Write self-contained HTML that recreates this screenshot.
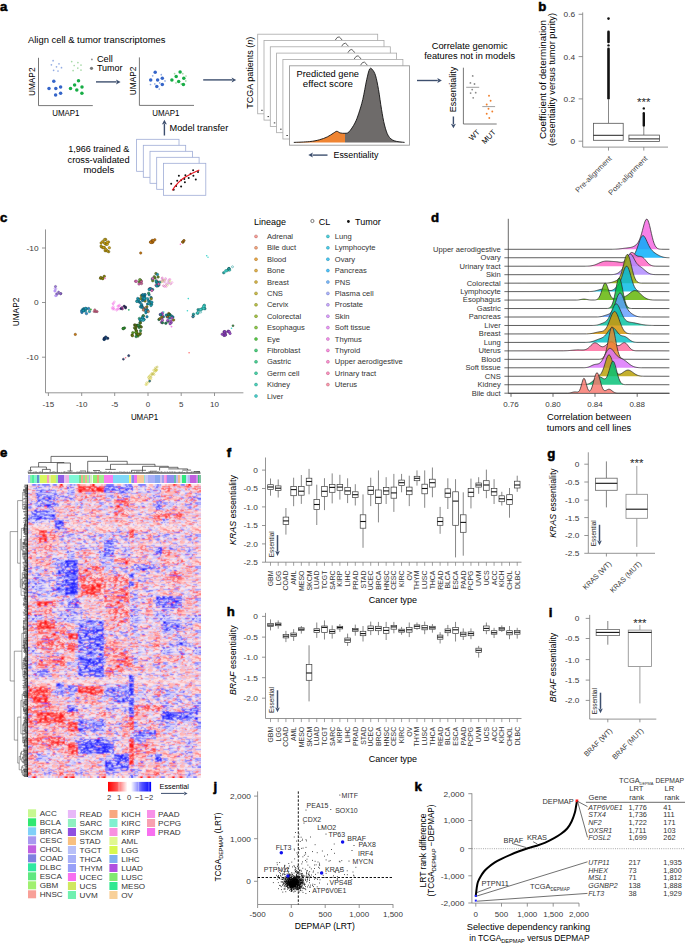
<!DOCTYPE html>
<html><head><meta charset="utf-8"><style>
html,body{margin:0;padding:0;background:#fff;}
svg{display:block;}
text{font-family:"Liberation Sans",sans-serif;}
</style></head><body>
<svg width="685" height="946" viewBox="0 0 685 946">
<rect x="0" y="0" width="685" height="946" fill="#fff"/>
<text x="0.00" y="11.40" font-size="13.2" font-weight="bold" fill="#000" stroke="#000" stroke-width="0.55">a</text>
<text x="28.00" y="43.30" font-size="8.4" textLength="137.40" lengthAdjust="spacingAndGlyphs">Align cell &amp; tumor transcriptomes</text>
<path d="M38.5,57.8 V105.6 H92.8" stroke="#555" stroke-width="0.8" fill="none"/>
<text x="34.60" y="81.80" font-size="8.4" text-anchor="middle" textLength="28.60" lengthAdjust="spacingAndGlyphs" transform="rotate(-90 34.60 81.80)">UMAP2</text>
<text x="65.80" y="115.60" font-size="8.4" text-anchor="middle" textLength="27.20" lengthAdjust="spacingAndGlyphs">UMAP1</text>
<circle cx="53.10" cy="60.70" r="0.85" fill="#93ace3"/>
<circle cx="59.00" cy="63.80" r="0.85" fill="#93ace3"/>
<circle cx="51.40" cy="64.80" r="0.85" fill="#93ace3"/>
<circle cx="56.50" cy="66.80" r="0.85" fill="#93ace3"/>
<circle cx="61.50" cy="67.70" r="0.85" fill="#93ace3"/>
<circle cx="53.60" cy="70.30" r="0.85" fill="#93ace3"/>
<circle cx="58.00" cy="71.00" r="0.85" fill="#93ace3"/>
<circle cx="71.70" cy="61.60" r="0.85" fill="#a6d9a6"/>
<circle cx="77.90" cy="62.60" r="0.85" fill="#a6d9a6"/>
<circle cx="81.00" cy="65.10" r="0.85" fill="#a6d9a6"/>
<circle cx="74.20" cy="65.50" r="0.85" fill="#a6d9a6"/>
<circle cx="77.80" cy="68.10" r="0.85" fill="#a6d9a6"/>
<circle cx="81.00" cy="70.10" r="0.85" fill="#a6d9a6"/>
<circle cx="73.10" cy="70.60" r="0.85" fill="#a6d9a6"/>
<circle cx="53.80" cy="81.30" r="1.75" fill="#3565c9"/>
<circle cx="49.00" cy="88.50" r="1.75" fill="#3565c9"/>
<circle cx="55.80" cy="88.50" r="1.75" fill="#3565c9"/>
<circle cx="60.60" cy="87.00" r="1.75" fill="#3565c9"/>
<circle cx="55.60" cy="94.90" r="1.75" fill="#3565c9"/>
<circle cx="60.60" cy="93.30" r="1.75" fill="#3565c9"/>
<circle cx="78.50" cy="80.80" r="1.75" fill="#17ad45"/>
<circle cx="74.60" cy="85.00" r="1.75" fill="#17ad45"/>
<circle cx="70.50" cy="88.50" r="1.75" fill="#17ad45"/>
<circle cx="76.80" cy="90.00" r="1.75" fill="#17ad45"/>
<circle cx="82.00" cy="87.00" r="1.75" fill="#17ad45"/>
<circle cx="81.90" cy="93.30" r="1.75" fill="#17ad45"/>
<circle cx="91.90" cy="59.40" r="0.85" fill="#888"/>
<circle cx="91.50" cy="68.30" r="1.6" fill="#777"/>
<text x="96.90" y="62.40" font-size="8.4" textLength="15.90" lengthAdjust="spacingAndGlyphs">Cell</text>
<text x="96.90" y="71.30" font-size="8.4" textLength="25.60" lengthAdjust="spacingAndGlyphs">Tumor</text>
<line x1="96.00" y1="81.90" x2="116.50" y2="81.90" stroke="#3d4f6e" stroke-width="1.4"/>
<path d="M120.60,81.90 L116.00,84.40 L117.00,81.90 L116.00,79.40 Z" stroke="none" stroke-width="0.8" fill="#3d4f6e"/>
<path d="M139.4,57.4 V105.4 H194" stroke="#555" stroke-width="0.8" fill="none"/>
<text x="135.80" y="80.90" font-size="8.4" text-anchor="middle" textLength="28.60" lengthAdjust="spacingAndGlyphs" transform="rotate(-90 135.80 80.90)">UMAP2</text>
<text x="165.80" y="115.60" font-size="8.4" text-anchor="middle" textLength="27.20" lengthAdjust="spacingAndGlyphs">UMAP1</text>
<circle cx="152.70" cy="75.80" r="0.85" fill="#93ace3"/>
<circle cx="159.70" cy="82.90" r="0.85" fill="#93ace3"/>
<circle cx="154.80" cy="83.90" r="0.85" fill="#93ace3"/>
<circle cx="165.00" cy="80.90" r="0.85" fill="#93ace3"/>
<circle cx="159.30" cy="89.00" r="0.85" fill="#93ace3"/>
<circle cx="161.30" cy="74.70" r="0.85" fill="#93ace3"/>
<circle cx="150.50" cy="84.50" r="0.85" fill="#93ace3"/>
<circle cx="174.60" cy="73.70" r="0.85" fill="#a6d9a6"/>
<circle cx="181.30" cy="83.90" r="0.85" fill="#a6d9a6"/>
<circle cx="185.80" cy="80.90" r="0.85" fill="#a6d9a6"/>
<circle cx="176.00" cy="82.90" r="0.85" fill="#a6d9a6"/>
<circle cx="182.80" cy="73.70" r="0.85" fill="#a6d9a6"/>
<circle cx="186.00" cy="76.00" r="0.85" fill="#a6d9a6"/>
<circle cx="155.20" cy="72.30" r="1.75" fill="#3565c9"/>
<circle cx="150.70" cy="79.90" r="1.75" fill="#3565c9"/>
<circle cx="157.60" cy="79.90" r="1.75" fill="#3565c9"/>
<circle cx="162.30" cy="78.20" r="1.75" fill="#3565c9"/>
<circle cx="156.80" cy="86.60" r="1.75" fill="#3565c9"/>
<circle cx="162.30" cy="84.60" r="1.75" fill="#3565c9"/>
<circle cx="180.10" cy="72.10" r="1.75" fill="#17ad45"/>
<circle cx="176.20" cy="76.40" r="1.75" fill="#17ad45"/>
<circle cx="171.90" cy="79.90" r="1.75" fill="#17ad45"/>
<circle cx="178.70" cy="81.50" r="1.75" fill="#17ad45"/>
<circle cx="183.80" cy="78.20" r="1.75" fill="#17ad45"/>
<circle cx="183.40" cy="84.60" r="1.75" fill="#17ad45"/>
<line x1="203.20" y1="79.90" x2="232.10" y2="79.90" stroke="#3d4f6e" stroke-width="1.4"/>
<path d="M236.20,79.90 L231.60,82.40 L232.60,79.90 L231.60,77.40 Z" stroke="none" stroke-width="0.8" fill="#3d4f6e"/>
<line x1="164.40" y1="135.50" x2="164.40" y2="123.90" stroke="#3d4f6e" stroke-width="1.4"/>
<path d="M164.40,119.80 L166.90,124.40 L164.40,123.40 L161.90,124.40 Z" stroke="none" stroke-width="0.8" fill="#3d4f6e"/>
<text x="169.50" y="131.40" font-size="8.4" textLength="58.80" lengthAdjust="spacingAndGlyphs">Model transfer</text>
<rect x="136.60" y="139.30" width="42.40" height="32.00" fill="#fff" stroke="#9eacd6" stroke-width="0.8"/>
<rect x="143.30" y="145.30" width="42.40" height="32.00" fill="#fff" stroke="#9eacd6" stroke-width="0.8"/>
<rect x="150.00" y="151.30" width="42.40" height="32.00" fill="#fff" stroke="#9eacd6" stroke-width="0.8"/>
<rect x="156.70" y="157.30" width="42.40" height="32.00" fill="#fff" stroke="#9eacd6" stroke-width="0.8"/>
<rect x="163.40" y="163.30" width="42.40" height="32.00" fill="#fff" stroke="#9eacd6" stroke-width="0.8"/>
<circle cx="193.10" cy="170.30" r="1.0" fill="#111"/>
<circle cx="198.00" cy="172.00" r="1.0" fill="#111"/>
<circle cx="178.90" cy="175.80" r="1.0" fill="#111"/>
<circle cx="185.40" cy="175.30" r="1.0" fill="#111"/>
<circle cx="190.60" cy="173.80" r="1.0" fill="#111"/>
<circle cx="193.40" cy="175.80" r="1.0" fill="#111"/>
<circle cx="188.70" cy="178.00" r="1.0" fill="#111"/>
<circle cx="184.30" cy="179.10" r="1.0" fill="#111"/>
<circle cx="177.20" cy="180.70" r="1.0" fill="#111"/>
<circle cx="181.10" cy="180.20" r="1.0" fill="#111"/>
<circle cx="184.90" cy="182.20" r="1.0" fill="#111"/>
<circle cx="195.80" cy="179.60" r="1.0" fill="#111"/>
<circle cx="171.20" cy="183.70" r="1.0" fill="#111"/>
<circle cx="176.10" cy="185.90" r="1.0" fill="#111"/>
<circle cx="181.10" cy="186.50" r="1.0" fill="#111"/>
<circle cx="173.70" cy="189.80" r="1.0" fill="#111"/>
<path d="M172.3,190.3 Q178,181.5 184.5,177.5 T199.3,170" stroke="#e8141c" stroke-width="1.2" fill="none"/>
<text x="98.80" y="152.20" font-size="8.4" text-anchor="middle" textLength="61.20" lengthAdjust="spacingAndGlyphs">1,966 trained &amp;</text>
<text x="98.60" y="162.70" font-size="8.4" text-anchor="middle" textLength="62.10" lengthAdjust="spacingAndGlyphs">cross-validated</text>
<text x="98.80" y="173.20" font-size="8.4" text-anchor="middle" textLength="30.80" lengthAdjust="spacingAndGlyphs">models</text>
<rect x="257.70" y="34.20" width="120.00" height="79.60" fill="#fff" stroke="#a8a8a8" stroke-width="0.8"/>
<path d="M335.2,40.2 Q337.2,36.4 339.2,36.9 Q340.7,37.9 342.2,40.2" stroke="#222" stroke-width="0.7" fill="none"/>
<line x1="261.20" y1="110.30" x2="262.70" y2="110.30" stroke="#222" stroke-width="0.9"/>
<rect x="264.00" y="40.50" width="120.00" height="79.60" fill="#fff" stroke="#a8a8a8" stroke-width="0.8"/>
<path d="M341.5,46.5 Q343.5,42.7 345.5,43.2 Q347.0,44.2 348.5,46.5" stroke="#222" stroke-width="0.7" fill="none"/>
<line x1="267.50" y1="116.60" x2="269.00" y2="116.60" stroke="#222" stroke-width="0.9"/>
<rect x="270.30" y="46.80" width="120.00" height="79.60" fill="#fff" stroke="#a8a8a8" stroke-width="0.8"/>
<path d="M347.8,52.8 Q349.8,49.0 351.8,49.5 Q353.3,50.5 354.8,52.8" stroke="#222" stroke-width="0.7" fill="none"/>
<line x1="273.80" y1="122.90" x2="275.30" y2="122.90" stroke="#222" stroke-width="0.9"/>
<rect x="276.60" y="53.10" width="120.00" height="79.60" fill="#fff" stroke="#a8a8a8" stroke-width="0.8"/>
<path d="M354.1,59.1 Q356.1,55.3 358.1,55.8 Q359.6,56.8 361.1,59.1" stroke="#222" stroke-width="0.7" fill="none"/>
<line x1="280.10" y1="129.20" x2="281.60" y2="129.20" stroke="#222" stroke-width="0.9"/>
<rect x="282.90" y="59.40" width="120.00" height="79.60" fill="#fff" stroke="#a8a8a8" stroke-width="0.8"/>
<path d="M360.4,65.4 Q362.4,61.6 364.4,62.1 Q365.9,63.1 367.4,65.4" stroke="#222" stroke-width="0.7" fill="none"/>
<line x1="286.40" y1="135.50" x2="287.90" y2="135.50" stroke="#222" stroke-width="0.9"/>
<rect x="289.50" y="65.80" width="120.00" height="79.40" fill="#fff" stroke="#9a9a9a" stroke-width="0.9"/>
<clipPath id="clipL"><rect x="280" y="60" width="65" height="90"/></clipPath>
<clipPath id="clipR"><rect x="345" y="60" width="70" height="90"/></clipPath>
<path d="M293.80,142.40 C296.43,142.27 305.33,142.03 309.60,141.60 C313.87,141.17 316.45,140.58 319.40,139.80 C322.35,139.02 325.00,137.98 327.30,136.90 C329.60,135.82 331.62,134.23 333.20,133.30 C334.78,132.37 335.65,131.37 336.80,131.30 C337.95,131.23 338.73,132.57 340.10,132.90 C341.47,133.23 343.52,133.47 345.00,133.30 C346.48,133.13 347.35,133.60 349.00,131.90 C350.65,130.20 353.27,126.22 354.90,123.10 C356.53,119.98 357.48,117.15 358.80,113.20 C360.12,109.25 361.48,104.98 362.80,99.40 C364.12,93.82 365.55,84.78 366.70,79.70 C367.85,74.62 368.72,70.53 369.70,68.90 C370.68,67.27 371.62,68.75 372.60,69.90 C373.58,71.05 374.62,72.52 375.60,75.80 C376.58,79.08 377.52,84.02 378.50,89.60 C379.48,95.18 380.50,103.40 381.50,109.30 C382.50,115.20 383.35,120.57 384.50,125.00 C385.65,129.43 386.77,133.27 388.40,135.90 C390.03,138.53 391.60,139.72 394.30,140.80 C397.00,141.88 402.88,142.13 404.60,142.40 L404.6,142.6 L293.8,142.6 Z" stroke="none" stroke-width="0.8" fill="#ef8432" clip-path="url(#clipL)"/>
<path d="M293.80,142.40 C296.43,142.27 305.33,142.03 309.60,141.60 C313.87,141.17 316.45,140.58 319.40,139.80 C322.35,139.02 325.00,137.98 327.30,136.90 C329.60,135.82 331.62,134.23 333.20,133.30 C334.78,132.37 335.65,131.37 336.80,131.30 C337.95,131.23 338.73,132.57 340.10,132.90 C341.47,133.23 343.52,133.47 345.00,133.30 C346.48,133.13 347.35,133.60 349.00,131.90 C350.65,130.20 353.27,126.22 354.90,123.10 C356.53,119.98 357.48,117.15 358.80,113.20 C360.12,109.25 361.48,104.98 362.80,99.40 C364.12,93.82 365.55,84.78 366.70,79.70 C367.85,74.62 368.72,70.53 369.70,68.90 C370.68,67.27 371.62,68.75 372.60,69.90 C373.58,71.05 374.62,72.52 375.60,75.80 C376.58,79.08 377.52,84.02 378.50,89.60 C379.48,95.18 380.50,103.40 381.50,109.30 C382.50,115.20 383.35,120.57 384.50,125.00 C385.65,129.43 386.77,133.27 388.40,135.90 C390.03,138.53 391.60,139.72 394.30,140.80 C397.00,141.88 402.88,142.13 404.60,142.40 L404.6,142.6 L293.8,142.6 Z" stroke="none" stroke-width="0.8" fill="#6e6b6a" clip-path="url(#clipR)"/>
<path d="M293.80,142.40 C296.43,142.27 305.33,142.03 309.60,141.60 C313.87,141.17 316.45,140.58 319.40,139.80 C322.35,139.02 325.00,137.98 327.30,136.90 C329.60,135.82 331.62,134.23 333.20,133.30 C334.78,132.37 335.65,131.37 336.80,131.30 C337.95,131.23 338.73,132.57 340.10,132.90 C341.47,133.23 343.52,133.47 345.00,133.30 C346.48,133.13 347.35,133.60 349.00,131.90 C350.65,130.20 353.27,126.22 354.90,123.10 C356.53,119.98 357.48,117.15 358.80,113.20 C360.12,109.25 361.48,104.98 362.80,99.40 C364.12,93.82 365.55,84.78 366.70,79.70 C367.85,74.62 368.72,70.53 369.70,68.90 C370.68,67.27 371.62,68.75 372.60,69.90 C373.58,71.05 374.62,72.52 375.60,75.80 C376.58,79.08 377.52,84.02 378.50,89.60 C379.48,95.18 380.50,103.40 381.50,109.30 C382.50,115.20 383.35,120.57 384.50,125.00 C385.65,129.43 386.77,133.27 388.40,135.90 C390.03,138.53 391.60,139.72 394.30,140.80 C397.00,141.88 402.88,142.13 404.60,142.40" stroke="#111" stroke-width="0.9" fill="none"/>
<text x="327.80" y="76.90" font-size="8.4" text-anchor="middle" textLength="62.40" lengthAdjust="spacingAndGlyphs">Predicted gene</text>
<text x="327.80" y="87.40" font-size="8.4" text-anchor="middle" textLength="50.00" lengthAdjust="spacingAndGlyphs">effect score</text>
<text x="252.80" y="72.70" font-size="8.4" text-anchor="middle" textLength="72.00" lengthAdjust="spacingAndGlyphs" transform="rotate(-90 252.80 72.70)">TCGA patients (<tspan font-style="italic">n</tspan>)</text>
<line x1="327.50" y1="155.10" x2="312.40" y2="155.10" stroke="#3d4f6e" stroke-width="1.4"/>
<path d="M308.30,155.10 L312.90,152.60 L311.90,155.10 L312.90,157.60 Z" stroke="none" stroke-width="0.8" fill="#3d4f6e"/>
<text x="333.50" y="157.90" font-size="8.4" textLength="44.90" lengthAdjust="spacingAndGlyphs">Essentiality</text>
<line x1="417.00" y1="80.50" x2="437.80" y2="80.50" stroke="#3d4f6e" stroke-width="1.4"/>
<path d="M441.90,80.50 L437.30,83.00 L438.30,80.50 L437.30,78.00 Z" stroke="none" stroke-width="0.8" fill="#3d4f6e"/>
<text x="469.70" y="48.70" font-size="8.4" text-anchor="middle" textLength="76.00" lengthAdjust="spacingAndGlyphs">Correlate genomic</text>
<text x="469.70" y="58.90" font-size="8.4" text-anchor="middle" textLength="91.00" lengthAdjust="spacingAndGlyphs">features not in models</text>
<path d="M463.4,67.7 V124 H496.7" stroke="#555" stroke-width="0.8" fill="none"/>
<text x="456.20" y="89.60" font-size="8.4" text-anchor="middle" textLength="45.50" lengthAdjust="spacingAndGlyphs" transform="rotate(-90 456.20 89.60)">Essentiality</text>
<line x1="453.40" y1="116.50" x2="453.40" y2="124.20" stroke="#3d4f6e" stroke-width="1.4"/>
<path d="M453.40,128.30 L450.90,123.70 L453.40,124.70 L455.90,123.70 Z" stroke="none" stroke-width="0.8" fill="#3d4f6e"/>
<circle cx="472.70" cy="75.90" r="0.9" fill="#8a8a8a"/>
<circle cx="470.40" cy="82.90" r="0.9" fill="#8a8a8a"/>
<circle cx="474.50" cy="84.00" r="0.9" fill="#8a8a8a"/>
<circle cx="472.20" cy="89.60" r="0.9" fill="#8a8a8a"/>
<circle cx="475.70" cy="92.70" r="0.9" fill="#8a8a8a"/>
<circle cx="470.60" cy="93.10" r="0.9" fill="#8a8a8a"/>
<circle cx="473.20" cy="97.80" r="0.9" fill="#8a8a8a"/>
<line x1="466.20" y1="87.30" x2="479.20" y2="87.30" stroke="#777" stroke-width="0.7"/>
<circle cx="489.00" cy="95.70" r="0.95" fill="#f07f2c"/>
<circle cx="490.60" cy="100.80" r="0.95" fill="#f07f2c"/>
<circle cx="486.70" cy="104.50" r="0.95" fill="#f07f2c"/>
<circle cx="488.50" cy="108.80" r="0.95" fill="#f07f2c"/>
<circle cx="492.30" cy="111.50" r="0.95" fill="#f07f2c"/>
<circle cx="486.70" cy="113.70" r="0.95" fill="#f07f2c"/>
<circle cx="489.30" cy="118.00" r="0.95" fill="#f07f2c"/>
<line x1="482.30" y1="106.60" x2="495.10" y2="106.60" stroke="#777" stroke-width="0.7"/>
<text x="480.30" y="132.60" font-size="7.6" text-anchor="end" transform="rotate(-45 480.30 132.60)">WT</text>
<text x="496.30" y="132.80" font-size="7.6" text-anchor="end" transform="rotate(-45 496.30 132.80)">MUT</text>
<text x="538.30" y="11.30" font-size="13.2" font-weight="bold" fill="#000" stroke="#000" stroke-width="0.55">b</text>
<path d="M582.7,12.4 V147.1 H668" stroke="#7a7a7a" stroke-width="0.8" fill="none"/>
<line x1="578.60" y1="14.30" x2="582.70" y2="14.30" stroke="#7a7a7a" stroke-width="0.8"/>
<text x="575.20" y="17.20" font-size="8.0" text-anchor="end" fill="#383838" textLength="11.57" lengthAdjust="spacingAndGlyphs">0.6</text>
<line x1="578.60" y1="56.60" x2="582.70" y2="56.60" stroke="#7a7a7a" stroke-width="0.8"/>
<text x="575.20" y="59.50" font-size="8.0" text-anchor="end" fill="#383838" textLength="11.57" lengthAdjust="spacingAndGlyphs">0.4</text>
<line x1="578.60" y1="98.90" x2="582.70" y2="98.90" stroke="#7a7a7a" stroke-width="0.8"/>
<text x="575.20" y="101.80" font-size="8.0" text-anchor="end" fill="#383838" textLength="11.57" lengthAdjust="spacingAndGlyphs">0.2</text>
<line x1="578.60" y1="141.20" x2="582.70" y2="141.20" stroke="#7a7a7a" stroke-width="0.8"/>
<text x="575.20" y="144.10" font-size="8.0" text-anchor="end" fill="#383838" textLength="4.63" lengthAdjust="spacingAndGlyphs">0</text>
<line x1="608.50" y1="147.10" x2="608.50" y2="150.60" stroke="#7a7a7a" stroke-width="0.8"/>
<line x1="643.80" y1="147.10" x2="643.80" y2="150.60" stroke="#7a7a7a" stroke-width="0.8"/>
<line x1="608.50" y1="123.30" x2="608.50" y2="99.60" stroke="#555" stroke-width="0.7"/>
<rect x="593.40" y="123.30" width="29.80" height="17.00" fill="#fff" stroke="#555" stroke-width="0.8"/>
<line x1="593.40" y1="135.30" x2="623.20" y2="135.30" stroke="#222" stroke-width="1.0"/>
<rect x="607.20" y="47.60" width="2.60" height="52.00" fill="#111" rx="1.3"/>
<rect x="607.20" y="30.60" width="2.60" height="12.60" fill="#111" rx="1.3"/>
<circle cx="608.50" cy="45.40" r="1.2" fill="#111"/>
<circle cx="608.50" cy="18.60" r="1.3" fill="#111"/>
<line x1="643.80" y1="135.10" x2="643.80" y2="126.70" stroke="#555" stroke-width="0.7"/>
<rect x="628.90" y="135.10" width="30.50" height="6.30" fill="#fff" stroke="#555" stroke-width="0.8"/>
<line x1="628.90" y1="138.90" x2="659.40" y2="138.90" stroke="#222" stroke-width="1.0"/>
<rect x="642.60" y="112.00" width="2.40" height="14.70" fill="#111" rx="1.2"/>
<circle cx="643.80" cy="108.40" r="1.2" fill="#111"/>
<text x="643.80" y="105.80" font-size="11.0" text-anchor="middle" fill="#222" textLength="13.40" lengthAdjust="spacingAndGlyphs">***</text>
<text x="546.40" y="79.50" font-size="8.4" text-anchor="middle" textLength="119.00" lengthAdjust="spacingAndGlyphs" transform="rotate(-90 546.40 79.50)">Coefficient of determination</text>
<text x="555.40" y="79.50" font-size="8.4" text-anchor="middle" textLength="133.00" lengthAdjust="spacingAndGlyphs" transform="rotate(-90 555.40 79.50)">(essentiality versus tumor purity)</text>
<text x="612.20" y="159.00" font-size="7.4" text-anchor="end" fill="#444" textLength="48.00" lengthAdjust="spacingAndGlyphs" transform="rotate(-45 612.20 159.00)">Pre-alignment</text>
<text x="648.10" y="159.00" font-size="7.4" text-anchor="end" fill="#444" textLength="52.00" lengthAdjust="spacingAndGlyphs" transform="rotate(-45 648.10 159.00)">Post-alignment</text>
<text x="0.00" y="221.80" font-size="13.2" font-weight="bold" fill="#000" stroke="#000" stroke-width="0.55">c</text>
<path d="M45.5,229.4 V392.8 H243.4" stroke="#7a7a7a" stroke-width="0.8" fill="none"/>
<line x1="42.00" y1="248.00" x2="45.50" y2="248.00" stroke="#7a7a7a" stroke-width="0.8"/>
<text x="38.60" y="250.90" font-size="8.0" text-anchor="end" fill="#383838" textLength="12.03" lengthAdjust="spacingAndGlyphs">-10</text>
<line x1="42.00" y1="302.50" x2="45.50" y2="302.50" stroke="#7a7a7a" stroke-width="0.8"/>
<text x="38.60" y="305.40" font-size="8.0" text-anchor="end" fill="#383838" textLength="4.63" lengthAdjust="spacingAndGlyphs">0</text>
<line x1="42.00" y1="357.20" x2="45.50" y2="357.20" stroke="#7a7a7a" stroke-width="0.8"/>
<text x="38.60" y="360.10" font-size="8.0" text-anchor="end" fill="#383838" textLength="12.03" lengthAdjust="spacingAndGlyphs">-10</text>
<line x1="48.40" y1="392.80" x2="48.40" y2="396.00" stroke="#7a7a7a" stroke-width="0.8"/>
<text x="48.40" y="406.90" font-size="8.0" text-anchor="middle" fill="#383838">-15</text>
<line x1="81.70" y1="392.80" x2="81.70" y2="396.00" stroke="#7a7a7a" stroke-width="0.8"/>
<text x="81.70" y="406.90" font-size="8.0" text-anchor="middle" fill="#383838">-10</text>
<line x1="114.70" y1="392.80" x2="114.70" y2="396.00" stroke="#7a7a7a" stroke-width="0.8"/>
<text x="114.70" y="406.90" font-size="8.0" text-anchor="middle" fill="#383838">-5</text>
<line x1="148.00" y1="392.80" x2="148.00" y2="396.00" stroke="#7a7a7a" stroke-width="0.8"/>
<text x="148.00" y="406.90" font-size="8.0" text-anchor="middle" fill="#383838">0</text>
<line x1="181.20" y1="392.80" x2="181.20" y2="396.00" stroke="#7a7a7a" stroke-width="0.8"/>
<text x="181.20" y="406.90" font-size="8.0" text-anchor="middle" fill="#383838">5</text>
<line x1="214.50" y1="392.80" x2="214.50" y2="396.00" stroke="#7a7a7a" stroke-width="0.8"/>
<text x="214.50" y="406.90" font-size="8.0" text-anchor="middle" fill="#383838">10</text>
<text x="144.50" y="419.60" font-size="8.4" text-anchor="middle" textLength="27.20" lengthAdjust="spacingAndGlyphs">UMAP1</text>
<text x="19.30" y="312.00" font-size="8.4" text-anchor="middle" textLength="28.60" lengthAdjust="spacingAndGlyphs" transform="rotate(-90 19.30 312.00)">UMAP2</text>
<circle cx="102.80" cy="241.40" r="1.25" fill="#c49c10" stroke="#584607" stroke-width="0.4"/>
<circle cx="105.66" cy="239.46" r="1.25" fill="#b89a18" stroke="#52450a" stroke-width="0.4"/>
<circle cx="105.65" cy="243.84" r="1.25" fill="#d0a818" stroke="#5d4b0a" stroke-width="0.4"/>
<circle cx="101.56" cy="247.05" r="1.25" fill="#c49c10" stroke="#584607" stroke-width="0.4"/>
<circle cx="101.09" cy="246.07" r="1.25" fill="#b89a18" stroke="#52450a" stroke-width="0.4"/>
<circle cx="106.29" cy="250.54" r="1.25" fill="#d0a818" stroke="#5d4b0a" stroke-width="0.4"/>
<circle cx="101.13" cy="242.92" r="1.25" fill="#c49c10" stroke="#584607" stroke-width="0.4"/>
<circle cx="108.70" cy="251.70" r="1.25" fill="#b89a18" stroke="#52450a" stroke-width="0.4"/>
<circle cx="106.16" cy="244.16" r="1.25" fill="#d0a818" stroke="#5d4b0a" stroke-width="0.4"/>
<circle cx="108.48" cy="241.95" r="1.25" fill="#c49c10" stroke="#584607" stroke-width="0.4"/>
<circle cx="105.13" cy="250.69" r="1.25" fill="#b89a18" stroke="#52450a" stroke-width="0.4"/>
<circle cx="103.02" cy="247.76" r="1.25" fill="#d0a818" stroke="#5d4b0a" stroke-width="0.4"/>
<circle cx="106.67" cy="243.67" r="1.25" fill="#c49c10" stroke="#584607" stroke-width="0.4"/>
<circle cx="104.63" cy="239.60" r="1.25" fill="#b89a18" stroke="#52450a" stroke-width="0.4"/>
<circle cx="107.27" cy="244.33" r="1.25" fill="#d0a818" stroke="#5d4b0a" stroke-width="0.4"/>
<circle cx="104.32" cy="247.47" r="1.25" fill="#c49c10" stroke="#584607" stroke-width="0.4"/>
<circle cx="104.60" cy="243.14" r="1.25" fill="#b89a18" stroke="#52450a" stroke-width="0.4"/>
<circle cx="109.39" cy="247.81" r="1.25" fill="#d0a818" stroke="#5d4b0a" stroke-width="0.4"/>
<circle cx="103.61" cy="247.50" r="1.25" fill="#c49c10" stroke="#584607" stroke-width="0.4"/>
<circle cx="107.44" cy="250.95" r="1.25" fill="#b89a18" stroke="#52450a" stroke-width="0.4"/>
<circle cx="107.23" cy="242.26" r="1.25" fill="#d0a818" stroke="#5d4b0a" stroke-width="0.4"/>
<circle cx="105.97" cy="249.59" r="1.25" fill="#c49c10" stroke="#584607" stroke-width="0.4"/>
<circle cx="152.21" cy="240.40" r="1.25" fill="#c97a10" stroke="#5a3607" stroke-width="0.4"/>
<circle cx="150.74" cy="241.89" r="1.25" fill="#c97a10" stroke="#5a3607" stroke-width="0.4"/>
<circle cx="152.80" cy="242.06" r="1.25" fill="#c97a10" stroke="#5a3607" stroke-width="0.4"/>
<circle cx="154.82" cy="239.82" r="1.25" fill="#c97a10" stroke="#5a3607" stroke-width="0.4"/>
<circle cx="152.52" cy="242.16" r="1.25" fill="#c97a10" stroke="#5a3607" stroke-width="0.4"/>
<circle cx="153.26" cy="240.71" r="1.25" fill="#c97a10" stroke="#5a3607" stroke-width="0.4"/>
<circle cx="151.60" cy="242.48" r="1.25" fill="#c97a10" stroke="#5a3607" stroke-width="0.4"/>
<circle cx="150.55" cy="242.23" r="1.25" fill="#c97a10" stroke="#5a3607" stroke-width="0.4"/>
<circle cx="140.70" cy="253.00" r="1.2" fill="#c97a10" stroke="#5a3607" stroke-width="0.4"/>
<circle cx="104.27" cy="276.36" r="1.25" fill="#8a8410" stroke="#3e3b07" stroke-width="0.4"/>
<circle cx="102.50" cy="278.15" r="1.25" fill="#8a8410" stroke="#3e3b07" stroke-width="0.4"/>
<circle cx="100.53" cy="278.25" r="1.25" fill="#8a8410" stroke="#3e3b07" stroke-width="0.4"/>
<circle cx="100.85" cy="277.50" r="1.25" fill="#8a8410" stroke="#3e3b07" stroke-width="0.4"/>
<circle cx="102.72" cy="278.67" r="1.25" fill="#8a8410" stroke="#3e3b07" stroke-width="0.4"/>
<circle cx="105.00" cy="278.40" r="0.8" fill="#f070c0"/>
<circle cx="54.63" cy="290.94" r="0.8800000000000001" fill="none" stroke="#a880f0" stroke-width="0.55"/>
<circle cx="55.94" cy="295.72" r="0.8800000000000001" fill="none" stroke="#a880f0" stroke-width="0.55"/>
<circle cx="56.69" cy="295.50" r="0.8800000000000001" fill="none" stroke="#a880f0" stroke-width="0.55"/>
<circle cx="55.18" cy="290.57" r="0.8800000000000001" fill="none" stroke="#a880f0" stroke-width="0.55"/>
<circle cx="55.40" cy="295.73" r="0.8800000000000001" fill="none" stroke="#a880f0" stroke-width="0.55"/>
<circle cx="54.89" cy="288.55" r="0.8800000000000001" fill="none" stroke="#a880f0" stroke-width="0.55"/>
<circle cx="55.05" cy="291.33" r="0.8800000000000001" fill="none" stroke="#a880f0" stroke-width="0.55"/>
<circle cx="56.05" cy="288.89" r="0.8800000000000001" fill="none" stroke="#a880f0" stroke-width="0.55"/>
<circle cx="56.55" cy="293.86" r="1.0" fill="#a880f0" stroke="#4b396c" stroke-width="0.4"/>
<circle cx="60.98" cy="293.43" r="1.0" fill="#9a70e0" stroke="#453264" stroke-width="0.4"/>
<circle cx="57.67" cy="293.80" r="1.0" fill="#a880f0" stroke="#4b396c" stroke-width="0.4"/>
<circle cx="58.60" cy="292.04" r="1.0" fill="#9a70e0" stroke="#453264" stroke-width="0.4"/>
<circle cx="60.63" cy="293.74" r="1.0" fill="#a880f0" stroke="#4b396c" stroke-width="0.4"/>
<circle cx="60.45" cy="293.83" r="1.0" fill="#9a70e0" stroke="#453264" stroke-width="0.4"/>
<circle cx="55.50" cy="286.50" r="1.1" fill="#9a70e0" stroke="#453264" stroke-width="0.4"/>
<circle cx="84.54" cy="310.63" r="1.25" fill="#1a9ab8" stroke="#0b4552" stroke-width="0.4"/>
<circle cx="81.93" cy="312.43" r="1.25" fill="#2a8cc8" stroke="#123f5a" stroke-width="0.4"/>
<circle cx="82.50" cy="309.64" r="1.25" fill="#28b0c0" stroke="#124f56" stroke-width="0.4"/>
<circle cx="83.69" cy="308.81" r="1.25" fill="#1a9ab8" stroke="#0b4552" stroke-width="0.4"/>
<circle cx="81.64" cy="310.94" r="1.25" fill="#2a8cc8" stroke="#123f5a" stroke-width="0.4"/>
<circle cx="86.48" cy="308.86" r="1.25" fill="#28b0c0" stroke="#124f56" stroke-width="0.4"/>
<circle cx="83.11" cy="310.59" r="1.25" fill="#1a9ab8" stroke="#0b4552" stroke-width="0.4"/>
<circle cx="84.00" cy="309.16" r="1.25" fill="#2a8cc8" stroke="#123f5a" stroke-width="0.4"/>
<circle cx="85.35" cy="310.97" r="1.25" fill="#28b0c0" stroke="#124f56" stroke-width="0.4"/>
<circle cx="83.92" cy="309.98" r="1.25" fill="#1a9ab8" stroke="#0b4552" stroke-width="0.4"/>
<circle cx="88.61" cy="308.56" r="1.25" fill="#2a8cc8" stroke="#123f5a" stroke-width="0.4"/>
<circle cx="85.63" cy="309.00" r="1.25" fill="#28b0c0" stroke="#124f56" stroke-width="0.4"/>
<circle cx="85.67" cy="308.32" r="1.25" fill="#1a9ab8" stroke="#0b4552" stroke-width="0.4"/>
<circle cx="86.44" cy="313.59" r="1.25" fill="#2a8cc8" stroke="#123f5a" stroke-width="0.4"/>
<circle cx="89.47" cy="311.45" r="1.25" fill="#28b0c0" stroke="#124f56" stroke-width="0.4"/>
<circle cx="83.22" cy="310.68" r="1.25" fill="#1a9ab8" stroke="#0b4552" stroke-width="0.4"/>
<circle cx="90.90" cy="309.50" r="0.9" fill="#40a040"/>
<circle cx="94.13" cy="311.52" r="1.1" fill="#e07090" stroke="#643240" stroke-width="0.4"/>
<circle cx="95.74" cy="311.54" r="1.1" fill="#c85a80" stroke="#5a2839" stroke-width="0.4"/>
<circle cx="94.85" cy="309.87" r="1.1" fill="#e07090" stroke="#643240" stroke-width="0.4"/>
<circle cx="97.15" cy="311.62" r="1.1" fill="#c85a80" stroke="#5a2839" stroke-width="0.4"/>
<circle cx="118.27" cy="308.70" r="0.8800000000000001" fill="none" stroke="#f47ce8" stroke-width="0.55"/>
<circle cx="113.30" cy="306.57" r="0.8800000000000001" fill="none" stroke="#f47ce8" stroke-width="0.55"/>
<circle cx="114.39" cy="301.88" r="0.8800000000000001" fill="none" stroke="#f47ce8" stroke-width="0.55"/>
<circle cx="113.58" cy="308.25" r="0.8800000000000001" fill="none" stroke="#f47ce8" stroke-width="0.55"/>
<circle cx="119.43" cy="305.89" r="0.8800000000000001" fill="none" stroke="#f47ce8" stroke-width="0.55"/>
<circle cx="119.42" cy="305.10" r="0.8800000000000001" fill="none" stroke="#f47ce8" stroke-width="0.55"/>
<circle cx="113.25" cy="303.78" r="0.8800000000000001" fill="none" stroke="#f47ce8" stroke-width="0.55"/>
<circle cx="113.05" cy="303.56" r="0.8800000000000001" fill="none" stroke="#f47ce8" stroke-width="0.55"/>
<circle cx="116.64" cy="310.24" r="0.8800000000000001" fill="none" stroke="#f47ce8" stroke-width="0.55"/>
<circle cx="118.46" cy="306.20" r="0.8800000000000001" fill="none" stroke="#f47ce8" stroke-width="0.55"/>
<circle cx="116.89" cy="309.28" r="0.8800000000000001" fill="none" stroke="#f47ce8" stroke-width="0.55"/>
<circle cx="112.11" cy="307.94" r="0.8800000000000001" fill="none" stroke="#f47ce8" stroke-width="0.55"/>
<circle cx="119.04" cy="309.11" r="0.8800000000000001" fill="none" stroke="#f47ce8" stroke-width="0.55"/>
<circle cx="117.70" cy="306.19" r="0.8800000000000001" fill="none" stroke="#f47ce8" stroke-width="0.55"/>
<circle cx="112.90" cy="309.18" r="0.8800000000000001" fill="none" stroke="#f47ce8" stroke-width="0.55"/>
<circle cx="114.19" cy="309.29" r="0.8800000000000001" fill="none" stroke="#f47ce8" stroke-width="0.55"/>
<circle cx="125.54" cy="307.03" r="1.1" fill="#2a3070" stroke="#121532" stroke-width="0.4"/>
<circle cx="122.35" cy="309.01" r="1.1" fill="#a040a0" stroke="#481c48" stroke-width="0.4"/>
<circle cx="124.16" cy="306.21" r="1.1" fill="#303060" stroke="#15152b" stroke-width="0.4"/>
<circle cx="120.92" cy="308.58" r="1.1" fill="#2a3070" stroke="#121532" stroke-width="0.4"/>
<circle cx="122.06" cy="307.58" r="1.1" fill="#a040a0" stroke="#481c48" stroke-width="0.4"/>
<circle cx="125.54" cy="307.94" r="1.1" fill="#303060" stroke="#15152b" stroke-width="0.4"/>
<circle cx="128.80" cy="309.80" r="0.9" fill="#30b070"/>
<circle cx="182.99" cy="242.07" r="1.25" fill="#a56a12" stroke="#4a2f08" stroke-width="0.4"/>
<circle cx="182.69" cy="241.94" r="1.25" fill="#a56a12" stroke="#4a2f08" stroke-width="0.4"/>
<circle cx="183.94" cy="240.62" r="1.25" fill="#a56a12" stroke="#4a2f08" stroke-width="0.4"/>
<circle cx="180.40" cy="244.30" r="0.8" fill="#ff70d0"/>
<circle cx="206.70" cy="255.70" r="0.8" fill="#3cd4cc"/>
<circle cx="208.00" cy="257.20" r="0.7" fill="#3cd4cc"/>
<circle cx="225.78" cy="270.85" r="1.25" fill="#3cd4cc" stroke="#1b5f5b" stroke-width="0.4"/>
<circle cx="229.06" cy="268.52" r="1.25" fill="#25a0a0" stroke="#104848" stroke-width="0.4"/>
<circle cx="227.08" cy="270.58" r="1.25" fill="#3cd4cc" stroke="#1b5f5b" stroke-width="0.4"/>
<circle cx="232.49" cy="266.79" r="1.0" fill="none" stroke="#25a0a0" stroke-width="0.55"/>
<circle cx="228.67" cy="269.77" r="1.25" fill="#3cd4cc" stroke="#1b5f5b" stroke-width="0.4"/>
<circle cx="223.71" cy="272.78" r="1.25" fill="#25a0a0" stroke="#104848" stroke-width="0.4"/>
<circle cx="225.30" cy="271.83" r="1.0" fill="none" stroke="#3cd4cc" stroke-width="0.55"/>
<circle cx="228.87" cy="268.89" r="1.25" fill="#25a0a0" stroke="#104848" stroke-width="0.4"/>
<circle cx="229.63" cy="270.03" r="1.25" fill="#3cd4cc" stroke="#1b5f5b" stroke-width="0.4"/>
<circle cx="228.78" cy="268.67" r="1.25" fill="#25a0a0" stroke="#104848" stroke-width="0.4"/>
<circle cx="204.15" cy="307.31" r="1.25" fill="#3cd4cc" stroke="#1b5f5b" stroke-width="0.4"/>
<circle cx="204.94" cy="308.74" r="1.25" fill="#25a0a0" stroke="#104848" stroke-width="0.4"/>
<circle cx="201.72" cy="309.13" r="1.25" fill="#40d8d0" stroke="#1c615d" stroke-width="0.4"/>
<circle cx="202.81" cy="308.04" r="1.25" fill="#3cd4cc" stroke="#1b5f5b" stroke-width="0.4"/>
<circle cx="200.73" cy="312.06" r="1.0" fill="none" stroke="#25a0a0" stroke-width="0.55"/>
<circle cx="196.50" cy="313.34" r="1.0" fill="none" stroke="#40d8d0" stroke-width="0.55"/>
<circle cx="204.29" cy="305.35" r="1.25" fill="#3cd4cc" stroke="#1b5f5b" stroke-width="0.4"/>
<circle cx="198.09" cy="309.70" r="1.25" fill="#25a0a0" stroke="#104848" stroke-width="0.4"/>
<circle cx="193.93" cy="315.82" r="1.0" fill="none" stroke="#40d8d0" stroke-width="0.55"/>
<circle cx="203.67" cy="308.44" r="1.25" fill="#3cd4cc" stroke="#1b5f5b" stroke-width="0.4"/>
<circle cx="198.43" cy="311.52" r="1.0" fill="none" stroke="#25a0a0" stroke-width="0.55"/>
<circle cx="204.23" cy="305.52" r="1.25" fill="#40d8d0" stroke="#1c615d" stroke-width="0.4"/>
<circle cx="199.85" cy="309.71" r="1.25" fill="#3cd4cc" stroke="#1b5f5b" stroke-width="0.4"/>
<circle cx="197.78" cy="313.18" r="1.25" fill="#25a0a0" stroke="#104848" stroke-width="0.4"/>
<circle cx="200.68" cy="309.59" r="1.25" fill="#40d8d0" stroke="#1c615d" stroke-width="0.4"/>
<circle cx="197.74" cy="312.72" r="1.25" fill="#3cd4cc" stroke="#1b5f5b" stroke-width="0.4"/>
<circle cx="193.44" cy="314.17" r="1.25" fill="#25a0a0" stroke="#104848" stroke-width="0.4"/>
<circle cx="203.68" cy="306.48" r="1.25" fill="#40d8d0" stroke="#1c615d" stroke-width="0.4"/>
<circle cx="193.00" cy="316.60" r="1.3" fill="#3090b0" stroke="#222" stroke-width="0.5"/>
<circle cx="188.30" cy="298.60" r="0.8" fill="#3cd4cc"/>
<circle cx="187.40" cy="310.80" r="0.8" fill="#3cd4cc"/>
<circle cx="164.41" cy="286.53" r="0.8800000000000001" fill="none" stroke="#e47cc4" stroke-width="0.55"/>
<circle cx="169.97" cy="279.34" r="0.8800000000000001" fill="none" stroke="#f090d8" stroke-width="0.55"/>
<circle cx="166.49" cy="284.20" r="0.8800000000000001" fill="none" stroke="#d070b0" stroke-width="0.55"/>
<circle cx="168.13" cy="281.18" r="0.8800000000000001" fill="none" stroke="#e0a0e0" stroke-width="0.55"/>
<circle cx="167.38" cy="285.32" r="0.8800000000000001" fill="none" stroke="#c8e070" stroke-width="0.55"/>
<circle cx="164.85" cy="280.23" r="0.8800000000000001" fill="none" stroke="#e47cc4" stroke-width="0.55"/>
<circle cx="166.24" cy="286.69" r="0.8800000000000001" fill="none" stroke="#f090d8" stroke-width="0.55"/>
<circle cx="162.25" cy="277.92" r="0.8800000000000001" fill="none" stroke="#d070b0" stroke-width="0.55"/>
<circle cx="165.88" cy="279.12" r="0.8800000000000001" fill="none" stroke="#e0a0e0" stroke-width="0.55"/>
<circle cx="162.87" cy="279.86" r="0.8800000000000001" fill="none" stroke="#c8e070" stroke-width="0.55"/>
<circle cx="169.13" cy="279.69" r="0.8800000000000001" fill="none" stroke="#e47cc4" stroke-width="0.55"/>
<circle cx="165.50" cy="278.46" r="0.8800000000000001" fill="none" stroke="#f090d8" stroke-width="0.55"/>
<circle cx="168.76" cy="282.56" r="0.8800000000000001" fill="none" stroke="#d070b0" stroke-width="0.55"/>
<circle cx="161.15" cy="281.72" r="0.8800000000000001" fill="none" stroke="#e0a0e0" stroke-width="0.55"/>
<circle cx="169.96" cy="281.25" r="0.8800000000000001" fill="none" stroke="#c8e070" stroke-width="0.55"/>
<circle cx="165.43" cy="285.68" r="0.8800000000000001" fill="none" stroke="#e47cc4" stroke-width="0.55"/>
<circle cx="164.00" cy="282.07" r="0.8800000000000001" fill="none" stroke="#f090d8" stroke-width="0.55"/>
<circle cx="163.30" cy="285.66" r="0.8800000000000001" fill="none" stroke="#d070b0" stroke-width="0.55"/>
<circle cx="168.39" cy="283.50" r="0.8800000000000001" fill="none" stroke="#e0a0e0" stroke-width="0.55"/>
<circle cx="164.17" cy="280.32" r="0.8800000000000001" fill="none" stroke="#c8e070" stroke-width="0.55"/>
<circle cx="159.49" cy="284.65" r="0.8800000000000001" fill="none" stroke="#e47cc4" stroke-width="0.55"/>
<circle cx="162.08" cy="278.30" r="0.8800000000000001" fill="none" stroke="#f090d8" stroke-width="0.55"/>
<circle cx="170.69" cy="283.88" r="0.8800000000000001" fill="none" stroke="#d070b0" stroke-width="0.55"/>
<circle cx="162.45" cy="279.16" r="0.8800000000000001" fill="none" stroke="#e0a0e0" stroke-width="0.55"/>
<circle cx="162.60" cy="281.55" r="0.8800000000000001" fill="none" stroke="#c8e070" stroke-width="0.55"/>
<circle cx="160.71" cy="281.40" r="0.8800000000000001" fill="none" stroke="#e47cc4" stroke-width="0.55"/>
<circle cx="172.12" cy="282.52" r="0.8800000000000001" fill="none" stroke="#f090d8" stroke-width="0.55"/>
<circle cx="162.83" cy="280.42" r="0.8800000000000001" fill="none" stroke="#d070b0" stroke-width="0.55"/>
<circle cx="165.15" cy="282.03" r="0.8800000000000001" fill="none" stroke="#e0a0e0" stroke-width="0.55"/>
<circle cx="161.31" cy="282.05" r="0.8800000000000001" fill="none" stroke="#c8e070" stroke-width="0.55"/>
<circle cx="152.31" cy="279.09" r="1.25" fill="#1a9ab8" stroke="#0b4552" stroke-width="0.4"/>
<circle cx="154.24" cy="276.76" r="1.25" fill="#6a8a30" stroke="#2f3e15" stroke-width="0.4"/>
<circle cx="156.77" cy="280.91" r="1.25" fill="#de6cb8" stroke="#633052" stroke-width="0.4"/>
<circle cx="158.25" cy="282.71" r="1.25" fill="#20a0a0" stroke="#0e4848" stroke-width="0.4"/>
<circle cx="157.94" cy="285.81" r="1.25" fill="#1a9ab8" stroke="#0b4552" stroke-width="0.4"/>
<circle cx="155.01" cy="278.07" r="1.25" fill="#6a8a30" stroke="#2f3e15" stroke-width="0.4"/>
<circle cx="158.02" cy="282.51" r="1.25" fill="#de6cb8" stroke="#633052" stroke-width="0.4"/>
<circle cx="159.53" cy="282.28" r="1.25" fill="#20a0a0" stroke="#0e4848" stroke-width="0.4"/>
<circle cx="158.10" cy="284.87" r="1.25" fill="#1a9ab8" stroke="#0b4552" stroke-width="0.4"/>
<circle cx="152.75" cy="280.83" r="1.25" fill="#6a8a30" stroke="#2f3e15" stroke-width="0.4"/>
<circle cx="156.04" cy="285.19" r="1.25" fill="#de6cb8" stroke="#633052" stroke-width="0.4"/>
<circle cx="158.74" cy="285.07" r="1.25" fill="#20a0a0" stroke="#0e4848" stroke-width="0.4"/>
<circle cx="156.76" cy="286.00" r="1.25" fill="#1a9ab8" stroke="#0b4552" stroke-width="0.4"/>
<circle cx="157.65" cy="283.21" r="1.25" fill="#6a8a30" stroke="#2f3e15" stroke-width="0.4"/>
<circle cx="152.70" cy="278.55" r="1.25" fill="#de6cb8" stroke="#633052" stroke-width="0.4"/>
<circle cx="156.53" cy="282.29" r="1.25" fill="#20a0a0" stroke="#0e4848" stroke-width="0.4"/>
<circle cx="157.14" cy="283.03" r="1.25" fill="#1a9ab8" stroke="#0b4552" stroke-width="0.4"/>
<circle cx="155.90" cy="273.55" r="1.25" fill="#6a8a30" stroke="#2f3e15" stroke-width="0.4"/>
<circle cx="158.68" cy="283.98" r="1.25" fill="#de6cb8" stroke="#633052" stroke-width="0.4"/>
<circle cx="156.03" cy="280.99" r="1.25" fill="#20a0a0" stroke="#0e4848" stroke-width="0.4"/>
<circle cx="157.43" cy="274.42" r="1.25" fill="#1a9ab8" stroke="#0b4552" stroke-width="0.4"/>
<circle cx="158.13" cy="277.03" r="1.25" fill="#6a8a30" stroke="#2f3e15" stroke-width="0.4"/>
<circle cx="135.63" cy="281.30" r="1.25" fill="#de6cb8" stroke="#633052" stroke-width="0.4"/>
<circle cx="141.13" cy="280.91" r="1.25" fill="#c86098" stroke="#5a2b44" stroke-width="0.4"/>
<circle cx="139.15" cy="282.05" r="1.25" fill="#70a040" stroke="#32481c" stroke-width="0.4"/>
<circle cx="139.02" cy="283.98" r="1.25" fill="#de6cb8" stroke="#633052" stroke-width="0.4"/>
<circle cx="141.44" cy="283.55" r="1.25" fill="#c86098" stroke="#5a2b44" stroke-width="0.4"/>
<circle cx="140.40" cy="280.10" r="1.25" fill="#70a040" stroke="#32481c" stroke-width="0.4"/>
<circle cx="136.24" cy="281.23" r="1.25" fill="#de6cb8" stroke="#633052" stroke-width="0.4"/>
<circle cx="141.24" cy="281.55" r="1.25" fill="#c86098" stroke="#5a2b44" stroke-width="0.4"/>
<circle cx="139.77" cy="279.68" r="1.25" fill="#70a040" stroke="#32481c" stroke-width="0.4"/>
<circle cx="137.77" cy="298.49" r="1.25" fill="#1a9ab8" stroke="#0b4552" stroke-width="0.4"/>
<circle cx="147.55" cy="304.00" r="1.25" fill="#1480a0" stroke="#093948" stroke-width="0.4"/>
<circle cx="147.61" cy="298.78" r="1.25" fill="#20a0b0" stroke="#0e484f" stroke-width="0.4"/>
<circle cx="145.06" cy="301.04" r="1.25" fill="#8a8a20" stroke="#3e3e0e" stroke-width="0.4"/>
<circle cx="144.26" cy="296.54" r="1.25" fill="#1a9ab8" stroke="#0b4552" stroke-width="0.4"/>
<circle cx="151.10" cy="297.59" r="1.25" fill="#1480a0" stroke="#093948" stroke-width="0.4"/>
<circle cx="137.08" cy="300.97" r="1.25" fill="#20a0b0" stroke="#0e484f" stroke-width="0.4"/>
<circle cx="143.99" cy="298.49" r="1.25" fill="#8a8a20" stroke="#3e3e0e" stroke-width="0.4"/>
<circle cx="140.17" cy="302.56" r="1.25" fill="#1a9ab8" stroke="#0b4552" stroke-width="0.4"/>
<circle cx="139.07" cy="301.81" r="1.25" fill="#1480a0" stroke="#093948" stroke-width="0.4"/>
<circle cx="149.92" cy="301.61" r="1.25" fill="#20a0b0" stroke="#0e484f" stroke-width="0.4"/>
<circle cx="150.99" cy="304.14" r="1.25" fill="#8a8a20" stroke="#3e3e0e" stroke-width="0.4"/>
<circle cx="140.50" cy="306.67" r="1.25" fill="#1a9ab8" stroke="#0b4552" stroke-width="0.4"/>
<circle cx="144.58" cy="295.32" r="1.25" fill="#1480a0" stroke="#093948" stroke-width="0.4"/>
<circle cx="136.86" cy="301.39" r="1.25" fill="#20a0b0" stroke="#0e484f" stroke-width="0.4"/>
<circle cx="144.01" cy="298.93" r="1.25" fill="#8a8a20" stroke="#3e3e0e" stroke-width="0.4"/>
<circle cx="139.05" cy="299.47" r="1.25" fill="#1a9ab8" stroke="#0b4552" stroke-width="0.4"/>
<circle cx="141.86" cy="305.92" r="1.25" fill="#1480a0" stroke="#093948" stroke-width="0.4"/>
<circle cx="151.62" cy="304.27" r="1.25" fill="#20a0b0" stroke="#0e484f" stroke-width="0.4"/>
<circle cx="151.23" cy="298.77" r="1.25" fill="#8a8a20" stroke="#3e3e0e" stroke-width="0.4"/>
<circle cx="142.76" cy="300.11" r="1.25" fill="#1a9ab8" stroke="#0b4552" stroke-width="0.4"/>
<circle cx="142.57" cy="300.56" r="1.25" fill="#1480a0" stroke="#093948" stroke-width="0.4"/>
<circle cx="141.37" cy="307.16" r="1.25" fill="#20a0b0" stroke="#0e484f" stroke-width="0.4"/>
<circle cx="140.79" cy="298.45" r="1.25" fill="#8a8a20" stroke="#3e3e0e" stroke-width="0.4"/>
<circle cx="144.98" cy="297.47" r="1.25" fill="#1a9ab8" stroke="#0b4552" stroke-width="0.4"/>
<circle cx="142.77" cy="307.43" r="1.25" fill="#1480a0" stroke="#093948" stroke-width="0.4"/>
<circle cx="150.95" cy="305.56" r="1.25" fill="#20a0b0" stroke="#0e484f" stroke-width="0.4"/>
<circle cx="146.89" cy="306.87" r="1.25" fill="#8a8a20" stroke="#3e3e0e" stroke-width="0.4"/>
<circle cx="151.85" cy="302.14" r="1.25" fill="#1a9ab8" stroke="#0b4552" stroke-width="0.4"/>
<circle cx="148.52" cy="300.86" r="1.25" fill="#1480a0" stroke="#093948" stroke-width="0.4"/>
<circle cx="148.84" cy="303.38" r="1.25" fill="#20a0b0" stroke="#0e484f" stroke-width="0.4"/>
<circle cx="141.38" cy="295.64" r="1.25" fill="#8a8a20" stroke="#3e3e0e" stroke-width="0.4"/>
<circle cx="144.35" cy="299.47" r="1.25" fill="#1a9ab8" stroke="#0b4552" stroke-width="0.4"/>
<circle cx="141.56" cy="304.61" r="1.25" fill="#1480a0" stroke="#093948" stroke-width="0.4"/>
<circle cx="147.59" cy="310.31" r="1.25" fill="#1a9ab8" stroke="#0b4552" stroke-width="0.4"/>
<circle cx="146.90" cy="311.34" r="1.25" fill="#2090b8" stroke="#0e4052" stroke-width="0.4"/>
<circle cx="144.17" cy="308.78" r="1.25" fill="#c08060" stroke="#56392b" stroke-width="0.4"/>
<circle cx="146.48" cy="309.42" r="1.25" fill="#1a9ab8" stroke="#0b4552" stroke-width="0.4"/>
<circle cx="146.15" cy="308.54" r="1.25" fill="#2090b8" stroke="#0e4052" stroke-width="0.4"/>
<circle cx="145.39" cy="308.00" r="1.25" fill="#c08060" stroke="#56392b" stroke-width="0.4"/>
<circle cx="144.67" cy="309.84" r="1.25" fill="#1a9ab8" stroke="#0b4552" stroke-width="0.4"/>
<circle cx="146.99" cy="316.76" r="1.25" fill="#2090b8" stroke="#0e4052" stroke-width="0.4"/>
<circle cx="148.25" cy="311.54" r="1.25" fill="#c08060" stroke="#56392b" stroke-width="0.4"/>
<circle cx="145.90" cy="312.77" r="1.25" fill="#1a9ab8" stroke="#0b4552" stroke-width="0.4"/>
<circle cx="145.64" cy="310.72" r="1.25" fill="#2090b8" stroke="#0e4052" stroke-width="0.4"/>
<circle cx="143.43" cy="310.05" r="1.25" fill="#c08060" stroke="#56392b" stroke-width="0.4"/>
<circle cx="140.52" cy="320.78" r="1.25" fill="#1a9ab8" stroke="#0b4552" stroke-width="0.4"/>
<circle cx="142.31" cy="318.30" r="1.25" fill="#30b0c0" stroke="#154f56" stroke-width="0.4"/>
<circle cx="139.36" cy="318.49" r="1.25" fill="#40b080" stroke="#1c4f39" stroke-width="0.4"/>
<circle cx="140.00" cy="319.68" r="1.25" fill="#1a9ab8" stroke="#0b4552" stroke-width="0.4"/>
<circle cx="142.48" cy="319.84" r="1.25" fill="#30b0c0" stroke="#154f56" stroke-width="0.4"/>
<circle cx="139.96" cy="322.56" r="1.25" fill="#40b080" stroke="#1c4f39" stroke-width="0.4"/>
<circle cx="137.96" cy="336.12" r="1.25" fill="#5a9a20" stroke="#28450e" stroke-width="0.4"/>
<circle cx="136.04" cy="332.55" r="1.25" fill="#6a7a10" stroke="#2f3607" stroke-width="0.4"/>
<circle cx="139.77" cy="334.56" r="1.25" fill="#2f8a4a" stroke="#153e21" stroke-width="0.4"/>
<circle cx="136.77" cy="334.19" r="1.25" fill="#557018" stroke="#26320a" stroke-width="0.4"/>
<circle cx="136.12" cy="330.41" r="1.25" fill="#5a9a20" stroke="#28450e" stroke-width="0.4"/>
<circle cx="132.05" cy="335.04" r="1.25" fill="#6a7a10" stroke="#2f3607" stroke-width="0.4"/>
<circle cx="139.21" cy="327.42" r="1.25" fill="#2f8a4a" stroke="#153e21" stroke-width="0.4"/>
<circle cx="134.63" cy="324.89" r="1.25" fill="#557018" stroke="#26320a" stroke-width="0.4"/>
<circle cx="137.02" cy="333.18" r="1.25" fill="#5a9a20" stroke="#28450e" stroke-width="0.4"/>
<circle cx="136.59" cy="331.10" r="1.25" fill="#6a7a10" stroke="#2f3607" stroke-width="0.4"/>
<circle cx="137.22" cy="325.37" r="1.25" fill="#2f8a4a" stroke="#153e21" stroke-width="0.4"/>
<circle cx="140.36" cy="322.97" r="1.25" fill="#557018" stroke="#26320a" stroke-width="0.4"/>
<circle cx="135.14" cy="328.54" r="1.25" fill="#5a9a20" stroke="#28450e" stroke-width="0.4"/>
<circle cx="140.34" cy="333.49" r="1.25" fill="#6a7a10" stroke="#2f3607" stroke-width="0.4"/>
<circle cx="140.54" cy="330.75" r="1.25" fill="#2f8a4a" stroke="#153e21" stroke-width="0.4"/>
<circle cx="135.66" cy="325.18" r="1.25" fill="#557018" stroke="#26320a" stroke-width="0.4"/>
<circle cx="135.85" cy="332.35" r="1.25" fill="#5a9a20" stroke="#28450e" stroke-width="0.4"/>
<circle cx="137.34" cy="325.97" r="1.25" fill="#6a7a10" stroke="#2f3607" stroke-width="0.4"/>
<circle cx="136.10" cy="336.60" r="1.25" fill="#2f8a4a" stroke="#153e21" stroke-width="0.4"/>
<circle cx="135.70" cy="328.08" r="1.25" fill="#557018" stroke="#26320a" stroke-width="0.4"/>
<circle cx="140.13" cy="326.00" r="1.25" fill="#5a9a20" stroke="#28450e" stroke-width="0.4"/>
<circle cx="138.32" cy="334.32" r="1.25" fill="#6a7a10" stroke="#2f3607" stroke-width="0.4"/>
<circle cx="138.42" cy="325.50" r="1.25" fill="#2f8a4a" stroke="#153e21" stroke-width="0.4"/>
<circle cx="141.24" cy="326.95" r="1.25" fill="#557018" stroke="#26320a" stroke-width="0.4"/>
<circle cx="132.79" cy="332.67" r="1.25" fill="#5a9a20" stroke="#28450e" stroke-width="0.4"/>
<circle cx="132.46" cy="335.72" r="1.25" fill="#6a7a10" stroke="#2f3607" stroke-width="0.4"/>
<circle cx="138.43" cy="325.20" r="1.25" fill="#2f8a4a" stroke="#153e21" stroke-width="0.4"/>
<circle cx="134.64" cy="327.64" r="1.25" fill="#557018" stroke="#26320a" stroke-width="0.4"/>
<circle cx="149.14" cy="294.82" r="1.25" fill="#1a9ab8" stroke="#0b4552" stroke-width="0.4"/>
<circle cx="149.80" cy="289.00" r="1.25" fill="#2a9a70" stroke="#124532" stroke-width="0.4"/>
<circle cx="149.52" cy="288.86" r="1.25" fill="#de6cb8" stroke="#633052" stroke-width="0.4"/>
<circle cx="152.63" cy="289.61" r="1.25" fill="#1a9ab8" stroke="#0b4552" stroke-width="0.4"/>
<circle cx="151.55" cy="289.65" r="1.25" fill="#2a9a70" stroke="#124532" stroke-width="0.4"/>
<circle cx="150.80" cy="288.78" r="1.25" fill="#de6cb8" stroke="#633052" stroke-width="0.4"/>
<circle cx="150.41" cy="288.82" r="1.25" fill="#1a9ab8" stroke="#0b4552" stroke-width="0.4"/>
<circle cx="148.67" cy="293.20" r="1.25" fill="#2a9a70" stroke="#124532" stroke-width="0.4"/>
<circle cx="151.84" cy="290.38" r="1.25" fill="#de6cb8" stroke="#633052" stroke-width="0.4"/>
<circle cx="149.14" cy="289.57" r="1.25" fill="#1a9ab8" stroke="#0b4552" stroke-width="0.4"/>
<circle cx="143.04" cy="298.52" r="1.25" fill="#1a9ab8" stroke="#0b4552" stroke-width="0.4"/>
<circle cx="142.39" cy="295.19" r="1.25" fill="#1480a0" stroke="#093948" stroke-width="0.4"/>
<circle cx="143.18" cy="297.87" r="1.25" fill="#1a9ab8" stroke="#0b4552" stroke-width="0.4"/>
<circle cx="145.01" cy="294.54" r="1.25" fill="#1480a0" stroke="#093948" stroke-width="0.4"/>
<circle cx="144.39" cy="298.39" r="1.25" fill="#1a9ab8" stroke="#0b4552" stroke-width="0.4"/>
<circle cx="142.92" cy="294.63" r="1.25" fill="#1480a0" stroke="#093948" stroke-width="0.4"/>
<circle cx="144.02" cy="319.49" r="1.25" fill="#1a9ab8" stroke="#0b4552" stroke-width="0.4"/>
<circle cx="141.62" cy="319.57" r="1.25" fill="#30b0c0" stroke="#154f56" stroke-width="0.4"/>
<circle cx="143.14" cy="315.90" r="1.25" fill="#3a8a50" stroke="#1a3e24" stroke-width="0.4"/>
<circle cx="143.84" cy="319.59" r="1.25" fill="#1a9ab8" stroke="#0b4552" stroke-width="0.4"/>
<circle cx="142.28" cy="317.50" r="1.25" fill="#30b0c0" stroke="#154f56" stroke-width="0.4"/>
<circle cx="143.43" cy="315.77" r="1.25" fill="#3a8a50" stroke="#1a3e24" stroke-width="0.4"/>
<circle cx="142.81" cy="317.87" r="1.25" fill="#1a9ab8" stroke="#0b4552" stroke-width="0.4"/>
<circle cx="143.18" cy="320.35" r="1.25" fill="#30b0c0" stroke="#154f56" stroke-width="0.4"/>
<circle cx="171.23" cy="322.62" r="1.25" fill="#a050d0" stroke="#48245d" stroke-width="0.4"/>
<circle cx="167.87" cy="316.39" r="1.25" fill="#8a7a18" stroke="#3e360a" stroke-width="0.4"/>
<circle cx="163.38" cy="316.87" r="1.25" fill="#1a8aa0" stroke="#0b3e48" stroke-width="0.4"/>
<circle cx="161.48" cy="322.34" r="1.25" fill="#b060c8" stroke="#4f2b5a" stroke-width="0.4"/>
<circle cx="158.93" cy="319.54" r="1.25" fill="#207a50" stroke="#0e3624" stroke-width="0.4"/>
<circle cx="162.53" cy="312.98" r="1.25" fill="#a050d0" stroke="#48245d" stroke-width="0.4"/>
<circle cx="159.90" cy="318.78" r="1.25" fill="#8a7a18" stroke="#3e360a" stroke-width="0.4"/>
<circle cx="169.47" cy="318.06" r="1.25" fill="#1a8aa0" stroke="#0b3e48" stroke-width="0.4"/>
<circle cx="162.05" cy="317.64" r="1.25" fill="#b060c8" stroke="#4f2b5a" stroke-width="0.4"/>
<circle cx="168.08" cy="321.24" r="1.25" fill="#207a50" stroke="#0e3624" stroke-width="0.4"/>
<circle cx="170.07" cy="323.66" r="1.25" fill="#a050d0" stroke="#48245d" stroke-width="0.4"/>
<circle cx="168.77" cy="313.50" r="1.25" fill="#8a7a18" stroke="#3e360a" stroke-width="0.4"/>
<circle cx="171.52" cy="315.91" r="1.25" fill="#1a8aa0" stroke="#0b3e48" stroke-width="0.4"/>
<circle cx="167.24" cy="317.02" r="1.25" fill="#b060c8" stroke="#4f2b5a" stroke-width="0.4"/>
<circle cx="169.91" cy="314.59" r="1.25" fill="#207a50" stroke="#0e3624" stroke-width="0.4"/>
<circle cx="162.26" cy="315.23" r="1.25" fill="#a050d0" stroke="#48245d" stroke-width="0.4"/>
<circle cx="167.42" cy="316.37" r="1.25" fill="#8a7a18" stroke="#3e360a" stroke-width="0.4"/>
<circle cx="166.31" cy="315.04" r="1.25" fill="#1a8aa0" stroke="#0b3e48" stroke-width="0.4"/>
<circle cx="171.01" cy="320.95" r="1.25" fill="#b060c8" stroke="#4f2b5a" stroke-width="0.4"/>
<circle cx="165.81" cy="323.27" r="1.25" fill="#207a50" stroke="#0e3624" stroke-width="0.4"/>
<circle cx="160.26" cy="314.45" r="1.25" fill="#a050d0" stroke="#48245d" stroke-width="0.4"/>
<circle cx="173.58" cy="319.96" r="1.25" fill="#8a7a18" stroke="#3e360a" stroke-width="0.4"/>
<circle cx="172.91" cy="317.01" r="1.25" fill="#1a8aa0" stroke="#0b3e48" stroke-width="0.4"/>
<circle cx="171.91" cy="318.09" r="1.25" fill="#b060c8" stroke="#4f2b5a" stroke-width="0.4"/>
<circle cx="162.46" cy="322.69" r="1.25" fill="#207a50" stroke="#0e3624" stroke-width="0.4"/>
<circle cx="167.70" cy="320.48" r="1.25" fill="#a050d0" stroke="#48245d" stroke-width="0.4"/>
<circle cx="161.80" cy="316.96" r="1.25" fill="#8a7a18" stroke="#3e360a" stroke-width="0.4"/>
<circle cx="160.61" cy="314.66" r="1.25" fill="#1a8aa0" stroke="#0b3e48" stroke-width="0.4"/>
<circle cx="162.38" cy="320.19" r="1.25" fill="#b060c8" stroke="#4f2b5a" stroke-width="0.4"/>
<circle cx="168.57" cy="314.65" r="1.25" fill="#207a50" stroke="#0e3624" stroke-width="0.4"/>
<circle cx="171.50" cy="326.60" r="0.9" fill="#f47ce8"/>
<circle cx="163.70" cy="312.00" r="0.8" fill="#3cd4cc"/>
<circle cx="228.61" cy="331.63" r="1.25" fill="#a050d0" stroke="#48245d" stroke-width="0.4"/>
<circle cx="224.07" cy="331.72" r="1.25" fill="#8a40c0" stroke="#3e1c56" stroke-width="0.4"/>
<circle cx="230.06" cy="333.44" r="1.25" fill="#a050d0" stroke="#48245d" stroke-width="0.4"/>
<circle cx="225.10" cy="333.45" r="1.25" fill="#a050d0" stroke="#48245d" stroke-width="0.4"/>
<circle cx="228.13" cy="331.16" r="1.25" fill="#8a40c0" stroke="#3e1c56" stroke-width="0.4"/>
<circle cx="222.23" cy="334.18" r="1.25" fill="#a050d0" stroke="#48245d" stroke-width="0.4"/>
<circle cx="225.28" cy="332.12" r="1.25" fill="#a050d0" stroke="#48245d" stroke-width="0.4"/>
<circle cx="224.01" cy="335.47" r="1.25" fill="#8a40c0" stroke="#3e1c56" stroke-width="0.4"/>
<circle cx="224.07" cy="333.53" r="1.25" fill="#a050d0" stroke="#48245d" stroke-width="0.4"/>
<circle cx="224.63" cy="332.78" r="1.25" fill="#a050d0" stroke="#48245d" stroke-width="0.4"/>
<circle cx="224.71" cy="331.69" r="1.25" fill="#8a40c0" stroke="#3e1c56" stroke-width="0.4"/>
<circle cx="229.23" cy="331.72" r="1.25" fill="#a050d0" stroke="#48245d" stroke-width="0.4"/>
<circle cx="225.45" cy="334.80" r="1.25" fill="#a050d0" stroke="#48245d" stroke-width="0.4"/>
<circle cx="225.24" cy="335.11" r="1.25" fill="#8a40c0" stroke="#3e1c56" stroke-width="0.4"/>
<circle cx="233.00" cy="325.70" r="1.0" fill="#40a040" stroke="#222" stroke-width="0.4"/>
<circle cx="231.50" cy="328.20" r="0.8" fill="#3cd4cc"/>
<circle cx="75.30" cy="334.40" r="1.2" fill="#c97a10" stroke="#5a3607" stroke-width="0.4"/>
<circle cx="105.72" cy="337.10" r="1.25" fill="#204a80" stroke="#0e2139" stroke-width="0.4"/>
<circle cx="103.95" cy="339.38" r="1.25" fill="#2a6aa0" stroke="#122f48" stroke-width="0.4"/>
<circle cx="107.70" cy="338.37" r="1.25" fill="#183060" stroke="#0a152b" stroke-width="0.4"/>
<circle cx="104.44" cy="339.33" r="1.25" fill="#204a80" stroke="#0e2139" stroke-width="0.4"/>
<circle cx="105.74" cy="338.20" r="1.25" fill="#2a6aa0" stroke="#122f48" stroke-width="0.4"/>
<circle cx="104.26" cy="338.34" r="1.25" fill="#183060" stroke="#0a152b" stroke-width="0.4"/>
<circle cx="123.40" cy="359.20" r="1.0" fill="#3a4a90" stroke="#222" stroke-width="0.4"/>
<circle cx="125.60" cy="357.80" r="0.8" fill="#f07090"/>
<circle cx="128.70" cy="355.70" r="1.1" fill="#2a4a90" stroke="#222" stroke-width="0.45"/>
<circle cx="189.10" cy="352.80" r="0.8" fill="#ff7070"/>
<circle cx="145.90" cy="384.61" r="0.8800000000000001" fill="none" stroke="#d2c84a" stroke-width="0.55"/>
<circle cx="150.34" cy="375.04" r="0.8800000000000001" fill="none" stroke="#e0d860" stroke-width="0.55"/>
<circle cx="155.37" cy="367.89" r="0.8800000000000001" fill="none" stroke="#c8c040" stroke-width="0.55"/>
<circle cx="157.19" cy="366.98" r="0.8800000000000001" fill="none" stroke="#b8b030" stroke-width="0.55"/>
<circle cx="154.15" cy="374.58" r="0.8800000000000001" fill="none" stroke="#d2c84a" stroke-width="0.55"/>
<circle cx="151.05" cy="379.21" r="0.8800000000000001" fill="none" stroke="#e0d860" stroke-width="0.55"/>
<circle cx="156.82" cy="369.80" r="0.8800000000000001" fill="none" stroke="#c8c040" stroke-width="0.55"/>
<circle cx="155.90" cy="370.97" r="0.8800000000000001" fill="none" stroke="#b8b030" stroke-width="0.55"/>
<circle cx="146.58" cy="382.78" r="0.8800000000000001" fill="none" stroke="#d2c84a" stroke-width="0.55"/>
<circle cx="156.54" cy="370.26" r="0.8800000000000001" fill="none" stroke="#e0d860" stroke-width="0.55"/>
<circle cx="151.86" cy="373.43" r="0.8800000000000001" fill="none" stroke="#c8c040" stroke-width="0.55"/>
<circle cx="152.98" cy="373.69" r="0.8800000000000001" fill="none" stroke="#b8b030" stroke-width="0.55"/>
<circle cx="153.57" cy="370.17" r="0.8800000000000001" fill="none" stroke="#d2c84a" stroke-width="0.55"/>
<circle cx="146.89" cy="384.44" r="0.8800000000000001" fill="none" stroke="#e0d860" stroke-width="0.55"/>
<circle cx="149.20" cy="376.36" r="0.8800000000000001" fill="none" stroke="#c8c040" stroke-width="0.55"/>
<circle cx="151.05" cy="377.20" r="0.8800000000000001" fill="none" stroke="#b8b030" stroke-width="0.55"/>
<circle cx="154.32" cy="372.35" r="0.8800000000000001" fill="none" stroke="#d2c84a" stroke-width="0.55"/>
<circle cx="150.08" cy="377.51" r="0.8800000000000001" fill="none" stroke="#e0d860" stroke-width="0.55"/>
<circle cx="149.10" cy="379.05" r="0.8800000000000001" fill="none" stroke="#c8c040" stroke-width="0.55"/>
<circle cx="152.05" cy="374.65" r="0.8800000000000001" fill="none" stroke="#b8b030" stroke-width="0.55"/>
<circle cx="148.41" cy="377.46" r="0.8800000000000001" fill="none" stroke="#d2c84a" stroke-width="0.55"/>
<circle cx="154.83" cy="370.65" r="0.8800000000000001" fill="none" stroke="#e0d860" stroke-width="0.55"/>
<circle cx="148.54" cy="382.15" r="0.8800000000000001" fill="none" stroke="#c8c040" stroke-width="0.55"/>
<circle cx="155.46" cy="369.47" r="0.8800000000000001" fill="none" stroke="#b8b030" stroke-width="0.55"/>
<circle cx="149.70" cy="381.10" r="1.0" fill="#20a0a0" stroke="#222" stroke-width="0.4"/>
<circle cx="124.50" cy="327.91" r="1.25" fill="#309030" stroke="#154015" stroke-width="0.4"/>
<circle cx="123.26" cy="328.56" r="1.25" fill="#309030" stroke="#154015" stroke-width="0.4"/>
<circle cx="123.13" cy="328.58" r="1.25" fill="#309030" stroke="#154015" stroke-width="0.4"/>
<text x="254.00" y="224.60" font-size="8.4" textLength="31.90" lengthAdjust="spacingAndGlyphs">Lineage</text>
<circle cx="312.40" cy="221.00" r="1.6" fill="none" stroke="#444" stroke-width="0.7"/>
<text x="318.70" y="224.60" font-size="8.4" textLength="11.49" lengthAdjust="spacingAndGlyphs">CL</text>
<circle cx="348.40" cy="221.50" r="1.4" fill="#111"/>
<text x="355.10" y="224.60" font-size="8.4" textLength="25.63" lengthAdjust="spacingAndGlyphs">Tumor</text>
<circle cx="256.00" cy="236.40" r="1.5" fill="#f8766d" stroke="#944641" stroke-width="0.35" fill-opacity="0.7"/>
<text x="266.90" y="238.90" font-size="7.0" fill="#333" textLength="26.18" lengthAdjust="spacingAndGlyphs">Adrenal</text>
<circle cx="256.00" cy="247.80" r="1.5" fill="#ef7f48" stroke="#8f4c2b" stroke-width="0.35" fill-opacity="0.7"/>
<text x="266.90" y="250.30" font-size="7.0" fill="#333" textLength="29.13" lengthAdjust="spacingAndGlyphs">Bile duct</text>
<circle cx="256.00" cy="259.20" r="1.5" fill="#e48800" stroke="#885100" stroke-width="0.35" fill-opacity="0.7"/>
<text x="266.90" y="261.70" font-size="7.0" fill="#333" textLength="19.43" lengthAdjust="spacingAndGlyphs">Blood</text>
<circle cx="256.00" cy="270.60" r="1.5" fill="#d69100" stroke="#805700" stroke-width="0.35" fill-opacity="0.7"/>
<text x="266.90" y="273.10" font-size="7.0" fill="#333" textLength="17.74" lengthAdjust="spacingAndGlyphs">Bone</text>
<circle cx="256.00" cy="282.00" r="1.5" fill="#c69900" stroke="#765b00" stroke-width="0.35" fill-opacity="0.7"/>
<text x="266.90" y="284.50" font-size="7.0" fill="#333" textLength="21.95" lengthAdjust="spacingAndGlyphs">Breast</text>
<circle cx="256.00" cy="293.40" r="1.5" fill="#b4a000" stroke="#6c6000" stroke-width="0.35" fill-opacity="0.7"/>
<text x="266.90" y="295.90" font-size="7.0" fill="#333" textLength="16.04" lengthAdjust="spacingAndGlyphs">CNS</text>
<circle cx="256.00" cy="304.80" r="1.5" fill="#9ea700" stroke="#5e6400" stroke-width="0.35" fill-opacity="0.7"/>
<text x="266.90" y="307.30" font-size="7.0" fill="#333" textLength="21.52" lengthAdjust="spacingAndGlyphs">Cervix</text>
<circle cx="256.00" cy="316.20" r="1.5" fill="#83ad00" stroke="#4e6700" stroke-width="0.35" fill-opacity="0.7"/>
<text x="266.90" y="318.70" font-size="7.0" fill="#333" textLength="34.19" lengthAdjust="spacingAndGlyphs">Colorectal</text>
<circle cx="256.00" cy="327.60" r="1.5" fill="#60b200" stroke="#396a00" stroke-width="0.35" fill-opacity="0.7"/>
<text x="266.90" y="330.10" font-size="7.0" fill="#333" textLength="38.00" lengthAdjust="spacingAndGlyphs">Esophagus</text>
<circle cx="256.00" cy="339.00" r="1.5" fill="#19b700" stroke="#0f6d00" stroke-width="0.35" fill-opacity="0.7"/>
<text x="266.90" y="341.50" font-size="7.0" fill="#333" textLength="13.09" lengthAdjust="spacingAndGlyphs">Eye</text>
<circle cx="256.00" cy="350.40" r="1.5" fill="#00bb48" stroke="#00702b" stroke-width="0.35" fill-opacity="0.7"/>
<text x="266.90" y="352.90" font-size="7.0" fill="#333" textLength="33.35" lengthAdjust="spacingAndGlyphs">Fibroblast</text>
<circle cx="256.00" cy="361.80" r="1.5" fill="#00be6b" stroke="#007240" stroke-width="0.35" fill-opacity="0.7"/>
<text x="266.90" y="364.30" font-size="7.0" fill="#333" textLength="24.05" lengthAdjust="spacingAndGlyphs">Gastric</text>
<circle cx="256.00" cy="373.20" r="1.5" fill="#00c088" stroke="#007351" stroke-width="0.35" fill-opacity="0.7"/>
<text x="266.90" y="375.70" font-size="7.0" fill="#333" textLength="32.49" lengthAdjust="spacingAndGlyphs">Germ cell</text>
<circle cx="256.00" cy="384.60" r="1.5" fill="#00c1a2" stroke="#007361" stroke-width="0.35" fill-opacity="0.7"/>
<text x="266.90" y="387.10" font-size="7.0" fill="#333" textLength="23.22" lengthAdjust="spacingAndGlyphs">Kidney</text>
<circle cx="256.00" cy="396.00" r="1.5" fill="#00c0ba" stroke="#00736f" stroke-width="0.35" fill-opacity="0.7"/>
<text x="266.90" y="398.50" font-size="7.0" fill="#333" textLength="16.46" lengthAdjust="spacingAndGlyphs">Liver</text>
<circle cx="327.90" cy="236.40" r="1.5" fill="#00becf" stroke="#00727c" stroke-width="0.35" fill-opacity="0.7"/>
<text x="334.80" y="238.90" font-size="7.0" fill="#333" textLength="16.90" lengthAdjust="spacingAndGlyphs">Lung</text>
<circle cx="327.90" cy="247.80" r="1.5" fill="#00b9e1" stroke="#006f87" stroke-width="0.35" fill-opacity="0.7"/>
<text x="334.80" y="250.30" font-size="7.0" fill="#333" textLength="40.67" lengthAdjust="spacingAndGlyphs">Lymphocyte</text>
<circle cx="327.90" cy="259.20" r="1.5" fill="#00b3f1" stroke="#006b90" stroke-width="0.35" fill-opacity="0.7"/>
<text x="334.80" y="261.70" font-size="7.0" fill="#333" textLength="20.26" lengthAdjust="spacingAndGlyphs">Ovary</text>
<circle cx="327.90" cy="270.60" r="1.5" fill="#00abfd" stroke="#006697" stroke-width="0.35" fill-opacity="0.7"/>
<text x="334.80" y="273.10" font-size="7.0" fill="#333" textLength="32.09" lengthAdjust="spacingAndGlyphs">Pancreas</text>
<circle cx="327.90" cy="282.00" r="1.5" fill="#46a0ff" stroke="#2a6099" stroke-width="0.35" fill-opacity="0.7"/>
<text x="334.80" y="284.50" font-size="7.0" fill="#333" textLength="15.62" lengthAdjust="spacingAndGlyphs">PNS</text>
<circle cx="327.90" cy="293.40" r="1.5" fill="#8794ff" stroke="#515899" stroke-width="0.35" fill-opacity="0.7"/>
<text x="334.80" y="295.90" font-size="7.0" fill="#333" textLength="38.83" lengthAdjust="spacingAndGlyphs">Plasma cell</text>
<circle cx="327.90" cy="304.80" r="1.5" fill="#b086ff" stroke="#695099" stroke-width="0.35" fill-opacity="0.7"/>
<text x="334.80" y="307.30" font-size="7.0" fill="#333" textLength="28.28" lengthAdjust="spacingAndGlyphs">Prostate</text>
<circle cx="327.90" cy="316.20" r="1.5" fill="#ce79ff" stroke="#7b4899" stroke-width="0.35" fill-opacity="0.7"/>
<text x="334.80" y="318.70" font-size="7.0" fill="#333" textLength="14.77" lengthAdjust="spacingAndGlyphs">Skin</text>
<circle cx="327.90" cy="327.60" r="1.5" fill="#e46df6" stroke="#884193" stroke-width="0.35" fill-opacity="0.7"/>
<text x="334.80" y="330.10" font-size="7.0" fill="#333" textLength="35.46" lengthAdjust="spacingAndGlyphs">Soft tissue</text>
<circle cx="327.90" cy="339.00" r="1.5" fill="#f365e6" stroke="#913c8a" stroke-width="0.35" fill-opacity="0.7"/>
<text x="334.80" y="341.50" font-size="7.0" fill="#333" textLength="27.01" lengthAdjust="spacingAndGlyphs">Thymus</text>
<circle cx="327.90" cy="350.40" r="1.5" fill="#fc61d4" stroke="#973a7f" stroke-width="0.35" fill-opacity="0.7"/>
<text x="334.80" y="352.90" font-size="7.0" fill="#333" textLength="25.33" lengthAdjust="spacingAndGlyphs">Thyroid</text>
<circle cx="327.90" cy="361.80" r="1.5" fill="#ff62be" stroke="#993a72" stroke-width="0.35" fill-opacity="0.7"/>
<text x="334.80" y="364.30" font-size="7.0" fill="#333" textLength="67.97" lengthAdjust="spacingAndGlyphs">Upper aerodigestive</text>
<circle cx="327.90" cy="373.20" r="1.5" fill="#ff67a6" stroke="#993d63" stroke-width="0.35" fill-opacity="0.7"/>
<text x="334.80" y="375.70" font-size="7.0" fill="#333" textLength="41.36" lengthAdjust="spacingAndGlyphs">Urinary tract</text>
<circle cx="327.90" cy="384.60" r="1.5" fill="#fe6e8b" stroke="#984253" stroke-width="0.35" fill-opacity="0.7"/>
<text x="334.80" y="387.10" font-size="7.0" fill="#333" textLength="22.37" lengthAdjust="spacingAndGlyphs">Uterus</text>
<text x="431.00" y="221.50" font-size="13.2" font-weight="bold" fill="#000" stroke="#000" stroke-width="0.55">d</text>
<path d="M508.3,218.8 V393.4" stroke="#444" stroke-width="0.8" fill="none"/>
<line x1="504.40" y1="249.30" x2="508.30" y2="249.30" stroke="#444" stroke-width="0.8"/>
<text x="500.70" y="251.70" font-size="7.0" text-anchor="end" fill="#333" textLength="67.66" lengthAdjust="spacingAndGlyphs">Upper aerodigestive</text>
<line x1="504.40" y1="257.76" x2="508.30" y2="257.76" stroke="#444" stroke-width="0.8"/>
<text x="500.70" y="260.16" font-size="7.0" text-anchor="end" fill="#333" textLength="20.16" lengthAdjust="spacingAndGlyphs">Ovary</text>
<line x1="504.40" y1="266.23" x2="508.30" y2="266.23" stroke="#444" stroke-width="0.8"/>
<text x="500.70" y="268.63" font-size="7.0" text-anchor="end" fill="#333" textLength="41.17" lengthAdjust="spacingAndGlyphs">Urinary tract</text>
<line x1="504.40" y1="274.69" x2="508.30" y2="274.69" stroke="#444" stroke-width="0.8"/>
<text x="500.70" y="277.09" font-size="7.0" text-anchor="end" fill="#333" textLength="14.71" lengthAdjust="spacingAndGlyphs">Skin</text>
<line x1="504.40" y1="283.16" x2="508.30" y2="283.16" stroke="#444" stroke-width="0.8"/>
<text x="500.70" y="285.56" font-size="7.0" text-anchor="end" fill="#333" textLength="34.04" lengthAdjust="spacingAndGlyphs">Colorectal</text>
<line x1="504.40" y1="291.62" x2="508.30" y2="291.62" stroke="#444" stroke-width="0.8"/>
<text x="500.70" y="294.02" font-size="7.0" text-anchor="end" fill="#333" textLength="40.48" lengthAdjust="spacingAndGlyphs">Lymphocyte</text>
<line x1="504.40" y1="300.09" x2="508.30" y2="300.09" stroke="#444" stroke-width="0.8"/>
<text x="500.70" y="302.49" font-size="7.0" text-anchor="end" fill="#333" textLength="37.83" lengthAdjust="spacingAndGlyphs">Esophagus</text>
<line x1="504.40" y1="308.55" x2="508.30" y2="308.55" stroke="#444" stroke-width="0.8"/>
<text x="500.70" y="310.95" font-size="7.0" text-anchor="end" fill="#333" textLength="23.94" lengthAdjust="spacingAndGlyphs">Gastric</text>
<line x1="504.40" y1="317.02" x2="508.30" y2="317.02" stroke="#444" stroke-width="0.8"/>
<text x="500.70" y="319.42" font-size="7.0" text-anchor="end" fill="#333" textLength="31.94" lengthAdjust="spacingAndGlyphs">Pancreas</text>
<line x1="504.40" y1="325.48" x2="508.30" y2="325.48" stroke="#444" stroke-width="0.8"/>
<text x="500.70" y="327.88" font-size="7.0" text-anchor="end" fill="#333" textLength="16.39" lengthAdjust="spacingAndGlyphs">Liver</text>
<line x1="504.40" y1="333.95" x2="508.30" y2="333.95" stroke="#444" stroke-width="0.8"/>
<text x="500.70" y="336.35" font-size="7.0" text-anchor="end" fill="#333" textLength="21.85" lengthAdjust="spacingAndGlyphs">Breast</text>
<line x1="504.40" y1="342.41" x2="508.30" y2="342.41" stroke="#444" stroke-width="0.8"/>
<text x="500.70" y="344.81" font-size="7.0" text-anchor="end" fill="#333" textLength="16.82" lengthAdjust="spacingAndGlyphs">Lung</text>
<line x1="504.40" y1="350.88" x2="508.30" y2="350.88" stroke="#444" stroke-width="0.8"/>
<text x="500.70" y="353.28" font-size="7.0" text-anchor="end" fill="#333" textLength="22.27" lengthAdjust="spacingAndGlyphs">Uterus</text>
<line x1="504.40" y1="359.34" x2="508.30" y2="359.34" stroke="#444" stroke-width="0.8"/>
<text x="500.70" y="361.74" font-size="7.0" text-anchor="end" fill="#333" textLength="19.34" lengthAdjust="spacingAndGlyphs">Blood</text>
<line x1="504.40" y1="367.81" x2="508.30" y2="367.81" stroke="#444" stroke-width="0.8"/>
<text x="500.70" y="370.21" font-size="7.0" text-anchor="end" fill="#333" textLength="35.30" lengthAdjust="spacingAndGlyphs">Soft tissue</text>
<line x1="504.40" y1="376.27" x2="508.30" y2="376.27" stroke="#444" stroke-width="0.8"/>
<text x="500.70" y="378.67" font-size="7.0" text-anchor="end" fill="#333" textLength="15.96" lengthAdjust="spacingAndGlyphs">CNS</text>
<line x1="504.40" y1="384.74" x2="508.30" y2="384.74" stroke="#444" stroke-width="0.8"/>
<text x="500.70" y="387.14" font-size="7.0" text-anchor="end" fill="#333" textLength="23.12" lengthAdjust="spacingAndGlyphs">Kidney</text>
<line x1="504.40" y1="393.20" x2="508.30" y2="393.20" stroke="#444" stroke-width="0.8"/>
<text x="500.70" y="395.60" font-size="7.0" text-anchor="end" fill="#333" textLength="29.00" lengthAdjust="spacingAndGlyphs">Bile duct</text>
<path d="M508.3,249.30 L612.7,249.25 L613.6,249.23 L614.5,249.20 L615.4,249.17 L616.3,249.12 L617.2,249.06 L618.1,248.99 L619.0,248.91 L619.9,248.82 L620.8,248.71 L621.7,248.60 L622.6,248.49 L623.5,248.37 L624.4,248.26 L625.3,248.16 L626.2,248.05 L627.1,247.95 L628.0,247.85 L628.9,247.73 L629.8,247.59 L630.7,247.41 L631.6,247.18 L632.5,246.89 L633.4,246.53 L634.3,246.07 L635.2,245.51 L636.1,244.80 L637.0,243.90 L637.9,242.73 L638.8,241.20 L639.7,239.24 L640.6,236.78 L641.5,233.83 L642.4,230.51 L643.3,227.05 L644.2,223.80 L645.1,221.14 L646.0,219.47 L646.9,219.06 L647.8,220.03 L648.7,222.27 L649.6,225.51 L650.5,229.37 L651.4,233.40 L652.3,237.23 L653.2,240.59 L654.1,243.32 L655.0,245.39 L655.9,246.87 L656.8,247.87 L657.7,248.50 L658.6,248.87 L659.5,249.08 L660.4,249.19 L661.3,249.25 L669.4,249.30 L669.5,249.30 L508.3,249.30 Z" fill="#f564e3" fill-opacity="0.82" stroke="none"/>
<path d="M508.3,249.30 L612.7,249.25 L613.6,249.23 L614.5,249.20 L615.4,249.17 L616.3,249.12 L617.2,249.06 L618.1,248.99 L619.0,248.91 L619.9,248.82 L620.8,248.71 L621.7,248.60 L622.6,248.49 L623.5,248.37 L624.4,248.26 L625.3,248.16 L626.2,248.05 L627.1,247.95 L628.0,247.85 L628.9,247.73 L629.8,247.59 L630.7,247.41 L631.6,247.18 L632.5,246.89 L633.4,246.53 L634.3,246.07 L635.2,245.51 L636.1,244.80 L637.0,243.90 L637.9,242.73 L638.8,241.20 L639.7,239.24 L640.6,236.78 L641.5,233.83 L642.4,230.51 L643.3,227.05 L644.2,223.80 L645.1,221.14 L646.0,219.47 L646.9,219.06 L647.8,220.03 L648.7,222.27 L649.6,225.51 L650.5,229.37 L651.4,233.40 L652.3,237.23 L653.2,240.59 L654.1,243.32 L655.0,245.39 L655.9,246.87 L656.8,247.87 L657.7,248.50 L658.6,248.87 L659.5,249.08 L660.4,249.19 L661.3,249.25 L669.4,249.30" fill="none" stroke="#2a2a2a" stroke-width="0.75"/>
<path d="M508.3,257.76 L628.0,257.69 L628.9,257.63 L629.8,257.50 L630.7,257.29 L631.6,256.94 L632.5,256.38 L633.4,255.56 L634.3,254.41 L635.2,252.86 L636.1,250.91 L637.0,248.57 L637.9,245.97 L638.8,243.25 L639.7,240.65 L640.6,238.40 L641.5,236.72 L642.4,235.79 L643.3,235.67 L644.2,236.32 L645.1,237.61 L646.0,239.37 L646.9,241.35 L647.8,243.38 L648.7,245.29 L649.6,247.00 L650.5,248.46 L651.4,249.69 L652.3,250.72 L653.2,251.60 L654.1,252.36 L655.0,253.04 L655.9,253.66 L656.8,254.24 L657.7,254.78 L658.6,255.28 L659.5,255.74 L660.4,256.15 L661.3,256.52 L662.2,256.83 L663.1,257.09 L664.0,257.30 L664.9,257.45 L665.8,257.56 L666.7,257.64 L667.6,257.69 L668.5,257.72 L669.4,257.74 L669.5,257.76 L508.3,257.76 Z" fill="#00adfa" fill-opacity="0.82" stroke="none"/>
<path d="M508.3,257.76 L628.0,257.69 L628.9,257.63 L629.8,257.50 L630.7,257.29 L631.6,256.94 L632.5,256.38 L633.4,255.56 L634.3,254.41 L635.2,252.86 L636.1,250.91 L637.0,248.57 L637.9,245.97 L638.8,243.25 L639.7,240.65 L640.6,238.40 L641.5,236.72 L642.4,235.79 L643.3,235.67 L644.2,236.32 L645.1,237.61 L646.0,239.37 L646.9,241.35 L647.8,243.38 L648.7,245.29 L649.6,247.00 L650.5,248.46 L651.4,249.69 L652.3,250.72 L653.2,251.60 L654.1,252.36 L655.0,253.04 L655.9,253.66 L656.8,254.24 L657.7,254.78 L658.6,255.28 L659.5,255.74 L660.4,256.15 L661.3,256.52 L662.2,256.83 L663.1,257.09 L664.0,257.30 L664.9,257.45 L665.8,257.56 L666.7,257.64 L667.6,257.69 L668.5,257.72 L669.4,257.74" fill="none" stroke="#2a2a2a" stroke-width="0.75"/>
<path d="M508.3,266.23 L585.7,266.19 L586.6,266.17 L587.5,266.13 L588.4,266.09 L589.3,266.02 L590.2,265.93 L591.1,265.81 L592.0,265.65 L592.9,265.46 L593.8,265.22 L594.7,264.94 L595.6,264.62 L596.5,264.25 L597.4,263.86 L598.3,263.44 L599.2,263.02 L600.1,262.61 L601.0,262.23 L601.9,261.89 L602.8,261.60 L603.7,261.38 L604.6,261.22 L605.5,261.12 L606.4,261.08 L607.3,261.09 L608.2,261.13 L609.1,261.19 L610.0,261.26 L610.9,261.33 L611.8,261.39 L612.7,261.45 L613.6,261.51 L614.5,261.57 L615.4,261.64 L616.3,261.73 L617.2,261.84 L618.1,261.97 L619.0,262.11 L619.9,262.25 L620.8,262.34 L621.7,262.36 L622.6,262.24 L623.5,261.91 L624.4,261.34 L625.3,260.47 L626.2,259.31 L627.1,257.93 L628.0,256.44 L628.9,254.99 L629.8,253.75 L630.7,252.88 L631.6,252.48 L632.5,252.55 L633.4,253.02 L634.3,253.75 L635.2,254.57 L636.1,255.30 L637.0,255.85 L637.9,256.17 L638.8,256.32 L639.7,256.37 L640.6,256.45 L641.5,256.67 L642.4,257.10 L643.3,257.76 L644.2,258.63 L645.1,259.65 L646.0,260.75 L646.9,261.84 L647.8,262.85 L648.7,263.73 L649.6,264.45 L650.5,265.01 L651.4,265.43 L652.3,265.72 L653.2,265.92 L654.1,266.05 L655.0,266.13 L655.9,266.18 L669.4,266.23 L669.5,266.23 L508.3,266.23 Z" fill="#ff61c3" fill-opacity="0.82" stroke="none"/>
<path d="M508.3,266.23 L585.7,266.19 L586.6,266.17 L587.5,266.13 L588.4,266.09 L589.3,266.02 L590.2,265.93 L591.1,265.81 L592.0,265.65 L592.9,265.46 L593.8,265.22 L594.7,264.94 L595.6,264.62 L596.5,264.25 L597.4,263.86 L598.3,263.44 L599.2,263.02 L600.1,262.61 L601.0,262.23 L601.9,261.89 L602.8,261.60 L603.7,261.38 L604.6,261.22 L605.5,261.12 L606.4,261.08 L607.3,261.09 L608.2,261.13 L609.1,261.19 L610.0,261.26 L610.9,261.33 L611.8,261.39 L612.7,261.45 L613.6,261.51 L614.5,261.57 L615.4,261.64 L616.3,261.73 L617.2,261.84 L618.1,261.97 L619.0,262.11 L619.9,262.25 L620.8,262.34 L621.7,262.36 L622.6,262.24 L623.5,261.91 L624.4,261.34 L625.3,260.47 L626.2,259.31 L627.1,257.93 L628.0,256.44 L628.9,254.99 L629.8,253.75 L630.7,252.88 L631.6,252.48 L632.5,252.55 L633.4,253.02 L634.3,253.75 L635.2,254.57 L636.1,255.30 L637.0,255.85 L637.9,256.17 L638.8,256.32 L639.7,256.37 L640.6,256.45 L641.5,256.67 L642.4,257.10 L643.3,257.76 L644.2,258.63 L645.1,259.65 L646.0,260.75 L646.9,261.84 L647.8,262.85 L648.7,263.73 L649.6,264.45 L650.5,265.01 L651.4,265.43 L652.3,265.72 L653.2,265.92 L654.1,266.05 L655.0,266.13 L655.9,266.18 L669.4,266.23" fill="none" stroke="#2a2a2a" stroke-width="0.75"/>
<path d="M508.3,274.69 L610.9,274.65 L611.8,274.61 L612.7,274.55 L613.6,274.46 L614.5,274.32 L615.4,274.12 L616.3,273.85 L617.2,273.49 L618.1,273.03 L619.0,272.44 L619.9,271.71 L620.8,270.80 L621.7,269.66 L622.6,268.26 L623.5,266.58 L624.4,264.62 L625.3,262.45 L626.2,260.19 L627.1,258.02 L628.0,256.15 L628.9,254.77 L629.8,254.04 L630.7,254.02 L631.6,254.68 L632.5,255.89 L633.4,257.47 L634.3,259.19 L635.2,260.88 L636.1,262.40 L637.0,263.66 L637.9,264.68 L638.8,265.49 L639.7,266.18 L640.6,266.81 L641.5,267.46 L642.4,268.15 L643.3,268.90 L644.2,269.69 L645.1,270.49 L646.0,271.27 L646.9,271.98 L647.8,272.62 L648.7,273.15 L649.6,273.59 L650.5,273.92 L651.4,274.17 L652.3,274.35 L653.2,274.48 L654.1,274.56 L655.0,274.62 L655.9,274.65 L669.4,274.69 L669.5,274.69 L508.3,274.69 Z" fill="#ae87ff" fill-opacity="0.82" stroke="none"/>
<path d="M508.3,274.69 L610.9,274.65 L611.8,274.61 L612.7,274.55 L613.6,274.46 L614.5,274.32 L615.4,274.12 L616.3,273.85 L617.2,273.49 L618.1,273.03 L619.0,272.44 L619.9,271.71 L620.8,270.80 L621.7,269.66 L622.6,268.26 L623.5,266.58 L624.4,264.62 L625.3,262.45 L626.2,260.19 L627.1,258.02 L628.0,256.15 L628.9,254.77 L629.8,254.04 L630.7,254.02 L631.6,254.68 L632.5,255.89 L633.4,257.47 L634.3,259.19 L635.2,260.88 L636.1,262.40 L637.0,263.66 L637.9,264.68 L638.8,265.49 L639.7,266.18 L640.6,266.81 L641.5,267.46 L642.4,268.15 L643.3,268.90 L644.2,269.69 L645.1,270.49 L646.0,271.27 L646.9,271.98 L647.8,272.62 L648.7,273.15 L649.6,273.59 L650.5,273.92 L651.4,274.17 L652.3,274.35 L653.2,274.48 L654.1,274.56 L655.0,274.62 L655.9,274.65 L669.4,274.69" fill="none" stroke="#2a2a2a" stroke-width="0.75"/>
<path d="M508.3,283.16 L606.4,283.10 L607.3,283.05 L608.2,282.98 L609.1,282.87 L610.0,282.72 L610.9,282.53 L611.8,282.29 L612.7,282.00 L613.6,281.69 L614.5,281.36 L615.4,280.99 L616.3,280.58 L617.2,280.05 L618.1,279.31 L619.0,278.23 L619.9,276.67 L620.8,274.53 L621.7,271.76 L622.6,268.44 L623.5,264.78 L624.4,261.13 L625.3,257.92 L626.2,255.58 L627.1,254.46 L628.0,254.73 L628.9,256.38 L629.8,259.17 L630.7,262.73 L631.6,266.62 L632.5,270.43 L633.4,273.84 L634.3,276.68 L635.2,278.87 L636.1,280.46 L637.0,281.55 L637.9,282.24 L638.8,282.66 L639.7,282.90 L640.6,283.03 L641.5,283.10 L669.4,283.16 L669.5,283.16 L508.3,283.16 Z" fill="#93aa00" fill-opacity="0.82" stroke="none"/>
<path d="M508.3,283.16 L606.4,283.10 L607.3,283.05 L608.2,282.98 L609.1,282.87 L610.0,282.72 L610.9,282.53 L611.8,282.29 L612.7,282.00 L613.6,281.69 L614.5,281.36 L615.4,280.99 L616.3,280.58 L617.2,280.05 L618.1,279.31 L619.0,278.23 L619.9,276.67 L620.8,274.53 L621.7,271.76 L622.6,268.44 L623.5,264.78 L624.4,261.13 L625.3,257.92 L626.2,255.58 L627.1,254.46 L628.0,254.73 L628.9,256.38 L629.8,259.17 L630.7,262.73 L631.6,266.62 L632.5,270.43 L633.4,273.84 L634.3,276.68 L635.2,278.87 L636.1,280.46 L637.0,281.55 L637.9,282.24 L638.8,282.66 L639.7,282.90 L640.6,283.03 L641.5,283.10 L669.4,283.16" fill="none" stroke="#2a2a2a" stroke-width="0.75"/>
<path d="M508.3,291.62 L589.3,291.56 L590.2,291.53 L591.1,291.48 L592.0,291.40 L592.9,291.30 L593.8,291.16 L594.7,290.99 L595.6,290.79 L596.5,290.55 L597.4,290.29 L598.3,290.02 L599.2,289.75 L600.1,289.51 L601.0,289.32 L601.9,289.18 L602.8,289.13 L603.7,289.15 L604.6,289.25 L605.5,289.42 L606.4,289.63 L607.3,289.88 L608.2,290.12 L609.1,290.34 L610.0,290.47 L610.9,290.49 L611.8,290.36 L612.7,290.03 L613.6,289.52 L614.5,288.84 L615.4,288.05 L616.3,287.18 L617.2,286.25 L618.1,285.18 L619.0,283.86 L619.9,282.16 L620.8,280.01 L621.7,277.42 L622.6,274.55 L623.5,271.67 L624.4,269.11 L625.3,267.20 L626.2,266.21 L627.1,266.28 L628.0,267.44 L628.9,269.52 L629.8,272.29 L630.7,275.44 L631.6,278.65 L632.5,281.68 L633.4,284.32 L634.3,286.49 L635.2,288.17 L636.1,289.40 L637.0,290.25 L637.9,290.82 L638.8,291.17 L639.7,291.38 L640.6,291.50 L641.5,291.56 L669.4,291.62 L669.5,291.62 L508.3,291.62 Z" fill="#00b9e3" fill-opacity="0.82" stroke="none"/>
<path d="M508.3,291.62 L589.3,291.56 L590.2,291.53 L591.1,291.48 L592.0,291.40 L592.9,291.30 L593.8,291.16 L594.7,290.99 L595.6,290.79 L596.5,290.55 L597.4,290.29 L598.3,290.02 L599.2,289.75 L600.1,289.51 L601.0,289.32 L601.9,289.18 L602.8,289.13 L603.7,289.15 L604.6,289.25 L605.5,289.42 L606.4,289.63 L607.3,289.88 L608.2,290.12 L609.1,290.34 L610.0,290.47 L610.9,290.49 L611.8,290.36 L612.7,290.03 L613.6,289.52 L614.5,288.84 L615.4,288.05 L616.3,287.18 L617.2,286.25 L618.1,285.18 L619.0,283.86 L619.9,282.16 L620.8,280.01 L621.7,277.42 L622.6,274.55 L623.5,271.67 L624.4,269.11 L625.3,267.20 L626.2,266.21 L627.1,266.28 L628.0,267.44 L628.9,269.52 L629.8,272.29 L630.7,275.44 L631.6,278.65 L632.5,281.68 L633.4,284.32 L634.3,286.49 L635.2,288.17 L636.1,289.40 L637.0,290.25 L637.9,290.82 L638.8,291.17 L639.7,291.38 L640.6,291.50 L641.5,291.56 L669.4,291.62" fill="none" stroke="#2a2a2a" stroke-width="0.75"/>
<path d="M508.3,300.09 L576.7,300.04 L577.6,299.99 L578.5,299.90 L579.4,299.78 L580.3,299.62 L581.2,299.44 L582.1,299.27 L583.0,299.14 L583.9,299.09 L584.8,299.12 L585.7,299.24 L586.6,299.40 L587.5,299.58 L588.4,299.75 L589.3,299.88 L590.2,299.97 L591.1,300.03 L594.7,300.01 L595.6,299.90 L596.5,299.67 L597.4,299.22 L598.3,298.43 L599.2,297.16 L600.1,295.31 L601.0,292.90 L601.9,290.10 L602.8,287.25 L603.7,284.85 L604.6,283.37 L605.5,283.13 L606.4,284.19 L607.3,286.30 L608.2,289.01 L609.1,291.81 L610.0,294.30 L610.9,296.22 L611.8,297.54 L612.7,298.30 L613.6,298.65 L614.5,298.72 L615.4,298.63 L616.3,298.45 L617.2,298.25 L618.1,298.04 L619.0,297.85 L619.9,297.69 L620.8,297.54 L621.7,297.39 L622.6,297.22 L623.5,297.01 L624.4,296.74 L625.3,296.38 L626.2,295.92 L627.1,295.37 L628.0,294.72 L628.9,294.01 L629.8,293.27 L630.7,292.54 L631.6,291.86 L632.5,291.29 L633.4,290.86 L634.3,290.62 L635.2,290.57 L636.1,290.74 L637.0,291.10 L637.9,291.63 L638.8,292.31 L639.7,293.10 L640.6,293.94 L641.5,294.81 L642.4,295.65 L643.3,296.44 L644.2,297.16 L645.1,297.78 L646.0,298.32 L646.9,298.76 L647.8,299.11 L648.7,299.39 L649.6,299.60 L650.5,299.75 L651.4,299.86 L652.3,299.94 L653.2,299.99 L654.1,300.03 L669.4,300.09 L669.5,300.09 L508.3,300.09 Z" fill="#5eb300" fill-opacity="0.82" stroke="none"/>
<path d="M508.3,300.09 L576.7,300.04 L577.6,299.99 L578.5,299.90 L579.4,299.78 L580.3,299.62 L581.2,299.44 L582.1,299.27 L583.0,299.14 L583.9,299.09 L584.8,299.12 L585.7,299.24 L586.6,299.40 L587.5,299.58 L588.4,299.75 L589.3,299.88 L590.2,299.97 L591.1,300.03 L594.7,300.01 L595.6,299.90 L596.5,299.67 L597.4,299.22 L598.3,298.43 L599.2,297.16 L600.1,295.31 L601.0,292.90 L601.9,290.10 L602.8,287.25 L603.7,284.85 L604.6,283.37 L605.5,283.13 L606.4,284.19 L607.3,286.30 L608.2,289.01 L609.1,291.81 L610.0,294.30 L610.9,296.22 L611.8,297.54 L612.7,298.30 L613.6,298.65 L614.5,298.72 L615.4,298.63 L616.3,298.45 L617.2,298.25 L618.1,298.04 L619.0,297.85 L619.9,297.69 L620.8,297.54 L621.7,297.39 L622.6,297.22 L623.5,297.01 L624.4,296.74 L625.3,296.38 L626.2,295.92 L627.1,295.37 L628.0,294.72 L628.9,294.01 L629.8,293.27 L630.7,292.54 L631.6,291.86 L632.5,291.29 L633.4,290.86 L634.3,290.62 L635.2,290.57 L636.1,290.74 L637.0,291.10 L637.9,291.63 L638.8,292.31 L639.7,293.10 L640.6,293.94 L641.5,294.81 L642.4,295.65 L643.3,296.44 L644.2,297.16 L645.1,297.78 L646.0,298.32 L646.9,298.76 L647.8,299.11 L648.7,299.39 L649.6,299.60 L650.5,299.75 L651.4,299.86 L652.3,299.94 L653.2,299.99 L654.1,300.03 L669.4,300.09" fill="none" stroke="#2a2a2a" stroke-width="0.75"/>
<path d="M508.3,308.55 L607.3,308.46 L608.2,308.33 L609.1,308.08 L610.0,307.59 L610.9,306.71 L611.8,305.28 L612.7,303.10 L613.6,300.04 L614.5,296.13 L615.4,291.58 L616.3,286.84 L617.2,282.56 L618.1,279.43 L619.0,278.00 L619.9,278.56 L620.8,280.99 L621.7,284.84 L622.6,289.46 L623.5,294.17 L624.4,298.40 L625.3,301.85 L626.2,304.41 L627.1,306.16 L628.0,307.26 L628.9,307.90 L629.8,308.24 L630.7,308.41 L631.6,308.50 L669.4,308.55 L669.5,308.55 L508.3,308.55 Z" fill="#00ba38" fill-opacity="0.82" stroke="none"/>
<path d="M508.3,308.55 L607.3,308.46 L608.2,308.33 L609.1,308.08 L610.0,307.59 L610.9,306.71 L611.8,305.28 L612.7,303.10 L613.6,300.04 L614.5,296.13 L615.4,291.58 L616.3,286.84 L617.2,282.56 L618.1,279.43 L619.0,278.00 L619.9,278.56 L620.8,280.99 L621.7,284.84 L622.6,289.46 L623.5,294.17 L624.4,298.40 L625.3,301.85 L626.2,304.41 L627.1,306.16 L628.0,307.26 L628.9,307.90 L629.8,308.24 L630.7,308.41 L631.6,308.50 L669.4,308.55" fill="none" stroke="#2a2a2a" stroke-width="0.75"/>
<path d="M508.3,317.02 L597.4,316.96 L598.3,316.91 L599.2,316.84 L600.1,316.73 L601.0,316.58 L601.9,316.39 L602.8,316.15 L603.7,315.87 L604.6,315.57 L605.5,315.27 L606.4,314.97 L607.3,314.68 L608.2,314.36 L609.1,313.98 L610.0,313.44 L610.9,312.65 L611.8,311.52 L612.7,309.95 L613.6,307.93 L614.5,305.49 L615.4,302.76 L616.3,299.92 L617.2,297.26 L618.1,295.04 L619.0,293.52 L619.9,292.88 L620.8,293.19 L621.7,294.39 L622.6,296.32 L623.5,298.72 L624.4,301.33 L625.3,303.89 L626.2,306.21 L627.1,308.18 L628.0,309.77 L628.9,311.03 L629.8,312.01 L630.7,312.82 L631.6,313.51 L632.5,314.13 L633.4,314.69 L634.3,315.21 L635.2,315.67 L636.1,316.05 L637.0,316.36 L637.9,316.58 L638.8,316.75 L639.7,316.86 L640.6,316.93 L641.5,316.97 L669.4,317.02 L669.5,317.02 L508.3,317.02 Z" fill="#619cff" fill-opacity="0.82" stroke="none"/>
<path d="M508.3,317.02 L597.4,316.96 L598.3,316.91 L599.2,316.84 L600.1,316.73 L601.0,316.58 L601.9,316.39 L602.8,316.15 L603.7,315.87 L604.6,315.57 L605.5,315.27 L606.4,314.97 L607.3,314.68 L608.2,314.36 L609.1,313.98 L610.0,313.44 L610.9,312.65 L611.8,311.52 L612.7,309.95 L613.6,307.93 L614.5,305.49 L615.4,302.76 L616.3,299.92 L617.2,297.26 L618.1,295.04 L619.0,293.52 L619.9,292.88 L620.8,293.19 L621.7,294.39 L622.6,296.32 L623.5,298.72 L624.4,301.33 L625.3,303.89 L626.2,306.21 L627.1,308.18 L628.0,309.77 L628.9,311.03 L629.8,312.01 L630.7,312.82 L631.6,313.51 L632.5,314.13 L633.4,314.69 L634.3,315.21 L635.2,315.67 L636.1,316.05 L637.0,316.36 L637.9,316.58 L638.8,316.75 L639.7,316.86 L640.6,316.93 L641.5,316.97 L669.4,317.02" fill="none" stroke="#2a2a2a" stroke-width="0.75"/>
<path d="M508.3,325.48 L592.9,325.44 L593.8,325.40 L594.7,325.35 L595.6,325.26 L596.5,325.13 L597.4,324.96 L598.3,324.73 L599.2,324.46 L600.1,324.15 L601.0,323.81 L601.9,323.45 L602.8,323.08 L603.7,322.69 L604.6,322.23 L605.5,321.67 L606.4,320.93 L607.3,319.94 L608.2,318.65 L609.1,317.02 L610.0,315.09 L610.9,312.92 L611.8,310.64 L612.7,308.43 L613.6,306.47 L614.5,304.96 L615.4,304.04 L616.3,303.81 L617.2,304.29 L618.1,305.40 L619.0,307.04 L619.9,309.03 L620.8,311.20 L621.7,313.36 L622.6,315.37 L623.5,317.13 L624.4,318.59 L625.3,319.74 L626.2,320.61 L627.1,321.22 L628.0,321.65 L628.9,321.94 L629.8,322.15 L630.7,322.30 L631.6,322.43 L632.5,322.57 L633.4,322.71 L634.3,322.87 L635.2,323.05 L636.1,323.24 L637.0,323.44 L637.9,323.64 L638.8,323.84 L639.7,324.04 L640.6,324.24 L641.5,324.41 L642.4,324.58 L643.3,324.73 L644.2,324.86 L645.1,324.98 L646.0,325.08 L646.9,325.16 L647.8,325.23 L648.7,325.29 L649.6,325.33 L650.5,325.37 L651.4,325.40 L652.3,325.42 L653.2,325.44 L669.4,325.48 L669.5,325.48 L508.3,325.48 Z" fill="#00c19f" fill-opacity="0.82" stroke="none"/>
<path d="M508.3,325.48 L592.9,325.44 L593.8,325.40 L594.7,325.35 L595.6,325.26 L596.5,325.13 L597.4,324.96 L598.3,324.73 L599.2,324.46 L600.1,324.15 L601.0,323.81 L601.9,323.45 L602.8,323.08 L603.7,322.69 L604.6,322.23 L605.5,321.67 L606.4,320.93 L607.3,319.94 L608.2,318.65 L609.1,317.02 L610.0,315.09 L610.9,312.92 L611.8,310.64 L612.7,308.43 L613.6,306.47 L614.5,304.96 L615.4,304.04 L616.3,303.81 L617.2,304.29 L618.1,305.40 L619.0,307.04 L619.9,309.03 L620.8,311.20 L621.7,313.36 L622.6,315.37 L623.5,317.13 L624.4,318.59 L625.3,319.74 L626.2,320.61 L627.1,321.22 L628.0,321.65 L628.9,321.94 L629.8,322.15 L630.7,322.30 L631.6,322.43 L632.5,322.57 L633.4,322.71 L634.3,322.87 L635.2,323.05 L636.1,323.24 L637.0,323.44 L637.9,323.64 L638.8,323.84 L639.7,324.04 L640.6,324.24 L641.5,324.41 L642.4,324.58 L643.3,324.73 L644.2,324.86 L645.1,324.98 L646.0,325.08 L646.9,325.16 L647.8,325.23 L648.7,325.29 L649.6,325.33 L650.5,325.37 L651.4,325.40 L652.3,325.42 L653.2,325.44 L669.4,325.48" fill="none" stroke="#2a2a2a" stroke-width="0.75"/>
<path d="M508.3,333.95 L586.6,333.89 L587.5,333.86 L588.4,333.81 L589.3,333.74 L590.2,333.65 L591.1,333.54 L592.0,333.39 L592.9,333.22 L593.8,333.02 L594.7,332.80 L595.6,332.58 L596.5,332.36 L597.4,332.16 L598.3,331.99 L599.2,331.84 L600.1,331.71 L601.0,331.58 L601.9,331.41 L602.8,331.14 L603.7,330.72 L604.6,330.07 L605.5,329.12 L606.4,327.84 L607.3,326.18 L608.2,324.18 L609.1,321.90 L610.0,319.46 L610.9,317.04 L611.8,314.84 L612.7,313.06 L613.6,311.88 L614.5,311.42 L615.4,311.74 L616.3,312.81 L617.2,314.51 L618.1,316.70 L619.0,319.16 L619.9,321.72 L620.8,324.18 L621.7,326.41 L622.6,328.34 L623.5,329.91 L624.4,331.15 L625.3,332.07 L626.2,332.73 L627.1,333.19 L628.0,333.49 L628.9,333.68 L629.8,333.80 L630.7,333.87 L631.6,333.90 L669.4,333.95 L669.5,333.95 L508.3,333.95 Z" fill="#d39200" fill-opacity="0.82" stroke="none"/>
<path d="M508.3,333.95 L586.6,333.89 L587.5,333.86 L588.4,333.81 L589.3,333.74 L590.2,333.65 L591.1,333.54 L592.0,333.39 L592.9,333.22 L593.8,333.02 L594.7,332.80 L595.6,332.58 L596.5,332.36 L597.4,332.16 L598.3,331.99 L599.2,331.84 L600.1,331.71 L601.0,331.58 L601.9,331.41 L602.8,331.14 L603.7,330.72 L604.6,330.07 L605.5,329.12 L606.4,327.84 L607.3,326.18 L608.2,324.18 L609.1,321.90 L610.0,319.46 L610.9,317.04 L611.8,314.84 L612.7,313.06 L613.6,311.88 L614.5,311.42 L615.4,311.74 L616.3,312.81 L617.2,314.51 L618.1,316.70 L619.0,319.16 L619.9,321.72 L620.8,324.18 L621.7,326.41 L622.6,328.34 L623.5,329.91 L624.4,331.15 L625.3,332.07 L626.2,332.73 L627.1,333.19 L628.0,333.49 L628.9,333.68 L629.8,333.80 L630.7,333.87 L631.6,333.90 L669.4,333.95" fill="none" stroke="#2a2a2a" stroke-width="0.75"/>
<path d="M508.3,342.41 L585.7,342.36 L586.6,342.33 L587.5,342.28 L588.4,342.21 L589.3,342.11 L590.2,341.97 L591.1,341.79 L592.0,341.57 L592.9,341.31 L593.8,341.00 L594.7,340.66 L595.6,340.31 L596.5,339.94 L597.4,339.59 L598.3,339.25 L599.2,338.93 L600.1,338.61 L601.0,338.27 L601.9,337.88 L602.8,337.39 L603.7,336.78 L604.6,336.01 L605.5,335.06 L606.4,333.97 L607.3,332.75 L608.2,331.49 L609.1,330.28 L610.0,329.21 L610.9,328.38 L611.8,327.88 L612.7,327.75 L613.6,328.02 L614.5,328.64 L615.4,329.56 L616.3,330.67 L617.2,331.85 L618.1,332.99 L619.0,333.99 L619.9,334.78 L620.8,335.35 L621.7,335.72 L622.6,335.95 L623.5,336.14 L624.4,336.36 L625.3,336.69 L626.2,337.16 L627.1,337.76 L628.0,338.46 L628.9,339.20 L629.8,339.92 L630.7,340.57 L631.6,341.11 L632.5,341.54 L633.4,341.86 L634.3,342.07 L635.2,342.22 L636.1,342.30 L637.0,342.36 L669.4,342.41 L669.5,342.41 L508.3,342.41 Z" fill="#00bfc4" fill-opacity="0.82" stroke="none"/>
<path d="M508.3,342.41 L585.7,342.36 L586.6,342.33 L587.5,342.28 L588.4,342.21 L589.3,342.11 L590.2,341.97 L591.1,341.79 L592.0,341.57 L592.9,341.31 L593.8,341.00 L594.7,340.66 L595.6,340.31 L596.5,339.94 L597.4,339.59 L598.3,339.25 L599.2,338.93 L600.1,338.61 L601.0,338.27 L601.9,337.88 L602.8,337.39 L603.7,336.78 L604.6,336.01 L605.5,335.06 L606.4,333.97 L607.3,332.75 L608.2,331.49 L609.1,330.28 L610.0,329.21 L610.9,328.38 L611.8,327.88 L612.7,327.75 L613.6,328.02 L614.5,328.64 L615.4,329.56 L616.3,330.67 L617.2,331.85 L618.1,332.99 L619.0,333.99 L619.9,334.78 L620.8,335.35 L621.7,335.72 L622.6,335.95 L623.5,336.14 L624.4,336.36 L625.3,336.69 L626.2,337.16 L627.1,337.76 L628.0,338.46 L628.9,339.20 L629.8,339.92 L630.7,340.57 L631.6,341.11 L632.5,341.54 L633.4,341.86 L634.3,342.07 L635.2,342.22 L636.1,342.30 L637.0,342.36 L669.4,342.41" fill="none" stroke="#2a2a2a" stroke-width="0.75"/>
<path d="M508.3,350.88 L563.2,350.83 L564.1,350.81 L565.0,350.78 L565.9,350.75 L566.8,350.70 L567.7,350.65 L568.6,350.58 L569.5,350.51 L570.4,350.43 L571.3,350.34 L572.2,350.25 L573.1,350.16 L574.0,350.08 L574.9,350.00 L575.8,349.94 L576.7,349.90 L577.6,349.87 L578.5,349.87 L579.4,349.88 L580.3,349.91 L581.2,349.94 L582.1,349.95 L583.0,349.94 L583.9,349.88 L584.8,349.74 L585.7,349.49 L586.6,349.12 L587.5,348.60 L588.4,347.92 L589.3,347.12 L590.2,346.22 L591.1,345.29 L592.0,344.40 L592.9,343.64 L593.8,343.10 L594.7,342.83 L595.6,342.86 L596.5,343.17 L597.4,343.71 L598.3,344.40 L599.2,345.14 L600.1,345.83 L601.0,346.37 L601.9,346.69 L602.8,346.75 L603.7,346.54 L604.6,346.09 L605.5,345.44 L606.4,344.66 L607.3,343.84 L608.2,343.07 L609.1,342.44 L610.0,342.02 L610.9,341.85 L611.8,341.95 L612.7,342.31 L613.6,342.88 L614.5,343.58 L615.4,344.31 L616.3,344.96 L617.2,345.44 L618.1,345.66 L619.0,345.57 L619.9,345.19 L620.8,344.58 L621.7,343.87 L622.6,343.21 L623.5,342.75 L624.4,342.63 L625.3,342.90 L626.2,343.55 L627.1,344.50 L628.0,345.61 L628.9,346.77 L629.8,347.84 L630.7,348.76 L631.6,349.48 L632.5,350.00 L633.4,350.36 L634.3,350.59 L635.2,350.72 L636.1,350.80 L669.4,350.88 L669.5,350.88 L508.3,350.88 Z" fill="#ff699c" fill-opacity="0.82" stroke="none"/>
<path d="M508.3,350.88 L563.2,350.83 L564.1,350.81 L565.0,350.78 L565.9,350.75 L566.8,350.70 L567.7,350.65 L568.6,350.58 L569.5,350.51 L570.4,350.43 L571.3,350.34 L572.2,350.25 L573.1,350.16 L574.0,350.08 L574.9,350.00 L575.8,349.94 L576.7,349.90 L577.6,349.87 L578.5,349.87 L579.4,349.88 L580.3,349.91 L581.2,349.94 L582.1,349.95 L583.0,349.94 L583.9,349.88 L584.8,349.74 L585.7,349.49 L586.6,349.12 L587.5,348.60 L588.4,347.92 L589.3,347.12 L590.2,346.22 L591.1,345.29 L592.0,344.40 L592.9,343.64 L593.8,343.10 L594.7,342.83 L595.6,342.86 L596.5,343.17 L597.4,343.71 L598.3,344.40 L599.2,345.14 L600.1,345.83 L601.0,346.37 L601.9,346.69 L602.8,346.75 L603.7,346.54 L604.6,346.09 L605.5,345.44 L606.4,344.66 L607.3,343.84 L608.2,343.07 L609.1,342.44 L610.0,342.02 L610.9,341.85 L611.8,341.95 L612.7,342.31 L613.6,342.88 L614.5,343.58 L615.4,344.31 L616.3,344.96 L617.2,345.44 L618.1,345.66 L619.0,345.57 L619.9,345.19 L620.8,344.58 L621.7,343.87 L622.6,343.21 L623.5,342.75 L624.4,342.63 L625.3,342.90 L626.2,343.55 L627.1,344.50 L628.0,345.61 L628.9,346.77 L629.8,347.84 L630.7,348.76 L631.6,349.48 L632.5,350.00 L633.4,350.36 L634.3,350.59 L635.2,350.72 L636.1,350.80 L669.4,350.88" fill="none" stroke="#2a2a2a" stroke-width="0.75"/>
<path d="M508.3,359.34 L599.2,359.28 L600.1,359.20 L601.0,359.04 L601.9,358.71 L602.8,358.10 L603.7,357.06 L604.6,355.41 L605.5,352.97 L606.4,349.65 L607.3,345.48 L608.2,340.72 L609.1,335.85 L610.0,331.49 L610.9,328.32 L611.8,326.89 L612.7,327.45 L613.6,329.90 L614.5,333.80 L615.4,338.53 L616.3,343.42 L617.2,347.89 L618.1,351.61 L619.0,354.43 L619.9,356.42 L620.8,357.70 L621.7,358.48 L622.6,358.92 L623.5,359.14 L624.4,359.25 L669.4,359.34 L669.5,359.34 L508.3,359.34 Z" fill="#e88526" fill-opacity="0.82" stroke="none"/>
<path d="M508.3,359.34 L599.2,359.28 L600.1,359.20 L601.0,359.04 L601.9,358.71 L602.8,358.10 L603.7,357.06 L604.6,355.41 L605.5,352.97 L606.4,349.65 L607.3,345.48 L608.2,340.72 L609.1,335.85 L610.0,331.49 L610.9,328.32 L611.8,326.89 L612.7,327.45 L613.6,329.90 L614.5,333.80 L615.4,338.53 L616.3,343.42 L617.2,347.89 L618.1,351.61 L619.0,354.43 L619.9,356.42 L620.8,357.70 L621.7,358.48 L622.6,358.92 L623.5,359.14 L624.4,359.25 L669.4,359.34" fill="none" stroke="#2a2a2a" stroke-width="0.75"/>
<path d="M508.3,367.81 L583.9,367.74 L584.8,367.69 L585.7,367.60 L586.6,367.47 L587.5,367.29 L588.4,367.03 L589.3,366.71 L590.2,366.33 L591.1,365.91 L592.0,365.48 L592.9,365.08 L593.8,364.74 L594.7,364.49 L595.6,364.32 L596.5,364.20 L597.4,364.06 L598.3,363.85 L599.2,363.47 L600.1,362.85 L601.0,361.95 L601.9,360.74 L602.8,359.24 L603.7,357.52 L604.6,355.65 L605.5,353.77 L606.4,351.99 L607.3,350.47 L608.2,349.29 L609.1,348.56 L610.0,348.31 L610.9,348.52 L611.8,349.14 L612.7,350.09 L613.6,351.25 L614.5,352.49 L615.4,353.72 L616.3,354.84 L617.2,355.82 L618.1,356.62 L619.0,357.26 L619.9,357.78 L620.8,358.22 L621.7,358.64 L622.6,359.07 L623.5,359.56 L624.4,360.12 L625.3,360.75 L626.2,361.44 L627.1,362.17 L628.0,362.92 L628.9,363.66 L629.8,364.36 L630.7,365.01 L631.6,365.58 L632.5,366.07 L633.4,366.49 L634.3,366.83 L635.2,367.09 L636.1,367.30 L637.0,367.45 L637.9,367.57 L638.8,367.65 L639.7,367.70 L640.6,367.74 L641.5,367.77 L669.4,367.81 L669.5,367.81 L508.3,367.81 Z" fill="#db72fb" fill-opacity="0.82" stroke="none"/>
<path d="M508.3,367.81 L583.9,367.74 L584.8,367.69 L585.7,367.60 L586.6,367.47 L587.5,367.29 L588.4,367.03 L589.3,366.71 L590.2,366.33 L591.1,365.91 L592.0,365.48 L592.9,365.08 L593.8,364.74 L594.7,364.49 L595.6,364.32 L596.5,364.20 L597.4,364.06 L598.3,363.85 L599.2,363.47 L600.1,362.85 L601.0,361.95 L601.9,360.74 L602.8,359.24 L603.7,357.52 L604.6,355.65 L605.5,353.77 L606.4,351.99 L607.3,350.47 L608.2,349.29 L609.1,348.56 L610.0,348.31 L610.9,348.52 L611.8,349.14 L612.7,350.09 L613.6,351.25 L614.5,352.49 L615.4,353.72 L616.3,354.84 L617.2,355.82 L618.1,356.62 L619.0,357.26 L619.9,357.78 L620.8,358.22 L621.7,358.64 L622.6,359.07 L623.5,359.56 L624.4,360.12 L625.3,360.75 L626.2,361.44 L627.1,362.17 L628.0,362.92 L628.9,363.66 L629.8,364.36 L630.7,365.01 L631.6,365.58 L632.5,366.07 L633.4,366.49 L634.3,366.83 L635.2,367.09 L636.1,367.30 L637.0,367.45 L637.9,367.57 L638.8,367.65 L639.7,367.70 L640.6,367.74 L641.5,367.77 L669.4,367.81" fill="none" stroke="#2a2a2a" stroke-width="0.75"/>
<path d="M508.3,376.27 L595.6,376.21 L596.5,376.14 L597.4,376.01 L598.3,375.77 L599.2,375.36 L600.1,374.68 L601.0,373.65 L601.9,372.17 L602.8,370.19 L603.7,367.73 L604.6,364.89 L605.5,361.90 L606.4,359.05 L607.3,356.72 L608.2,355.22 L609.1,354.77 L610.0,355.46 L610.9,357.16 L611.8,359.62 L612.7,362.50 L613.6,365.45 L614.5,368.15 L615.4,370.42 L616.3,372.14 L617.2,373.31 L618.1,373.98 L619.0,374.24 L619.9,374.17 L620.8,373.85 L621.7,373.36 L622.6,372.76 L623.5,372.11 L624.4,371.48 L625.3,370.91 L626.2,370.46 L627.1,370.17 L628.0,370.07 L628.9,370.17 L629.8,370.46 L630.7,370.91 L631.6,371.49 L632.5,372.14 L633.4,372.81 L634.3,373.47 L635.2,374.07 L636.1,374.60 L637.0,375.04 L637.9,375.40 L638.8,375.67 L639.7,375.87 L640.6,376.01 L641.5,376.11 L642.4,376.17 L643.3,376.21 L669.4,376.27 L669.5,376.27 L508.3,376.27 Z" fill="#b79f00" fill-opacity="0.82" stroke="none"/>
<path d="M508.3,376.27 L595.6,376.21 L596.5,376.14 L597.4,376.01 L598.3,375.77 L599.2,375.36 L600.1,374.68 L601.0,373.65 L601.9,372.17 L602.8,370.19 L603.7,367.73 L604.6,364.89 L605.5,361.90 L606.4,359.05 L607.3,356.72 L608.2,355.22 L609.1,354.77 L610.0,355.46 L610.9,357.16 L611.8,359.62 L612.7,362.50 L613.6,365.45 L614.5,368.15 L615.4,370.42 L616.3,372.14 L617.2,373.31 L618.1,373.98 L619.0,374.24 L619.9,374.17 L620.8,373.85 L621.7,373.36 L622.6,372.76 L623.5,372.11 L624.4,371.48 L625.3,370.91 L626.2,370.46 L627.1,370.17 L628.0,370.07 L628.9,370.17 L629.8,370.46 L630.7,370.91 L631.6,371.49 L632.5,372.14 L633.4,372.81 L634.3,373.47 L635.2,374.07 L636.1,374.60 L637.0,375.04 L637.9,375.40 L638.8,375.67 L639.7,375.87 L640.6,376.01 L641.5,376.11 L642.4,376.17 L643.3,376.21 L669.4,376.27" fill="none" stroke="#2a2a2a" stroke-width="0.75"/>
<path d="M508.3,384.74 L583.0,384.69 L583.9,384.65 L584.8,384.59 L585.7,384.50 L586.6,384.37 L587.5,384.17 L588.4,383.89 L589.3,383.52 L590.2,383.04 L591.1,382.44 L592.0,381.73 L592.9,380.93 L593.8,380.08 L594.7,379.21 L595.6,378.39 L596.5,377.67 L597.4,377.13 L598.3,376.81 L599.2,376.73 L600.1,376.89 L601.0,377.26 L601.9,377.77 L602.8,378.32 L603.7,378.76 L604.6,378.92 L605.5,378.62 L606.4,377.68 L607.3,376.01 L608.2,373.60 L609.1,370.63 L610.0,367.42 L610.9,364.44 L611.8,362.20 L612.7,361.13 L613.6,361.45 L614.5,363.12 L615.4,365.88 L616.3,369.28 L617.2,372.83 L618.1,376.11 L619.0,378.87 L619.9,380.99 L620.8,382.49 L621.7,383.47 L622.6,384.06 L623.5,384.40 L624.4,384.58 L625.3,384.67 L669.4,384.74 L669.5,384.74 L508.3,384.74 Z" fill="#00bf74" fill-opacity="0.82" stroke="none"/>
<path d="M508.3,384.74 L583.0,384.69 L583.9,384.65 L584.8,384.59 L585.7,384.50 L586.6,384.37 L587.5,384.17 L588.4,383.89 L589.3,383.52 L590.2,383.04 L591.1,382.44 L592.0,381.73 L592.9,380.93 L593.8,380.08 L594.7,379.21 L595.6,378.39 L596.5,377.67 L597.4,377.13 L598.3,376.81 L599.2,376.73 L600.1,376.89 L601.0,377.26 L601.9,377.77 L602.8,378.32 L603.7,378.76 L604.6,378.92 L605.5,378.62 L606.4,377.68 L607.3,376.01 L608.2,373.60 L609.1,370.63 L610.0,367.42 L610.9,364.44 L611.8,362.20 L612.7,361.13 L613.6,361.45 L614.5,363.12 L615.4,365.88 L616.3,369.28 L617.2,372.83 L618.1,376.11 L619.0,378.87 L619.9,380.99 L620.8,382.49 L621.7,383.47 L622.6,384.06 L623.5,384.40 L624.4,384.58 L625.3,384.67 L669.4,384.74" fill="none" stroke="#2a2a2a" stroke-width="0.75"/>
<path d="M508.3,393.20 L567.7,393.13 L568.6,393.07 L569.5,392.96 L570.4,392.80 L571.3,392.59 L572.2,392.36 L573.1,392.14 L574.0,391.97 L574.9,391.89 L575.8,391.92 L576.7,392.00 L577.6,391.99 L578.5,391.68 L579.4,390.73 L580.3,388.81 L581.2,385.90 L582.1,382.46 L583.0,379.51 L583.9,378.19 L584.8,379.06 L585.7,381.74 L586.6,385.18 L587.5,388.24 L588.4,390.24 L589.3,391.01 L590.2,390.66 L591.1,389.33 L592.0,387.12 L592.9,384.17 L593.8,380.76 L594.7,377.37 L595.6,374.57 L596.5,372.95 L597.4,372.86 L598.3,374.32 L599.2,377.00 L600.1,380.33 L601.0,383.70 L601.9,386.61 L602.8,388.76 L603.7,390.07 L604.6,390.61 L605.5,390.57 L606.4,390.18 L607.3,389.68 L608.2,389.29 L609.1,389.19 L610.0,389.41 L610.9,389.93 L611.8,390.61 L612.7,391.33 L613.6,391.97 L614.5,392.45 L615.4,392.79 L616.3,392.99 L617.2,393.10 L618.1,393.16 L669.4,393.20 L669.5,393.20 L508.3,393.20 Z" fill="#f8766d" fill-opacity="0.82" stroke="none"/>
<path d="M508.3,393.20 L567.7,393.13 L568.6,393.07 L569.5,392.96 L570.4,392.80 L571.3,392.59 L572.2,392.36 L573.1,392.14 L574.0,391.97 L574.9,391.89 L575.8,391.92 L576.7,392.00 L577.6,391.99 L578.5,391.68 L579.4,390.73 L580.3,388.81 L581.2,385.90 L582.1,382.46 L583.0,379.51 L583.9,378.19 L584.8,379.06 L585.7,381.74 L586.6,385.18 L587.5,388.24 L588.4,390.24 L589.3,391.01 L590.2,390.66 L591.1,389.33 L592.0,387.12 L592.9,384.17 L593.8,380.76 L594.7,377.37 L595.6,374.57 L596.5,372.95 L597.4,372.86 L598.3,374.32 L599.2,377.00 L600.1,380.33 L601.0,383.70 L601.9,386.61 L602.8,388.76 L603.7,390.07 L604.6,390.61 L605.5,390.57 L606.4,390.18 L607.3,389.68 L608.2,389.29 L609.1,389.19 L610.0,389.41 L610.9,389.93 L611.8,390.61 L612.7,391.33 L613.6,391.97 L614.5,392.45 L615.4,392.79 L616.3,392.99 L617.2,393.10 L618.1,393.16 L669.4,393.20" fill="none" stroke="#2a2a2a" stroke-width="0.75"/>
<line x1="508.30" y1="393.40" x2="669.50" y2="393.40" stroke="#444" stroke-width="0.8"/>
<line x1="511.00" y1="393.40" x2="511.00" y2="396.80" stroke="#444" stroke-width="0.8"/>
<text x="511.00" y="406.90" font-size="8.0" text-anchor="middle" fill="#383838" textLength="15.57" lengthAdjust="spacingAndGlyphs">0.76</text>
<line x1="553.00" y1="393.40" x2="553.00" y2="396.80" stroke="#444" stroke-width="0.8"/>
<text x="553.00" y="406.90" font-size="8.0" text-anchor="middle" fill="#383838" textLength="15.57" lengthAdjust="spacingAndGlyphs">0.80</text>
<line x1="595.00" y1="393.40" x2="595.00" y2="396.80" stroke="#444" stroke-width="0.8"/>
<text x="595.00" y="406.90" font-size="8.0" text-anchor="middle" fill="#383838" textLength="15.57" lengthAdjust="spacingAndGlyphs">0.84</text>
<line x1="637.20" y1="393.40" x2="637.20" y2="396.80" stroke="#444" stroke-width="0.8"/>
<text x="637.20" y="406.90" font-size="8.0" text-anchor="middle" fill="#383838" textLength="15.57" lengthAdjust="spacingAndGlyphs">0.88</text>
<text x="589.10" y="420.30" font-size="8.4" text-anchor="middle" textLength="84.20" lengthAdjust="spacingAndGlyphs">Correlation between</text>
<text x="589.00" y="430.50" font-size="8.4" text-anchor="middle" textLength="84.40" lengthAdjust="spacingAndGlyphs">tumors and cell lines</text>
<text x="0.00" y="457.30" font-size="13.2" font-weight="bold" fill="#000" stroke="#000" stroke-width="0.55">e</text>
<defs><pattern id="hpR" x="0" y="0" width="32" height="32" patternUnits="userSpaceOnUse"><rect width="32" height="32" fill="#f8e6ee"/><path d="M0,0.5h2M7,0.5h4M11,0.5h4M15,0.5h1M16,0.5h3M21,0.5h1M22,0.5h3M26,0.5h4M30,0.5h1M31,0.5h1M0,1.5h1M1,1.5h1M6,1.5h3M9,1.5h1M13,1.5h2M15,1.5h2M17,1.5h1M18,1.5h3M21,1.5h3M25,1.5h3M28,1.5h3M0,2.5h1M1,2.5h3M4,2.5h1M5,2.5h4M9,2.5h2M11,2.5h1M13,2.5h2M15,2.5h2M17,2.5h1M19,2.5h2M22,2.5h2M26,2.5h3M31,2.5h1M0,3.5h1M4,3.5h3M7,3.5h2M11,3.5h1M12,3.5h1M16,3.5h3M24,3.5h3M31,3.5h1M0,4.5h3M8,4.5h1M10,4.5h1M13,4.5h3M19,4.5h1M20,4.5h1M21,4.5h1M26,4.5h2M0,5.5h3M3,5.5h2M5,5.5h1M6,5.5h3M18,5.5h1M19,5.5h1M21,5.5h2M25,5.5h2M31,5.5h1M0,6.5h1M3,6.5h2M9,6.5h2M13,6.5h2M15,6.5h3M19,6.5h3M23,6.5h3M26,6.5h4M30,6.5h2M0,7.5h1M1,7.5h3M12,7.5h3M15,7.5h3M18,7.5h1M19,7.5h1M22,7.5h2M24,7.5h3M30,7.5h1M31,7.5h1M0,8.5h4M4,8.5h4M19,8.5h2M21,8.5h1M25,8.5h4M0,9.5h3M3,9.5h3M8,9.5h3M11,9.5h1M12,9.5h2M14,9.5h2M16,9.5h4M20,9.5h3M23,9.5h3M27,9.5h1M28,9.5h2M0,10.5h3M3,10.5h1M4,10.5h3M7,10.5h4M15,10.5h1M16,10.5h2M28,10.5h2M30,10.5h1M2,11.5h1M3,11.5h2M5,11.5h2M7,11.5h1M10,11.5h3M13,11.5h1M14,11.5h2M16,11.5h3M21,11.5h4M27,11.5h2M29,11.5h2M31,11.5h1M12,12.5h3M18,12.5h2M20,12.5h2M27,12.5h1M28,12.5h4M0,13.5h3M3,13.5h4M12,13.5h2M14,13.5h1M15,13.5h2M23,13.5h4M27,13.5h4M31,13.5h1M3,14.5h2M8,14.5h2M10,14.5h2M12,14.5h3M21,14.5h3M24,14.5h1M27,14.5h3M7,15.5h1M8,15.5h1M9,15.5h3M12,15.5h3M16,15.5h1M22,15.5h2M27,15.5h2M30,15.5h2M0,16.5h4M7,16.5h3M12,16.5h4M18,16.5h2M20,16.5h3M23,16.5h4M29,16.5h3M4,17.5h2M7,17.5h2M15,17.5h2M17,17.5h2M22,17.5h1M23,17.5h1M24,17.5h2M26,17.5h2M28,17.5h1M29,17.5h2M4,18.5h3M7,18.5h1M8,18.5h2M11,18.5h2M13,18.5h1M14,18.5h3M21,18.5h1M26,18.5h3M29,18.5h3M3,19.5h3M9,19.5h2M11,19.5h1M14,19.5h2M16,19.5h2M18,19.5h2M20,19.5h3M24,19.5h1M25,19.5h3M31,19.5h1M0,20.5h1M1,20.5h3M6,20.5h1M7,20.5h2M9,20.5h3M12,20.5h1M13,20.5h2M15,20.5h2M17,20.5h2M21,20.5h3M24,20.5h2M26,20.5h3M30,20.5h2M2,21.5h1M6,21.5h2M26,21.5h4M31,21.5h1M0,22.5h4M5,22.5h1M7,22.5h1M8,22.5h2M10,22.5h4M17,22.5h2M22,22.5h4M26,22.5h2M31,22.5h1M4,23.5h1M5,23.5h2M10,23.5h1M11,23.5h2M15,23.5h4M19,23.5h1M20,23.5h4M26,23.5h2M28,23.5h2M30,23.5h2M2,24.5h1M3,24.5h2M11,24.5h3M14,24.5h1M22,24.5h4M30,24.5h2M0,25.5h1M2,25.5h3M5,25.5h3M14,25.5h1M15,25.5h2M17,25.5h1M18,25.5h3M21,25.5h4M25,25.5h2M27,25.5h1M28,25.5h4M0,26.5h2M2,26.5h3M7,26.5h3M12,26.5h2M14,26.5h3M17,26.5h2M19,26.5h2M26,26.5h1M27,26.5h1M28,26.5h3M31,26.5h1M0,27.5h4M5,27.5h1M6,27.5h4M10,27.5h1M11,27.5h4M20,27.5h3M23,27.5h1M25,27.5h3M30,27.5h2M1,28.5h2M5,28.5h4M12,28.5h1M13,28.5h2M15,28.5h1M20,28.5h1M25,28.5h1M26,28.5h3M29,28.5h2M0,29.5h1M4,29.5h3M7,29.5h3M12,29.5h1M13,29.5h2M20,29.5h3M23,29.5h3M30,29.5h1M31,29.5h1M0,30.5h3M6,30.5h1M8,30.5h2M10,30.5h2M12,30.5h4M16,30.5h3M21,30.5h2M0,31.5h3M3,31.5h3M6,31.5h2M9,31.5h1M10,31.5h1M11,31.5h3M14,31.5h4M19,31.5h1M23,31.5h3M26,31.5h2M28,31.5h2M30,31.5h2" stroke="#ff1c1c" stroke-width="1"/><path d="M4,0.5h3M2,1.5h4M10,1.5h3M24,1.5h1M12,2.5h1M18,2.5h1M21,2.5h1M1,3.5h3M9,3.5h2M13,3.5h2M29,3.5h2M3,4.5h4M11,4.5h2M16,4.5h3M9,5.5h4M17,5.5h1M20,5.5h1M23,5.5h2M27,5.5h2M29,5.5h2M5,6.5h4M18,6.5h1M22,6.5h1M4,7.5h2M6,7.5h3M9,7.5h3M20,7.5h2M8,8.5h3M14,8.5h1M15,8.5h2M17,8.5h2M29,8.5h2M6,9.5h2M14,10.5h1M18,10.5h3M21,10.5h4M25,10.5h3M31,10.5h1M1,11.5h1M8,11.5h2M19,11.5h2M25,11.5h2M3,12.5h2M5,12.5h2M7,12.5h4M22,12.5h2M24,12.5h3M7,13.5h3M19,13.5h2M0,14.5h3M15,14.5h2M17,14.5h2M25,14.5h2M0,15.5h4M4,15.5h3M15,15.5h1M17,15.5h2M19,15.5h3M26,15.5h1M29,15.5h1M27,16.5h2M6,17.5h1M9,17.5h3M12,17.5h3M0,18.5h4M10,18.5h1M17,18.5h4M22,18.5h2M0,19.5h3M6,19.5h1M7,19.5h2M12,19.5h2M23,19.5h1M4,20.5h2M19,20.5h2M29,20.5h1M4,21.5h2M11,21.5h1M12,21.5h1M17,21.5h2M23,21.5h3M30,21.5h1M4,22.5h1M6,22.5h1M14,22.5h3M28,22.5h3M13,23.5h2M25,23.5h1M10,24.5h1M27,24.5h1M28,24.5h1M1,25.5h1M8,25.5h3M11,25.5h3M5,26.5h2M10,26.5h2M4,27.5h1M15,27.5h2M24,27.5h1M0,28.5h1M3,28.5h2M1,29.5h3M10,29.5h2M18,29.5h2M26,29.5h4M3,30.5h3M7,30.5h1M23,30.5h2M25,30.5h2M29,30.5h1" stroke="#ff7070" stroke-width="1"/><path d="M19,0.5h2M25,2.5h1M20,3.5h4M27,3.5h2M7,4.5h1M22,4.5h3M25,4.5h1M13,5.5h4M27,7.5h3M24,8.5h1M30,9.5h2M11,10.5h3M0,11.5h1M0,12.5h3M10,13.5h2M17,13.5h1M21,13.5h2M5,14.5h3M30,14.5h2M24,15.5h2M4,16.5h3M16,16.5h2M19,17.5h3M31,17.5h1M24,18.5h2M28,19.5h3M0,21.5h2M3,21.5h1M8,21.5h3M15,21.5h2M19,21.5h1M19,22.5h3M0,23.5h2M2,23.5h2M7,23.5h1M8,23.5h2M24,23.5h1M0,24.5h2M5,24.5h3M26,24.5h1M28,27.5h2M16,28.5h4M22,28.5h3M15,29.5h3M19,30.5h2M30,30.5h2M8,31.5h1" stroke="#ffb8b8" stroke-width="1"/><path d="M2,0.5h2M31,1.5h1M15,3.5h1M9,4.5h1M28,4.5h4M1,6.5h2M11,8.5h3M11,12.5h1M18,13.5h1M0,17.5h4M20,21.5h3M9,28.5h1M28,30.5h1M20,31.5h3" stroke="#c8c8ff" stroke-width="1"/><path d="M11,6.5h2M19,14.5h2M8,24.5h2M15,24.5h3M29,24.5h1M17,27.5h3M31,28.5h1" stroke="#8080ff" stroke-width="1"/></pattern><pattern id="hpr" x="0" y="0" width="32" height="32" patternUnits="userSpaceOnUse"><rect width="32" height="32" fill="#f8e6ee"/><path d="M18,0.5h2M27,1.5h2M3,2.5h1M17,2.5h2M7,3.5h4M17,4.5h1M13,5.5h2M28,5.5h3M2,6.5h3M8,6.5h2M25,6.5h4M30,6.5h2M1,8.5h3M7,8.5h3M10,8.5h2M20,8.5h2M3,9.5h3M26,9.5h1M7,10.5h3M17,11.5h2M21,11.5h1M15,12.5h1M16,12.5h1M17,12.5h1M20,13.5h2M30,13.5h2M0,16.5h3M4,16.5h2M13,16.5h1M17,16.5h2M21,16.5h2M29,16.5h2M21,17.5h2M23,17.5h1M24,17.5h1M0,18.5h1M28,18.5h1M0,19.5h2M3,19.5h2M5,19.5h1M17,19.5h2M14,20.5h2M16,20.5h2M26,20.5h1M0,22.5h2M22,22.5h1M26,22.5h4M31,22.5h1M6,25.5h1M6,27.5h4M10,27.5h2M18,27.5h2M10,29.5h1M28,29.5h1M7,30.5h2M22,30.5h2M28,30.5h1M5,31.5h2" stroke="#ff1c1c" stroke-width="1"/><path d="M9,1.5h1M14,1.5h4M29,1.5h2M31,1.5h1M7,2.5h1M13,2.5h2M19,2.5h1M20,2.5h2M22,2.5h2M31,2.5h1M2,3.5h3M5,3.5h2M12,3.5h3M18,3.5h4M26,3.5h2M12,4.5h2M25,4.5h3M28,4.5h4M15,5.5h3M26,5.5h1M5,6.5h3M14,6.5h1M18,6.5h2M21,6.5h2M23,6.5h2M9,7.5h1M27,7.5h3M0,8.5h1M5,8.5h2M19,8.5h1M22,8.5h1M25,8.5h1M8,9.5h2M14,9.5h2M19,9.5h3M24,9.5h2M23,10.5h1M5,11.5h2M7,11.5h3M14,11.5h3M22,11.5h1M23,11.5h2M30,11.5h2M5,12.5h2M29,12.5h1M18,13.5h1M23,13.5h1M27,13.5h3M1,14.5h1M1,15.5h1M4,15.5h2M6,15.5h3M9,15.5h4M22,15.5h1M25,15.5h3M3,16.5h1M11,16.5h1M7,17.5h2M12,17.5h1M7,18.5h3M10,18.5h1M18,18.5h1M20,18.5h2M6,19.5h1M24,19.5h1M27,19.5h1M30,19.5h2M8,20.5h2M23,20.5h2M29,20.5h3M2,21.5h3M10,21.5h3M13,21.5h2M30,22.5h1M2,23.5h4M17,23.5h4M21,23.5h1M22,23.5h2M29,23.5h2M13,24.5h1M25,24.5h3M5,25.5h1M20,25.5h4M29,25.5h1M31,25.5h1M1,26.5h4M20,26.5h2M27,26.5h1M12,27.5h2M14,27.5h2M20,27.5h3M27,27.5h2M29,27.5h2M31,27.5h1M7,29.5h1M11,29.5h3M14,29.5h2M16,29.5h1M29,29.5h3M15,30.5h1M20,30.5h2M29,30.5h3M0,31.5h3M21,31.5h1M26,31.5h1M27,31.5h2" stroke="#ff7070" stroke-width="1"/><path d="M2,0.5h3M11,0.5h3M14,0.5h1M29,0.5h3M6,1.5h1M7,1.5h2M10,1.5h1M11,1.5h2M13,1.5h1M19,1.5h2M22,1.5h2M4,2.5h1M10,2.5h1M11,2.5h2M24,2.5h3M0,3.5h2M11,3.5h1M15,3.5h3M22,3.5h4M28,3.5h4M4,4.5h3M18,4.5h2M20,4.5h2M22,4.5h3M5,5.5h1M6,5.5h1M8,5.5h2M10,5.5h3M18,5.5h2M20,5.5h2M27,5.5h1M10,6.5h1M11,6.5h3M29,6.5h1M2,7.5h4M8,7.5h1M18,7.5h4M26,7.5h1M13,8.5h1M14,8.5h3M17,8.5h2M23,8.5h2M26,8.5h2M31,8.5h1M1,9.5h1M2,9.5h1M10,9.5h3M16,9.5h3M13,10.5h1M14,10.5h2M19,10.5h2M21,10.5h1M24,10.5h2M26,10.5h1M27,10.5h4M1,11.5h3M4,11.5h1M10,11.5h4M19,11.5h1M20,11.5h1M0,12.5h1M1,12.5h3M7,12.5h2M9,12.5h4M13,12.5h2M30,12.5h1M1,13.5h3M7,13.5h3M10,13.5h3M13,13.5h2M19,13.5h1M9,14.5h4M15,14.5h1M16,14.5h3M19,14.5h3M26,14.5h2M28,14.5h3M31,14.5h1M2,15.5h2M17,15.5h2M19,15.5h3M28,15.5h3M14,16.5h3M26,16.5h1M27,16.5h2M31,16.5h1M4,17.5h1M5,17.5h1M6,17.5h1M16,17.5h2M25,17.5h3M5,18.5h2M11,18.5h3M14,18.5h3M22,18.5h1M7,19.5h2M10,19.5h3M13,19.5h4M19,19.5h2M25,19.5h2M0,20.5h1M1,20.5h1M0,21.5h2M5,21.5h2M7,21.5h2M15,21.5h1M17,21.5h1M22,21.5h1M23,21.5h4M27,21.5h1M28,21.5h1M29,21.5h2M31,21.5h1M6,22.5h2M12,22.5h4M16,22.5h2M20,22.5h1M21,22.5h1M0,23.5h2M10,23.5h4M24,23.5h2M10,24.5h3M14,24.5h2M16,24.5h2M19,24.5h3M23,24.5h2M28,24.5h2M1,25.5h4M16,25.5h2M24,25.5h1M26,25.5h3M30,25.5h1M5,26.5h1M8,26.5h3M11,26.5h2M15,26.5h1M22,26.5h3M25,26.5h2M28,26.5h1M29,26.5h1M30,26.5h1M0,27.5h3M4,27.5h2M23,27.5h2M26,27.5h1M0,28.5h1M4,28.5h2M11,28.5h3M17,28.5h1M24,28.5h1M25,28.5h2M30,28.5h2M1,29.5h1M4,29.5h3M17,29.5h4M22,29.5h3M25,29.5h1M26,29.5h2M0,30.5h3M6,30.5h1M9,30.5h2M11,30.5h1M16,30.5h1M17,30.5h1M25,30.5h3M7,31.5h4M11,31.5h3M14,31.5h4M18,31.5h3M22,31.5h4" stroke="#ffb8b8" stroke-width="1"/><path d="M5,0.5h1M6,0.5h2M20,0.5h4M4,1.5h2M0,2.5h3M5,2.5h2M7,4.5h3M10,4.5h2M15,6.5h3M6,7.5h2M13,7.5h3M22,7.5h4M30,7.5h2M28,8.5h3M0,9.5h1M13,9.5h1M4,10.5h1M10,10.5h3M16,10.5h3M22,10.5h1M0,11.5h1M21,12.5h2M23,12.5h3M26,12.5h3M15,13.5h3M2,14.5h1M3,14.5h4M13,14.5h2M24,14.5h2M0,15.5h1M13,15.5h4M9,16.5h2M19,16.5h2M1,17.5h3M18,17.5h3M17,18.5h1M25,18.5h3M29,18.5h2M9,19.5h1M21,19.5h2M18,20.5h3M27,20.5h2M16,21.5h1M18,21.5h4M18,22.5h2M26,23.5h3M6,24.5h4M0,25.5h1M18,25.5h2M0,26.5h1M16,26.5h1M16,27.5h1M17,27.5h1M3,28.5h1M9,28.5h2M14,28.5h3M27,28.5h3M0,29.5h1M3,30.5h3" stroke="#c8c8ff" stroke-width="1"/><path d="M9,0.5h2M24,0.5h1M25,0.5h4M18,1.5h1M0,4.5h4M28,9.5h2M31,12.5h1M24,13.5h3M9,17.5h3M28,17.5h4M31,18.5h1M23,19.5h1M2,20.5h3M6,23.5h1M2,24.5h4M13,25.5h3M1,28.5h2M21,28.5h3M2,29.5h2M21,29.5h1M12,30.5h3" stroke="#8080ff" stroke-width="1"/><path d="M20,6.5h1M22,13.5h1M31,23.5h1M22,24.5h1M12,25.5h1M13,26.5h2" stroke="#2424ff" stroke-width="1"/></pattern><pattern id="hpw" x="0" y="0" width="32" height="32" patternUnits="userSpaceOnUse"><rect width="32" height="32" fill="#f8e6ee"/><path d="M12,8.5h3M0,10.5h3M4,10.5h1M8,12.5h2M30,14.5h2M12,18.5h2M21,19.5h1M4,25.5h1M25,25.5h2M8,29.5h1" stroke="#ff1c1c" stroke-width="1"/><path d="M0,0.5h1M12,0.5h3M25,0.5h3M28,0.5h2M26,2.5h2M4,3.5h3M21,3.5h2M23,3.5h2M3,4.5h3M13,5.5h2M15,5.5h1M6,6.5h2M8,6.5h2M10,6.5h1M15,6.5h1M17,6.5h3M24,6.5h2M19,7.5h2M26,8.5h1M14,9.5h1M27,9.5h4M13,10.5h1M18,10.5h2M20,10.5h1M25,10.5h2M0,12.5h1M16,12.5h3M19,12.5h1M11,13.5h4M18,14.5h1M3,17.5h1M4,17.5h1M5,17.5h2M6,18.5h2M8,18.5h2M19,18.5h4M0,19.5h1M13,19.5h2M18,19.5h2M7,20.5h3M28,20.5h1M31,20.5h1M10,21.5h3M0,22.5h3M22,24.5h1M25,24.5h1M5,25.5h1M2,26.5h3M0,27.5h3M14,27.5h4M20,29.5h1M25,29.5h1M27,29.5h2M29,29.5h3M3,30.5h2M14,31.5h1" stroke="#ff7070" stroke-width="1"/><path d="M1,0.5h1M3,0.5h1M30,0.5h2M3,1.5h1M4,1.5h2M6,1.5h3M17,1.5h2M20,1.5h3M25,1.5h1M28,1.5h2M5,2.5h1M0,3.5h4M7,3.5h3M12,3.5h1M29,3.5h3M0,4.5h3M10,4.5h3M17,4.5h4M24,4.5h1M25,4.5h4M29,4.5h2M16,5.5h4M0,6.5h4M20,6.5h3M23,6.5h1M28,6.5h4M4,7.5h1M5,7.5h2M14,7.5h1M16,7.5h3M21,7.5h1M22,7.5h4M26,7.5h1M8,8.5h4M23,8.5h1M27,8.5h1M28,8.5h1M7,9.5h3M3,10.5h1M9,10.5h3M12,10.5h1M14,10.5h4M12,11.5h4M25,11.5h1M1,12.5h3M0,13.5h3M18,13.5h2M0,14.5h1M1,14.5h3M9,14.5h1M21,14.5h3M28,14.5h2M3,15.5h3M7,15.5h3M21,15.5h2M29,15.5h2M31,15.5h1M0,16.5h2M2,16.5h4M8,16.5h2M10,16.5h2M26,16.5h1M0,17.5h3M15,17.5h2M17,17.5h1M18,17.5h3M24,17.5h1M3,18.5h3M28,18.5h2M30,18.5h2M1,19.5h3M7,19.5h3M10,19.5h3M15,19.5h3M4,20.5h2M0,21.5h3M3,21.5h1M13,21.5h1M14,21.5h3M17,21.5h1M18,21.5h2M24,21.5h1M25,21.5h3M8,22.5h1M12,22.5h2M26,22.5h1M27,22.5h1M8,23.5h2M21,23.5h3M31,23.5h1M20,24.5h2M23,24.5h2M0,25.5h2M2,25.5h2M30,25.5h2M1,26.5h1M12,26.5h2M20,26.5h4M29,26.5h2M31,26.5h1M12,27.5h2M18,27.5h2M22,27.5h1M23,27.5h2M25,27.5h2M27,27.5h3M0,28.5h1M12,28.5h2M14,28.5h3M21,28.5h2M7,29.5h1M9,29.5h3M21,29.5h2M23,29.5h2M1,30.5h2M5,30.5h1M11,30.5h2M20,30.5h3M23,30.5h3M2,31.5h4M15,31.5h2M20,31.5h4M25,31.5h1M26,31.5h2M28,31.5h4" stroke="#ffb8b8" stroke-width="1"/><path d="M10,0.5h2M15,0.5h2M0,1.5h1M9,1.5h1M10,1.5h2M19,1.5h1M26,1.5h2M30,1.5h2M0,2.5h4M4,2.5h1M6,2.5h2M8,2.5h1M22,2.5h1M16,3.5h3M26,3.5h3M6,4.5h2M8,4.5h2M21,4.5h2M31,4.5h1M10,5.5h3M20,5.5h1M13,6.5h2M16,6.5h1M26,6.5h2M30,7.5h2M15,8.5h2M17,8.5h4M24,8.5h2M3,9.5h4M12,9.5h2M19,9.5h1M21,9.5h2M31,9.5h1M21,10.5h4M0,11.5h3M19,11.5h2M23,11.5h2M25,13.5h1M26,13.5h2M30,13.5h2M16,14.5h2M24,14.5h2M26,14.5h2M0,15.5h3M10,15.5h3M14,15.5h3M17,15.5h4M23,15.5h2M20,16.5h3M28,16.5h2M27,17.5h3M24,18.5h4M20,19.5h1M27,19.5h2M29,19.5h3M10,20.5h4M29,20.5h2M20,21.5h4M28,21.5h4M14,22.5h1M6,23.5h1M7,23.5h1M19,23.5h1M20,23.5h1M24,23.5h4M0,24.5h1M1,24.5h3M4,24.5h1M12,24.5h2M16,24.5h4M31,24.5h1M8,25.5h3M13,25.5h3M19,25.5h1M22,25.5h3M5,26.5h3M8,26.5h2M24,26.5h3M28,26.5h1M7,27.5h2M9,27.5h3M20,27.5h2M1,28.5h3M4,28.5h3M8,28.5h4M17,28.5h1M23,28.5h2M27,28.5h2M30,28.5h2M0,29.5h2M15,29.5h1M26,29.5h1M6,30.5h4M10,30.5h1M16,30.5h4M26,30.5h2M0,31.5h2M13,31.5h1" stroke="#c8c8ff" stroke-width="1"/><path d="M17,0.5h1M23,1.5h2M18,2.5h4M0,5.5h4M21,5.5h4M8,7.5h1M1,8.5h3M4,8.5h1M15,9.5h1M16,11.5h3M14,12.5h2M3,13.5h4M7,13.5h3M10,13.5h1M15,13.5h3M28,13.5h2M21,17.5h3M23,18.5h1M14,20.5h2M24,20.5h1M3,22.5h2M5,22.5h3M3,23.5h3M13,23.5h3M5,24.5h3M30,24.5h1M10,26.5h2M3,29.5h4" stroke="#8080ff" stroke-width="1"/><path d="M10,2.5h4M16,20.5h4M9,22.5h1M14,26.5h3" stroke="#2424ff" stroke-width="1"/></pattern><pattern id="hpb" x="0" y="0" width="32" height="32" patternUnits="userSpaceOnUse"><rect width="32" height="32" fill="#f8e6ee"/><path d="M1,2.5h3M20,9.5h2M29,10.5h1M21,11.5h1M20,13.5h1M22,13.5h2M20,18.5h1M2,20.5h3M17,23.5h3M30,24.5h2M20,27.5h1M4,28.5h2M22,31.5h2" stroke="#ff1c1c" stroke-width="1"/><path d="M10,0.5h1M19,2.5h1M5,6.5h2M20,7.5h2M19,9.5h1M31,13.5h1M27,14.5h2M20,17.5h3M11,18.5h3M19,19.5h1M0,20.5h1M28,20.5h3M25,21.5h3M29,22.5h1M20,23.5h3M13,26.5h3M16,26.5h1M13,28.5h2M8,29.5h4M8,30.5h2M28,30.5h1M11,31.5h2" stroke="#ff7070" stroke-width="1"/><path d="M13,0.5h3M16,0.5h2M12,2.5h3M18,2.5h1M26,2.5h2M28,2.5h4M5,3.5h2M11,3.5h1M16,3.5h1M2,4.5h2M4,4.5h2M14,4.5h1M21,5.5h4M14,6.5h3M22,6.5h3M24,7.5h2M30,7.5h2M18,9.5h1M24,9.5h1M25,9.5h3M26,11.5h3M9,13.5h1M14,14.5h3M29,14.5h3M5,15.5h2M4,16.5h2M0,17.5h1M23,17.5h3M1,18.5h4M9,18.5h2M24,18.5h2M26,18.5h1M27,18.5h1M18,19.5h1M29,19.5h1M31,19.5h1M25,20.5h2M3,21.5h3M23,21.5h2M14,22.5h2M24,22.5h3M27,22.5h2M0,23.5h2M5,25.5h2M8,25.5h2M19,25.5h2M27,25.5h3M22,26.5h1M6,27.5h3M12,27.5h3M22,27.5h1M23,27.5h4M0,28.5h2M12,28.5h1M15,28.5h2M23,28.5h2M0,29.5h3M29,29.5h2M10,30.5h2M29,30.5h2M21,31.5h1M27,31.5h1" stroke="#ffb8b8" stroke-width="1"/><path d="M0,1.5h1M1,1.5h1M10,1.5h3M13,1.5h1M16,1.5h2M9,2.5h3M15,2.5h1M20,2.5h1M25,2.5h1M1,3.5h2M14,3.5h2M17,3.5h3M20,3.5h4M24,3.5h2M30,3.5h2M0,4.5h2M7,4.5h2M13,4.5h1M23,4.5h2M3,5.5h3M8,5.5h2M27,5.5h2M31,5.5h1M0,6.5h3M3,6.5h2M31,6.5h1M0,7.5h1M1,7.5h1M10,7.5h2M12,7.5h3M16,7.5h2M26,7.5h2M5,8.5h3M16,8.5h2M26,8.5h1M28,8.5h3M31,8.5h1M3,9.5h1M5,9.5h1M12,9.5h1M13,9.5h1M16,9.5h1M28,9.5h3M31,9.5h1M5,10.5h2M22,10.5h3M30,10.5h2M4,11.5h3M7,11.5h4M11,11.5h4M18,11.5h1M22,11.5h3M25,11.5h1M0,12.5h4M4,12.5h3M13,12.5h2M15,12.5h4M23,12.5h2M25,12.5h2M27,12.5h4M0,13.5h3M5,13.5h4M10,13.5h1M25,13.5h4M4,14.5h2M10,14.5h4M17,14.5h4M7,15.5h2M10,15.5h1M11,15.5h3M17,15.5h1M22,15.5h3M27,15.5h4M9,16.5h3M16,16.5h4M6,17.5h2M30,17.5h2M0,18.5h1M15,18.5h3M21,18.5h1M22,18.5h2M29,18.5h2M3,19.5h1M8,19.5h1M10,19.5h2M12,19.5h2M14,19.5h2M20,19.5h2M22,19.5h1M26,19.5h2M28,19.5h1M30,19.5h1M6,20.5h3M9,20.5h1M15,20.5h1M24,20.5h1M27,20.5h1M1,21.5h1M6,21.5h2M8,21.5h3M15,21.5h1M16,21.5h3M10,22.5h1M11,22.5h3M18,22.5h2M20,22.5h4M30,22.5h2M6,23.5h3M10,23.5h3M13,23.5h3M0,24.5h2M2,24.5h3M7,24.5h4M11,24.5h2M23,24.5h1M10,25.5h1M11,25.5h2M16,25.5h1M18,25.5h1M30,25.5h2M11,26.5h1M12,26.5h1M17,26.5h3M23,26.5h3M26,26.5h3M31,26.5h1M0,27.5h1M3,27.5h1M4,27.5h2M11,27.5h1M6,28.5h4M28,28.5h1M31,28.5h1M6,29.5h2M12,29.5h1M15,29.5h3M23,29.5h2M31,29.5h1M1,30.5h1M5,30.5h1M12,30.5h2M14,30.5h2M31,30.5h1M25,31.5h2M28,31.5h2M30,31.5h1" stroke="#c8c8ff" stroke-width="1"/><path d="M7,1.5h3M18,1.5h3M25,1.5h2M4,2.5h3M16,2.5h2M0,3.5h1M7,3.5h4M26,3.5h2M28,3.5h2M6,4.5h1M9,4.5h1M16,4.5h1M29,4.5h1M0,5.5h1M1,5.5h2M6,5.5h2M10,5.5h2M12,5.5h4M16,5.5h2M29,5.5h2M12,6.5h2M17,6.5h2M25,6.5h2M28,6.5h2M30,6.5h1M22,8.5h1M27,8.5h1M9,9.5h3M22,9.5h2M7,10.5h3M17,10.5h1M10,12.5h3M19,12.5h4M31,12.5h1M24,13.5h1M29,13.5h2M6,14.5h4M14,15.5h2M31,15.5h1M0,16.5h4M12,16.5h4M25,16.5h1M3,17.5h3M9,17.5h2M15,17.5h3M0,19.5h3M6,19.5h2M9,19.5h1M1,20.5h1M10,20.5h2M12,20.5h3M19,20.5h2M21,20.5h2M0,21.5h1M2,21.5h1M31,21.5h1M4,22.5h2M17,22.5h1M2,23.5h4M23,23.5h3M5,24.5h2M16,24.5h3M24,24.5h3M3,25.5h2M17,25.5h1M25,25.5h2M7,26.5h4M29,26.5h2M16,27.5h4M27,27.5h4M31,27.5h1M17,28.5h1M20,28.5h2M29,28.5h2M3,29.5h1M4,29.5h2M20,29.5h2M6,30.5h2M20,30.5h3M0,31.5h1M1,31.5h3M5,31.5h1M13,31.5h3M24,31.5h1" stroke="#8080ff" stroke-width="1"/><path d="M2,1.5h2M4,1.5h3M3,3.5h2M10,4.5h1M11,4.5h2M17,4.5h3M20,4.5h3M2,7.5h3M6,7.5h4M28,7.5h2M3,8.5h2M17,9.5h1M0,10.5h3M4,10.5h1M25,10.5h4M0,11.5h2M19,11.5h2M7,12.5h3M3,13.5h2M21,13.5h1M21,14.5h4M4,15.5h1M16,15.5h1M18,15.5h2M20,15.5h2M25,15.5h1M26,15.5h1M28,16.5h4M1,17.5h2M26,17.5h2M5,18.5h1M6,18.5h3M23,19.5h3M23,20.5h1M31,20.5h1M6,22.5h4M16,22.5h1M30,23.5h2M13,24.5h1M27,24.5h3M15,27.5h1M18,29.5h2M0,30.5h1M6,31.5h2M8,31.5h1M16,31.5h2" stroke="#2424ff" stroke-width="1"/></pattern><pattern id="hpB" x="0" y="0" width="32" height="32" patternUnits="userSpaceOnUse"><rect width="32" height="32" fill="#f8e6ee"/><path d="M26,1.5h3M29,1.5h1M20,2.5h4M15,4.5h2M15,7.5h2M31,9.5h1M1,10.5h4M30,14.5h1M31,15.5h1M13,21.5h3M15,23.5h3M5,24.5h1M4,25.5h2M11,25.5h1M31,25.5h1M24,26.5h2M26,26.5h3M7,27.5h2" stroke="#ffb8b8" stroke-width="1"/><path d="M27,0.5h4M17,1.5h4M19,2.5h1M24,2.5h1M4,3.5h2M25,3.5h1M12,4.5h3M17,4.5h2M28,6.5h3M20,7.5h1M2,8.5h1M0,10.5h1M4,15.5h2M14,15.5h3M22,15.5h1M28,15.5h3M17,17.5h1M28,17.5h4M28,18.5h1M13,20.5h3M5,21.5h2M21,21.5h1M27,21.5h1M31,22.5h1M7,23.5h1M18,23.5h3M25,23.5h1M7,24.5h2M12,24.5h1M27,24.5h2M2,25.5h2M25,25.5h2M16,26.5h3M0,27.5h3M26,27.5h2M29,27.5h2M31,27.5h1M27,28.5h3M31,28.5h1M13,29.5h2M27,29.5h1M29,29.5h2M12,30.5h3M21,30.5h4M5,31.5h2" stroke="#c8c8ff" stroke-width="1"/><path d="M0,0.5h3M6,0.5h3M9,0.5h3M12,0.5h1M14,0.5h3M21,0.5h2M23,0.5h4M0,1.5h3M3,1.5h3M6,1.5h2M10,1.5h3M24,1.5h2M4,2.5h4M8,2.5h4M31,2.5h1M15,3.5h1M29,3.5h2M21,4.5h1M3,5.5h2M19,5.5h1M27,5.5h4M11,6.5h1M15,6.5h2M24,6.5h3M0,7.5h4M4,7.5h3M12,7.5h3M17,7.5h2M19,7.5h1M24,7.5h1M22,8.5h3M25,8.5h1M28,8.5h3M6,9.5h2M9,9.5h1M11,9.5h1M12,9.5h3M15,9.5h3M24,9.5h1M25,9.5h2M30,9.5h1M5,10.5h1M14,10.5h4M23,10.5h3M26,10.5h1M4,11.5h2M12,11.5h1M20,11.5h1M25,11.5h1M29,11.5h1M0,12.5h2M10,12.5h2M14,12.5h3M27,12.5h3M30,12.5h2M4,13.5h1M5,13.5h3M12,13.5h2M14,13.5h3M21,13.5h2M24,13.5h1M10,14.5h1M16,14.5h1M19,14.5h1M20,14.5h2M29,14.5h1M31,14.5h1M0,15.5h4M23,15.5h2M27,15.5h1M21,16.5h3M24,16.5h2M29,16.5h1M0,17.5h1M11,17.5h4M15,17.5h2M19,17.5h3M24,17.5h4M4,18.5h2M6,18.5h2M8,18.5h2M11,18.5h1M12,18.5h1M13,18.5h3M20,18.5h3M23,18.5h1M29,18.5h1M30,18.5h2M2,19.5h1M8,19.5h2M28,19.5h4M5,20.5h2M16,20.5h3M19,20.5h2M27,20.5h3M30,20.5h2M2,21.5h1M12,21.5h1M16,21.5h2M18,21.5h3M22,21.5h2M7,22.5h1M9,22.5h4M3,23.5h2M5,23.5h2M13,23.5h1M21,23.5h2M30,23.5h1M9,24.5h3M15,24.5h1M20,24.5h2M22,24.5h2M0,25.5h2M6,25.5h1M12,25.5h1M13,25.5h2M0,26.5h1M29,26.5h3M3,27.5h2M15,27.5h3M18,27.5h2M23,27.5h2M11,28.5h1M12,28.5h4M25,28.5h2M3,29.5h2M5,29.5h2M24,29.5h1M31,29.5h1M0,30.5h3M7,30.5h2M7,31.5h2M9,31.5h2M12,31.5h4M16,31.5h4M20,31.5h2M22,31.5h1" stroke="#8080ff" stroke-width="1"/><path d="M3,0.5h3M13,0.5h1M17,0.5h4M31,0.5h1M8,1.5h2M13,1.5h4M30,1.5h2M12,2.5h2M14,2.5h3M17,2.5h2M25,2.5h1M26,2.5h1M27,2.5h1M28,2.5h3M0,3.5h1M1,3.5h3M6,3.5h2M8,3.5h4M12,3.5h2M16,3.5h1M17,3.5h2M20,3.5h2M22,3.5h3M26,3.5h3M31,3.5h1M0,4.5h4M4,4.5h2M6,4.5h1M7,4.5h1M8,4.5h1M9,4.5h3M19,4.5h1M20,4.5h1M25,4.5h2M30,4.5h2M0,5.5h3M9,5.5h2M13,5.5h3M16,5.5h3M23,5.5h2M25,5.5h2M0,6.5h2M2,6.5h1M3,6.5h1M4,6.5h3M7,6.5h2M9,6.5h2M12,6.5h1M13,6.5h2M19,6.5h1M20,6.5h2M22,6.5h1M23,6.5h1M27,6.5h1M31,6.5h1M7,7.5h2M9,7.5h3M21,7.5h3M25,7.5h1M26,7.5h2M28,7.5h4M0,8.5h2M3,8.5h2M5,8.5h2M7,8.5h3M10,8.5h1M11,8.5h2M13,8.5h3M16,8.5h3M19,8.5h1M20,8.5h2M26,8.5h2M31,8.5h1M0,9.5h3M3,9.5h3M8,9.5h1M10,9.5h1M18,9.5h4M22,9.5h2M27,9.5h3M6,10.5h3M9,10.5h2M11,10.5h3M21,10.5h1M22,10.5h1M27,10.5h2M29,10.5h2M31,10.5h1M0,11.5h4M6,11.5h1M7,11.5h1M8,11.5h2M10,11.5h2M13,11.5h4M17,11.5h3M21,11.5h1M22,11.5h3M26,11.5h1M27,11.5h1M28,11.5h1M30,11.5h2M2,12.5h1M3,12.5h1M4,12.5h2M6,12.5h2M8,12.5h1M9,12.5h1M12,12.5h2M19,12.5h2M21,12.5h2M23,12.5h1M24,12.5h1M25,12.5h2M0,13.5h4M8,13.5h2M10,13.5h1M11,13.5h1M17,13.5h1M18,13.5h2M20,13.5h1M23,13.5h1M29,13.5h3M0,14.5h3M3,14.5h2M5,14.5h2M7,14.5h2M9,14.5h1M11,14.5h1M12,14.5h1M17,14.5h2M22,14.5h2M24,14.5h4M28,14.5h1M6,15.5h1M7,15.5h2M9,15.5h2M11,15.5h3M17,15.5h1M19,15.5h1M20,15.5h2M25,15.5h2M0,16.5h3M3,16.5h4M7,16.5h2M9,16.5h2M11,16.5h4M16,16.5h3M19,16.5h2M26,16.5h1M27,16.5h1M28,16.5h1M30,16.5h2M1,17.5h1M2,17.5h3M5,17.5h1M6,17.5h4M10,17.5h1M18,17.5h1M22,17.5h2M0,18.5h2M2,18.5h1M3,18.5h1M10,18.5h1M16,18.5h4M25,18.5h3M0,19.5h2M3,19.5h1M4,19.5h4M10,19.5h2M12,19.5h4M16,19.5h4M20,19.5h3M23,19.5h2M25,19.5h2M27,19.5h1M2,20.5h3M9,20.5h1M10,20.5h3M21,20.5h3M24,20.5h3M0,21.5h1M3,21.5h2M7,21.5h2M9,21.5h2M11,21.5h1M24,21.5h3M28,21.5h3M31,21.5h1M0,22.5h3M3,22.5h4M8,22.5h1M13,22.5h4M17,22.5h1M18,22.5h4M22,22.5h4M26,22.5h1M27,22.5h4M0,23.5h2M2,23.5h1M8,23.5h2M10,23.5h3M14,23.5h1M23,23.5h2M26,23.5h4M31,23.5h1M0,24.5h2M6,24.5h1M13,24.5h2M16,24.5h4M24,24.5h3M29,24.5h3M7,25.5h4M19,25.5h3M22,25.5h3M27,25.5h4M2,26.5h4M6,26.5h4M10,26.5h2M12,26.5h4M21,26.5h3M5,27.5h2M9,27.5h2M11,27.5h2M13,27.5h1M14,27.5h1M20,27.5h1M21,27.5h2M25,27.5h1M28,27.5h1M0,28.5h3M3,28.5h4M7,28.5h4M16,28.5h1M20,28.5h1M21,28.5h4M30,28.5h1M0,29.5h1M1,29.5h2M7,29.5h4M11,29.5h2M15,29.5h4M19,29.5h3M25,29.5h1M26,29.5h1M28,29.5h1M3,30.5h1M4,30.5h3M9,30.5h3M15,30.5h2M17,30.5h1M25,30.5h2M27,30.5h2M29,30.5h1M30,30.5h2M0,31.5h1M1,31.5h4M11,31.5h1M23,31.5h4M27,31.5h2M29,31.5h1M30,31.5h1M31,31.5h1" stroke="#2424ff" stroke-width="1"/></pattern><pattern id="hpP" x="0" y="0" width="32" height="32" patternUnits="userSpaceOnUse"><rect width="32" height="32" fill="#f8e6ee"/><path d="M16,0.5h4M20,0.5h1M30,0.5h1M1,1.5h1M10,1.5h1M25,1.5h3M0,2.5h2M3,2.5h3M8,2.5h1M16,2.5h2M19,2.5h1M20,2.5h2M26,2.5h4M8,3.5h2M13,3.5h2M17,3.5h1M21,3.5h1M30,3.5h2M1,4.5h1M5,4.5h3M9,4.5h1M18,4.5h3M27,4.5h1M28,4.5h3M31,4.5h1M5,5.5h2M14,5.5h1M23,5.5h1M24,5.5h3M10,6.5h2M19,6.5h1M24,6.5h2M30,6.5h2M0,7.5h1M1,7.5h1M14,7.5h1M4,8.5h1M8,8.5h3M15,8.5h2M19,8.5h3M28,8.5h1M16,9.5h2M18,9.5h2M18,10.5h2M29,11.5h2M31,11.5h1M6,12.5h3M17,12.5h1M19,12.5h2M24,12.5h2M17,13.5h2M25,13.5h3M0,14.5h1M22,14.5h3M28,14.5h2M2,15.5h2M4,15.5h1M8,15.5h4M19,15.5h3M25,15.5h3M4,16.5h3M22,16.5h3M8,17.5h3M29,17.5h3M27,18.5h2M29,18.5h3M4,19.5h2M10,19.5h1M29,19.5h3M0,20.5h1M1,20.5h1M3,20.5h2M7,20.5h2M20,20.5h1M21,20.5h3M24,20.5h2M26,20.5h1M7,21.5h1M8,21.5h2M25,21.5h1M26,21.5h1M27,21.5h1M28,21.5h3M9,22.5h2M0,23.5h4M6,23.5h2M28,23.5h2M2,24.5h1M7,24.5h1M13,24.5h3M31,24.5h1M0,25.5h1M8,25.5h4M21,25.5h2M23,25.5h1M28,25.5h2M30,25.5h2M0,26.5h1M3,26.5h2M19,26.5h2M21,26.5h3M21,27.5h1M22,27.5h2M14,28.5h2M19,28.5h1M26,28.5h1M4,29.5h1M14,29.5h2M16,29.5h4M9,30.5h1M10,30.5h1M11,30.5h3M16,31.5h1M22,31.5h2M24,31.5h2" stroke="#ff1c1c" stroke-width="1"/><path d="M10,0.5h2M12,0.5h3M22,0.5h2M27,0.5h1M5,1.5h3M8,1.5h2M11,1.5h3M14,1.5h1M15,1.5h2M18,1.5h3M21,1.5h1M22,1.5h1M31,1.5h1M6,2.5h1M7,2.5h1M9,2.5h3M2,3.5h3M5,3.5h2M15,3.5h2M18,3.5h3M25,3.5h1M0,4.5h1M2,4.5h3M16,4.5h2M21,4.5h2M7,5.5h1M9,5.5h1M10,5.5h2M15,5.5h1M16,5.5h2M19,5.5h2M29,5.5h3M2,6.5h1M17,6.5h2M20,6.5h1M28,6.5h2M2,7.5h4M9,7.5h1M24,7.5h1M31,7.5h1M1,8.5h3M5,8.5h2M7,8.5h1M11,8.5h4M17,8.5h2M24,8.5h2M29,8.5h3M0,9.5h2M10,9.5h3M23,9.5h1M24,9.5h2M26,9.5h2M4,10.5h1M7,10.5h2M14,10.5h4M8,11.5h4M18,11.5h1M2,12.5h3M5,12.5h1M9,12.5h1M23,12.5h1M26,12.5h2M28,12.5h3M31,12.5h1M7,13.5h1M24,13.5h1M31,13.5h1M8,14.5h1M9,14.5h2M11,14.5h4M25,14.5h2M27,14.5h1M5,15.5h3M12,15.5h1M17,15.5h1M18,15.5h1M28,15.5h2M31,15.5h1M0,16.5h4M18,16.5h2M20,16.5h2M28,16.5h2M30,16.5h2M0,17.5h1M11,17.5h4M17,17.5h4M25,17.5h3M3,18.5h1M15,18.5h2M17,18.5h1M25,18.5h1M11,19.5h3M17,19.5h2M2,20.5h1M12,20.5h2M14,20.5h3M17,20.5h3M27,20.5h3M0,21.5h2M10,21.5h2M17,21.5h1M20,21.5h2M22,21.5h2M31,21.5h1M3,22.5h1M14,22.5h4M18,22.5h2M20,22.5h1M21,22.5h3M24,22.5h1M25,22.5h1M26,22.5h2M28,22.5h4M9,23.5h2M17,23.5h1M18,23.5h1M23,23.5h3M30,23.5h2M0,24.5h2M3,24.5h2M6,24.5h1M8,24.5h2M10,24.5h3M27,24.5h2M4,25.5h4M12,25.5h2M14,25.5h3M17,25.5h1M20,25.5h1M1,26.5h2M11,27.5h2M13,27.5h1M24,27.5h2M26,27.5h1M3,28.5h3M10,28.5h4M20,28.5h2M30,28.5h2M1,29.5h3M10,29.5h1M24,29.5h2M26,29.5h3M0,30.5h2M5,30.5h2M14,30.5h1M15,30.5h1M16,30.5h2M22,30.5h3M25,30.5h3M3,31.5h3M28,31.5h1" stroke="#ff7070" stroke-width="1"/><path d="M4,0.5h3M7,0.5h3M15,0.5h1M21,0.5h1M24,1.5h1M18,2.5h1M24,2.5h2M30,2.5h1M0,3.5h2M7,3.5h1M24,3.5h1M26,3.5h2M28,3.5h2M8,4.5h1M14,4.5h2M8,5.5h1M12,5.5h2M21,5.5h2M0,6.5h2M3,6.5h4M9,6.5h1M12,6.5h2M14,6.5h1M17,7.5h1M18,7.5h2M28,7.5h3M0,8.5h1M26,8.5h2M2,9.5h3M9,9.5h1M9,10.5h3M12,10.5h2M20,10.5h3M23,10.5h3M31,10.5h1M0,11.5h1M4,11.5h3M7,11.5h1M12,11.5h4M16,11.5h1M20,11.5h3M0,12.5h2M12,12.5h2M18,12.5h1M4,13.5h3M9,13.5h3M1,14.5h4M5,14.5h1M15,14.5h1M13,15.5h2M15,15.5h2M9,16.5h3M25,16.5h3M15,17.5h2M21,17.5h4M0,18.5h2M2,18.5h1M21,18.5h4M0,19.5h3M3,19.5h1M6,19.5h2M19,19.5h2M12,21.5h1M13,21.5h4M18,21.5h2M24,21.5h1M0,22.5h3M5,22.5h4M8,23.5h1M15,23.5h2M19,23.5h1M16,24.5h3M19,24.5h4M29,24.5h2M1,25.5h2M5,26.5h2M7,26.5h3M15,26.5h2M24,26.5h2M27,26.5h3M0,27.5h2M2,27.5h1M3,27.5h2M5,27.5h1M14,27.5h2M16,27.5h4M20,27.5h1M27,27.5h3M23,28.5h3M29,28.5h1M5,29.5h1M20,29.5h4M31,29.5h1M7,30.5h2M30,30.5h2M26,31.5h2" stroke="#ffb8b8" stroke-width="1"/><path d="M24,0.5h3M23,1.5h1M22,2.5h2M10,3.5h3M23,4.5h1M27,5.5h2M7,6.5h2M15,7.5h2M22,7.5h2M20,9.5h3M29,9.5h3M5,10.5h2M26,10.5h2M1,11.5h3M10,12.5h2M14,12.5h3M19,13.5h4M12,16.5h3M28,17.5h1M12,18.5h3M5,21.5h2M4,23.5h2M11,23.5h4M20,23.5h3M18,25.5h2M24,25.5h4M13,26.5h2M17,26.5h2M30,27.5h2M0,28.5h3M6,28.5h2M22,28.5h1M27,28.5h2M11,29.5h3M29,29.5h2M20,30.5h2M7,31.5h2" stroke="#c8c8ff" stroke-width="1"/><path d="M17,1.5h1M2,2.5h1M12,2.5h4M6,7.5h1M10,7.5h4M13,9.5h3M28,10.5h3M27,11.5h2M23,13.5h1M28,13.5h3M7,16.5h2M1,17.5h4M4,18.5h3M8,19.5h2M23,19.5h2M25,19.5h4M4,22.5h1M30,26.5h2M0,29.5h1M9,31.5h4M17,31.5h3M20,31.5h2" stroke="#8080ff" stroke-width="1"/><path d="M0,10.5h1M17,11.5h1M8,13.5h1M12,13.5h2M15,16.5h3M15,19.5h1M21,19.5h2M9,20.5h2M23,24.5h4M13,31.5h3" stroke="#2424ff" stroke-width="1"/></pattern><pattern id="hpW" x="0" y="0" width="32" height="32" patternUnits="userSpaceOnUse"><rect width="32" height="32" fill="#f8e6ee"/><path d="M13,6.5h2M20,15.5h1M6,22.5h1M21,22.5h2M20,23.5h1M11,26.5h2M23,27.5h2M19,31.5h4" stroke="#ff1c1c" stroke-width="1"/><path d="M0,0.5h1M8,1.5h1M16,1.5h2M26,2.5h3M26,3.5h2M27,4.5h1M5,6.5h2M21,8.5h2M31,8.5h1M9,11.5h1M29,11.5h3M0,12.5h2M29,12.5h3M22,13.5h4M0,14.5h1M8,16.5h2M25,16.5h4M22,17.5h2M22,19.5h1M23,20.5h1M19,21.5h2M23,22.5h2M21,25.5h1M3,27.5h4M9,27.5h2M30,27.5h1M8,28.5h2M25,28.5h3M10,29.5h1M22,29.5h1M18,30.5h2M29,30.5h3M25,31.5h1" stroke="#ff7070" stroke-width="1"/><path d="M1,0.5h1M8,0.5h2M10,0.5h1M14,0.5h2M17,0.5h3M26,0.5h1M27,0.5h2M2,1.5h3M20,1.5h2M23,1.5h2M26,1.5h1M30,1.5h1M3,2.5h2M4,3.5h2M13,3.5h1M17,3.5h4M31,3.5h1M8,4.5h1M11,4.5h4M15,4.5h1M20,4.5h2M22,4.5h1M24,4.5h3M9,5.5h3M12,5.5h2M20,5.5h2M22,5.5h2M24,5.5h3M29,5.5h3M22,6.5h2M26,6.5h2M28,6.5h2M2,7.5h2M10,7.5h3M17,7.5h1M25,7.5h1M0,8.5h3M4,8.5h2M27,8.5h1M0,9.5h2M2,9.5h2M6,9.5h2M8,9.5h1M9,9.5h1M18,9.5h4M24,9.5h2M29,9.5h3M0,10.5h3M20,10.5h2M22,10.5h1M23,10.5h4M7,11.5h1M10,11.5h4M15,11.5h3M25,11.5h1M26,11.5h1M27,11.5h2M9,12.5h1M14,12.5h1M21,12.5h2M26,12.5h3M6,13.5h1M16,13.5h1M17,13.5h1M7,14.5h3M13,14.5h4M22,14.5h2M24,14.5h2M0,15.5h3M3,15.5h1M6,15.5h2M11,15.5h1M12,15.5h1M15,15.5h2M30,15.5h2M3,16.5h2M5,16.5h2M11,16.5h3M14,16.5h1M15,16.5h1M16,16.5h1M20,16.5h1M30,16.5h2M27,17.5h4M31,17.5h1M0,18.5h2M7,18.5h4M14,18.5h1M15,18.5h3M25,18.5h1M26,18.5h3M31,18.5h1M6,19.5h3M26,19.5h1M0,20.5h3M6,20.5h2M8,20.5h3M19,20.5h2M5,21.5h3M10,21.5h2M15,21.5h1M16,21.5h2M21,21.5h2M3,22.5h3M25,22.5h2M27,22.5h2M29,22.5h2M9,23.5h1M24,23.5h2M14,24.5h1M15,24.5h1M17,24.5h4M21,24.5h2M30,24.5h2M8,25.5h2M10,25.5h2M16,25.5h1M29,25.5h3M4,26.5h2M23,26.5h1M24,26.5h1M25,26.5h3M30,26.5h1M7,27.5h2M11,27.5h4M15,27.5h4M19,27.5h1M25,27.5h3M28,27.5h2M0,28.5h3M3,28.5h2M5,28.5h3M10,28.5h2M18,28.5h1M6,29.5h2M8,29.5h1M9,29.5h1M11,29.5h2M19,29.5h2M26,29.5h1M7,30.5h1M13,30.5h2M15,30.5h3M20,30.5h2M25,30.5h2M5,31.5h2M7,31.5h3M11,31.5h2M16,31.5h3" stroke="#ffb8b8" stroke-width="1"/><path d="M2,0.5h1M25,0.5h1M6,2.5h3M16,2.5h1M23,2.5h1M24,2.5h1M1,3.5h2M0,4.5h2M2,4.5h3M9,4.5h2M16,4.5h2M28,4.5h4M0,5.5h3M3,5.5h4M15,6.5h3M18,6.5h4M24,6.5h2M4,7.5h4M13,7.5h2M18,7.5h1M19,7.5h2M23,7.5h2M10,9.5h1M11,9.5h1M8,10.5h1M13,10.5h1M27,10.5h2M0,11.5h3M14,11.5h1M15,12.5h4M5,13.5h1M7,13.5h2M18,13.5h2M20,13.5h2M28,13.5h2M30,13.5h2M21,15.5h2M23,15.5h2M0,17.5h3M24,17.5h3M3,18.5h1M4,18.5h1M5,18.5h2M20,18.5h2M23,18.5h2M1,19.5h4M5,19.5h1M9,19.5h4M16,19.5h2M30,19.5h1M31,19.5h1M29,20.5h2M0,21.5h3M1,22.5h2M5,23.5h4M30,23.5h2M3,24.5h2M11,24.5h3M26,24.5h4M19,25.5h1M20,25.5h1M9,26.5h2M20,26.5h3M31,26.5h1M20,27.5h3M31,28.5h1M0,29.5h2M21,29.5h1M4,30.5h3M13,31.5h1M15,31.5h1M23,31.5h2" stroke="#c8c8ff" stroke-width="1"/><path d="M31,0.5h1M29,2.5h2M3,6.5h2M30,10.5h2M5,12.5h1M13,13.5h1M17,15.5h1M26,15.5h1M18,17.5h2M20,19.5h2M14,20.5h3M8,21.5h2M10,23.5h3M24,24.5h2" stroke="#8080ff" stroke-width="1"/></pattern><pattern id="hpQ" x="0" y="0" width="32" height="32" patternUnits="userSpaceOnUse"><rect width="32" height="32" fill="#f8e6ee"/><path d="M8,7.5h1M14,11.5h2M20,23.5h1M12,26.5h3M27,31.5h2" stroke="#ff1c1c" stroke-width="1"/><path d="M30,4.5h1M22,7.5h2M2,8.5h1M1,16.5h3M13,18.5h1M21,20.5h2M13,23.5h1M28,23.5h1M7,27.5h4M18,28.5h3M10,29.5h1M23,31.5h3" stroke="#ff7070" stroke-width="1"/><path d="M27,3.5h1M25,9.5h4M3,11.5h2M16,11.5h3M23,15.5h3M7,17.5h2M14,18.5h2M17,20.5h2M27,20.5h1M22,21.5h1M26,21.5h2M0,24.5h3M9,24.5h2M24,25.5h3M13,27.5h1M0,30.5h2M7,30.5h1M29,30.5h3" stroke="#ffb8b8" stroke-width="1"/><path d="M9,0.5h2M11,0.5h3M16,0.5h3M20,0.5h2M25,0.5h2M27,0.5h3M15,1.5h3M30,1.5h2M5,2.5h2M30,2.5h1M31,2.5h1M8,3.5h4M23,3.5h3M11,4.5h2M16,4.5h2M23,4.5h2M25,4.5h2M0,5.5h3M3,5.5h2M10,5.5h2M14,5.5h4M18,5.5h3M0,6.5h1M0,7.5h4M9,7.5h2M30,7.5h2M13,8.5h3M1,9.5h1M7,9.5h1M14,9.5h1M20,9.5h3M24,9.5h1M25,10.5h2M0,11.5h1M1,11.5h2M10,11.5h2M13,11.5h1M28,11.5h2M30,11.5h2M2,12.5h2M21,12.5h2M30,12.5h2M2,13.5h1M6,13.5h2M8,13.5h2M16,13.5h1M17,13.5h2M19,13.5h1M14,14.5h2M16,14.5h2M1,15.5h2M16,15.5h2M30,15.5h1M4,16.5h2M8,16.5h2M28,16.5h1M30,16.5h2M9,17.5h1M10,17.5h1M23,17.5h2M28,17.5h4M0,18.5h3M3,18.5h2M7,18.5h3M25,18.5h4M31,19.5h1M1,20.5h4M5,20.5h1M9,20.5h4M23,21.5h2M13,22.5h4M20,22.5h1M4,23.5h1M14,23.5h2M16,23.5h4M30,23.5h1M31,23.5h1M5,24.5h3M27,24.5h2M2,25.5h2M4,25.5h2M7,25.5h1M10,25.5h2M27,25.5h3M9,26.5h1M22,26.5h4M21,27.5h4M25,27.5h1M24,28.5h2M29,28.5h2M0,29.5h2M8,29.5h2M15,30.5h3M18,30.5h3M25,30.5h1M0,31.5h1M1,31.5h1M18,31.5h3" stroke="#c8c8ff" stroke-width="1"/><path d="M6,0.5h3M31,0.5h1M3,1.5h2M8,1.5h3M11,1.5h2M23,1.5h1M25,1.5h2M0,2.5h2M7,2.5h1M8,2.5h2M10,2.5h4M15,2.5h4M22,2.5h1M23,2.5h2M25,2.5h1M26,2.5h1M27,2.5h3M2,3.5h4M6,3.5h2M15,3.5h2M18,3.5h2M26,3.5h1M31,3.5h1M4,4.5h1M7,4.5h1M31,4.5h1M5,5.5h2M21,5.5h1M22,5.5h2M24,5.5h1M26,5.5h3M18,6.5h2M21,6.5h1M12,7.5h3M17,7.5h3M24,7.5h1M27,7.5h3M5,8.5h4M17,8.5h2M28,8.5h3M2,9.5h1M8,9.5h2M10,9.5h3M31,9.5h1M10,10.5h3M13,10.5h3M17,10.5h2M22,10.5h3M27,10.5h3M23,11.5h3M0,12.5h2M6,12.5h3M9,12.5h3M18,12.5h2M23,12.5h2M29,12.5h1M0,13.5h2M20,13.5h4M28,13.5h1M29,13.5h1M6,14.5h4M25,14.5h4M29,14.5h1M30,14.5h1M31,14.5h1M0,15.5h1M6,15.5h3M14,15.5h1M18,15.5h1M19,15.5h4M26,15.5h2M28,15.5h2M11,16.5h1M13,16.5h4M17,16.5h3M22,16.5h2M24,16.5h3M29,16.5h1M0,17.5h2M2,17.5h2M11,17.5h3M14,17.5h1M18,17.5h3M21,17.5h2M5,18.5h2M19,18.5h1M21,18.5h4M29,18.5h2M31,18.5h1M0,19.5h4M4,19.5h1M5,19.5h2M7,19.5h3M10,19.5h4M14,19.5h3M19,19.5h2M25,19.5h4M23,20.5h4M28,20.5h3M31,20.5h1M15,21.5h1M16,21.5h2M20,21.5h2M28,21.5h3M31,21.5h1M0,22.5h4M4,22.5h2M10,22.5h2M12,22.5h1M17,22.5h3M21,22.5h2M25,22.5h4M29,22.5h2M0,23.5h1M1,23.5h3M5,23.5h1M11,23.5h1M12,23.5h1M23,23.5h2M25,23.5h3M3,24.5h2M8,24.5h1M11,24.5h3M22,24.5h1M25,24.5h2M29,24.5h2M31,24.5h1M0,25.5h2M22,25.5h2M3,26.5h2M10,26.5h1M11,26.5h1M17,26.5h2M28,26.5h1M31,26.5h1M4,27.5h3M15,27.5h3M18,27.5h1M19,27.5h2M28,27.5h3M6,28.5h4M14,28.5h3M2,29.5h4M6,29.5h1M13,29.5h2M17,29.5h1M30,29.5h2M10,30.5h1M11,30.5h4M21,30.5h4M26,30.5h3M26,31.5h1" stroke="#8080ff" stroke-width="1"/><path d="M0,0.5h1M4,0.5h2M14,0.5h2M19,0.5h1M24,0.5h1M30,0.5h1M0,1.5h3M27,1.5h3M2,2.5h3M14,2.5h1M19,2.5h3M12,3.5h3M17,3.5h1M20,3.5h3M0,4.5h3M3,4.5h1M5,4.5h2M8,4.5h3M18,4.5h3M21,4.5h2M7,5.5h3M12,5.5h2M25,5.5h1M29,5.5h3M1,6.5h1M2,6.5h2M4,6.5h3M7,6.5h4M11,6.5h3M14,6.5h4M20,6.5h1M22,6.5h3M30,6.5h1M31,6.5h1M4,7.5h4M20,7.5h2M25,7.5h2M0,8.5h2M3,8.5h2M9,8.5h1M10,8.5h2M12,8.5h1M16,8.5h1M22,8.5h2M24,8.5h4M31,8.5h1M0,9.5h1M3,9.5h2M5,9.5h2M13,9.5h1M15,9.5h3M18,9.5h2M23,9.5h1M29,9.5h2M4,10.5h2M6,10.5h4M16,10.5h1M19,10.5h3M30,10.5h2M8,11.5h2M26,11.5h1M27,11.5h1M12,12.5h2M14,12.5h2M16,12.5h2M25,12.5h4M3,13.5h1M4,13.5h2M24,13.5h4M30,13.5h2M2,14.5h2M4,14.5h2M10,14.5h4M22,14.5h3M3,15.5h1M4,15.5h2M9,15.5h1M15,15.5h1M6,16.5h2M12,16.5h1M27,16.5h1M4,17.5h3M15,17.5h3M10,18.5h3M16,18.5h3M17,19.5h2M21,19.5h2M29,19.5h2M0,20.5h1M6,20.5h3M13,20.5h4M0,21.5h4M4,21.5h4M9,21.5h2M18,21.5h2M25,21.5h1M8,23.5h3M21,23.5h2M29,23.5h1M14,24.5h1M15,24.5h1M16,24.5h3M19,24.5h3M23,24.5h2M6,25.5h1M8,25.5h2M12,25.5h3M15,25.5h1M16,25.5h1M17,25.5h2M30,25.5h2M0,26.5h3M5,26.5h4M15,26.5h2M19,26.5h1M20,26.5h2M26,26.5h2M29,26.5h2M11,27.5h2M26,27.5h2M31,27.5h1M0,28.5h1M1,28.5h2M3,28.5h2M5,28.5h1M10,28.5h3M13,28.5h1M21,28.5h3M26,28.5h3M31,28.5h1M11,29.5h2M15,29.5h2M18,29.5h2M20,29.5h4M24,29.5h2M26,29.5h4M2,30.5h3M8,30.5h1M2,31.5h4M6,31.5h4M10,31.5h2M12,31.5h4M16,31.5h2M21,31.5h2M29,31.5h2M31,31.5h1" stroke="#2424ff" stroke-width="1"/></pattern></defs>
<filter id="hsoft" x="0" y="0" width="1" height="1" filterUnits="objectBoundingBox"><feConvolveMatrix order="3" kernelMatrix="1 2 1 2 10 2 1 2 1" divisor="22" edgeMode="duplicate"/></filter>
<g filter="url(#hsoft)"><g shape-rendering="crispEdges">
<rect x="28.00" y="484.70" width="7.89" height="8.17" fill="url(#hpw)"/>
<rect x="35.84" y="484.70" width="15.73" height="8.17" fill="url(#hpb)"/>
<rect x="51.52" y="484.70" width="7.89" height="8.17" fill="url(#hpw)"/>
<rect x="59.36" y="484.70" width="7.89" height="8.17" fill="url(#hpr)"/>
<rect x="67.20" y="484.70" width="7.89" height="8.17" fill="url(#hpb)"/>
<rect x="75.05" y="484.70" width="7.89" height="8.17" fill="url(#hpw)"/>
<rect x="82.89" y="484.70" width="23.57" height="8.17" fill="url(#hpr)"/>
<rect x="106.41" y="484.70" width="23.57" height="8.17" fill="url(#hpb)"/>
<rect x="129.93" y="484.70" width="7.89" height="8.17" fill="url(#hpw)"/>
<rect x="137.77" y="484.70" width="23.57" height="8.17" fill="url(#hpb)"/>
<rect x="161.30" y="484.70" width="15.73" height="8.17" fill="url(#hpr)"/>
<rect x="176.98" y="484.70" width="7.89" height="8.17" fill="url(#hpw)"/>
<rect x="184.82" y="484.70" width="15.73" height="8.17" fill="url(#hpr)"/>
<rect x="28.00" y="492.82" width="7.89" height="8.17" fill="url(#hpw)"/>
<rect x="35.84" y="492.82" width="39.25" height="8.17" fill="url(#hpb)"/>
<rect x="75.05" y="492.82" width="31.41" height="8.17" fill="url(#hpr)"/>
<rect x="106.41" y="492.82" width="7.89" height="8.17" fill="url(#hpb)"/>
<rect x="114.25" y="492.82" width="7.89" height="8.17" fill="url(#hpr)"/>
<rect x="122.09" y="492.82" width="7.89" height="8.17" fill="url(#hpb)"/>
<rect x="129.93" y="492.82" width="7.89" height="8.17" fill="url(#hpw)"/>
<rect x="137.77" y="492.82" width="7.89" height="8.17" fill="url(#hpr)"/>
<rect x="145.61" y="492.82" width="7.89" height="8.17" fill="url(#hpw)"/>
<rect x="153.45" y="492.82" width="7.89" height="8.17" fill="url(#hpb)"/>
<rect x="161.30" y="492.82" width="15.73" height="8.17" fill="url(#hpr)"/>
<rect x="176.98" y="492.82" width="7.89" height="8.17" fill="url(#hpw)"/>
<rect x="184.82" y="492.82" width="7.89" height="8.17" fill="url(#hpr)"/>
<rect x="192.66" y="492.82" width="7.89" height="8.17" fill="url(#hpb)"/>
<rect x="28.00" y="500.94" width="31.41" height="8.17" fill="url(#hpb)"/>
<rect x="59.36" y="500.94" width="7.89" height="8.17" fill="url(#hpw)"/>
<rect x="67.20" y="500.94" width="7.89" height="8.17" fill="url(#hpr)"/>
<rect x="75.05" y="500.94" width="7.89" height="8.17" fill="url(#hpb)"/>
<rect x="82.89" y="500.94" width="31.41" height="8.17" fill="url(#hpw)"/>
<rect x="114.25" y="500.94" width="7.89" height="8.17" fill="url(#hpr)"/>
<rect x="122.09" y="500.94" width="7.89" height="8.17" fill="url(#hpw)"/>
<rect x="129.93" y="500.94" width="7.89" height="8.17" fill="url(#hpr)"/>
<rect x="137.77" y="500.94" width="15.73" height="8.17" fill="url(#hpw)"/>
<rect x="153.45" y="500.94" width="7.89" height="8.17" fill="url(#hpb)"/>
<rect x="161.30" y="500.94" width="7.89" height="8.17" fill="url(#hpw)"/>
<rect x="169.14" y="500.94" width="7.89" height="8.17" fill="url(#hpb)"/>
<rect x="176.98" y="500.94" width="7.89" height="8.17" fill="url(#hpw)"/>
<rect x="184.82" y="500.94" width="7.89" height="8.17" fill="url(#hpb)"/>
<rect x="192.66" y="500.94" width="7.89" height="8.17" fill="url(#hpw)"/>
<rect x="28.00" y="509.06" width="23.57" height="8.17" fill="url(#hpb)"/>
<rect x="51.52" y="509.06" width="7.89" height="8.17" fill="url(#hpr)"/>
<rect x="59.36" y="509.06" width="7.89" height="8.17" fill="url(#hpw)"/>
<rect x="67.20" y="509.06" width="7.89" height="8.17" fill="url(#hpr)"/>
<rect x="75.05" y="509.06" width="15.73" height="8.17" fill="url(#hpw)"/>
<rect x="90.73" y="509.06" width="7.89" height="8.17" fill="url(#hpr)"/>
<rect x="98.57" y="509.06" width="23.57" height="8.17" fill="url(#hpw)"/>
<rect x="122.09" y="509.06" width="7.89" height="8.17" fill="url(#hpr)"/>
<rect x="129.93" y="509.06" width="23.57" height="8.17" fill="url(#hpw)"/>
<rect x="153.45" y="509.06" width="31.41" height="8.17" fill="url(#hpr)"/>
<rect x="184.82" y="509.06" width="15.73" height="8.17" fill="url(#hpw)"/>
<rect x="28.00" y="517.18" width="31.41" height="8.17" fill="url(#hpb)"/>
<rect x="59.36" y="517.18" width="23.57" height="8.17" fill="url(#hpw)"/>
<rect x="82.89" y="517.18" width="7.89" height="8.17" fill="url(#hpb)"/>
<rect x="90.73" y="517.18" width="15.73" height="8.17" fill="url(#hpw)"/>
<rect x="106.41" y="517.18" width="15.73" height="8.17" fill="url(#hpr)"/>
<rect x="122.09" y="517.18" width="31.41" height="8.17" fill="url(#hpw)"/>
<rect x="153.45" y="517.18" width="7.89" height="8.17" fill="url(#hpr)"/>
<rect x="161.30" y="517.18" width="7.89" height="8.17" fill="url(#hpb)"/>
<rect x="169.14" y="517.18" width="31.41" height="8.17" fill="url(#hpw)"/>
<rect x="28.00" y="525.30" width="23.57" height="8.17" fill="url(#hpw)"/>
<rect x="51.52" y="525.30" width="15.73" height="8.17" fill="url(#hpb)"/>
<rect x="67.20" y="525.30" width="7.89" height="8.17" fill="url(#hpr)"/>
<rect x="75.05" y="525.30" width="125.50" height="8.17" fill="url(#hpw)"/>
<rect x="28.00" y="533.42" width="7.89" height="8.17" fill="url(#hpw)"/>
<rect x="35.84" y="533.42" width="23.57" height="8.17" fill="url(#hpr)"/>
<rect x="59.36" y="533.42" width="15.73" height="8.17" fill="url(#hpb)"/>
<rect x="75.05" y="533.42" width="7.89" height="8.17" fill="url(#hpw)"/>
<rect x="82.89" y="533.42" width="15.73" height="8.17" fill="url(#hpb)"/>
<rect x="98.57" y="533.42" width="7.89" height="8.17" fill="url(#hpw)"/>
<rect x="106.41" y="533.42" width="15.73" height="8.17" fill="url(#hpb)"/>
<rect x="122.09" y="533.42" width="7.89" height="8.17" fill="url(#hpr)"/>
<rect x="129.93" y="533.42" width="7.89" height="8.17" fill="url(#hpb)"/>
<rect x="137.77" y="533.42" width="7.89" height="8.17" fill="url(#hpw)"/>
<rect x="145.61" y="533.42" width="7.89" height="8.17" fill="url(#hpr)"/>
<rect x="153.45" y="533.42" width="15.73" height="8.17" fill="url(#hpb)"/>
<rect x="169.14" y="533.42" width="15.73" height="8.17" fill="url(#hpw)"/>
<rect x="184.82" y="533.42" width="7.89" height="8.17" fill="url(#hpb)"/>
<rect x="192.66" y="533.42" width="7.89" height="8.17" fill="url(#hpw)"/>
<rect x="28.00" y="541.54" width="7.89" height="8.17" fill="url(#hpw)"/>
<rect x="35.84" y="541.54" width="15.73" height="8.17" fill="url(#hpr)"/>
<rect x="51.52" y="541.54" width="7.89" height="8.17" fill="url(#hpw)"/>
<rect x="59.36" y="541.54" width="7.89" height="8.17" fill="url(#hpb)"/>
<rect x="67.20" y="541.54" width="7.89" height="8.17" fill="url(#hpw)"/>
<rect x="75.05" y="541.54" width="23.57" height="8.17" fill="url(#hpb)"/>
<rect x="98.57" y="541.54" width="7.89" height="8.17" fill="url(#hpw)"/>
<rect x="106.41" y="541.54" width="23.57" height="8.17" fill="url(#hpb)"/>
<rect x="129.93" y="541.54" width="7.89" height="8.17" fill="url(#hpw)"/>
<rect x="137.77" y="541.54" width="7.89" height="8.17" fill="url(#hpr)"/>
<rect x="145.61" y="541.54" width="7.89" height="8.17" fill="url(#hpw)"/>
<rect x="153.45" y="541.54" width="7.89" height="8.17" fill="url(#hpb)"/>
<rect x="161.30" y="541.54" width="7.89" height="8.17" fill="url(#hpw)"/>
<rect x="169.14" y="541.54" width="7.89" height="8.17" fill="url(#hpb)"/>
<rect x="176.98" y="541.54" width="7.89" height="8.17" fill="url(#hpw)"/>
<rect x="184.82" y="541.54" width="7.89" height="8.17" fill="url(#hpb)"/>
<rect x="192.66" y="541.54" width="7.89" height="8.17" fill="url(#hpw)"/>
<rect x="28.00" y="549.66" width="7.89" height="8.17" fill="url(#hpr)"/>
<rect x="35.84" y="549.66" width="31.41" height="8.17" fill="url(#hpw)"/>
<rect x="67.20" y="549.66" width="7.89" height="8.17" fill="url(#hpb)"/>
<rect x="75.05" y="549.66" width="7.89" height="8.17" fill="url(#hpw)"/>
<rect x="82.89" y="549.66" width="7.89" height="8.17" fill="url(#hpr)"/>
<rect x="90.73" y="549.66" width="7.89" height="8.17" fill="url(#hpw)"/>
<rect x="98.57" y="549.66" width="7.89" height="8.17" fill="url(#hpb)"/>
<rect x="106.41" y="549.66" width="15.73" height="8.17" fill="url(#hpw)"/>
<rect x="122.09" y="549.66" width="7.89" height="8.17" fill="url(#hpb)"/>
<rect x="129.93" y="549.66" width="23.57" height="8.17" fill="url(#hpw)"/>
<rect x="153.45" y="549.66" width="7.89" height="8.17" fill="url(#hpb)"/>
<rect x="161.30" y="549.66" width="15.73" height="8.17" fill="url(#hpr)"/>
<rect x="176.98" y="549.66" width="7.89" height="8.17" fill="url(#hpw)"/>
<rect x="184.82" y="549.66" width="7.89" height="8.17" fill="url(#hpb)"/>
<rect x="192.66" y="549.66" width="7.89" height="8.17" fill="url(#hpw)"/>
<rect x="28.00" y="557.77" width="7.89" height="8.17" fill="url(#hpw)"/>
<rect x="35.84" y="557.77" width="15.73" height="8.17" fill="url(#hpr)"/>
<rect x="51.52" y="557.77" width="23.57" height="8.17" fill="url(#hpb)"/>
<rect x="75.05" y="557.77" width="7.89" height="8.17" fill="url(#hpw)"/>
<rect x="82.89" y="557.77" width="7.89" height="8.17" fill="url(#hpr)"/>
<rect x="90.73" y="557.77" width="7.89" height="8.17" fill="url(#hpw)"/>
<rect x="98.57" y="557.77" width="15.73" height="8.17" fill="url(#hpb)"/>
<rect x="114.25" y="557.77" width="15.73" height="8.17" fill="url(#hpr)"/>
<rect x="129.93" y="557.77" width="7.89" height="8.17" fill="url(#hpw)"/>
<rect x="137.77" y="557.77" width="7.89" height="8.17" fill="url(#hpr)"/>
<rect x="145.61" y="557.77" width="15.73" height="8.17" fill="url(#hpw)"/>
<rect x="161.30" y="557.77" width="7.89" height="8.17" fill="url(#hpr)"/>
<rect x="169.14" y="557.77" width="7.89" height="8.17" fill="url(#hpw)"/>
<rect x="176.98" y="557.77" width="7.89" height="8.17" fill="url(#hpr)"/>
<rect x="184.82" y="557.77" width="15.73" height="8.17" fill="url(#hpw)"/>
<rect x="28.00" y="565.89" width="7.89" height="8.17" fill="url(#hpb)"/>
<rect x="35.84" y="565.89" width="7.89" height="8.17" fill="url(#hpw)"/>
<rect x="43.68" y="565.89" width="7.89" height="8.17" fill="url(#hpr)"/>
<rect x="51.52" y="565.89" width="23.57" height="8.17" fill="url(#hpb)"/>
<rect x="75.05" y="565.89" width="23.57" height="8.17" fill="url(#hpr)"/>
<rect x="98.57" y="565.89" width="7.89" height="8.17" fill="url(#hpw)"/>
<rect x="106.41" y="565.89" width="23.57" height="8.17" fill="url(#hpb)"/>
<rect x="129.93" y="565.89" width="15.73" height="8.17" fill="url(#hpw)"/>
<rect x="145.61" y="565.89" width="15.73" height="8.17" fill="url(#hpb)"/>
<rect x="161.30" y="565.89" width="23.57" height="8.17" fill="url(#hpw)"/>
<rect x="184.82" y="565.89" width="7.89" height="8.17" fill="url(#hpr)"/>
<rect x="192.66" y="565.89" width="7.89" height="8.17" fill="url(#hpw)"/>
<rect x="28.00" y="574.01" width="47.10" height="8.17" fill="url(#hpb)"/>
<rect x="75.05" y="574.01" width="7.89" height="8.17" fill="url(#hpr)"/>
<rect x="82.89" y="574.01" width="7.89" height="8.17" fill="url(#hpw)"/>
<rect x="90.73" y="574.01" width="31.41" height="8.17" fill="url(#hpr)"/>
<rect x="122.09" y="574.01" width="7.89" height="8.17" fill="url(#hpb)"/>
<rect x="129.93" y="574.01" width="7.89" height="8.17" fill="url(#hpw)"/>
<rect x="137.77" y="574.01" width="7.89" height="8.17" fill="url(#hpb)"/>
<rect x="145.61" y="574.01" width="15.73" height="8.17" fill="url(#hpw)"/>
<rect x="161.30" y="574.01" width="23.57" height="8.17" fill="url(#hpr)"/>
<rect x="184.82" y="574.01" width="15.73" height="8.17" fill="url(#hpw)"/>
<rect x="28.00" y="582.13" width="47.10" height="8.17" fill="url(#hpb)"/>
<rect x="75.05" y="582.13" width="23.57" height="8.17" fill="url(#hpw)"/>
<rect x="98.57" y="582.13" width="7.89" height="8.17" fill="url(#hpr)"/>
<rect x="106.41" y="582.13" width="7.89" height="8.17" fill="url(#hpw)"/>
<rect x="114.25" y="582.13" width="7.89" height="8.17" fill="url(#hpr)"/>
<rect x="122.09" y="582.13" width="7.89" height="8.17" fill="url(#hpb)"/>
<rect x="129.93" y="582.13" width="7.89" height="8.17" fill="url(#hpr)"/>
<rect x="137.77" y="582.13" width="62.78" height="8.17" fill="url(#hpw)"/>
<rect x="28.00" y="590.25" width="47.10" height="8.17" fill="url(#hpb)"/>
<rect x="75.05" y="590.25" width="23.57" height="8.17" fill="url(#hpr)"/>
<rect x="98.57" y="590.25" width="15.73" height="8.17" fill="url(#hpw)"/>
<rect x="114.25" y="590.25" width="7.89" height="8.17" fill="url(#hpr)"/>
<rect x="122.09" y="590.25" width="7.89" height="8.17" fill="url(#hpw)"/>
<rect x="129.93" y="590.25" width="7.89" height="8.17" fill="url(#hpb)"/>
<rect x="137.77" y="590.25" width="7.89" height="8.17" fill="url(#hpw)"/>
<rect x="145.61" y="590.25" width="7.89" height="8.17" fill="url(#hpb)"/>
<rect x="153.45" y="590.25" width="15.73" height="8.17" fill="url(#hpw)"/>
<rect x="169.14" y="590.25" width="7.89" height="8.17" fill="url(#hpr)"/>
<rect x="176.98" y="590.25" width="15.73" height="8.17" fill="url(#hpw)"/>
<rect x="192.66" y="590.25" width="7.89" height="8.17" fill="url(#hpr)"/>
<rect x="28.00" y="598.37" width="7.89" height="8.17" fill="url(#hpw)"/>
<rect x="35.84" y="598.37" width="7.89" height="8.17" fill="url(#hpr)"/>
<rect x="43.68" y="598.37" width="15.73" height="8.17" fill="url(#hpw)"/>
<rect x="59.36" y="598.37" width="15.73" height="8.17" fill="url(#hpb)"/>
<rect x="75.05" y="598.37" width="23.57" height="8.17" fill="url(#hpw)"/>
<rect x="98.57" y="598.37" width="23.57" height="8.17" fill="url(#hpr)"/>
<rect x="122.09" y="598.37" width="7.89" height="8.17" fill="url(#hpw)"/>
<rect x="129.93" y="598.37" width="7.89" height="8.17" fill="url(#hpb)"/>
<rect x="137.77" y="598.37" width="7.89" height="8.17" fill="url(#hpw)"/>
<rect x="145.61" y="598.37" width="7.89" height="8.17" fill="url(#hpr)"/>
<rect x="153.45" y="598.37" width="31.41" height="8.17" fill="url(#hpb)"/>
<rect x="184.82" y="598.37" width="7.89" height="8.17" fill="url(#hpr)"/>
<rect x="192.66" y="598.37" width="7.89" height="8.17" fill="url(#hpw)"/>
<rect x="28.00" y="606.49" width="23.57" height="8.17" fill="url(#hpr)"/>
<rect x="51.52" y="606.49" width="31.41" height="8.17" fill="url(#hpb)"/>
<rect x="82.89" y="606.49" width="23.57" height="8.17" fill="url(#hpw)"/>
<rect x="106.41" y="606.49" width="15.73" height="8.17" fill="url(#hpr)"/>
<rect x="122.09" y="606.49" width="7.89" height="8.17" fill="url(#hpw)"/>
<rect x="129.93" y="606.49" width="7.89" height="8.17" fill="url(#hpb)"/>
<rect x="137.77" y="606.49" width="7.89" height="8.17" fill="url(#hpw)"/>
<rect x="145.61" y="606.49" width="7.89" height="8.17" fill="url(#hpr)"/>
<rect x="153.45" y="606.49" width="15.73" height="8.17" fill="url(#hpb)"/>
<rect x="169.14" y="606.49" width="7.89" height="8.17" fill="url(#hpw)"/>
<rect x="176.98" y="606.49" width="7.89" height="8.17" fill="url(#hpr)"/>
<rect x="184.82" y="606.49" width="15.73" height="8.17" fill="url(#hpw)"/>
<rect x="28.00" y="614.61" width="15.73" height="8.17" fill="url(#hpb)"/>
<rect x="43.68" y="614.61" width="7.89" height="8.17" fill="url(#hpw)"/>
<rect x="51.52" y="614.61" width="39.25" height="8.17" fill="url(#hpb)"/>
<rect x="90.73" y="614.61" width="15.73" height="8.17" fill="url(#hpw)"/>
<rect x="106.41" y="614.61" width="23.57" height="8.17" fill="url(#hpr)"/>
<rect x="129.93" y="614.61" width="15.73" height="8.17" fill="url(#hpb)"/>
<rect x="145.61" y="614.61" width="7.89" height="8.17" fill="url(#hpw)"/>
<rect x="153.45" y="614.61" width="23.57" height="8.17" fill="url(#hpb)"/>
<rect x="176.98" y="614.61" width="7.89" height="8.17" fill="url(#hpw)"/>
<rect x="184.82" y="614.61" width="15.73" height="8.17" fill="url(#hpb)"/>
<rect x="28.00" y="622.73" width="39.25" height="8.17" fill="url(#hpr)"/>
<rect x="67.20" y="622.73" width="7.89" height="8.17" fill="url(#hpw)"/>
<rect x="75.05" y="622.73" width="23.57" height="8.17" fill="url(#hpb)"/>
<rect x="98.57" y="622.73" width="7.89" height="8.17" fill="url(#hpw)"/>
<rect x="106.41" y="622.73" width="15.73" height="8.17" fill="url(#hpr)"/>
<rect x="122.09" y="622.73" width="7.89" height="8.17" fill="url(#hpw)"/>
<rect x="129.93" y="622.73" width="7.89" height="8.17" fill="url(#hpb)"/>
<rect x="137.77" y="622.73" width="23.57" height="8.17" fill="url(#hpw)"/>
<rect x="161.30" y="622.73" width="31.41" height="8.17" fill="url(#hpb)"/>
<rect x="192.66" y="622.73" width="7.89" height="8.17" fill="url(#hpw)"/>
<rect x="28.00" y="630.85" width="7.89" height="8.17" fill="url(#hpw)"/>
<rect x="35.84" y="630.85" width="39.25" height="8.17" fill="url(#hpr)"/>
<rect x="75.05" y="630.85" width="31.41" height="8.17" fill="url(#hpb)"/>
<rect x="106.41" y="630.85" width="7.89" height="8.17" fill="url(#hpw)"/>
<rect x="114.25" y="630.85" width="15.73" height="8.17" fill="url(#hpb)"/>
<rect x="129.93" y="630.85" width="23.57" height="8.17" fill="url(#hpw)"/>
<rect x="153.45" y="630.85" width="7.89" height="8.17" fill="url(#hpr)"/>
<rect x="161.30" y="630.85" width="23.57" height="8.17" fill="url(#hpb)"/>
<rect x="184.82" y="630.85" width="15.73" height="8.17" fill="url(#hpw)"/>
<rect x="28.00" y="638.97" width="7.89" height="8.17" fill="url(#hpw)"/>
<rect x="35.84" y="638.97" width="39.25" height="8.17" fill="url(#hpr)"/>
<rect x="75.05" y="638.97" width="31.41" height="8.17" fill="url(#hpb)"/>
<rect x="106.41" y="638.97" width="15.73" height="8.17" fill="url(#hpr)"/>
<rect x="122.09" y="638.97" width="7.89" height="8.17" fill="url(#hpw)"/>
<rect x="129.93" y="638.97" width="7.89" height="8.17" fill="url(#hpr)"/>
<rect x="137.77" y="638.97" width="15.73" height="8.17" fill="url(#hpw)"/>
<rect x="153.45" y="638.97" width="7.89" height="8.17" fill="url(#hpr)"/>
<rect x="161.30" y="638.97" width="7.89" height="8.17" fill="url(#hpw)"/>
<rect x="169.14" y="638.97" width="23.57" height="8.17" fill="url(#hpb)"/>
<rect x="192.66" y="638.97" width="7.89" height="8.17" fill="url(#hpw)"/>
<rect x="28.00" y="647.09" width="7.89" height="8.17" fill="url(#hpb)"/>
<rect x="35.84" y="647.09" width="7.89" height="8.17" fill="url(#hpw)"/>
<rect x="43.68" y="647.09" width="15.73" height="8.17" fill="url(#hpr)"/>
<rect x="59.36" y="647.09" width="7.89" height="8.17" fill="url(#hpw)"/>
<rect x="67.20" y="647.09" width="7.89" height="8.17" fill="url(#hpr)"/>
<rect x="75.05" y="647.09" width="31.41" height="8.17" fill="url(#hpb)"/>
<rect x="106.41" y="647.09" width="23.57" height="8.17" fill="url(#hpr)"/>
<rect x="129.93" y="647.09" width="7.89" height="8.17" fill="url(#hpw)"/>
<rect x="137.77" y="647.09" width="7.89" height="8.17" fill="url(#hpb)"/>
<rect x="145.61" y="647.09" width="15.73" height="8.17" fill="url(#hpw)"/>
<rect x="161.30" y="647.09" width="23.57" height="8.17" fill="url(#hpb)"/>
<rect x="184.82" y="647.09" width="7.89" height="8.17" fill="url(#hpw)"/>
<rect x="192.66" y="647.09" width="7.89" height="8.17" fill="url(#hpb)"/>
<rect x="28.00" y="655.21" width="7.89" height="8.17" fill="url(#hpw)"/>
<rect x="35.84" y="655.21" width="7.89" height="8.17" fill="url(#hpb)"/>
<rect x="43.68" y="655.21" width="7.89" height="8.17" fill="url(#hpr)"/>
<rect x="51.52" y="655.21" width="7.89" height="8.17" fill="url(#hpb)"/>
<rect x="59.36" y="655.21" width="15.73" height="8.17" fill="url(#hpw)"/>
<rect x="75.05" y="655.21" width="7.89" height="8.17" fill="url(#hpb)"/>
<rect x="82.89" y="655.21" width="7.89" height="8.17" fill="url(#hpw)"/>
<rect x="90.73" y="655.21" width="15.73" height="8.17" fill="url(#hpb)"/>
<rect x="106.41" y="655.21" width="23.57" height="8.17" fill="url(#hpr)"/>
<rect x="129.93" y="655.21" width="7.89" height="8.17" fill="url(#hpb)"/>
<rect x="137.77" y="655.21" width="15.73" height="8.17" fill="url(#hpw)"/>
<rect x="153.45" y="655.21" width="7.89" height="8.17" fill="url(#hpr)"/>
<rect x="161.30" y="655.21" width="7.89" height="8.17" fill="url(#hpw)"/>
<rect x="169.14" y="655.21" width="15.73" height="8.17" fill="url(#hpr)"/>
<rect x="184.82" y="655.21" width="15.73" height="8.17" fill="url(#hpw)"/>
<rect x="28.00" y="663.33" width="7.89" height="8.17" fill="url(#hpb)"/>
<rect x="35.84" y="663.33" width="23.57" height="8.17" fill="url(#hpr)"/>
<rect x="59.36" y="663.33" width="7.89" height="8.17" fill="url(#hpw)"/>
<rect x="67.20" y="663.33" width="39.25" height="8.17" fill="url(#hpb)"/>
<rect x="106.41" y="663.33" width="39.25" height="8.17" fill="url(#hpr)"/>
<rect x="145.61" y="663.33" width="7.89" height="8.17" fill="url(#hpw)"/>
<rect x="153.45" y="663.33" width="7.89" height="8.17" fill="url(#hpb)"/>
<rect x="161.30" y="663.33" width="31.41" height="8.17" fill="url(#hpw)"/>
<rect x="192.66" y="663.33" width="7.89" height="8.17" fill="url(#hpb)"/>
<rect x="28.00" y="671.45" width="23.57" height="8.17" fill="url(#hpb)"/>
<rect x="51.52" y="671.45" width="7.89" height="8.17" fill="url(#hpr)"/>
<rect x="59.36" y="671.45" width="7.89" height="8.17" fill="url(#hpb)"/>
<rect x="67.20" y="671.45" width="7.89" height="8.17" fill="url(#hpw)"/>
<rect x="75.05" y="671.45" width="31.41" height="8.17" fill="url(#hpb)"/>
<rect x="106.41" y="671.45" width="7.89" height="8.17" fill="url(#hpr)"/>
<rect x="114.25" y="671.45" width="7.89" height="8.17" fill="url(#hpw)"/>
<rect x="122.09" y="671.45" width="7.89" height="8.17" fill="url(#hpb)"/>
<rect x="129.93" y="671.45" width="23.57" height="8.17" fill="url(#hpw)"/>
<rect x="153.45" y="671.45" width="7.89" height="8.17" fill="url(#hpb)"/>
<rect x="161.30" y="671.45" width="7.89" height="8.17" fill="url(#hpr)"/>
<rect x="169.14" y="671.45" width="31.41" height="8.17" fill="url(#hpw)"/>
<rect x="28.00" y="679.57" width="7.89" height="8.17" fill="url(#hpw)"/>
<rect x="35.84" y="679.57" width="15.73" height="8.17" fill="url(#hpr)"/>
<rect x="51.52" y="679.57" width="54.94" height="8.17" fill="url(#hpw)"/>
<rect x="106.41" y="679.57" width="23.57" height="8.17" fill="url(#hpb)"/>
<rect x="129.93" y="679.57" width="7.89" height="8.17" fill="url(#hpr)"/>
<rect x="137.77" y="679.57" width="31.41" height="8.17" fill="url(#hpw)"/>
<rect x="169.14" y="679.57" width="7.89" height="8.17" fill="url(#hpr)"/>
<rect x="176.98" y="679.57" width="7.89" height="8.17" fill="url(#hpw)"/>
<rect x="184.82" y="679.57" width="7.89" height="8.17" fill="url(#hpr)"/>
<rect x="192.66" y="679.57" width="7.89" height="8.17" fill="url(#hpw)"/>
<rect x="28.00" y="687.69" width="15.73" height="8.17" fill="url(#hpr)"/>
<rect x="43.68" y="687.69" width="7.89" height="8.17" fill="url(#hpw)"/>
<rect x="51.52" y="687.69" width="23.57" height="8.17" fill="url(#hpb)"/>
<rect x="75.05" y="687.69" width="31.41" height="8.17" fill="url(#hpr)"/>
<rect x="106.41" y="687.69" width="23.57" height="8.17" fill="url(#hpb)"/>
<rect x="129.93" y="687.69" width="7.89" height="8.17" fill="url(#hpw)"/>
<rect x="137.77" y="687.69" width="7.89" height="8.17" fill="url(#hpb)"/>
<rect x="145.61" y="687.69" width="7.89" height="8.17" fill="url(#hpw)"/>
<rect x="153.45" y="687.69" width="7.89" height="8.17" fill="url(#hpr)"/>
<rect x="161.30" y="687.69" width="23.57" height="8.17" fill="url(#hpb)"/>
<rect x="184.82" y="687.69" width="15.73" height="8.17" fill="url(#hpw)"/>
<rect x="28.00" y="695.81" width="23.57" height="8.17" fill="url(#hpr)"/>
<rect x="51.52" y="695.81" width="23.57" height="8.17" fill="url(#hpw)"/>
<rect x="75.05" y="695.81" width="23.57" height="8.17" fill="url(#hpr)"/>
<rect x="98.57" y="695.81" width="7.89" height="8.17" fill="url(#hpw)"/>
<rect x="106.41" y="695.81" width="23.57" height="8.17" fill="url(#hpb)"/>
<rect x="129.93" y="695.81" width="15.73" height="8.17" fill="url(#hpw)"/>
<rect x="145.61" y="695.81" width="54.94" height="8.17" fill="url(#hpb)"/>
<rect x="28.00" y="703.92" width="31.41" height="8.17" fill="url(#hpr)"/>
<rect x="59.36" y="703.92" width="7.89" height="8.17" fill="url(#hpw)"/>
<rect x="67.20" y="703.92" width="7.89" height="8.17" fill="url(#hpb)"/>
<rect x="75.05" y="703.92" width="7.89" height="8.17" fill="url(#hpw)"/>
<rect x="82.89" y="703.92" width="7.89" height="8.17" fill="url(#hpb)"/>
<rect x="90.73" y="703.92" width="15.73" height="8.17" fill="url(#hpw)"/>
<rect x="106.41" y="703.92" width="23.57" height="8.17" fill="url(#hpb)"/>
<rect x="129.93" y="703.92" width="23.57" height="8.17" fill="url(#hpr)"/>
<rect x="153.45" y="703.92" width="15.73" height="8.17" fill="url(#hpb)"/>
<rect x="169.14" y="703.92" width="23.57" height="8.17" fill="url(#hpw)"/>
<rect x="192.66" y="703.92" width="7.89" height="8.17" fill="url(#hpb)"/>
<rect x="28.00" y="712.04" width="47.10" height="8.17" fill="url(#hpr)"/>
<rect x="75.05" y="712.04" width="23.57" height="8.17" fill="url(#hpw)"/>
<rect x="98.57" y="712.04" width="7.89" height="8.17" fill="url(#hpr)"/>
<rect x="106.41" y="712.04" width="15.73" height="8.17" fill="url(#hpw)"/>
<rect x="122.09" y="712.04" width="23.57" height="8.17" fill="url(#hpr)"/>
<rect x="145.61" y="712.04" width="15.73" height="8.17" fill="url(#hpw)"/>
<rect x="161.30" y="712.04" width="31.41" height="8.17" fill="url(#hpb)"/>
<rect x="192.66" y="712.04" width="7.89" height="8.17" fill="url(#hpw)"/>
<rect x="28.00" y="720.16" width="47.10" height="8.17" fill="url(#hpr)"/>
<rect x="75.05" y="720.16" width="31.41" height="8.17" fill="url(#hpb)"/>
<rect x="106.41" y="720.16" width="7.89" height="8.17" fill="url(#hpw)"/>
<rect x="114.25" y="720.16" width="7.89" height="8.17" fill="url(#hpb)"/>
<rect x="122.09" y="720.16" width="7.89" height="8.17" fill="url(#hpr)"/>
<rect x="129.93" y="720.16" width="7.89" height="8.17" fill="url(#hpb)"/>
<rect x="137.77" y="720.16" width="7.89" height="8.17" fill="url(#hpw)"/>
<rect x="145.61" y="720.16" width="7.89" height="8.17" fill="url(#hpr)"/>
<rect x="153.45" y="720.16" width="23.57" height="8.17" fill="url(#hpb)"/>
<rect x="176.98" y="720.16" width="15.73" height="8.17" fill="url(#hpw)"/>
<rect x="192.66" y="720.16" width="7.89" height="8.17" fill="url(#hpb)"/>
<rect x="28.00" y="728.28" width="7.89" height="8.17" fill="url(#hpw)"/>
<rect x="35.84" y="728.28" width="23.57" height="8.17" fill="url(#hpr)"/>
<rect x="59.36" y="728.28" width="7.89" height="8.17" fill="url(#hpw)"/>
<rect x="67.20" y="728.28" width="7.89" height="8.17" fill="url(#hpr)"/>
<rect x="75.05" y="728.28" width="23.57" height="8.17" fill="url(#hpb)"/>
<rect x="98.57" y="728.28" width="7.89" height="8.17" fill="url(#hpw)"/>
<rect x="106.41" y="728.28" width="7.89" height="8.17" fill="url(#hpr)"/>
<rect x="114.25" y="728.28" width="7.89" height="8.17" fill="url(#hpb)"/>
<rect x="122.09" y="728.28" width="7.89" height="8.17" fill="url(#hpr)"/>
<rect x="129.93" y="728.28" width="15.73" height="8.17" fill="url(#hpb)"/>
<rect x="145.61" y="728.28" width="15.73" height="8.17" fill="url(#hpr)"/>
<rect x="161.30" y="728.28" width="7.89" height="8.17" fill="url(#hpw)"/>
<rect x="169.14" y="728.28" width="7.89" height="8.17" fill="url(#hpb)"/>
<rect x="176.98" y="728.28" width="23.57" height="8.17" fill="url(#hpw)"/>
<rect x="28.00" y="736.40" width="7.89" height="8.17" fill="url(#hpw)"/>
<rect x="35.84" y="736.40" width="31.41" height="8.17" fill="url(#hpr)"/>
<rect x="67.20" y="736.40" width="7.89" height="8.17" fill="url(#hpw)"/>
<rect x="75.05" y="736.40" width="47.10" height="8.17" fill="url(#hpb)"/>
<rect x="122.09" y="736.40" width="7.89" height="8.17" fill="url(#hpw)"/>
<rect x="129.93" y="736.40" width="15.73" height="8.17" fill="url(#hpb)"/>
<rect x="145.61" y="736.40" width="7.89" height="8.17" fill="url(#hpr)"/>
<rect x="153.45" y="736.40" width="31.41" height="8.17" fill="url(#hpw)"/>
<rect x="184.82" y="736.40" width="7.89" height="8.17" fill="url(#hpb)"/>
<rect x="192.66" y="736.40" width="7.89" height="8.17" fill="url(#hpw)"/>
<rect x="28.00" y="744.52" width="15.73" height="8.17" fill="url(#hpr)"/>
<rect x="43.68" y="744.52" width="7.89" height="8.17" fill="url(#hpw)"/>
<rect x="51.52" y="744.52" width="23.57" height="8.17" fill="url(#hpr)"/>
<rect x="75.05" y="744.52" width="39.25" height="8.17" fill="url(#hpb)"/>
<rect x="114.25" y="744.52" width="7.89" height="8.17" fill="url(#hpw)"/>
<rect x="122.09" y="744.52" width="23.57" height="8.17" fill="url(#hpr)"/>
<rect x="145.61" y="744.52" width="23.57" height="8.17" fill="url(#hpw)"/>
<rect x="169.14" y="744.52" width="7.89" height="8.17" fill="url(#hpb)"/>
<rect x="176.98" y="744.52" width="7.89" height="8.17" fill="url(#hpw)"/>
<rect x="184.82" y="744.52" width="7.89" height="8.17" fill="url(#hpb)"/>
<rect x="192.66" y="744.52" width="7.89" height="8.17" fill="url(#hpw)"/>
<rect x="28.00" y="752.64" width="7.89" height="8.17" fill="url(#hpr)"/>
<rect x="35.84" y="752.64" width="15.73" height="8.17" fill="url(#hpb)"/>
<rect x="51.52" y="752.64" width="15.73" height="8.17" fill="url(#hpw)"/>
<rect x="67.20" y="752.64" width="7.89" height="8.17" fill="url(#hpr)"/>
<rect x="75.05" y="752.64" width="31.41" height="8.17" fill="url(#hpw)"/>
<rect x="106.41" y="752.64" width="15.73" height="8.17" fill="url(#hpb)"/>
<rect x="122.09" y="752.64" width="23.57" height="8.17" fill="url(#hpr)"/>
<rect x="145.61" y="752.64" width="7.89" height="8.17" fill="url(#hpb)"/>
<rect x="153.45" y="752.64" width="15.73" height="8.17" fill="url(#hpw)"/>
<rect x="169.14" y="752.64" width="7.89" height="8.17" fill="url(#hpr)"/>
<rect x="176.98" y="752.64" width="7.89" height="8.17" fill="url(#hpw)"/>
<rect x="184.82" y="752.64" width="7.89" height="8.17" fill="url(#hpb)"/>
<rect x="192.66" y="752.64" width="7.89" height="8.17" fill="url(#hpw)"/>
<rect x="28.00" y="760.76" width="7.89" height="8.17" fill="url(#hpw)"/>
<rect x="35.84" y="760.76" width="7.89" height="8.17" fill="url(#hpr)"/>
<rect x="43.68" y="760.76" width="15.73" height="8.17" fill="url(#hpw)"/>
<rect x="59.36" y="760.76" width="7.89" height="8.17" fill="url(#hpr)"/>
<rect x="67.20" y="760.76" width="23.57" height="8.17" fill="url(#hpw)"/>
<rect x="90.73" y="760.76" width="7.89" height="8.17" fill="url(#hpr)"/>
<rect x="98.57" y="760.76" width="7.89" height="8.17" fill="url(#hpw)"/>
<rect x="106.41" y="760.76" width="15.73" height="8.17" fill="url(#hpb)"/>
<rect x="122.09" y="760.76" width="7.89" height="8.17" fill="url(#hpr)"/>
<rect x="129.93" y="760.76" width="7.89" height="8.17" fill="url(#hpw)"/>
<rect x="137.77" y="760.76" width="7.89" height="8.17" fill="url(#hpr)"/>
<rect x="145.61" y="760.76" width="7.89" height="8.17" fill="url(#hpw)"/>
<rect x="153.45" y="760.76" width="7.89" height="8.17" fill="url(#hpr)"/>
<rect x="161.30" y="760.76" width="7.89" height="8.17" fill="url(#hpw)"/>
<rect x="169.14" y="760.76" width="7.89" height="8.17" fill="url(#hpr)"/>
<rect x="176.98" y="760.76" width="7.89" height="8.17" fill="url(#hpw)"/>
<rect x="184.82" y="760.76" width="15.73" height="8.17" fill="url(#hpb)"/>
<rect x="28.00" y="768.88" width="7.89" height="8.17" fill="url(#hpr)"/>
<rect x="35.84" y="768.88" width="7.89" height="8.17" fill="url(#hpw)"/>
<rect x="43.68" y="768.88" width="7.89" height="8.17" fill="url(#hpb)"/>
<rect x="51.52" y="768.88" width="7.89" height="8.17" fill="url(#hpw)"/>
<rect x="59.36" y="768.88" width="15.73" height="8.17" fill="url(#hpr)"/>
<rect x="75.05" y="768.88" width="7.89" height="8.17" fill="url(#hpb)"/>
<rect x="82.89" y="768.88" width="15.73" height="8.17" fill="url(#hpw)"/>
<rect x="98.57" y="768.88" width="7.89" height="8.17" fill="url(#hpr)"/>
<rect x="106.41" y="768.88" width="15.73" height="8.17" fill="url(#hpb)"/>
<rect x="122.09" y="768.88" width="7.89" height="8.17" fill="url(#hpw)"/>
<rect x="129.93" y="768.88" width="7.89" height="8.17" fill="url(#hpb)"/>
<rect x="137.77" y="768.88" width="7.89" height="8.17" fill="url(#hpw)"/>
<rect x="145.61" y="768.88" width="15.73" height="8.17" fill="url(#hpr)"/>
<rect x="161.30" y="768.88" width="15.73" height="8.17" fill="url(#hpw)"/>
<rect x="176.98" y="768.88" width="7.89" height="8.17" fill="url(#hpr)"/>
<rect x="184.82" y="768.88" width="7.89" height="8.17" fill="url(#hpb)"/>
<rect x="192.66" y="768.88" width="7.89" height="8.17" fill="url(#hpw)"/>
<rect x="28.0" y="522.6" width="172.5" height="5.4" fill="url(#hpW)"/>
<rect x="28.0" y="676.6" width="172.5" height="7.4" fill="url(#hpW)"/>
<rect x="37.3" y="490.2" width="18.5" height="17.0" fill="url(#hpQ)"/>
<rect x="31.1" y="510.2" width="24.7" height="10.1" fill="url(#hpQ)"/>
<rect x="55.0" y="520.3" width="9.3" height="8.5" fill="url(#hpB)"/>
<rect x="38.8" y="530.3" width="8.5" height="11.6" fill="url(#hpR)"/>
<rect x="49.6" y="531.8" width="5.4" height="6.2" fill="url(#hpR)"/>
<rect x="78.2" y="485.5" width="25.5" height="6.2" fill="url(#hpR)"/>
<rect x="78.2" y="491.7" width="25.5" height="7.3" fill="url(#hpr)"/>
<rect x="103.7" y="485.5" width="10.3" height="7.8" fill="url(#hpQ)"/>
<rect x="55.8" y="559.6" width="9.2" height="10.8" fill="url(#hpQ)"/>
<rect x="65.0" y="559.6" width="13.2" height="35.5" fill="url(#hpB)"/>
<rect x="55.8" y="570.4" width="9.2" height="24.7" fill="url(#hpQ)"/>
<rect x="28.0" y="573.5" width="18.5" height="18.5" fill="url(#hpb)"/>
<rect x="79.0" y="567.3" width="24.7" height="17.0" fill="url(#hpP)"/>
<rect x="80.5" y="584.3" width="20.1" height="10.8" fill="url(#hpR)"/>
<rect x="37.3" y="601.3" width="18.5" height="4.7" fill="url(#hpR)"/>
<rect x="68.1" y="598.2" width="10.9" height="9.3" fill="url(#hpQ)"/>
<rect x="79.0" y="619.8" width="24.7" height="10.2" fill="url(#hpQ)"/>
<rect x="37.3" y="619.8" width="17.7" height="10.2" fill="url(#hpR)"/>
<rect x="103.7" y="589.0" width="10.3" height="18.5" fill="url(#hpP)"/>
<rect x="103.7" y="539.6" width="10.3" height="18.4" fill="url(#hpQ)"/>
<rect x="114.0" y="485.5" width="18.5" height="7.8" fill="url(#hpQ)"/>
<rect x="114.0" y="497.9" width="15.4" height="18.5" fill="url(#hpP)"/>
<rect x="129.4" y="530.3" width="4.6" height="7.7" fill="url(#hpR)"/>
<rect x="161.8" y="513.3" width="20.1" height="4.7" fill="url(#hpP)"/>
<rect x="155.6" y="511.8" width="6.2" height="9.2" fill="url(#hpP)"/>
<rect x="155.6" y="501.0" width="6.2" height="9.2" fill="url(#hpQ)"/>
<rect x="155.6" y="547.3" width="6.2" height="6.2" fill="url(#hpB)"/>
<rect x="114.0" y="530.3" width="15.4" height="24.7" fill="url(#hpb)"/>
<rect x="114.0" y="558.0" width="15.4" height="6.3" fill="url(#hpP)"/>
<rect x="128.7" y="574.3" width="5.3" height="4.7" fill="url(#hpB)"/>
<rect x="128.7" y="582.0" width="5.3" height="3.9" fill="url(#hpB)"/>
<rect x="114.0" y="575.0" width="14.7" height="48.0" fill="url(#hpP)"/>
<rect x="164.9" y="572.0" width="17.0" height="6.2" fill="url(#hpP)"/>
<rect x="155.6" y="595.9" width="26.3" height="3.9" fill="url(#hpB)"/>
<rect x="155.6" y="599.8" width="26.3" height="7.7" fill="url(#hpQ)"/>
<rect x="134.0" y="564.3" width="21.6" height="6.1" fill="url(#hpQ)"/>
<rect x="163.4" y="619.8" width="18.5" height="10.2" fill="url(#hpQ)"/>
<rect x="37.3" y="630.0" width="28.0" height="20.2" fill="url(#hpP)"/>
<rect x="68.4" y="633.1" width="9.4" height="6.2" fill="url(#hpR)"/>
<rect x="68.4" y="644.0" width="9.4" height="6.2" fill="url(#hpR)"/>
<rect x="77.8" y="630.0" width="26.4" height="17.1" fill="url(#hpB)"/>
<rect x="77.8" y="647.1" width="26.4" height="10.9" fill="url(#hpQ)"/>
<rect x="77.8" y="658.0" width="26.4" height="18.6" fill="url(#hpB)"/>
<rect x="104.2" y="644.0" width="9.8" height="12.4" fill="url(#hpP)"/>
<rect x="104.2" y="665.7" width="9.8" height="7.8" fill="url(#hpP)"/>
<rect x="37.3" y="656.4" width="28.0" height="9.3" fill="url(#hpP)"/>
<rect x="37.3" y="668.9" width="10.9" height="6.2" fill="url(#hpQ)"/>
<rect x="28.0" y="686.0" width="23.3" height="21.7" fill="url(#hpP)"/>
<rect x="32.7" y="687.5" width="15.5" height="15.5" fill="url(#hpR)"/>
<rect x="56.0" y="682.8" width="7.8" height="12.5" fill="url(#hpQ)"/>
<rect x="77.8" y="686.0" width="24.8" height="7.7" fill="url(#hpR)"/>
<rect x="68.4" y="686.0" width="9.4" height="6.2" fill="url(#hpQ)"/>
<rect x="68.4" y="707.7" width="9.4" height="4.7" fill="url(#hpQ)"/>
<rect x="104.2" y="687.5" width="9.8" height="9.3" fill="url(#hpQ)"/>
<rect x="28.0" y="710.8" width="37.3" height="12.4" fill="url(#hpP)"/>
<rect x="37.3" y="712.5" width="28.0" height="10.7" fill="url(#hpR)"/>
<rect x="68.4" y="721.7" width="9.4" height="9.3" fill="url(#hpR)"/>
<rect x="77.8" y="718.6" width="26.4" height="12.4" fill="url(#hpQ)"/>
<rect x="51.3" y="737.2" width="14.0" height="7.8" fill="url(#hpR)"/>
<rect x="68.4" y="743.4" width="9.4" height="10.9" fill="url(#hpR)"/>
<rect x="77.8" y="738.8" width="26.4" height="15.5" fill="url(#hpB)"/>
<rect x="104.2" y="743.4" width="9.8" height="9.4" fill="url(#hpB)"/>
<rect x="28.0" y="735.7" width="23.3" height="12.4" fill="url(#hpP)"/>
<rect x="114.0" y="650.2" width="15.5" height="21.8" fill="url(#hpP)"/>
<rect x="129.5" y="656.4" width="4.7" height="10.9" fill="url(#hpP)"/>
<rect x="128.8" y="675.0" width="5.4" height="42.0" fill="url(#hpB)"/>
<rect x="114.0" y="686.0" width="14.8" height="17.0" fill="url(#hpQ)"/>
<rect x="134.2" y="704.6" width="28.0" height="6.2" fill="url(#hpP)"/>
<rect x="162.2" y="712.4" width="20.2" height="7.7" fill="url(#hpB)"/>
<rect x="128.8" y="717.0" width="5.4" height="12.5" fill="url(#hpR)"/>
<rect x="134.2" y="729.5" width="21.8" height="9.3" fill="url(#hpQ)"/>
<rect x="134.2" y="743.4" width="21.8" height="10.9" fill="url(#hpP)"/>
<rect x="128.8" y="738.8" width="5.4" height="26.4" fill="url(#hpR)"/>
<rect x="155.2" y="754.3" width="7.0" height="7.8" fill="url(#hpB)"/>
<rect x="114.0" y="754.3" width="14.8" height="15.6" fill="url(#hpB)"/>
<rect x="179.2" y="637.8" width="7.8" height="7.7" fill="url(#hpQ)"/>
<rect x="182.4" y="708.0" width="15.6" height="14.0" fill="url(#hpQ)"/>
<rect x="104.6" y="759.6" width="24.8" height="11.4" fill="url(#hpB)"/>
</g>
</g>
<g shape-rendering="crispEdges">
<rect x="28.00" y="474.70" width="1.95" height="8.20" fill="#b8b8f8"/>
<rect x="29.90" y="474.70" width="1.65" height="8.20" fill="#80f0b0"/>
<rect x="31.50" y="474.70" width="2.15" height="8.20" fill="#50f0a0"/>
<rect x="33.60" y="474.70" width="3.65" height="8.20" fill="#80f8c8"/>
<rect x="37.20" y="474.70" width="1.35" height="8.20" fill="#6090d0"/>
<rect x="38.50" y="474.70" width="1.35" height="8.20" fill="#90f0c0"/>
<rect x="39.80" y="474.70" width="7.25" height="8.20" fill="#d8f860"/>
<rect x="47.00" y="474.70" width="2.05" height="8.20" fill="#f8a0b8"/>
<rect x="49.00" y="474.70" width="2.05" height="8.20" fill="#e0f0a0"/>
<rect x="51.00" y="474.70" width="4.65" height="8.20" fill="#d8f060"/>
<rect x="55.60" y="474.70" width="1.95" height="8.20" fill="#a0f0a0"/>
<rect x="57.50" y="474.70" width="6.65" height="8.20" fill="#9060e8"/>
<rect x="64.10" y="474.70" width="2.05" height="8.20" fill="#e0c0f0"/>
<rect x="66.10" y="474.70" width="2.65" height="8.20" fill="#f0b0e8"/>
<rect x="68.70" y="474.70" width="9.95" height="8.20" fill="#80f8d8"/>
<rect x="78.60" y="474.70" width="2.65" height="8.20" fill="#70e090"/>
<rect x="81.20" y="474.70" width="2.05" height="8.20" fill="#f0a890"/>
<rect x="83.20" y="474.70" width="1.95" height="8.20" fill="#90e890"/>
<rect x="85.10" y="474.70" width="2.05" height="8.20" fill="#f0b090"/>
<rect x="87.10" y="474.70" width="2.05" height="8.20" fill="#a0f0a0"/>
<rect x="89.10" y="474.70" width="1.35" height="8.20" fill="#c0a8f0"/>
<rect x="90.40" y="474.70" width="1.35" height="8.20" fill="#d0f0c0"/>
<rect x="91.70" y="474.70" width="1.35" height="8.20" fill="#f0f8f0"/>
<rect x="93.00" y="474.70" width="3.95" height="8.20" fill="#90f070"/>
<rect x="96.90" y="474.70" width="2.05" height="8.20" fill="#f0a080"/>
<rect x="98.90" y="474.70" width="4.65" height="8.20" fill="#a0f090"/>
<rect x="103.50" y="474.70" width="9.55" height="8.20" fill="#f880f0"/>
<rect x="113.00" y="474.70" width="15.85" height="8.20" fill="#80d8f8"/>
<rect x="128.80" y="474.70" width="2.25" height="8.20" fill="#e8f870"/>
<rect x="131.00" y="474.70" width="1.45" height="8.20" fill="#b0b0f8"/>
<rect x="132.40" y="474.70" width="1.65" height="8.20" fill="#8090e8"/>
<rect x="134.00" y="474.70" width="2.75" height="8.20" fill="#f070f0"/>
<rect x="136.70" y="474.70" width="6.85" height="8.20" fill="#f8c898"/>
<rect x="143.50" y="474.70" width="1.35" height="8.20" fill="#90e8d0"/>
<rect x="144.80" y="474.70" width="3.35" height="8.20" fill="#c8c8f8"/>
<rect x="148.10" y="474.70" width="6.65" height="8.20" fill="#a8b0f8"/>
<rect x="154.70" y="474.70" width="5.35" height="8.20" fill="#88a8f0"/>
<rect x="160.00" y="474.70" width="2.05" height="8.20" fill="#c8c0f0"/>
<rect x="162.00" y="474.70" width="1.95" height="8.20" fill="#a0a0f0"/>
<rect x="163.90" y="474.70" width="2.05" height="8.20" fill="#f8a0e0"/>
<rect x="165.90" y="474.70" width="1.35" height="8.20" fill="#f080e8"/>
<rect x="167.20" y="474.70" width="6.65" height="8.20" fill="#9090f0"/>
<rect x="173.80" y="474.70" width="2.65" height="8.20" fill="#60c0b0"/>
<rect x="176.40" y="474.70" width="1.35" height="8.20" fill="#c0b8f0"/>
<rect x="177.70" y="474.70" width="2.65" height="8.20" fill="#f0b890"/>
<rect x="180.30" y="474.70" width="1.35" height="8.20" fill="#d0e8e0"/>
<rect x="181.60" y="474.70" width="4.05" height="8.20" fill="#30e880"/>
<rect x="185.60" y="474.70" width="1.95" height="8.20" fill="#c0d8f8"/>
<rect x="187.50" y="474.70" width="2.75" height="8.20" fill="#b8b8f0"/>
<rect x="190.20" y="474.70" width="5.95" height="8.20" fill="#c060e0"/>
<rect x="196.10" y="474.70" width="2.05" height="8.20" fill="#d090e8"/>
<rect x="198.10" y="474.70" width="1.35" height="8.20" fill="#40c080"/>
<rect x="199.40" y="474.70" width="1.15" height="8.20" fill="#80c0a0"/>
</g>
<path d="M51.0,456.4H107.5M51.0,456.4V462.5M107.5,456.4V461.3M38.6,462.5H64.0M38.6,462.5V467.0M64.0,462.5V463.0M30.5,467.0H46.4M57.3,463.0H70.4M30.5,467.0V470.4M46.4,467.0V469.4M57.3,463.0V472.5M70.4,463.0V471.0M28.6,470.4H32.2M42.4,469.4H50.3M67.4,471.0H72.6M42.4,469.4V472.5M50.3,469.4V471.5M87.7,461.3H127.2M87.7,461.3V472.5M127.2,461.3V464.3M110.5,464.3H155.0M110.5,464.3V469.4M155.0,464.3V466.3M105.3,469.4H115.8M142.5,466.3H168.3M142.5,466.3V471.5M168.3,466.3V467.3M159.6,467.3H178.0M159.6,467.3V470.5M178.0,467.3V468.9M168.3,468.9H187.6M187.6,468.9V470.1M182.3,470.1H191.1M131.5,470.3H146.0M131.5,470.3V472.0M93.0,470.5H100.0M80.0,471.0H86.0M150.0,471.2H157.0M194.0,471.5H200.0" stroke="#333" stroke-width="0.7" fill="none"/>
<path d="M28.2,471.0V473.0M29.0,471.8V473.0M30.2,471.0V473.0M30.9,471.4V473.0M32.1,472.1V473.0M33.2,472.1V473.0M33.9,471.4V473.0M35.2,471.4V473.0M36.2,471.0V473.0M37.0,472.1V473.0M37.9,472.1V473.0M39.3,471.4V473.0M40.0,472.4V473.0M40.7,471.0V473.0M41.7,472.1V473.0M42.3,472.4V473.0M43.0,472.1V473.0M44.4,472.1V473.0M45.7,471.8V473.0M46.6,472.1V473.0M47.6,472.1V473.0M48.3,472.1V473.0M49.7,471.4V473.0M50.6,471.8V473.0M51.5,472.1V473.0M52.3,471.8V473.0M53.1,471.0V473.0M54.2,471.0V473.0M55.3,471.8V473.0M56.0,471.8V473.0M57.3,471.4V473.0M58.4,472.1V473.0M59.4,472.1V473.0M60.0,472.4V473.0M61.4,471.8V473.0M62.7,472.4V473.0M63.7,471.4V473.0M64.6,471.0V473.0M65.9,471.4V473.0M66.5,472.1V473.0M67.6,472.1V473.0M68.3,472.1V473.0M69.7,471.4V473.0M70.5,471.8V473.0M71.8,471.8V473.0M73.1,472.4V473.0M74.1,471.8V473.0M75.4,472.4V473.0M76.4,472.4V473.0M77.1,471.0V473.0M78.2,472.1V473.0M79.1,471.0V473.0M79.8,471.8V473.0M80.6,472.4V473.0M81.7,471.8V473.0M83.1,472.1V473.0M84.3,472.4V473.0M85.7,471.0V473.0M87.0,472.4V473.0M87.8,471.0V473.0M88.7,471.8V473.0M89.7,471.4V473.0M90.4,472.4V473.0M91.6,471.8V473.0M92.9,472.1V473.0M94.3,471.0V473.0M95.6,471.4V473.0M96.3,471.4V473.0M97.2,472.4V473.0M98.5,471.8V473.0M99.2,471.0V473.0M100.5,471.0V473.0M101.4,471.4V473.0M102.6,471.8V473.0M103.6,471.8V473.0M104.6,472.1V473.0M105.2,471.0V473.0M106.6,471.4V473.0M107.9,472.1V473.0M108.6,471.8V473.0M109.6,471.0V473.0M110.9,471.8V473.0M111.5,471.8V473.0M112.7,472.4V473.0M113.9,471.8V473.0M114.9,471.8V473.0M116.2,471.8V473.0M117.4,471.8V473.0M118.8,471.8V473.0M119.9,471.0V473.0M121.2,471.4V473.0M122.2,471.8V473.0M123.1,471.8V473.0M124.1,471.0V473.0M125.2,471.8V473.0M126.1,471.8V473.0M127.3,471.4V473.0M128.1,472.1V473.0M129.4,471.4V473.0M130.8,471.8V473.0M131.8,471.0V473.0M133.2,472.1V473.0M134.5,471.4V473.0M135.3,472.4V473.0M136.5,471.4V473.0M137.2,471.0V473.0M138.2,471.4V473.0M139.1,471.0V473.0M140.3,471.8V473.0M141.5,472.4V473.0M142.2,471.0V473.0M143.2,472.1V473.0M144.0,472.1V473.0M145.1,472.4V473.0M146.4,472.1V473.0M147.2,472.1V473.0M147.9,472.1V473.0M148.9,471.0V473.0M149.5,471.4V473.0M150.4,471.0V473.0M151.0,472.1V473.0M151.8,471.8V473.0M152.4,471.4V473.0M153.8,471.4V473.0M155.1,471.0V473.0M156.0,472.4V473.0M157.0,471.8V473.0M157.7,471.0V473.0M158.7,471.0V473.0M159.5,471.8V473.0M160.8,471.4V473.0M161.7,471.0V473.0M162.8,471.8V473.0M163.8,472.1V473.0M164.9,471.0V473.0M165.9,472.1V473.0M167.2,471.0V473.0M167.9,472.4V473.0M168.8,471.8V473.0M169.9,471.0V473.0M170.9,471.8V473.0M172.0,471.0V473.0M172.9,471.4V473.0M174.3,471.4V473.0M175.1,471.4V473.0M176.0,472.1V473.0M177.1,471.8V473.0M178.3,471.8V473.0M179.3,471.4V473.0M179.9,471.8V473.0M180.9,471.8V473.0M181.6,472.4V473.0M182.3,471.0V473.0M183.7,472.1V473.0M184.5,472.1V473.0M185.8,472.4V473.0M186.8,471.0V473.0M187.6,471.4V473.0M188.8,472.1V473.0M189.8,472.1V473.0M191.0,471.8V473.0M191.8,471.0V473.0M193.2,471.0V473.0M194.3,471.0V473.0M195.6,472.4V473.0M196.2,472.1V473.0M197.1,471.0V473.0M198.2,471.0V473.0M199.1,471.0V473.0M199.7,471.8V473.0" stroke="#444" stroke-width="0.45" fill="none"/>
<line x1="28.00" y1="473.10" x2="200.50" y2="473.10" stroke="#222" stroke-width="0.9"/>
<path d="M10.2,531.6V681.0M10.2,531.6H17.6M10.2,681.0H14.3M27.0,488.1H27.6M27.0,496.3H27.6M26.0,488.1V496.3M26.0,488.1H27.0M26.0,496.3H27.0M26.5,509.1H27.6M22.7,492.2V509.1M22.7,492.2H26.0M22.7,509.1H26.5M26.6,520.7H27.6M27.0,526.1H27.6M25.5,520.7V526.1M25.5,520.7H26.6M25.5,526.1H27.0M26.4,533.3H27.6M24.5,523.4V533.3M24.5,523.4H25.5M24.5,533.3H26.4M26.4,540.3H27.6M27.0,543.7H27.6M27.0,546.4H27.6M26.2,543.7V546.4M26.2,543.7H27.0M26.2,546.4H27.0M24.8,540.3V545.1M24.8,540.3H26.4M24.8,545.1H26.2M26.4,553.1H27.6M27.0,559.9H27.6M27.0,562.9H27.6M25.8,559.9V562.9M25.8,559.9H27.0M25.8,562.9H27.0M24.9,553.1V561.4M24.9,553.1H26.4M24.9,561.4H25.8M22.9,542.7V557.2M22.9,542.7H24.8M22.9,557.2H24.9M21.4,528.4V550.0M21.4,528.4H24.5M21.4,550.0H22.9M27.0,566.6H27.6M27.0,569.4H27.6M26.7,571.5H27.6M25.9,569.4V571.5M25.9,569.4H27.0M25.9,571.5H26.7M24.8,566.6V570.4M24.8,566.6H27.0M24.8,570.4H25.9M27.0,574.6H27.6M27.0,579.0H27.6M26.1,574.6V579.0M26.1,574.6H27.0M26.1,579.0H27.0M24.3,568.5V576.8M24.3,568.5H24.8M24.3,576.8H26.1M25.1,582.0H27.6M25.6,583.5H27.6M26.6,584.8H27.6M25.0,583.5V584.8M25.0,583.5H25.6M25.0,584.8H26.6M23.6,582.0V584.1M23.6,582.0H25.1M23.6,584.1H25.0M26.9,586.6H27.6M26.4,588.4H27.6M25.5,586.6V588.4M25.5,586.6H26.9M25.5,588.4H26.4M25.5,589.9H27.6M24.5,587.5V589.9M24.5,587.5H25.5M24.5,589.9H25.5M22.7,583.1V588.7M22.7,583.1H23.6M22.7,588.7H24.5M22.3,572.7V585.9M22.3,572.7H24.3M22.3,585.9H22.7M26.2,592.5H27.6M26.4,596.1H27.6M27.0,600.0H27.6M25.5,596.1V600.0M25.5,596.1H26.4M25.5,600.0H27.0M24.5,592.5V598.1M24.5,592.5H26.2M24.5,598.1H25.5M21.1,579.3V595.3M21.1,579.3H22.3M21.1,595.3H24.5M20.3,539.2V587.3M20.3,539.2H21.4M20.3,587.3H21.1M17.6,500.6V563.2M17.6,500.6H22.7M17.6,563.2H20.3M27.0,620.1H27.6M27.0,640.6H27.6M27.0,644.8H27.6M26.0,640.6V644.8M26.0,640.6H27.0M26.0,644.8H27.0M26.3,648.2H27.6M26.4,652.0H27.6M25.5,648.2V652.0M25.5,648.2H26.3M25.5,652.0H26.4M24.4,642.7V650.1M24.4,642.7H26.0M24.4,650.1H25.5M23.6,620.1V646.4M23.6,620.1H27.0M23.6,646.4H24.4M27.0,656.8H27.6M26.4,660.5H27.6M27.0,661.9H27.6M25.8,660.5V661.9M25.8,660.5H26.4M25.8,661.9H27.0M25.3,656.8V661.2M25.3,656.8H27.0M25.3,661.2H25.8M27.0,663.8H27.6M26.9,666.2H27.6M25.8,663.8V666.2M25.8,663.8H27.0M25.8,666.2H26.9M23.9,659.0V665.0M23.9,659.0H25.3M23.9,665.0H25.8M27.0,667.6H27.6M27.0,669.1H27.6M26.2,667.6V669.1M26.2,667.6H27.0M26.2,669.1H27.0M26.8,671.2H27.6M27.0,673.4H27.6M25.7,671.2V673.4M25.7,671.2H26.8M25.7,673.4H27.0M24.8,668.3V672.3M24.8,668.3H26.2M24.8,672.3H25.7M27.0,678.6H27.6M27.0,686.3H27.6M25.8,678.6V686.3M25.8,678.6H27.0M25.8,686.3H27.0M24.3,670.3V682.5M24.3,670.3H24.8M24.3,682.5H25.8M22.9,662.0V676.4M22.9,662.0H23.9M22.9,676.4H24.3M21.9,633.3V669.2M21.9,633.3H23.6M21.9,669.2H22.9M27.0,691.0H27.6M27.0,692.9H27.6M25.9,691.0V692.9M25.9,691.0H27.0M25.9,692.9H27.0M26.9,694.4H27.6M27.0,695.6H27.6M26.0,694.4V695.6M26.0,694.4H26.9M26.0,695.6H27.0M27.0,697.0H27.6M24.9,695.0V697.0M24.9,695.0H26.0M24.9,697.0H27.0M23.9,691.9V696.0M23.9,691.9H25.9M23.9,696.0H24.9M26.4,699.7H27.6M26.6,704.4H27.6M24.9,699.7V704.4M24.9,699.7H26.4M24.9,704.4H26.6M27.0,708.6H27.6M27.0,711.1H27.6M26.2,708.6V711.1M26.2,708.6H27.0M26.2,711.1H27.0M27.0,712.8H27.6M27.0,714.4H27.6M26.2,712.8V714.4M26.2,712.8H27.0M26.2,714.4H27.0M25.0,709.9V713.6M25.0,709.9H26.2M25.0,713.6H26.2M23.6,702.1V711.7M23.6,702.1H24.9M23.6,711.7H25.0M22.2,694.0V706.9M22.2,694.0H23.9M22.2,706.9H23.6M26.8,717.1H27.6M27.0,719.5H27.6M25.3,717.1V719.5M25.3,717.1H26.8M25.3,719.5H27.0M27.0,720.9H27.6M27.0,722.7H27.6M26.1,720.9V722.7M26.1,720.9H27.0M26.1,722.7H27.0M24.9,718.3V721.8M24.9,718.3H25.3M24.9,721.8H26.1M26.7,725.9H27.6M27.0,732.5H27.6M25.3,725.9V732.5M25.3,725.9H26.7M25.3,732.5H27.0M24.0,720.1V729.2M24.0,720.1H24.9M24.0,729.2H25.3M27.0,738.6H27.6M26.6,741.1H27.6M26.1,738.6V741.1M26.1,738.6H27.0M26.1,741.1H26.6M26.4,745.9H27.6M24.5,739.9V745.9M24.5,739.9H26.1M24.5,745.9H26.4M22.8,724.6V742.9M22.8,724.6H24.0M22.8,742.9H24.5M20.9,700.4V733.8M20.9,700.4H22.2M20.9,733.8H22.8M25.4,750.3H27.6M26.6,751.6H27.6M25.1,752.9H27.6M24.7,751.6V752.9M24.7,751.6H26.6M24.7,752.9H25.1M23.7,750.3V752.2M23.7,750.3H25.4M23.7,752.2H24.7M22.6,754.4H27.6M21.5,751.3V754.4M21.5,751.3H23.7M21.5,754.4H22.6M24.2,756.6H27.6M24.5,758.3H27.6M24.2,759.7H27.6M23.6,758.3V759.7M23.6,758.3H24.5M23.6,759.7H24.2M22.8,756.6V759.0M22.8,756.6H24.2M22.8,759.0H23.6M24.5,761.1H27.6M23.8,762.8H27.6M22.8,761.1V762.8M22.8,761.1H24.5M22.8,762.8H23.8M21.9,757.8V761.9M21.9,757.8H22.8M21.9,761.9H22.8M20.5,752.8V759.9M20.5,752.8H21.5M20.5,759.9H21.9M25.7,764.5H27.6M25.9,766.3H27.6M24.5,764.5V766.3M24.5,764.5H25.7M24.5,766.3H25.9M23.4,768.1H27.6M22.7,765.4V768.1M22.7,765.4H24.5M22.7,768.1H23.4M25.2,769.5H27.6M25.4,770.8H27.6M26.3,772.0H27.6M24.5,770.8V772.0M24.5,770.8H25.4M24.5,772.0H26.3M23.8,769.5V771.4M23.8,769.5H25.2M23.8,771.4H24.5M26.3,774.0H27.6M25.3,776.2H27.6M24.2,774.0V776.2M24.2,774.0H26.3M24.2,776.2H25.3M22.4,770.4V775.1M22.4,770.4H23.8M22.4,775.1H24.2M21.6,766.7V772.8M21.6,766.7H22.7M21.6,772.8H22.4M19.2,756.4V769.8M19.2,756.4H20.5M19.2,769.8H21.6M17.7,717.1V763.1M17.7,717.1H20.9M17.7,763.1H19.2M14.3,651.2V740.1M14.3,651.2H21.9M14.3,740.1H17.7" stroke="#444" stroke-width="0.5" fill="none"/>
<path d="M24.4,485.0H27.6M24.6,485.7H27.6M23.8,486.8H27.6M24.8,487.6H27.6M24.9,488.6H27.6M23.2,489.4H27.6M23.1,490.1H27.6M22.9,490.7H27.6M23.8,491.6H27.6M23.6,492.8H27.6M25.3,493.5H27.6M23.5,494.1H27.6M23.5,495.2H27.6M24.7,496.4H27.6M25.1,497.1H27.6M24.0,498.3H27.6M22.8,499.0H27.6M25.2,500.1H27.6M24.8,501.1H27.6M23.2,502.1H27.6M25.1,502.9H27.6M23.8,504.0H27.6M22.7,504.7H27.6M25.2,505.6H27.6M23.4,506.3H27.6M24.2,506.9H27.6M24.5,507.5H27.6M23.8,508.4H27.6M23.4,509.2H27.6M25.3,510.3H27.6M23.1,511.4H27.6M23.6,512.1H27.6M25.3,513.2H27.6M24.4,514.0H27.6M23.9,514.8H27.6M24.7,515.5H27.6M25.3,516.6H27.6M23.8,517.5H27.6M22.9,518.5H27.6M24.8,519.6H27.6M23.7,520.3H27.6M25.1,521.2H27.6M23.2,522.2H27.6M25.3,523.4H27.6M24.0,524.5H27.6M23.7,525.4H27.6M23.9,526.6H27.6M23.1,527.8H27.6M23.9,528.4H27.6M23.3,529.1H27.6M22.9,529.7H27.6M22.8,530.6H27.6M24.3,531.4H27.6M23.4,532.1H27.6M23.3,533.0H27.6M24.8,533.9H27.6M24.1,534.5H27.6M25.3,535.4H27.6M23.3,536.5H27.6M25.2,537.4H27.6M24.8,538.6H27.6M23.6,539.3H27.6M23.5,540.1H27.6M24.0,541.2H27.6M22.5,542.4H27.6M22.8,543.5H27.6M22.9,544.4H27.6M24.3,545.2H27.6M22.6,546.4H27.6M22.8,547.2H27.6M22.9,548.3H27.6M24.9,549.0H27.6M25.2,549.6H27.6M25.5,550.4H27.6M22.8,551.0H27.6M23.4,551.9H27.6M23.4,552.9H27.6M22.5,553.7H27.6M22.5,554.4H27.6M25.1,555.2H27.6M23.5,556.2H27.6M24.8,557.0H27.6M22.8,558.2H27.6M23.4,559.2H27.6M24.7,560.3H27.6M24.5,561.3H27.6M22.7,562.3H27.6M22.6,563.1H27.6M25.3,563.8H27.6M23.1,564.8H27.6M23.8,565.5H27.6M24.9,566.2H27.6M22.7,567.0H27.6M23.7,567.9H27.6M23.3,569.0H27.6M24.0,569.7H27.6M22.9,570.6H27.6M25.1,571.6H27.6M24.5,572.7H27.6M24.9,573.6H27.6M22.8,574.3H27.6M24.1,575.0H27.6M23.8,575.8H27.6M24.4,576.8H27.6M22.9,577.6H27.6M22.7,578.2H27.6M24.6,578.9H27.6M23.7,580.0H27.6M24.2,580.6H27.6M22.5,581.8H27.6M25.5,582.8H27.6M24.3,583.6H27.6M24.5,584.7H27.6M24.9,585.4H27.6M24.5,586.3H27.6M25.0,587.3H27.6M25.3,588.2H27.6M22.6,588.9H27.6M24.0,589.6H27.6M25.3,590.6H27.6M22.5,591.2H27.6M24.5,592.0H27.6M23.3,592.9H27.6M24.6,593.6H27.6M25.4,594.6H27.6M23.9,595.4H27.6M24.6,596.5H27.6M24.7,597.3H27.6M22.8,598.2H27.6M24.0,598.8H27.6M23.3,599.6H27.6M23.3,600.7H27.6M24.0,601.5H27.6M24.9,602.1H27.6M23.0,602.9H27.6M23.1,603.8H27.6M22.8,604.4H27.6M23.6,605.0H27.6M23.1,605.8H27.6M25.0,606.5H27.6M24.3,607.5H27.6M25.3,608.1H27.6M24.8,608.7H27.6M23.7,609.7H27.6M24.1,610.5H27.6M25.0,611.5H27.6M22.8,612.1H27.6M23.4,613.1H27.6M23.6,614.0H27.6M25.0,614.6H27.6M23.5,615.3H27.6M25.2,616.4H27.6M25.3,617.5H27.6M23.2,618.3H27.6M25.0,619.2H27.6M24.4,620.2H27.6M23.1,621.2H27.6M23.8,622.1H27.6M23.4,623.3H27.6M24.4,624.2H27.6M24.9,625.2H27.6M22.9,626.3H27.6M22.6,627.4H27.6M23.4,628.5H27.6M23.6,629.1H27.6M23.1,629.8H27.6M24.9,631.0H27.6M24.0,631.8H27.6M23.5,632.8H27.6M23.8,633.4H27.6M25.4,634.5H27.6M24.9,635.5H27.6M24.9,636.4H27.6M25.2,637.5H27.6M24.1,638.2H27.6M24.2,638.8H27.6M24.3,639.7H27.6M23.5,640.6H27.6M23.5,641.3H27.6M23.3,642.4H27.6M25.0,643.5H27.6M23.9,644.3H27.6M22.5,645.4H27.6M23.7,646.4H27.6M22.5,647.5H27.6M22.7,648.4H27.6M24.3,649.2H27.6M23.6,650.2H27.6M23.6,650.9H27.6M23.2,651.7H27.6M24.0,652.5H27.6M25.0,653.5H27.6M25.3,654.4H27.6M25.0,655.2H27.6M24.8,656.3H27.6M24.3,657.4H27.6M23.3,658.5H27.6M24.2,659.4H27.6M22.7,660.4H27.6M24.4,661.1H27.6M24.6,661.9H27.6M24.2,663.0H27.6M23.8,663.7H27.6M23.4,664.8H27.6M24.8,665.5H27.6M23.1,666.3H27.6M25.2,667.2H27.6M23.1,668.1H27.6M23.8,668.7H27.6M25.4,669.5H27.6M25.4,670.6H27.6M23.3,671.8H27.6M24.2,672.7H27.6M24.1,673.7H27.6M23.0,674.4H27.6M24.6,675.0H27.6M25.1,675.7H27.6M23.4,676.7H27.6M22.8,677.9H27.6M24.9,678.6H27.6M25.2,679.4H27.6M22.5,680.3H27.6M25.5,681.5H27.6M24.6,682.3H27.6M22.8,683.3H27.6M24.0,684.4H27.6M22.5,685.4H27.6M23.1,686.3H27.6M22.6,687.4H27.6M23.5,688.0H27.6M23.1,689.1H27.6M24.9,690.1H27.6M23.7,691.1H27.6M22.9,692.1H27.6M25.1,692.9H27.6M23.3,693.6H27.6M24.1,694.3H27.6M22.9,695.5H27.6M25.2,696.4H27.6M24.0,697.0H27.6M24.2,697.8H27.6M25.3,699.0H27.6M23.1,699.8H27.6M25.3,700.7H27.6M23.3,701.4H27.6M25.3,702.2H27.6M23.1,703.0H27.6M24.1,703.9H27.6M24.8,704.6H27.6M24.1,705.3H27.6M25.2,706.1H27.6M23.9,707.3H27.6M23.7,708.2H27.6M23.0,709.1H27.6M23.3,709.8H27.6M23.5,710.7H27.6M24.2,711.4H27.6M25.3,712.6H27.6M23.1,713.3H27.6M25.1,714.3H27.6M24.0,715.0H27.6M25.4,715.8H27.6M23.2,717.0H27.6M22.9,718.1H27.6M25.3,718.9H27.6M25.4,719.7H27.6M24.4,720.6H27.6M24.7,721.8H27.6M23.8,722.6H27.6M23.2,723.4H27.6M24.6,724.2H27.6M22.7,725.0H27.6M24.5,726.1H27.6M24.2,727.3H27.6M24.9,728.1H27.6M24.2,729.1H27.6M23.6,730.1H27.6M22.6,730.8H27.6M24.0,731.7H27.6M25.3,732.4H27.6M23.5,733.5H27.6M22.7,734.2H27.6M24.8,735.2H27.6M24.9,736.1H27.6M23.5,736.8H27.6M22.6,737.6H27.6M25.2,738.2H27.6M22.8,738.8H27.6M23.5,739.8H27.6M22.6,740.8H27.6M23.9,741.4H27.6M23.0,742.6H27.6M24.8,743.2H27.6M24.0,744.3H27.6M23.5,745.3H27.6M23.5,746.1H27.6M24.2,746.8H27.6M24.9,747.9H27.6M23.1,748.9H27.6M23.2,749.9H27.6M23.8,750.6H27.6M23.7,751.8H27.6M24.8,752.8H27.6M23.0,753.8H27.6M24.5,754.8H27.6M22.9,755.5H27.6M24.6,756.2H27.6M22.6,757.3H27.6M24.9,758.2H27.6M24.8,759.3H27.6M23.6,760.0H27.6M23.7,760.6H27.6M23.3,761.7H27.6M23.3,762.8H27.6M24.1,763.7H27.6M24.6,764.6H27.6M24.9,765.6H27.6M25.4,766.5H27.6M25.2,767.6H27.6M24.5,768.8H27.6M23.0,769.6H27.6M24.0,770.4H27.6M23.9,771.4H27.6M23.4,772.1H27.6M23.0,773.0H27.6M23.4,774.1H27.6M25.2,774.8H27.6M23.1,775.7H27.6M24.1,776.3H27.6" stroke="#111" stroke-width="0.5" fill="none"/>
<line x1="27.40" y1="484.70" x2="27.40" y2="777.00" stroke="#111" stroke-width="1.0"/>
<defs><linearGradient id="gr" x1="0" x2="1"><stop offset="0" stop-color="#ff0000"/><stop offset="0.45" stop-color="#ff5050"/><stop offset="1" stop-color="#ffffff"/></linearGradient><linearGradient id="gb" x1="0" x2="1"><stop offset="0" stop-color="#ffffff"/><stop offset="0.55" stop-color="#5050ff"/><stop offset="1" stop-color="#0000ff"/></linearGradient></defs>
<rect x="108.00" y="781.90" width="19.50" height="9.60" fill="url(#gr)"/>
<rect x="131.00" y="781.90" width="20.10" height="9.60" fill="url(#gb)"/>
<line x1="119.00" y1="781.90" x2="119.00" y2="791.50" stroke="#fff" stroke-width="0.6" stroke-opacity="0.6"/>
<line x1="138.60" y1="781.90" x2="138.60" y2="791.50" stroke="#fff" stroke-width="0.6" stroke-opacity="0.6"/>
<line x1="148.90" y1="781.90" x2="148.90" y2="791.50" stroke="#fff" stroke-width="0.6" stroke-opacity="0.6"/>
<text x="109.20" y="800.10" font-size="7.6" text-anchor="middle" fill="#333">2</text>
<text x="119.00" y="800.10" font-size="7.6" text-anchor="middle" fill="#333">1</text>
<text x="129.20" y="800.10" font-size="7.6" text-anchor="middle" fill="#333">0</text>
<text x="139.20" y="800.10" font-size="7.6" text-anchor="middle" fill="#333">−1</text>
<text x="148.90" y="800.10" font-size="7.6" text-anchor="middle" fill="#333">−2</text>
<text x="159.60" y="788.90" font-size="7.6" textLength="29.40" lengthAdjust="spacingAndGlyphs">Essential</text>
<line x1="161.00" y1="793.40" x2="184.30" y2="793.40" stroke="#3d4f6e" stroke-width="1.0"/>
<path d="M187.60,793.40 L183.80,795.40 L184.80,793.40 L183.80,791.40 Z" stroke="none" stroke-width="0.8" fill="#3d4f6e"/>
<rect x="28.00" y="809.30" width="8.10" height="8.00" fill="#c8f890"/>
<text x="39.70" y="816.00" font-size="7.6" fill="#333" textLength="17.17" lengthAdjust="spacingAndGlyphs">ACC</text>
<rect x="28.00" y="818.30" width="8.10" height="8.00" fill="#30e870"/>
<text x="39.70" y="825.00" font-size="7.6" fill="#333" textLength="21.24" lengthAdjust="spacingAndGlyphs">BCLA</text>
<rect x="28.00" y="827.30" width="8.10" height="8.00" fill="#80d0f8"/>
<text x="39.70" y="834.00" font-size="7.6" fill="#333" textLength="22.59" lengthAdjust="spacingAndGlyphs">BRCA</text>
<rect x="28.00" y="836.30" width="8.10" height="8.00" fill="#a898f0"/>
<text x="39.70" y="843.00" font-size="7.6" fill="#333" textLength="22.59" lengthAdjust="spacingAndGlyphs">CESC</text>
<rect x="28.00" y="845.30" width="8.10" height="8.00" fill="#c060e0"/>
<text x="39.70" y="852.00" font-size="7.6" fill="#333" textLength="22.59" lengthAdjust="spacingAndGlyphs">CHOL</text>
<rect x="28.00" y="854.30" width="8.10" height="8.00" fill="#8080e0"/>
<text x="39.70" y="861.00" font-size="7.6" fill="#333" textLength="23.49" lengthAdjust="spacingAndGlyphs">COAD</text>
<rect x="28.00" y="863.30" width="8.10" height="8.00" fill="#30e8a0"/>
<text x="39.70" y="870.00" font-size="7.6" fill="#333" textLength="21.69" lengthAdjust="spacingAndGlyphs">DLBC</text>
<rect x="28.00" y="872.30" width="8.10" height="8.00" fill="#60e880"/>
<text x="39.70" y="879.00" font-size="7.6" fill="#333" textLength="22.14" lengthAdjust="spacingAndGlyphs">ESCA</text>
<rect x="28.00" y="881.30" width="8.10" height="8.00" fill="#a0f070"/>
<text x="39.70" y="888.00" font-size="7.6" fill="#333" textLength="18.52" lengthAdjust="spacingAndGlyphs">GBM</text>
<rect x="28.00" y="890.30" width="8.10" height="8.00" fill="#f8a098"/>
<text x="39.70" y="897.00" font-size="7.6" fill="#333" textLength="23.04" lengthAdjust="spacingAndGlyphs">HNSC</text>
<rect x="67.90" y="810.00" width="8.10" height="8.00" fill="#e8b8f8"/>
<text x="79.60" y="816.70" font-size="7.6" fill="#333" textLength="22.59" lengthAdjust="spacingAndGlyphs">READ</text>
<rect x="67.90" y="819.00" width="8.10" height="8.00" fill="#90f0c0"/>
<text x="79.60" y="825.70" font-size="7.6" fill="#333" textLength="22.59" lengthAdjust="spacingAndGlyphs">SARC</text>
<rect x="67.90" y="828.00" width="8.10" height="8.00" fill="#9050e0"/>
<text x="79.60" y="834.70" font-size="7.6" fill="#333" textLength="23.49" lengthAdjust="spacingAndGlyphs">SKCM</text>
<rect x="67.90" y="837.00" width="8.10" height="8.00" fill="#f8c080"/>
<text x="79.60" y="843.70" font-size="7.6" fill="#333" textLength="21.08" lengthAdjust="spacingAndGlyphs">STAD</text>
<rect x="67.90" y="846.00" width="8.10" height="8.00" fill="#b8c0f8"/>
<text x="79.60" y="852.70" font-size="7.6" fill="#333" textLength="22.13" lengthAdjust="spacingAndGlyphs">TGCT</text>
<rect x="67.90" y="855.00" width="8.10" height="8.00" fill="#a8b0f8"/>
<text x="79.60" y="861.70" font-size="7.6" fill="#333" textLength="22.14" lengthAdjust="spacingAndGlyphs">THCA</text>
<rect x="67.90" y="864.00" width="8.10" height="8.00" fill="#98a0f8"/>
<text x="79.60" y="870.70" font-size="7.6" fill="#333" textLength="23.04" lengthAdjust="spacingAndGlyphs">THYM</text>
<rect x="67.90" y="873.00" width="8.10" height="8.00" fill="#f870f0"/>
<text x="79.60" y="879.70" font-size="7.6" fill="#333" textLength="23.04" lengthAdjust="spacingAndGlyphs">UCEC</text>
<rect x="67.90" y="882.00" width="8.10" height="8.00" fill="#d0e860"/>
<text x="79.60" y="888.70" font-size="7.6" fill="#333" textLength="17.17" lengthAdjust="spacingAndGlyphs">UCS</text>
<rect x="67.90" y="891.00" width="8.10" height="8.00" fill="#70f0b0"/>
<text x="79.60" y="897.70" font-size="7.6" fill="#333" textLength="18.07" lengthAdjust="spacingAndGlyphs">UVM</text>
<rect x="109.40" y="810.00" width="8.10" height="8.00" fill="#f8a880"/>
<text x="121.20" y="816.70" font-size="7.6" fill="#333" textLength="19.43" lengthAdjust="spacingAndGlyphs">KICH</text>
<rect x="109.40" y="819.00" width="8.10" height="8.00" fill="#80f0d0"/>
<text x="121.20" y="825.70" font-size="7.6" fill="#333" textLength="19.43" lengthAdjust="spacingAndGlyphs">KIRC</text>
<rect x="109.40" y="828.00" width="8.10" height="8.00" fill="#f890e0"/>
<text x="121.20" y="834.70" font-size="7.6" fill="#333" textLength="18.98" lengthAdjust="spacingAndGlyphs">KIRP</text>
<rect x="109.40" y="837.00" width="8.10" height="8.00" fill="#e0f890"/>
<text x="121.20" y="843.70" font-size="7.6" fill="#333" textLength="16.72" lengthAdjust="spacingAndGlyphs">AML</text>
<rect x="109.40" y="846.00" width="8.10" height="8.00" fill="#d8f850"/>
<text x="121.20" y="852.70" font-size="7.6" fill="#333" textLength="17.17" lengthAdjust="spacingAndGlyphs">LGG</text>
<rect x="109.40" y="855.00" width="8.10" height="8.00" fill="#80b0f0"/>
<text x="121.20" y="861.70" font-size="7.6" fill="#333" textLength="18.53" lengthAdjust="spacingAndGlyphs">LIHC</text>
<rect x="109.40" y="864.00" width="8.10" height="8.00" fill="#b050e0"/>
<text x="121.20" y="870.70" font-size="7.6" fill="#333" textLength="21.69" lengthAdjust="spacingAndGlyphs">LUAD</text>
<rect x="109.40" y="873.00" width="8.10" height="8.00" fill="#80e870"/>
<text x="121.20" y="879.70" font-size="7.6" fill="#333" textLength="21.69" lengthAdjust="spacingAndGlyphs">LUSC</text>
<rect x="109.40" y="882.00" width="8.10" height="8.00" fill="#30e890"/>
<text x="121.20" y="888.70" font-size="7.6" fill="#333" textLength="23.95" lengthAdjust="spacingAndGlyphs">MESO</text>
<rect x="109.40" y="891.00" width="8.10" height="8.00" fill="#f8d098"/>
<text x="121.20" y="897.70" font-size="7.6" fill="#333" textLength="11.75" lengthAdjust="spacingAndGlyphs">OV</text>
<rect x="147.00" y="810.00" width="8.10" height="8.00" fill="#f890e8"/>
<text x="158.10" y="816.70" font-size="7.6" fill="#333" textLength="21.54" lengthAdjust="spacingAndGlyphs">PAAD</text>
<rect x="147.00" y="819.00" width="8.10" height="8.00" fill="#f8a0b0"/>
<text x="158.10" y="825.70" font-size="7.6" fill="#333" textLength="23.05" lengthAdjust="spacingAndGlyphs">PCPG</text>
<rect x="147.00" y="828.00" width="8.10" height="8.00" fill="#f870f0"/>
<text x="158.10" y="834.70" font-size="7.6" fill="#333" textLength="22.59" lengthAdjust="spacingAndGlyphs">PRAD</text>
<text x="226.80" y="456.60" font-size="13.2" font-weight="bold" fill="#000" stroke="#000" stroke-width="0.55">f</text>
<path d="M265.5,457.5 V562.2 H521.5" stroke="#7a7a7a" stroke-width="0.8" fill="none"/>
<line x1="262.00" y1="470.10" x2="265.50" y2="470.10" stroke="#7a7a7a" stroke-width="0.8"/>
<text x="257.90" y="473.00" font-size="8.0" text-anchor="end" fill="#383838" textLength="4.63" lengthAdjust="spacingAndGlyphs">0</text>
<line x1="262.00" y1="488.50" x2="265.50" y2="488.50" stroke="#7a7a7a" stroke-width="0.8"/>
<text x="257.90" y="491.40" font-size="8.0" text-anchor="end" fill="#383838" textLength="14.34" lengthAdjust="spacingAndGlyphs">-0.5</text>
<line x1="262.00" y1="506.90" x2="265.50" y2="506.90" stroke="#7a7a7a" stroke-width="0.8"/>
<text x="257.90" y="509.80" font-size="8.0" text-anchor="end" fill="#383838" textLength="14.34" lengthAdjust="spacingAndGlyphs">-1.0</text>
<line x1="262.00" y1="525.50" x2="265.50" y2="525.50" stroke="#7a7a7a" stroke-width="0.8"/>
<text x="257.90" y="528.40" font-size="8.0" text-anchor="end" fill="#383838" textLength="14.34" lengthAdjust="spacingAndGlyphs">-1.5</text>
<line x1="262.00" y1="543.90" x2="265.50" y2="543.90" stroke="#7a7a7a" stroke-width="0.8"/>
<text x="257.90" y="546.80" font-size="8.0" text-anchor="end" fill="#383838" textLength="14.34" lengthAdjust="spacingAndGlyphs">-2.0</text>
<line x1="262.00" y1="562.20" x2="265.50" y2="562.20" stroke="#7a7a7a" stroke-width="0.8"/>
<text x="257.90" y="565.10" font-size="8.0" text-anchor="end" fill="#383838" textLength="14.34" lengthAdjust="spacingAndGlyphs">-2.5</text>
<line x1="270.50" y1="562.20" x2="270.50" y2="565.80" stroke="#7a7a7a" stroke-width="0.7"/>
<text x="273.00" y="570.50" font-size="7.0" text-anchor="end" fill="#333" textLength="15.79" lengthAdjust="spacingAndGlyphs" transform="rotate(-90 273.00 570.50)">GBM</text>
<line x1="278.21" y1="562.20" x2="278.21" y2="565.80" stroke="#7a7a7a" stroke-width="0.7"/>
<text x="280.71" y="570.50" font-size="7.0" text-anchor="end" fill="#333" textLength="14.63" lengthAdjust="spacingAndGlyphs" transform="rotate(-90 280.71 570.50)">LGG</text>
<line x1="285.92" y1="562.20" x2="285.92" y2="565.80" stroke="#7a7a7a" stroke-width="0.7"/>
<text x="288.42" y="570.50" font-size="7.0" text-anchor="end" fill="#333" textLength="20.02" lengthAdjust="spacingAndGlyphs" transform="rotate(-90 288.42 570.50)">COAD</text>
<line x1="293.63" y1="562.20" x2="293.63" y2="565.80" stroke="#7a7a7a" stroke-width="0.7"/>
<text x="296.13" y="570.50" font-size="7.0" text-anchor="end" fill="#333" textLength="14.25" lengthAdjust="spacingAndGlyphs" transform="rotate(-90 296.13 570.50)">AML</text>
<line x1="301.34" y1="562.20" x2="301.34" y2="565.80" stroke="#7a7a7a" stroke-width="0.7"/>
<text x="303.84" y="570.50" font-size="7.0" text-anchor="end" fill="#333" textLength="20.41" lengthAdjust="spacingAndGlyphs" transform="rotate(-90 303.84 570.50)">MESO</text>
<line x1="309.05" y1="562.20" x2="309.05" y2="565.80" stroke="#7a7a7a" stroke-width="0.7"/>
<text x="311.55" y="570.50" font-size="7.0" text-anchor="end" fill="#333" textLength="20.02" lengthAdjust="spacingAndGlyphs" transform="rotate(-90 311.55 570.50)">SKCM</text>
<line x1="316.76" y1="562.20" x2="316.76" y2="565.80" stroke="#7a7a7a" stroke-width="0.7"/>
<text x="319.26" y="570.50" font-size="7.0" text-anchor="end" fill="#333" textLength="18.49" lengthAdjust="spacingAndGlyphs" transform="rotate(-90 319.26 570.50)">LUAD</text>
<line x1="324.47" y1="562.20" x2="324.47" y2="565.80" stroke="#7a7a7a" stroke-width="0.7"/>
<text x="326.97" y="570.50" font-size="7.0" text-anchor="end" fill="#333" textLength="18.86" lengthAdjust="spacingAndGlyphs" transform="rotate(-90 326.97 570.50)">TCGT</text>
<line x1="332.18" y1="562.20" x2="332.18" y2="565.80" stroke="#7a7a7a" stroke-width="0.7"/>
<text x="334.68" y="570.50" font-size="7.0" text-anchor="end" fill="#333" textLength="19.25" lengthAdjust="spacingAndGlyphs" transform="rotate(-90 334.68 570.50)">SARC</text>
<line x1="339.89" y1="562.20" x2="339.89" y2="565.80" stroke="#7a7a7a" stroke-width="0.7"/>
<text x="342.39" y="570.50" font-size="7.0" text-anchor="end" fill="#333" textLength="16.17" lengthAdjust="spacingAndGlyphs" transform="rotate(-90 342.39 570.50)">KIRP</text>
<line x1="347.60" y1="562.20" x2="347.60" y2="565.80" stroke="#7a7a7a" stroke-width="0.7"/>
<text x="350.10" y="570.50" font-size="7.0" text-anchor="end" fill="#333" textLength="15.79" lengthAdjust="spacingAndGlyphs" transform="rotate(-90 350.10 570.50)">LIHC</text>
<line x1="355.31" y1="562.20" x2="355.31" y2="565.80" stroke="#7a7a7a" stroke-width="0.7"/>
<text x="357.81" y="570.50" font-size="7.0" text-anchor="end" fill="#333" textLength="19.25" lengthAdjust="spacingAndGlyphs" transform="rotate(-90 357.81 570.50)">PRAD</text>
<line x1="363.02" y1="562.20" x2="363.02" y2="565.80" stroke="#7a7a7a" stroke-width="0.7"/>
<text x="365.52" y="570.50" font-size="7.0" text-anchor="end" fill="#333" textLength="17.97" lengthAdjust="spacingAndGlyphs" transform="rotate(-90 365.52 570.50)">STAD</text>
<line x1="370.73" y1="562.20" x2="370.73" y2="565.80" stroke="#7a7a7a" stroke-width="0.7"/>
<text x="373.23" y="570.50" font-size="7.0" text-anchor="end" fill="#333" textLength="19.64" lengthAdjust="spacingAndGlyphs" transform="rotate(-90 373.23 570.50)">UCEC</text>
<line x1="378.44" y1="562.20" x2="378.44" y2="565.80" stroke="#7a7a7a" stroke-width="0.7"/>
<text x="380.94" y="570.50" font-size="7.0" text-anchor="end" fill="#333" textLength="19.25" lengthAdjust="spacingAndGlyphs" transform="rotate(-90 380.94 570.50)">BRCA</text>
<line x1="386.15" y1="562.20" x2="386.15" y2="565.80" stroke="#7a7a7a" stroke-width="0.7"/>
<text x="388.65" y="570.50" font-size="7.0" text-anchor="end" fill="#333" textLength="19.64" lengthAdjust="spacingAndGlyphs" transform="rotate(-90 388.65 570.50)">HNSC</text>
<line x1="393.86" y1="562.20" x2="393.86" y2="565.80" stroke="#7a7a7a" stroke-width="0.7"/>
<text x="396.36" y="570.50" font-size="7.0" text-anchor="end" fill="#333" textLength="19.25" lengthAdjust="spacingAndGlyphs" transform="rotate(-90 396.36 570.50)">CESC</text>
<line x1="401.57" y1="562.20" x2="401.57" y2="565.80" stroke="#7a7a7a" stroke-width="0.7"/>
<text x="404.07" y="570.50" font-size="7.0" text-anchor="end" fill="#333" textLength="16.56" lengthAdjust="spacingAndGlyphs" transform="rotate(-90 404.07 570.50)">KIRC</text>
<line x1="409.28" y1="562.20" x2="409.28" y2="565.80" stroke="#7a7a7a" stroke-width="0.7"/>
<text x="411.78" y="570.50" font-size="7.0" text-anchor="end" fill="#333" textLength="10.01" lengthAdjust="spacingAndGlyphs" transform="rotate(-90 411.78 570.50)">OV</text>
<line x1="416.99" y1="562.20" x2="416.99" y2="565.80" stroke="#7a7a7a" stroke-width="0.7"/>
<text x="419.49" y="570.50" font-size="7.0" text-anchor="end" fill="#333" textLength="19.63" lengthAdjust="spacingAndGlyphs" transform="rotate(-90 419.49 570.50)">THYM</text>
<line x1="424.70" y1="562.20" x2="424.70" y2="565.80" stroke="#7a7a7a" stroke-width="0.7"/>
<text x="427.20" y="570.50" font-size="7.0" text-anchor="end" fill="#333" textLength="18.49" lengthAdjust="spacingAndGlyphs" transform="rotate(-90 427.20 570.50)">LUSC</text>
<line x1="432.41" y1="562.20" x2="432.41" y2="565.80" stroke="#7a7a7a" stroke-width="0.7"/>
<text x="434.91" y="570.50" font-size="7.0" text-anchor="end" fill="#333" textLength="18.86" lengthAdjust="spacingAndGlyphs" transform="rotate(-90 434.91 570.50)">THCA</text>
<line x1="440.12" y1="562.20" x2="440.12" y2="565.80" stroke="#7a7a7a" stroke-width="0.7"/>
<text x="442.62" y="570.50" font-size="7.0" text-anchor="end" fill="#333" textLength="19.25" lengthAdjust="spacingAndGlyphs" transform="rotate(-90 442.62 570.50)">READ</text>
<line x1="447.83" y1="562.20" x2="447.83" y2="565.80" stroke="#7a7a7a" stroke-width="0.7"/>
<text x="450.33" y="570.50" font-size="7.0" text-anchor="end" fill="#333" textLength="18.10" lengthAdjust="spacingAndGlyphs" transform="rotate(-90 450.33 570.50)">BLCA</text>
<line x1="455.54" y1="562.20" x2="455.54" y2="565.80" stroke="#7a7a7a" stroke-width="0.7"/>
<text x="458.04" y="570.50" font-size="7.0" text-anchor="end" fill="#333" textLength="18.87" lengthAdjust="spacingAndGlyphs" transform="rotate(-90 458.04 570.50)">ESCA</text>
<line x1="463.25" y1="562.20" x2="463.25" y2="565.80" stroke="#7a7a7a" stroke-width="0.7"/>
<text x="465.75" y="570.50" font-size="7.0" text-anchor="end" fill="#333" textLength="18.36" lengthAdjust="spacingAndGlyphs" transform="rotate(-90 465.75 570.50)">PAAD</text>
<line x1="470.96" y1="562.20" x2="470.96" y2="565.80" stroke="#7a7a7a" stroke-width="0.7"/>
<text x="473.46" y="570.50" font-size="7.0" text-anchor="end" fill="#333" textLength="19.64" lengthAdjust="spacingAndGlyphs" transform="rotate(-90 473.46 570.50)">PCPG</text>
<line x1="478.67" y1="562.20" x2="478.67" y2="565.80" stroke="#7a7a7a" stroke-width="0.7"/>
<text x="481.17" y="570.50" font-size="7.0" text-anchor="end" fill="#333" textLength="15.40" lengthAdjust="spacingAndGlyphs" transform="rotate(-90 481.17 570.50)">UVM</text>
<line x1="486.38" y1="562.20" x2="486.38" y2="565.80" stroke="#7a7a7a" stroke-width="0.7"/>
<text x="488.88" y="570.50" font-size="7.0" text-anchor="end" fill="#333" textLength="14.63" lengthAdjust="spacingAndGlyphs" transform="rotate(-90 488.88 570.50)">UCS</text>
<line x1="494.09" y1="562.20" x2="494.09" y2="565.80" stroke="#7a7a7a" stroke-width="0.7"/>
<text x="496.59" y="570.50" font-size="7.0" text-anchor="end" fill="#333" textLength="14.63" lengthAdjust="spacingAndGlyphs" transform="rotate(-90 496.59 570.50)">ACC</text>
<line x1="501.80" y1="562.20" x2="501.80" y2="565.80" stroke="#7a7a7a" stroke-width="0.7"/>
<text x="504.30" y="570.50" font-size="7.0" text-anchor="end" fill="#333" textLength="16.56" lengthAdjust="spacingAndGlyphs" transform="rotate(-90 504.30 570.50)">KICH</text>
<line x1="509.51" y1="562.20" x2="509.51" y2="565.80" stroke="#7a7a7a" stroke-width="0.7"/>
<text x="512.01" y="570.50" font-size="7.0" text-anchor="end" fill="#333" textLength="19.25" lengthAdjust="spacingAndGlyphs" transform="rotate(-90 512.01 570.50)">CHOL</text>
<line x1="517.22" y1="562.20" x2="517.22" y2="565.80" stroke="#7a7a7a" stroke-width="0.7"/>
<text x="519.72" y="570.50" font-size="7.0" text-anchor="end" fill="#333" textLength="18.49" lengthAdjust="spacingAndGlyphs" transform="rotate(-90 519.72 570.50)">DLBC</text>
<line x1="270.50" y1="478.50" x2="270.50" y2="484.70" stroke="#555" stroke-width="0.7"/>
<line x1="270.50" y1="489.40" x2="270.50" y2="495.70" stroke="#555" stroke-width="0.7"/>
<rect x="267.70" y="484.70" width="5.60" height="4.70" fill="#fff" stroke="#3a3a3a" stroke-width="0.7"/>
<line x1="267.70" y1="487.00" x2="273.30" y2="487.00" stroke="#111" stroke-width="1.1"/>
<line x1="278.21" y1="479.40" x2="278.21" y2="485.90" stroke="#555" stroke-width="0.7"/>
<line x1="278.21" y1="490.50" x2="278.21" y2="497.50" stroke="#555" stroke-width="0.7"/>
<rect x="275.41" y="485.90" width="5.60" height="4.60" fill="#fff" stroke="#3a3a3a" stroke-width="0.7"/>
<line x1="275.41" y1="488.20" x2="281.01" y2="488.20" stroke="#111" stroke-width="1.1"/>
<line x1="285.92" y1="508.00" x2="285.92" y2="517.10" stroke="#555" stroke-width="0.7"/>
<line x1="285.92" y1="524.40" x2="285.92" y2="534.60" stroke="#555" stroke-width="0.7"/>
<rect x="283.12" y="517.10" width="5.60" height="7.30" fill="#fff" stroke="#3a3a3a" stroke-width="0.7"/>
<line x1="283.12" y1="520.90" x2="288.72" y2="520.90" stroke="#111" stroke-width="1.1"/>
<line x1="293.63" y1="477.70" x2="293.63" y2="486.40" stroke="#555" stroke-width="0.7"/>
<line x1="293.63" y1="495.70" x2="293.63" y2="506.20" stroke="#555" stroke-width="0.7"/>
<rect x="290.83" y="486.40" width="5.60" height="9.30" fill="#fff" stroke="#3a3a3a" stroke-width="0.7"/>
<line x1="290.83" y1="489.60" x2="296.43" y2="489.60" stroke="#111" stroke-width="1.1"/>
<line x1="301.34" y1="475.00" x2="301.34" y2="486.40" stroke="#555" stroke-width="0.7"/>
<line x1="301.34" y1="495.20" x2="301.34" y2="503.90" stroke="#555" stroke-width="0.7"/>
<rect x="298.54" y="486.40" width="5.60" height="8.80" fill="#fff" stroke="#3a3a3a" stroke-width="0.7"/>
<line x1="298.54" y1="491.20" x2="304.14" y2="491.20" stroke="#111" stroke-width="1.1"/>
<line x1="309.05" y1="468.90" x2="309.05" y2="478.20" stroke="#555" stroke-width="0.7"/>
<line x1="309.05" y1="485.20" x2="309.05" y2="494.30" stroke="#555" stroke-width="0.7"/>
<rect x="306.25" y="478.20" width="5.60" height="7.00" fill="#fff" stroke="#3a3a3a" stroke-width="0.7"/>
<line x1="306.25" y1="481.50" x2="311.85" y2="481.50" stroke="#111" stroke-width="1.1"/>
<line x1="316.76" y1="484.70" x2="316.76" y2="499.60" stroke="#555" stroke-width="0.7"/>
<line x1="316.76" y1="509.60" x2="316.76" y2="525.00" stroke="#555" stroke-width="0.7"/>
<rect x="313.96" y="499.60" width="5.60" height="10.00" fill="#fff" stroke="#3a3a3a" stroke-width="0.7"/>
<line x1="313.96" y1="504.50" x2="319.56" y2="504.50" stroke="#111" stroke-width="1.1"/>
<line x1="324.47" y1="478.20" x2="324.47" y2="486.40" stroke="#555" stroke-width="0.7"/>
<line x1="324.47" y1="496.40" x2="324.47" y2="510.10" stroke="#555" stroke-width="0.7"/>
<rect x="321.67" y="486.40" width="5.60" height="10.00" fill="#fff" stroke="#3a3a3a" stroke-width="0.7"/>
<line x1="321.67" y1="491.30" x2="327.27" y2="491.30" stroke="#111" stroke-width="1.1"/>
<line x1="332.18" y1="473.40" x2="332.18" y2="484.50" stroke="#555" stroke-width="0.7"/>
<line x1="332.18" y1="492.30" x2="332.18" y2="503.40" stroke="#555" stroke-width="0.7"/>
<rect x="329.38" y="484.50" width="5.60" height="7.80" fill="#fff" stroke="#3a3a3a" stroke-width="0.7"/>
<line x1="329.38" y1="487.40" x2="334.98" y2="487.40" stroke="#111" stroke-width="1.1"/>
<line x1="339.89" y1="474.80" x2="339.89" y2="484.50" stroke="#555" stroke-width="0.7"/>
<line x1="339.89" y1="490.30" x2="339.89" y2="499.60" stroke="#555" stroke-width="0.7"/>
<rect x="337.09" y="484.50" width="5.60" height="5.80" fill="#fff" stroke="#3a3a3a" stroke-width="0.7"/>
<line x1="337.09" y1="487.10" x2="342.69" y2="487.10" stroke="#111" stroke-width="1.1"/>
<line x1="347.60" y1="478.30" x2="347.60" y2="487.40" stroke="#555" stroke-width="0.7"/>
<line x1="347.60" y1="494.40" x2="347.60" y2="503.10" stroke="#555" stroke-width="0.7"/>
<rect x="344.80" y="487.40" width="5.60" height="7.00" fill="#fff" stroke="#3a3a3a" stroke-width="0.7"/>
<line x1="344.80" y1="490.90" x2="350.40" y2="490.90" stroke="#111" stroke-width="1.1"/>
<line x1="355.31" y1="484.20" x2="355.31" y2="491.80" stroke="#555" stroke-width="0.7"/>
<line x1="355.31" y1="497.60" x2="355.31" y2="505.50" stroke="#555" stroke-width="0.7"/>
<rect x="352.51" y="491.80" width="5.60" height="5.80" fill="#fff" stroke="#3a3a3a" stroke-width="0.7"/>
<line x1="352.51" y1="494.70" x2="358.11" y2="494.70" stroke="#111" stroke-width="1.1"/>
<line x1="363.02" y1="494.40" x2="363.02" y2="514.80" stroke="#555" stroke-width="0.7"/>
<line x1="363.02" y1="528.20" x2="363.02" y2="547.80" stroke="#555" stroke-width="0.7"/>
<rect x="360.22" y="514.80" width="5.60" height="13.40" fill="#fff" stroke="#3a3a3a" stroke-width="0.7"/>
<line x1="360.22" y1="521.50" x2="365.82" y2="521.50" stroke="#111" stroke-width="1.1"/>
<line x1="370.73" y1="477.70" x2="370.73" y2="486.50" stroke="#555" stroke-width="0.7"/>
<line x1="370.73" y1="494.40" x2="370.73" y2="506.10" stroke="#555" stroke-width="0.7"/>
<rect x="367.93" y="486.50" width="5.60" height="7.90" fill="#fff" stroke="#3a3a3a" stroke-width="0.7"/>
<line x1="367.93" y1="490.30" x2="373.53" y2="490.30" stroke="#111" stroke-width="1.1"/>
<line x1="378.44" y1="470.40" x2="378.44" y2="490.00" stroke="#555" stroke-width="0.7"/>
<line x1="378.44" y1="503.40" x2="378.44" y2="522.40" stroke="#555" stroke-width="0.7"/>
<rect x="375.64" y="490.00" width="5.60" height="13.40" fill="#fff" stroke="#3a3a3a" stroke-width="0.7"/>
<line x1="375.64" y1="497.30" x2="381.24" y2="497.30" stroke="#111" stroke-width="1.1"/>
<line x1="386.15" y1="477.20" x2="386.15" y2="487.40" stroke="#555" stroke-width="0.7"/>
<line x1="386.15" y1="494.40" x2="386.15" y2="504.00" stroke="#555" stroke-width="0.7"/>
<rect x="383.35" y="487.40" width="5.60" height="7.00" fill="#fff" stroke="#3a3a3a" stroke-width="0.7"/>
<line x1="383.35" y1="490.90" x2="388.95" y2="490.90" stroke="#111" stroke-width="1.1"/>
<line x1="393.86" y1="473.90" x2="393.86" y2="487.10" stroke="#555" stroke-width="0.7"/>
<line x1="393.86" y1="498.20" x2="393.86" y2="511.90" stroke="#555" stroke-width="0.7"/>
<rect x="391.06" y="487.10" width="5.60" height="11.10" fill="#fff" stroke="#3a3a3a" stroke-width="0.7"/>
<line x1="391.06" y1="492.90" x2="396.66" y2="492.90" stroke="#111" stroke-width="1.1"/>
<line x1="401.57" y1="473.90" x2="401.57" y2="480.10" stroke="#555" stroke-width="0.7"/>
<line x1="401.57" y1="485.60" x2="401.57" y2="492.30" stroke="#555" stroke-width="0.7"/>
<rect x="398.77" y="480.10" width="5.60" height="5.50" fill="#fff" stroke="#3a3a3a" stroke-width="0.7"/>
<line x1="398.77" y1="482.70" x2="404.37" y2="482.70" stroke="#111" stroke-width="1.1"/>
<line x1="409.28" y1="475.70" x2="409.28" y2="487.10" stroke="#555" stroke-width="0.7"/>
<line x1="409.28" y1="494.70" x2="409.28" y2="506.10" stroke="#555" stroke-width="0.7"/>
<rect x="406.48" y="487.10" width="5.60" height="7.60" fill="#fff" stroke="#3a3a3a" stroke-width="0.7"/>
<line x1="406.48" y1="490.90" x2="412.08" y2="490.90" stroke="#111" stroke-width="1.1"/>
<line x1="416.99" y1="470.40" x2="416.99" y2="476.30" stroke="#555" stroke-width="0.7"/>
<line x1="416.99" y1="480.70" x2="416.99" y2="485.60" stroke="#555" stroke-width="0.7"/>
<rect x="414.19" y="476.30" width="5.60" height="4.40" fill="#fff" stroke="#3a3a3a" stroke-width="0.7"/>
<line x1="414.19" y1="478.30" x2="419.79" y2="478.30" stroke="#111" stroke-width="1.1"/>
<line x1="424.70" y1="470.40" x2="424.70" y2="484.20" stroke="#555" stroke-width="0.7"/>
<line x1="424.70" y1="493.80" x2="424.70" y2="507.80" stroke="#555" stroke-width="0.7"/>
<rect x="421.90" y="484.20" width="5.60" height="9.60" fill="#fff" stroke="#3a3a3a" stroke-width="0.7"/>
<line x1="421.90" y1="488.50" x2="427.50" y2="488.50" stroke="#111" stroke-width="1.1"/>
<line x1="432.41" y1="467.50" x2="432.41" y2="479.20" stroke="#555" stroke-width="0.7"/>
<line x1="432.41" y1="487.10" x2="432.41" y2="497.30" stroke="#555" stroke-width="0.7"/>
<rect x="429.61" y="479.20" width="5.60" height="7.90" fill="#fff" stroke="#3a3a3a" stroke-width="0.7"/>
<line x1="429.61" y1="482.70" x2="435.21" y2="482.70" stroke="#111" stroke-width="1.1"/>
<line x1="440.12" y1="506.90" x2="440.12" y2="517.70" stroke="#555" stroke-width="0.7"/>
<line x1="440.12" y1="525.30" x2="440.12" y2="533.80" stroke="#555" stroke-width="0.7"/>
<rect x="437.32" y="517.70" width="5.60" height="7.60" fill="#fff" stroke="#3a3a3a" stroke-width="0.7"/>
<line x1="437.32" y1="521.50" x2="442.92" y2="521.50" stroke="#111" stroke-width="1.1"/>
<line x1="447.83" y1="478.30" x2="447.83" y2="488.80" stroke="#555" stroke-width="0.7"/>
<line x1="447.83" y1="497.30" x2="447.83" y2="509.00" stroke="#555" stroke-width="0.7"/>
<rect x="445.03" y="488.80" width="5.60" height="8.50" fill="#fff" stroke="#3a3a3a" stroke-width="0.7"/>
<line x1="445.03" y1="493.20" x2="450.63" y2="493.20" stroke="#111" stroke-width="1.1"/>
<line x1="455.54" y1="479.20" x2="455.54" y2="491.80" stroke="#555" stroke-width="0.7"/>
<line x1="455.54" y1="525.30" x2="455.54" y2="557.40" stroke="#555" stroke-width="0.7"/>
<rect x="452.74" y="491.80" width="5.60" height="33.50" fill="#fff" stroke="#3a3a3a" stroke-width="0.7"/>
<line x1="452.74" y1="501.10" x2="458.34" y2="501.10" stroke="#111" stroke-width="1.1"/>
<line x1="463.25" y1="492.30" x2="463.25" y2="514.80" stroke="#555" stroke-width="0.7"/>
<line x1="463.25" y1="532.30" x2="463.25" y2="555.70" stroke="#555" stroke-width="0.7"/>
<rect x="460.45" y="514.80" width="5.60" height="17.50" fill="#fff" stroke="#3a3a3a" stroke-width="0.7"/>
<line x1="460.45" y1="522.40" x2="466.05" y2="522.40" stroke="#111" stroke-width="1.1"/>
<line x1="470.96" y1="478.60" x2="470.96" y2="488.50" stroke="#555" stroke-width="0.7"/>
<line x1="470.96" y1="496.70" x2="470.96" y2="508.40" stroke="#555" stroke-width="0.7"/>
<rect x="468.16" y="488.50" width="5.60" height="8.20" fill="#fff" stroke="#3a3a3a" stroke-width="0.7"/>
<line x1="468.16" y1="492.30" x2="473.76" y2="492.30" stroke="#111" stroke-width="1.1"/>
<line x1="478.67" y1="477.20" x2="478.67" y2="483.00" stroke="#555" stroke-width="0.7"/>
<line x1="478.67" y1="487.10" x2="478.67" y2="493.80" stroke="#555" stroke-width="0.7"/>
<rect x="475.87" y="483.00" width="5.60" height="4.10" fill="#fff" stroke="#3a3a3a" stroke-width="0.7"/>
<line x1="475.87" y1="485.00" x2="481.47" y2="485.00" stroke="#111" stroke-width="1.1"/>
<line x1="486.38" y1="469.60" x2="486.38" y2="480.70" stroke="#555" stroke-width="0.7"/>
<line x1="486.38" y1="490.30" x2="486.38" y2="498.20" stroke="#555" stroke-width="0.7"/>
<rect x="483.58" y="480.70" width="5.60" height="9.60" fill="#fff" stroke="#3a3a3a" stroke-width="0.7"/>
<line x1="483.58" y1="485.00" x2="489.18" y2="485.00" stroke="#111" stroke-width="1.1"/>
<line x1="494.09" y1="479.20" x2="494.09" y2="488.50" stroke="#555" stroke-width="0.7"/>
<line x1="494.09" y1="495.30" x2="494.09" y2="504.00" stroke="#555" stroke-width="0.7"/>
<rect x="491.29" y="488.50" width="5.60" height="6.80" fill="#fff" stroke="#3a3a3a" stroke-width="0.7"/>
<line x1="491.29" y1="491.80" x2="496.89" y2="491.80" stroke="#111" stroke-width="1.1"/>
<line x1="501.80" y1="491.80" x2="501.80" y2="495.80" stroke="#555" stroke-width="0.7"/>
<line x1="501.80" y1="501.70" x2="501.80" y2="505.50" stroke="#555" stroke-width="0.7"/>
<rect x="499.00" y="495.80" width="5.60" height="5.90" fill="#fff" stroke="#3a3a3a" stroke-width="0.7"/>
<line x1="499.00" y1="498.80" x2="504.60" y2="498.80" stroke="#111" stroke-width="1.1"/>
<line x1="509.51" y1="488.00" x2="509.51" y2="494.70" stroke="#555" stroke-width="0.7"/>
<line x1="509.51" y1="504.60" x2="509.51" y2="517.70" stroke="#555" stroke-width="0.7"/>
<rect x="506.71" y="494.70" width="5.60" height="9.90" fill="#fff" stroke="#3a3a3a" stroke-width="0.7"/>
<line x1="506.71" y1="499.60" x2="512.31" y2="499.60" stroke="#111" stroke-width="1.1"/>
<line x1="517.22" y1="475.70" x2="517.22" y2="481.20" stroke="#555" stroke-width="0.7"/>
<line x1="517.22" y1="488.00" x2="517.22" y2="491.80" stroke="#555" stroke-width="0.7"/>
<rect x="514.42" y="481.20" width="5.60" height="6.80" fill="#fff" stroke="#3a3a3a" stroke-width="0.7"/>
<line x1="514.42" y1="485.00" x2="520.02" y2="485.00" stroke="#111" stroke-width="1.1"/>
<text x="235.60" y="510.00" font-size="8.4" text-anchor="middle" textLength="69.80" lengthAdjust="spacingAndGlyphs" transform="rotate(-90 235.60 510.00)"><tspan font-style="italic">KRAS</tspan> essentiality</text>
<text x="273.60" y="544.20" font-size="6.4" text-anchor="middle" fill="#222" textLength="25.97" lengthAdjust="spacingAndGlyphs" transform="rotate(-90 273.60 544.20)">Essential</text>
<line x1="277.50" y1="535.10" x2="277.50" y2="551.60" stroke="#3d4f6e" stroke-width="1.5"/>
<path d="M277.50,555.90 L275.20,551.10 L277.50,552.10 L279.80,551.10 Z" stroke="none" stroke-width="0.8" fill="#3d4f6e"/>
<text x="392.90" y="603.40" font-size="8.4" text-anchor="middle" textLength="48.46" lengthAdjust="spacingAndGlyphs">Cancer type</text>
<text x="226.80" y="616.40" font-size="13.2" font-weight="bold" fill="#000" stroke="#000" stroke-width="0.55">h</text>
<path d="M265.5,612.9 V718.5 H521.5" stroke="#7a7a7a" stroke-width="0.8" fill="none"/>
<line x1="262.00" y1="616.40" x2="265.50" y2="616.40" stroke="#7a7a7a" stroke-width="0.8"/>
<text x="257.90" y="619.30" font-size="8.0" text-anchor="end" fill="#383838" textLength="4.63" lengthAdjust="spacingAndGlyphs">0</text>
<line x1="262.00" y1="637.10" x2="265.50" y2="637.10" stroke="#7a7a7a" stroke-width="0.8"/>
<text x="257.90" y="640.00" font-size="8.0" text-anchor="end" fill="#383838" textLength="14.34" lengthAdjust="spacingAndGlyphs">-0.5</text>
<line x1="262.00" y1="657.20" x2="265.50" y2="657.20" stroke="#7a7a7a" stroke-width="0.8"/>
<text x="257.90" y="660.10" font-size="8.0" text-anchor="end" fill="#383838" textLength="14.34" lengthAdjust="spacingAndGlyphs">-1.0</text>
<line x1="262.00" y1="677.70" x2="265.50" y2="677.70" stroke="#7a7a7a" stroke-width="0.8"/>
<text x="257.90" y="680.60" font-size="8.0" text-anchor="end" fill="#383838" textLength="14.34" lengthAdjust="spacingAndGlyphs">-1.5</text>
<line x1="262.00" y1="698.20" x2="265.50" y2="698.20" stroke="#7a7a7a" stroke-width="0.8"/>
<text x="257.90" y="701.10" font-size="8.0" text-anchor="end" fill="#383838" textLength="14.34" lengthAdjust="spacingAndGlyphs">-2.0</text>
<line x1="270.50" y1="718.50" x2="270.50" y2="722.10" stroke="#7a7a7a" stroke-width="0.7"/>
<text x="273.00" y="726.80" font-size="7.0" text-anchor="end" fill="#333" textLength="15.79" lengthAdjust="spacingAndGlyphs" transform="rotate(-90 273.00 726.80)">GBM</text>
<line x1="278.21" y1="718.50" x2="278.21" y2="722.10" stroke="#7a7a7a" stroke-width="0.7"/>
<text x="280.71" y="726.80" font-size="7.0" text-anchor="end" fill="#333" textLength="14.63" lengthAdjust="spacingAndGlyphs" transform="rotate(-90 280.71 726.80)">LGG</text>
<line x1="285.92" y1="718.50" x2="285.92" y2="722.10" stroke="#7a7a7a" stroke-width="0.7"/>
<text x="288.42" y="726.80" font-size="7.0" text-anchor="end" fill="#333" textLength="20.02" lengthAdjust="spacingAndGlyphs" transform="rotate(-90 288.42 726.80)">COAD</text>
<line x1="293.63" y1="718.50" x2="293.63" y2="722.10" stroke="#7a7a7a" stroke-width="0.7"/>
<text x="296.13" y="726.80" font-size="7.0" text-anchor="end" fill="#333" textLength="14.25" lengthAdjust="spacingAndGlyphs" transform="rotate(-90 296.13 726.80)">AML</text>
<line x1="301.34" y1="718.50" x2="301.34" y2="722.10" stroke="#7a7a7a" stroke-width="0.7"/>
<text x="303.84" y="726.80" font-size="7.0" text-anchor="end" fill="#333" textLength="20.41" lengthAdjust="spacingAndGlyphs" transform="rotate(-90 303.84 726.80)">MESO</text>
<line x1="309.05" y1="718.50" x2="309.05" y2="722.10" stroke="#7a7a7a" stroke-width="0.7"/>
<text x="311.55" y="726.80" font-size="7.0" text-anchor="end" fill="#333" textLength="20.02" lengthAdjust="spacingAndGlyphs" transform="rotate(-90 311.55 726.80)">SKCM</text>
<line x1="316.76" y1="718.50" x2="316.76" y2="722.10" stroke="#7a7a7a" stroke-width="0.7"/>
<text x="319.26" y="726.80" font-size="7.0" text-anchor="end" fill="#333" textLength="18.49" lengthAdjust="spacingAndGlyphs" transform="rotate(-90 319.26 726.80)">LUAD</text>
<line x1="324.47" y1="718.50" x2="324.47" y2="722.10" stroke="#7a7a7a" stroke-width="0.7"/>
<text x="326.97" y="726.80" font-size="7.0" text-anchor="end" fill="#333" textLength="18.86" lengthAdjust="spacingAndGlyphs" transform="rotate(-90 326.97 726.80)">TCGT</text>
<line x1="332.18" y1="718.50" x2="332.18" y2="722.10" stroke="#7a7a7a" stroke-width="0.7"/>
<text x="334.68" y="726.80" font-size="7.0" text-anchor="end" fill="#333" textLength="19.25" lengthAdjust="spacingAndGlyphs" transform="rotate(-90 334.68 726.80)">SARC</text>
<line x1="339.89" y1="718.50" x2="339.89" y2="722.10" stroke="#7a7a7a" stroke-width="0.7"/>
<text x="342.39" y="726.80" font-size="7.0" text-anchor="end" fill="#333" textLength="16.17" lengthAdjust="spacingAndGlyphs" transform="rotate(-90 342.39 726.80)">KIRP</text>
<line x1="347.60" y1="718.50" x2="347.60" y2="722.10" stroke="#7a7a7a" stroke-width="0.7"/>
<text x="350.10" y="726.80" font-size="7.0" text-anchor="end" fill="#333" textLength="15.79" lengthAdjust="spacingAndGlyphs" transform="rotate(-90 350.10 726.80)">LIHC</text>
<line x1="355.31" y1="718.50" x2="355.31" y2="722.10" stroke="#7a7a7a" stroke-width="0.7"/>
<text x="357.81" y="726.80" font-size="7.0" text-anchor="end" fill="#333" textLength="19.25" lengthAdjust="spacingAndGlyphs" transform="rotate(-90 357.81 726.80)">PRAD</text>
<line x1="363.02" y1="718.50" x2="363.02" y2="722.10" stroke="#7a7a7a" stroke-width="0.7"/>
<text x="365.52" y="726.80" font-size="7.0" text-anchor="end" fill="#333" textLength="17.97" lengthAdjust="spacingAndGlyphs" transform="rotate(-90 365.52 726.80)">STAD</text>
<line x1="370.73" y1="718.50" x2="370.73" y2="722.10" stroke="#7a7a7a" stroke-width="0.7"/>
<text x="373.23" y="726.80" font-size="7.0" text-anchor="end" fill="#333" textLength="19.64" lengthAdjust="spacingAndGlyphs" transform="rotate(-90 373.23 726.80)">UCEC</text>
<line x1="378.44" y1="718.50" x2="378.44" y2="722.10" stroke="#7a7a7a" stroke-width="0.7"/>
<text x="380.94" y="726.80" font-size="7.0" text-anchor="end" fill="#333" textLength="19.25" lengthAdjust="spacingAndGlyphs" transform="rotate(-90 380.94 726.80)">BRCA</text>
<line x1="386.15" y1="718.50" x2="386.15" y2="722.10" stroke="#7a7a7a" stroke-width="0.7"/>
<text x="388.65" y="726.80" font-size="7.0" text-anchor="end" fill="#333" textLength="19.64" lengthAdjust="spacingAndGlyphs" transform="rotate(-90 388.65 726.80)">HNSC</text>
<line x1="393.86" y1="718.50" x2="393.86" y2="722.10" stroke="#7a7a7a" stroke-width="0.7"/>
<text x="396.36" y="726.80" font-size="7.0" text-anchor="end" fill="#333" textLength="19.25" lengthAdjust="spacingAndGlyphs" transform="rotate(-90 396.36 726.80)">CESC</text>
<line x1="401.57" y1="718.50" x2="401.57" y2="722.10" stroke="#7a7a7a" stroke-width="0.7"/>
<text x="404.07" y="726.80" font-size="7.0" text-anchor="end" fill="#333" textLength="16.56" lengthAdjust="spacingAndGlyphs" transform="rotate(-90 404.07 726.80)">KIRC</text>
<line x1="409.28" y1="718.50" x2="409.28" y2="722.10" stroke="#7a7a7a" stroke-width="0.7"/>
<text x="411.78" y="726.80" font-size="7.0" text-anchor="end" fill="#333" textLength="10.01" lengthAdjust="spacingAndGlyphs" transform="rotate(-90 411.78 726.80)">OV</text>
<line x1="416.99" y1="718.50" x2="416.99" y2="722.10" stroke="#7a7a7a" stroke-width="0.7"/>
<text x="419.49" y="726.80" font-size="7.0" text-anchor="end" fill="#333" textLength="19.63" lengthAdjust="spacingAndGlyphs" transform="rotate(-90 419.49 726.80)">THYM</text>
<line x1="424.70" y1="718.50" x2="424.70" y2="722.10" stroke="#7a7a7a" stroke-width="0.7"/>
<text x="427.20" y="726.80" font-size="7.0" text-anchor="end" fill="#333" textLength="18.49" lengthAdjust="spacingAndGlyphs" transform="rotate(-90 427.20 726.80)">LUSC</text>
<line x1="432.41" y1="718.50" x2="432.41" y2="722.10" stroke="#7a7a7a" stroke-width="0.7"/>
<text x="434.91" y="726.80" font-size="7.0" text-anchor="end" fill="#333" textLength="18.86" lengthAdjust="spacingAndGlyphs" transform="rotate(-90 434.91 726.80)">THCA</text>
<line x1="440.12" y1="718.50" x2="440.12" y2="722.10" stroke="#7a7a7a" stroke-width="0.7"/>
<text x="442.62" y="726.80" font-size="7.0" text-anchor="end" fill="#333" textLength="19.25" lengthAdjust="spacingAndGlyphs" transform="rotate(-90 442.62 726.80)">READ</text>
<line x1="447.83" y1="718.50" x2="447.83" y2="722.10" stroke="#7a7a7a" stroke-width="0.7"/>
<text x="450.33" y="726.80" font-size="7.0" text-anchor="end" fill="#333" textLength="18.10" lengthAdjust="spacingAndGlyphs" transform="rotate(-90 450.33 726.80)">BLCA</text>
<line x1="455.54" y1="718.50" x2="455.54" y2="722.10" stroke="#7a7a7a" stroke-width="0.7"/>
<text x="458.04" y="726.80" font-size="7.0" text-anchor="end" fill="#333" textLength="18.87" lengthAdjust="spacingAndGlyphs" transform="rotate(-90 458.04 726.80)">ESCA</text>
<line x1="463.25" y1="718.50" x2="463.25" y2="722.10" stroke="#7a7a7a" stroke-width="0.7"/>
<text x="465.75" y="726.80" font-size="7.0" text-anchor="end" fill="#333" textLength="18.36" lengthAdjust="spacingAndGlyphs" transform="rotate(-90 465.75 726.80)">PAAD</text>
<line x1="470.96" y1="718.50" x2="470.96" y2="722.10" stroke="#7a7a7a" stroke-width="0.7"/>
<text x="473.46" y="726.80" font-size="7.0" text-anchor="end" fill="#333" textLength="19.64" lengthAdjust="spacingAndGlyphs" transform="rotate(-90 473.46 726.80)">PCPG</text>
<line x1="478.67" y1="718.50" x2="478.67" y2="722.10" stroke="#7a7a7a" stroke-width="0.7"/>
<text x="481.17" y="726.80" font-size="7.0" text-anchor="end" fill="#333" textLength="15.40" lengthAdjust="spacingAndGlyphs" transform="rotate(-90 481.17 726.80)">UVM</text>
<line x1="486.38" y1="718.50" x2="486.38" y2="722.10" stroke="#7a7a7a" stroke-width="0.7"/>
<text x="488.88" y="726.80" font-size="7.0" text-anchor="end" fill="#333" textLength="14.63" lengthAdjust="spacingAndGlyphs" transform="rotate(-90 488.88 726.80)">UCS</text>
<line x1="494.09" y1="718.50" x2="494.09" y2="722.10" stroke="#7a7a7a" stroke-width="0.7"/>
<text x="496.59" y="726.80" font-size="7.0" text-anchor="end" fill="#333" textLength="14.63" lengthAdjust="spacingAndGlyphs" transform="rotate(-90 496.59 726.80)">ACC</text>
<line x1="501.80" y1="718.50" x2="501.80" y2="722.10" stroke="#7a7a7a" stroke-width="0.7"/>
<text x="504.30" y="726.80" font-size="7.0" text-anchor="end" fill="#333" textLength="16.56" lengthAdjust="spacingAndGlyphs" transform="rotate(-90 504.30 726.80)">KICH</text>
<line x1="509.51" y1="718.50" x2="509.51" y2="722.10" stroke="#7a7a7a" stroke-width="0.7"/>
<text x="512.01" y="726.80" font-size="7.0" text-anchor="end" fill="#333" textLength="19.25" lengthAdjust="spacingAndGlyphs" transform="rotate(-90 512.01 726.80)">CHOL</text>
<line x1="517.22" y1="718.50" x2="517.22" y2="722.10" stroke="#7a7a7a" stroke-width="0.7"/>
<text x="519.72" y="726.80" font-size="7.0" text-anchor="end" fill="#333" textLength="18.49" lengthAdjust="spacingAndGlyphs" transform="rotate(-90 519.72 726.80)">DLBC</text>
<line x1="270.50" y1="619.40" x2="270.50" y2="623.40" stroke="#555" stroke-width="0.7"/>
<line x1="270.50" y1="626.50" x2="270.50" y2="630.40" stroke="#555" stroke-width="0.7"/>
<rect x="267.70" y="623.40" width="5.60" height="3.10" fill="#fff" stroke="#3a3a3a" stroke-width="0.7"/>
<line x1="267.70" y1="625.10" x2="273.30" y2="625.10" stroke="#111" stroke-width="1.1"/>
<line x1="278.21" y1="620.40" x2="278.21" y2="623.00" stroke="#555" stroke-width="0.7"/>
<line x1="278.21" y1="625.70" x2="278.21" y2="628.70" stroke="#555" stroke-width="0.7"/>
<rect x="275.41" y="623.00" width="5.60" height="2.70" fill="#fff" stroke="#3a3a3a" stroke-width="0.7"/>
<line x1="275.41" y1="624.30" x2="281.01" y2="624.30" stroke="#111" stroke-width="1.1"/>
<line x1="285.92" y1="630.90" x2="285.92" y2="634.40" stroke="#555" stroke-width="0.7"/>
<line x1="285.92" y1="637.90" x2="285.92" y2="642.10" stroke="#555" stroke-width="0.7"/>
<rect x="283.12" y="634.40" width="5.60" height="3.50" fill="#fff" stroke="#3a3a3a" stroke-width="0.7"/>
<line x1="283.12" y1="636.20" x2="288.72" y2="636.20" stroke="#111" stroke-width="1.1"/>
<line x1="293.63" y1="629.20" x2="293.63" y2="633.00" stroke="#555" stroke-width="0.7"/>
<line x1="293.63" y1="636.50" x2="293.63" y2="640.90" stroke="#555" stroke-width="0.7"/>
<rect x="290.83" y="633.00" width="5.60" height="3.50" fill="#fff" stroke="#3a3a3a" stroke-width="0.7"/>
<line x1="290.83" y1="634.80" x2="296.43" y2="634.80" stroke="#111" stroke-width="1.1"/>
<line x1="301.34" y1="626.00" x2="301.34" y2="627.80" stroke="#555" stroke-width="0.7"/>
<line x1="301.34" y1="630.40" x2="301.34" y2="633.60" stroke="#555" stroke-width="0.7"/>
<rect x="298.54" y="627.80" width="5.60" height="2.60" fill="#fff" stroke="#3a3a3a" stroke-width="0.7"/>
<line x1="298.54" y1="629.20" x2="304.14" y2="629.20" stroke="#111" stroke-width="1.1"/>
<line x1="309.05" y1="645.30" x2="309.05" y2="664.60" stroke="#555" stroke-width="0.7"/>
<line x1="309.05" y1="680.30" x2="309.05" y2="701.40" stroke="#555" stroke-width="0.7"/>
<rect x="306.25" y="664.60" width="5.60" height="15.70" fill="#fff" stroke="#3a3a3a" stroke-width="0.7"/>
<line x1="306.25" y1="673.00" x2="311.85" y2="673.00" stroke="#111" stroke-width="1.1"/>
<line x1="316.76" y1="622.50" x2="316.76" y2="628.70" stroke="#555" stroke-width="0.7"/>
<line x1="316.76" y1="632.50" x2="316.76" y2="637.90" stroke="#555" stroke-width="0.7"/>
<rect x="313.96" y="628.70" width="5.60" height="3.80" fill="#fff" stroke="#3a3a3a" stroke-width="0.7"/>
<line x1="313.96" y1="630.40" x2="319.56" y2="630.40" stroke="#111" stroke-width="1.1"/>
<line x1="324.47" y1="620.40" x2="324.47" y2="626.00" stroke="#555" stroke-width="0.7"/>
<line x1="324.47" y1="632.50" x2="324.47" y2="639.50" stroke="#555" stroke-width="0.7"/>
<rect x="321.67" y="626.00" width="5.60" height="6.50" fill="#fff" stroke="#3a3a3a" stroke-width="0.7"/>
<line x1="321.67" y1="627.40" x2="327.27" y2="627.40" stroke="#111" stroke-width="1.1"/>
<line x1="332.18" y1="625.40" x2="332.18" y2="629.80" stroke="#555" stroke-width="0.7"/>
<line x1="332.18" y1="633.60" x2="332.18" y2="638.60" stroke="#555" stroke-width="0.7"/>
<rect x="329.38" y="629.80" width="5.60" height="3.80" fill="#fff" stroke="#3a3a3a" stroke-width="0.7"/>
<line x1="329.38" y1="631.60" x2="334.98" y2="631.60" stroke="#111" stroke-width="1.1"/>
<line x1="339.89" y1="624.00" x2="339.89" y2="626.30" stroke="#555" stroke-width="0.7"/>
<line x1="339.89" y1="628.90" x2="339.89" y2="631.90" stroke="#555" stroke-width="0.7"/>
<rect x="337.09" y="626.30" width="5.60" height="2.60" fill="#fff" stroke="#3a3a3a" stroke-width="0.7"/>
<line x1="337.09" y1="627.50" x2="342.69" y2="627.50" stroke="#111" stroke-width="1.1"/>
<line x1="347.60" y1="633.60" x2="347.60" y2="638.00" stroke="#555" stroke-width="0.7"/>
<line x1="347.60" y1="642.40" x2="347.60" y2="645.90" stroke="#555" stroke-width="0.7"/>
<rect x="344.80" y="638.00" width="5.60" height="4.40" fill="#fff" stroke="#3a3a3a" stroke-width="0.7"/>
<line x1="344.80" y1="640.00" x2="350.40" y2="640.00" stroke="#111" stroke-width="1.1"/>
<line x1="355.31" y1="624.60" x2="355.31" y2="628.40" stroke="#555" stroke-width="0.7"/>
<line x1="355.31" y1="631.30" x2="355.31" y2="635.70" stroke="#555" stroke-width="0.7"/>
<rect x="352.51" y="628.40" width="5.60" height="2.90" fill="#fff" stroke="#3a3a3a" stroke-width="0.7"/>
<line x1="352.51" y1="629.80" x2="358.11" y2="629.80" stroke="#111" stroke-width="1.1"/>
<line x1="363.02" y1="626.00" x2="363.02" y2="631.30" stroke="#555" stroke-width="0.7"/>
<line x1="363.02" y1="635.70" x2="363.02" y2="641.50" stroke="#555" stroke-width="0.7"/>
<rect x="360.22" y="631.30" width="5.60" height="4.40" fill="#fff" stroke="#3a3a3a" stroke-width="0.7"/>
<line x1="360.22" y1="633.60" x2="365.82" y2="633.60" stroke="#111" stroke-width="1.1"/>
<line x1="370.73" y1="621.60" x2="370.73" y2="626.00" stroke="#555" stroke-width="0.7"/>
<line x1="370.73" y1="630.70" x2="370.73" y2="635.10" stroke="#555" stroke-width="0.7"/>
<rect x="367.93" y="626.00" width="5.60" height="4.70" fill="#fff" stroke="#3a3a3a" stroke-width="0.7"/>
<line x1="367.93" y1="628.40" x2="373.53" y2="628.40" stroke="#111" stroke-width="1.1"/>
<line x1="378.44" y1="621.90" x2="378.44" y2="626.30" stroke="#555" stroke-width="0.7"/>
<line x1="378.44" y1="630.70" x2="378.44" y2="635.10" stroke="#555" stroke-width="0.7"/>
<rect x="375.64" y="626.30" width="5.60" height="4.40" fill="#fff" stroke="#3a3a3a" stroke-width="0.7"/>
<line x1="375.64" y1="628.40" x2="381.24" y2="628.40" stroke="#111" stroke-width="1.1"/>
<line x1="386.15" y1="621.90" x2="386.15" y2="627.50" stroke="#555" stroke-width="0.7"/>
<line x1="386.15" y1="633.30" x2="386.15" y2="640.00" stroke="#555" stroke-width="0.7"/>
<rect x="383.35" y="627.50" width="5.60" height="5.80" fill="#fff" stroke="#3a3a3a" stroke-width="0.7"/>
<line x1="383.35" y1="630.40" x2="388.95" y2="630.40" stroke="#111" stroke-width="1.1"/>
<line x1="393.86" y1="621.90" x2="393.86" y2="625.40" stroke="#555" stroke-width="0.7"/>
<line x1="393.86" y1="629.20" x2="393.86" y2="633.30" stroke="#555" stroke-width="0.7"/>
<rect x="391.06" y="625.40" width="5.60" height="3.80" fill="#fff" stroke="#3a3a3a" stroke-width="0.7"/>
<line x1="391.06" y1="626.90" x2="396.66" y2="626.90" stroke="#111" stroke-width="1.1"/>
<line x1="401.57" y1="626.90" x2="401.57" y2="629.20" stroke="#555" stroke-width="0.7"/>
<line x1="401.57" y1="632.20" x2="401.57" y2="634.80" stroke="#555" stroke-width="0.7"/>
<rect x="398.77" y="629.20" width="5.60" height="3.00" fill="#fff" stroke="#3a3a3a" stroke-width="0.7"/>
<line x1="398.77" y1="630.70" x2="404.37" y2="630.70" stroke="#111" stroke-width="1.1"/>
<line x1="409.28" y1="622.50" x2="409.28" y2="627.50" stroke="#555" stroke-width="0.7"/>
<line x1="409.28" y1="632.20" x2="409.28" y2="637.10" stroke="#555" stroke-width="0.7"/>
<rect x="406.48" y="627.50" width="5.60" height="4.70" fill="#fff" stroke="#3a3a3a" stroke-width="0.7"/>
<line x1="406.48" y1="629.80" x2="412.08" y2="629.80" stroke="#111" stroke-width="1.1"/>
<line x1="416.99" y1="622.50" x2="416.99" y2="624.90" stroke="#555" stroke-width="0.7"/>
<line x1="416.99" y1="628.40" x2="416.99" y2="629.80" stroke="#555" stroke-width="0.7"/>
<rect x="414.19" y="624.90" width="5.60" height="3.50" fill="#fff" stroke="#3a3a3a" stroke-width="0.7"/>
<line x1="414.19" y1="626.30" x2="419.79" y2="626.30" stroke="#111" stroke-width="1.1"/>
<line x1="424.70" y1="621.60" x2="424.70" y2="625.40" stroke="#555" stroke-width="0.7"/>
<line x1="424.70" y1="629.80" x2="424.70" y2="634.20" stroke="#555" stroke-width="0.7"/>
<rect x="421.90" y="625.40" width="5.60" height="4.40" fill="#fff" stroke="#3a3a3a" stroke-width="0.7"/>
<line x1="421.90" y1="627.80" x2="427.50" y2="627.80" stroke="#111" stroke-width="1.1"/>
<line x1="432.41" y1="624.00" x2="432.41" y2="626.30" stroke="#555" stroke-width="0.7"/>
<line x1="432.41" y1="629.20" x2="432.41" y2="632.70" stroke="#555" stroke-width="0.7"/>
<rect x="429.61" y="626.30" width="5.60" height="2.90" fill="#fff" stroke="#3a3a3a" stroke-width="0.7"/>
<line x1="429.61" y1="627.80" x2="435.21" y2="627.80" stroke="#111" stroke-width="1.1"/>
<line x1="440.12" y1="632.20" x2="440.12" y2="635.10" stroke="#555" stroke-width="0.7"/>
<line x1="440.12" y1="639.20" x2="440.12" y2="643.50" stroke="#555" stroke-width="0.7"/>
<rect x="437.32" y="635.10" width="5.60" height="4.10" fill="#fff" stroke="#3a3a3a" stroke-width="0.7"/>
<line x1="437.32" y1="637.10" x2="442.92" y2="637.10" stroke="#111" stroke-width="1.1"/>
<line x1="447.83" y1="624.90" x2="447.83" y2="628.90" stroke="#555" stroke-width="0.7"/>
<line x1="447.83" y1="632.70" x2="447.83" y2="636.20" stroke="#555" stroke-width="0.7"/>
<rect x="445.03" y="628.90" width="5.60" height="3.80" fill="#fff" stroke="#3a3a3a" stroke-width="0.7"/>
<line x1="445.03" y1="630.70" x2="450.63" y2="630.70" stroke="#111" stroke-width="1.1"/>
<line x1="455.54" y1="621.90" x2="455.54" y2="627.50" stroke="#555" stroke-width="0.7"/>
<line x1="455.54" y1="633.60" x2="455.54" y2="641.50" stroke="#555" stroke-width="0.7"/>
<rect x="452.74" y="627.50" width="5.60" height="6.10" fill="#fff" stroke="#3a3a3a" stroke-width="0.7"/>
<line x1="452.74" y1="629.80" x2="458.34" y2="629.80" stroke="#111" stroke-width="1.1"/>
<line x1="463.25" y1="628.40" x2="463.25" y2="632.20" stroke="#555" stroke-width="0.7"/>
<line x1="463.25" y1="636.20" x2="463.25" y2="640.00" stroke="#555" stroke-width="0.7"/>
<rect x="460.45" y="632.20" width="5.60" height="4.00" fill="#fff" stroke="#3a3a3a" stroke-width="0.7"/>
<line x1="460.45" y1="634.20" x2="466.05" y2="634.20" stroke="#111" stroke-width="1.1"/>
<line x1="470.96" y1="628.40" x2="470.96" y2="631.90" stroke="#555" stroke-width="0.7"/>
<line x1="470.96" y1="635.70" x2="470.96" y2="639.20" stroke="#555" stroke-width="0.7"/>
<rect x="468.16" y="631.90" width="5.60" height="3.80" fill="#fff" stroke="#3a3a3a" stroke-width="0.7"/>
<line x1="468.16" y1="633.60" x2="473.76" y2="633.60" stroke="#111" stroke-width="1.1"/>
<line x1="478.67" y1="645.90" x2="478.67" y2="648.20" stroke="#555" stroke-width="0.7"/>
<line x1="478.67" y1="652.30" x2="478.67" y2="657.60" stroke="#555" stroke-width="0.7"/>
<rect x="475.87" y="648.20" width="5.60" height="4.10" fill="#fff" stroke="#3a3a3a" stroke-width="0.7"/>
<line x1="475.87" y1="650.30" x2="481.47" y2="650.30" stroke="#111" stroke-width="1.1"/>
<line x1="486.38" y1="622.50" x2="486.38" y2="626.00" stroke="#555" stroke-width="0.7"/>
<line x1="486.38" y1="630.70" x2="486.38" y2="634.20" stroke="#555" stroke-width="0.7"/>
<rect x="483.58" y="626.00" width="5.60" height="4.70" fill="#fff" stroke="#3a3a3a" stroke-width="0.7"/>
<line x1="483.58" y1="628.40" x2="489.18" y2="628.40" stroke="#111" stroke-width="1.1"/>
<line x1="494.09" y1="627.80" x2="494.09" y2="630.70" stroke="#555" stroke-width="0.7"/>
<line x1="494.09" y1="634.20" x2="494.09" y2="638.00" stroke="#555" stroke-width="0.7"/>
<rect x="491.29" y="630.70" width="5.60" height="3.50" fill="#fff" stroke="#3a3a3a" stroke-width="0.7"/>
<line x1="491.29" y1="632.70" x2="496.89" y2="632.70" stroke="#111" stroke-width="1.1"/>
<line x1="501.80" y1="625.40" x2="501.80" y2="627.50" stroke="#555" stroke-width="0.7"/>
<line x1="501.80" y1="630.40" x2="501.80" y2="631.90" stroke="#555" stroke-width="0.7"/>
<rect x="499.00" y="627.50" width="5.60" height="2.90" fill="#fff" stroke="#3a3a3a" stroke-width="0.7"/>
<line x1="499.00" y1="628.90" x2="504.60" y2="628.90" stroke="#111" stroke-width="1.1"/>
<line x1="509.51" y1="626.00" x2="509.51" y2="630.70" stroke="#555" stroke-width="0.7"/>
<line x1="509.51" y1="634.80" x2="509.51" y2="639.20" stroke="#555" stroke-width="0.7"/>
<rect x="506.71" y="630.70" width="5.60" height="4.10" fill="#fff" stroke="#3a3a3a" stroke-width="0.7"/>
<line x1="506.71" y1="632.70" x2="512.31" y2="632.70" stroke="#111" stroke-width="1.1"/>
<line x1="517.22" y1="627.80" x2="517.22" y2="630.40" stroke="#555" stroke-width="0.7"/>
<line x1="517.22" y1="634.20" x2="517.22" y2="638.60" stroke="#555" stroke-width="0.7"/>
<rect x="514.42" y="630.40" width="5.60" height="3.80" fill="#fff" stroke="#3a3a3a" stroke-width="0.7"/>
<line x1="514.42" y1="632.20" x2="520.02" y2="632.20" stroke="#111" stroke-width="1.1"/>
<text x="235.60" y="660.20" font-size="8.4" text-anchor="middle" textLength="69.80" lengthAdjust="spacingAndGlyphs" transform="rotate(-90 235.60 660.20)"><tspan font-style="italic">BRAF</tspan> essentiality</text>
<text x="273.60" y="700.00" font-size="6.4" text-anchor="middle" fill="#222" textLength="25.97" lengthAdjust="spacingAndGlyphs" transform="rotate(-90 273.60 700.00)">Essential</text>
<line x1="277.50" y1="690.30" x2="277.50" y2="708.00" stroke="#3d4f6e" stroke-width="1.5"/>
<path d="M277.50,712.30 L275.20,707.50 L277.50,708.50 L279.80,707.50 Z" stroke="none" stroke-width="0.8" fill="#3d4f6e"/>
<text x="392.90" y="761.70" font-size="8.4" text-anchor="middle" textLength="48.46" lengthAdjust="spacingAndGlyphs">Cancer type</text>
<text x="547.20" y="457.50" font-size="13.2" font-weight="bold" fill="#000" stroke="#000" stroke-width="0.55">g</text>
<path d="M588.3,452.3 V553.3 H655.0" stroke="#7a7a7a" stroke-width="0.8" fill="none"/>
<line x1="584.30" y1="464.20" x2="588.30" y2="464.20" stroke="#7a7a7a" stroke-width="0.8"/>
<text x="579.40" y="467.10" font-size="8.0" text-anchor="end" fill="#383838" textLength="4.63" lengthAdjust="spacingAndGlyphs">0</text>
<line x1="584.30" y1="482.00" x2="588.30" y2="482.00" stroke="#7a7a7a" stroke-width="0.8"/>
<text x="579.40" y="484.90" font-size="8.0" text-anchor="end" fill="#383838" textLength="14.34" lengthAdjust="spacingAndGlyphs">-0.5</text>
<line x1="584.30" y1="500.10" x2="588.30" y2="500.10" stroke="#7a7a7a" stroke-width="0.8"/>
<text x="579.40" y="503.00" font-size="8.0" text-anchor="end" fill="#383838" textLength="14.34" lengthAdjust="spacingAndGlyphs">-1.0</text>
<line x1="584.30" y1="517.60" x2="588.30" y2="517.60" stroke="#7a7a7a" stroke-width="0.8"/>
<text x="579.40" y="520.50" font-size="8.0" text-anchor="end" fill="#383838" textLength="14.34" lengthAdjust="spacingAndGlyphs">-1.5</text>
<line x1="584.30" y1="535.50" x2="588.30" y2="535.50" stroke="#7a7a7a" stroke-width="0.8"/>
<text x="579.40" y="538.40" font-size="8.0" text-anchor="end" fill="#383838" textLength="14.34" lengthAdjust="spacingAndGlyphs">-2.0</text>
<line x1="584.30" y1="553.30" x2="588.30" y2="553.30" stroke="#7a7a7a" stroke-width="0.8"/>
<text x="579.40" y="556.20" font-size="8.0" text-anchor="end" fill="#383838" textLength="14.34" lengthAdjust="spacingAndGlyphs">-2.5</text>
<line x1="606.40" y1="553.30" x2="606.40" y2="556.50" stroke="#7a7a7a" stroke-width="0.8"/>
<line x1="636.80" y1="553.30" x2="636.80" y2="556.50" stroke="#7a7a7a" stroke-width="0.8"/>
<line x1="606.40" y1="461.40" x2="606.40" y2="478.20" stroke="#666" stroke-width="0.8"/>
<line x1="606.40" y1="490.30" x2="606.40" y2="507.40" stroke="#666" stroke-width="0.8"/>
<rect x="595.60" y="478.20" width="21.60" height="12.10" fill="#fff" stroke="#666" stroke-width="0.8"/>
<line x1="595.60" y1="483.30" x2="617.20" y2="483.30" stroke="#111" stroke-width="1.1"/>
<line x1="636.80" y1="465.90" x2="636.80" y2="494.30" stroke="#888" stroke-width="0.8"/>
<line x1="636.80" y1="518.30" x2="636.80" y2="546.90" stroke="#888" stroke-width="0.8"/>
<rect x="626.00" y="494.30" width="21.60" height="24.00" fill="#fff" stroke="#888" stroke-width="0.8"/>
<line x1="626.00" y1="509.20" x2="647.60" y2="509.20" stroke="#111" stroke-width="1.1"/>
<text x="636.80" y="467.30" font-size="11.0" text-anchor="middle" fill="#222" textLength="13.40" lengthAdjust="spacingAndGlyphs">***</text>
<text x="556.20" y="503.00" font-size="8.4" text-anchor="middle" textLength="69.50" lengthAdjust="spacingAndGlyphs" transform="rotate(-90 556.20 503.00)"><tspan font-style="italic">KRAS</tspan> essentiality</text>
<text x="596.00" y="533.25" font-size="6.4" text-anchor="middle" fill="#222" textLength="25.97" lengthAdjust="spacingAndGlyphs" transform="rotate(-90 596.00 533.25)">Essential</text>
<line x1="599.50" y1="524.80" x2="599.50" y2="541.00" stroke="#3d4f6e" stroke-width="1.5"/>
<path d="M599.50,545.30 L597.20,540.50 L599.50,541.50 L601.80,540.50 Z" stroke="none" stroke-width="0.8" fill="#3d4f6e"/>
<text x="611.80" y="564.30" font-size="7.4" text-anchor="end" fill="#333" textLength="36.71" lengthAdjust="spacingAndGlyphs" transform="rotate(-45 611.80 564.30)">KRAS (WT)</text>
<text x="642.00" y="564.30" font-size="7.4" text-anchor="end" fill="#333" textLength="41.01" lengthAdjust="spacingAndGlyphs" transform="rotate(-45 642.00 564.30)">KRAS (MUT)</text>
<text x="548.80" y="616.60" font-size="13.2" font-weight="bold" fill="#000" stroke="#000" stroke-width="0.55">i</text>
<path d="M589.7,614.9 V719.1 H656.3" stroke="#7a7a7a" stroke-width="0.8" fill="none"/>
<line x1="585.70" y1="618.40" x2="589.70" y2="618.40" stroke="#7a7a7a" stroke-width="0.8"/>
<text x="579.40" y="621.30" font-size="8.0" text-anchor="end" fill="#383838" textLength="4.63" lengthAdjust="spacingAndGlyphs">0</text>
<line x1="585.70" y1="638.50" x2="589.70" y2="638.50" stroke="#7a7a7a" stroke-width="0.8"/>
<text x="579.40" y="641.40" font-size="8.0" text-anchor="end" fill="#383838" textLength="14.34" lengthAdjust="spacingAndGlyphs">-0.5</text>
<line x1="585.70" y1="659.60" x2="589.70" y2="659.60" stroke="#7a7a7a" stroke-width="0.8"/>
<text x="579.40" y="662.50" font-size="8.0" text-anchor="end" fill="#383838" textLength="14.34" lengthAdjust="spacingAndGlyphs">-1.0</text>
<line x1="585.70" y1="680.10" x2="589.70" y2="680.10" stroke="#7a7a7a" stroke-width="0.8"/>
<text x="579.40" y="683.00" font-size="8.0" text-anchor="end" fill="#383838" textLength="14.34" lengthAdjust="spacingAndGlyphs">-1.5</text>
<line x1="585.70" y1="700.40" x2="589.70" y2="700.40" stroke="#7a7a7a" stroke-width="0.8"/>
<text x="579.40" y="703.30" font-size="8.0" text-anchor="end" fill="#383838" textLength="14.34" lengthAdjust="spacingAndGlyphs">-2.0</text>
<line x1="607.80" y1="719.10" x2="607.80" y2="722.30" stroke="#7a7a7a" stroke-width="0.8"/>
<line x1="639.90" y1="719.10" x2="639.90" y2="722.30" stroke="#7a7a7a" stroke-width="0.8"/>
<line x1="607.80" y1="621.00" x2="607.80" y2="629.40" stroke="#666" stroke-width="0.8"/>
<line x1="607.80" y1="635.60" x2="607.80" y2="644.70" stroke="#666" stroke-width="0.8"/>
<rect x="596.15" y="629.40" width="23.30" height="6.20" fill="#fff" stroke="#666" stroke-width="0.8"/>
<line x1="596.15" y1="632.40" x2="619.45" y2="632.40" stroke="#111" stroke-width="1.1"/>
<line x1="639.90" y1="624.90" x2="639.90" y2="630.10" stroke="#888" stroke-width="0.8"/>
<line x1="639.90" y1="666.60" x2="639.90" y2="703.40" stroke="#888" stroke-width="0.8"/>
<rect x="628.25" y="630.10" width="23.30" height="36.50" fill="#fff" stroke="#888" stroke-width="0.8"/>
<line x1="628.25" y1="632.40" x2="651.55" y2="632.40" stroke="#111" stroke-width="1.1"/>
<text x="639.90" y="627.30" font-size="11.0" text-anchor="middle" fill="#222" textLength="13.40" lengthAdjust="spacingAndGlyphs">***</text>
<text x="555.80" y="667.50" font-size="8.4" text-anchor="middle" textLength="69.50" lengthAdjust="spacingAndGlyphs" transform="rotate(-90 555.80 667.50)"><tspan font-style="italic">BRAF</tspan> essentiality</text>
<text x="597.30" y="701.15" font-size="6.4" text-anchor="middle" fill="#222" textLength="25.97" lengthAdjust="spacingAndGlyphs" transform="rotate(-90 597.30 701.15)">Essential</text>
<line x1="600.50" y1="692.70" x2="600.50" y2="708.90" stroke="#3d4f6e" stroke-width="1.5"/>
<path d="M600.50,713.20 L598.20,708.40 L600.50,709.40 L602.80,708.40 Z" stroke="none" stroke-width="0.8" fill="#3d4f6e"/>
<text x="612.60" y="731.30" font-size="7.4" text-anchor="end" fill="#333" textLength="36.31" lengthAdjust="spacingAndGlyphs" transform="rotate(-45 612.60 731.30)">BRAF (WT)</text>
<text x="644.00" y="731.30" font-size="7.4" text-anchor="end" fill="#333" textLength="40.61" lengthAdjust="spacingAndGlyphs" transform="rotate(-45 644.00 731.30)">BRAF (MUT)</text>
<text x="213.60" y="790.60" font-size="13.2" font-weight="bold" fill="#000" stroke="#000" stroke-width="0.55">j</text>
<path d="M257.6,791.4 V904.5 H393.2" stroke="#7a7a7a" stroke-width="0.8" fill="none"/>
<line x1="254.00" y1="796.10" x2="257.60" y2="796.10" stroke="#7a7a7a" stroke-width="0.8"/>
<text x="250.90" y="799.00" font-size="8.0" text-anchor="end" fill="#383838" textLength="20.82" lengthAdjust="spacingAndGlyphs">2,000</text>
<line x1="254.00" y1="838.70" x2="257.60" y2="838.70" stroke="#7a7a7a" stroke-width="0.8"/>
<text x="250.90" y="841.60" font-size="8.0" text-anchor="end" fill="#383838" textLength="20.82" lengthAdjust="spacingAndGlyphs">1,000</text>
<line x1="254.00" y1="881.30" x2="257.60" y2="881.30" stroke="#7a7a7a" stroke-width="0.8"/>
<text x="250.90" y="884.20" font-size="8.0" text-anchor="end" fill="#383838" textLength="4.63" lengthAdjust="spacingAndGlyphs">0</text>
<line x1="257.60" y1="904.50" x2="257.60" y2="908.00" stroke="#7a7a7a" stroke-width="0.8"/>
<text x="257.60" y="916.60" font-size="8.0" text-anchor="middle" fill="#383838" textLength="16.01" lengthAdjust="spacingAndGlyphs">-500</text>
<line x1="291.30" y1="904.50" x2="291.30" y2="908.00" stroke="#7a7a7a" stroke-width="0.8"/>
<text x="291.30" y="916.60" font-size="8.0" text-anchor="middle" fill="#383838" textLength="4.45" lengthAdjust="spacingAndGlyphs">0</text>
<line x1="325.20" y1="904.50" x2="325.20" y2="908.00" stroke="#7a7a7a" stroke-width="0.8"/>
<text x="325.20" y="916.60" font-size="8.0" text-anchor="middle" fill="#383838" textLength="13.35" lengthAdjust="spacingAndGlyphs">500</text>
<line x1="359.20" y1="904.50" x2="359.20" y2="908.00" stroke="#7a7a7a" stroke-width="0.8"/>
<text x="359.20" y="916.60" font-size="8.0" text-anchor="middle" fill="#383838" textLength="20.02" lengthAdjust="spacingAndGlyphs">1,000</text>
<line x1="393.00" y1="904.50" x2="393.00" y2="908.00" stroke="#7a7a7a" stroke-width="0.8"/>
<text x="393.00" y="916.60" font-size="8.0" text-anchor="middle" fill="#383838" textLength="20.02" lengthAdjust="spacingAndGlyphs">1,500</text>
<text x="324.80" y="929.40" font-size="8.4" text-anchor="middle" textLength="60.15" lengthAdjust="spacingAndGlyphs">DEPMAP (LRT)</text>
<text x="220.60" y="847.00" font-size="8.4" text-anchor="middle" textLength="69.20" lengthAdjust="spacingAndGlyphs" transform="rotate(-90 220.60 847.00)">TCGA<tspan font-size="5.6" dy="2">DEPMAP</tspan><tspan dy="-2"> (LRT)</tspan></text>
<path d="M294.2,887.0h0M289.8,886.2h0M292.7,882.2h0M302.0,883.5h0M293.6,885.3h0M298.6,882.9h0M296.3,879.9h0M292.2,881.6h0M288.1,878.2h0M286.8,882.2h0M293.1,882.0h0M294.1,878.7h0M293.5,883.8h0M297.0,880.3h0M292.1,876.6h0M291.6,876.0h0M287.7,886.5h0M284.3,885.6h0M295.2,882.0h0M295.8,884.7h0M298.3,882.3h0M291.3,881.1h0M289.6,882.9h0M290.4,886.4h0M285.8,879.5h0M289.7,876.3h0M302.0,875.3h0M292.6,881.3h0M300.9,876.6h0M298.4,880.7h0M293.1,880.9h0M296.6,879.4h0M293.5,884.1h0M301.7,875.3h0M300.4,886.0h0M291.7,884.0h0M291.8,888.3h0M294.7,882.3h0M292.8,882.4h0M293.0,880.2h0M302.7,876.9h0M278.3,882.6h0M293.2,884.2h0M292.9,882.5h0M295.2,886.1h0M291.9,881.8h0M302.1,884.7h0M289.6,890.4h0M297.1,881.1h0M288.8,884.0h0M290.2,879.6h0M288.2,881.4h0M298.6,881.6h0M287.6,885.1h0M294.1,885.7h0M299.0,882.5h0M293.2,882.9h0M288.9,885.1h0M299.7,883.6h0M292.8,882.2h0M290.4,880.4h0M292.1,880.3h0M291.9,878.0h0M295.3,883.2h0M288.8,875.6h0M293.8,886.5h0M290.6,881.5h0M291.4,885.1h0M289.9,886.2h0M292.5,886.0h0M293.9,882.3h0M287.4,880.8h0M292.7,885.1h0M294.9,880.8h0M295.6,886.2h0M293.2,881.6h0M292.1,885.6h0M296.1,880.0h0M295.4,881.5h0M290.6,887.0h0M297.3,880.7h0M294.1,884.6h0M291.1,882.6h0M296.7,877.3h0M295.2,885.4h0M296.0,878.7h0M295.2,880.2h0M296.3,884.9h0M294.7,880.6h0M291.3,885.7h0M289.9,884.6h0M296.0,882.1h0M304.1,883.2h0M303.0,876.5h0M284.2,886.1h0M296.5,882.0h0M293.6,876.9h0M291.1,879.7h0M292.8,885.8h0M294.0,884.2h0M290.8,881.6h0M294.3,882.1h0M299.2,880.2h0M301.9,879.9h0M298.4,880.5h0M300.9,883.4h0M295.5,885.4h0M291.1,879.7h0M285.1,886.9h0M290.8,881.1h0M293.7,889.4h0M286.4,883.8h0M292.1,884.7h0M286.1,881.7h0M297.4,888.0h0M300.7,880.3h0M294.0,882.6h0M287.9,878.4h0M297.1,883.8h0M293.2,886.9h0M289.5,884.7h0M293.8,882.8h0M295.9,883.6h0M294.9,883.8h0M302.1,882.0h0M298.2,884.9h0M292.3,885.5h0M290.1,886.7h0M290.3,881.4h0M295.2,885.7h0M297.7,885.9h0M292.9,879.9h0M296.2,884.0h0M289.7,886.1h0M294.7,879.9h0M295.7,878.8h0M290.0,884.3h0M287.1,883.1h0M288.0,885.4h0M290.7,883.6h0M287.3,881.9h0M297.9,884.5h0M285.9,886.0h0M297.6,881.8h0M299.9,879.6h0M293.4,886.6h0M299.4,887.1h0M289.1,877.3h0M295.5,878.4h0M293.2,878.9h0M298.4,885.6h0M296.2,883.1h0M294.0,882.0h0M295.4,883.8h0M295.8,881.6h0M302.0,883.9h0M299.8,887.3h0M290.0,877.6h0M299.2,881.8h0M294.2,882.2h0M294.4,879.2h0M293.4,881.5h0M293.7,875.5h0M297.3,884.1h0M286.4,880.7h0M293.9,885.0h0M293.8,887.4h0M293.9,879.8h0M290.9,885.4h0M291.2,885.7h0M298.2,884.9h0M298.2,882.4h0M293.8,881.1h0M291.2,878.0h0M291.4,879.6h0M287.7,883.5h0M295.8,881.9h0M299.7,886.0h0M298.3,881.1h0M287.4,884.8h0M295.1,885.3h0M295.6,887.0h0M292.6,885.1h0M290.0,875.6h0M291.9,887.8h0M286.6,886.3h0M290.9,881.7h0M294.0,883.7h0M289.6,883.4h0M295.7,885.7h0M290.6,888.0h0M302.0,890.7h0M288.0,883.6h0M285.8,884.2h0M296.2,879.3h0M287.0,883.6h0M296.5,880.5h0M292.7,874.9h0M290.8,883.5h0M294.5,888.1h0M288.9,875.8h0M295.7,881.1h0M295.0,885.3h0M296.4,887.6h0M299.6,877.7h0M293.5,889.4h0M292.0,886.1h0M293.6,881.7h0M300.6,886.3h0M292.8,885.9h0M288.2,880.7h0M297.7,883.1h0M289.2,884.4h0M295.2,887.1h0M297.9,882.1h0M291.7,882.6h0M292.8,887.7h0M300.6,887.3h0M295.4,882.2h0M297.7,881.9h0M294.8,877.7h0M292.0,887.6h0M289.4,878.2h0M293.1,888.3h0M300.0,881.8h0M291.7,882.6h0M289.8,883.1h0M292.5,878.3h0M291.3,882.2h0M290.1,879.4h0M297.7,889.1h0M292.6,881.6h0M296.0,882.3h0M290.4,887.5h0M289.3,880.7h0M290.9,880.2h0M292.8,884.8h0M300.0,885.1h0M294.0,879.0h0M293.5,880.0h0M293.4,886.1h0M294.7,882.3h0M290.6,882.9h0M294.3,880.0h0M291.6,885.8h0M286.7,881.6h0M288.8,887.9h0M296.4,884.6h0M295.5,883.9h0M295.1,877.9h0M294.9,884.9h0M287.7,885.6h0M296.7,878.1h0M291.8,882.0h0M291.5,884.3h0M288.3,882.3h0M294.8,885.3h0M294.0,882.2h0M296.8,876.6h0M297.8,882.0h0M288.4,881.6h0M285.9,876.5h0M292.4,880.5h0M297.0,880.2h0M288.2,879.9h0M301.2,883.1h0M291.2,879.8h0M289.1,882.5h0M295.6,886.7h0M298.7,883.9h0M291.0,880.2h0M283.9,879.7h0M295.6,881.9h0M295.4,878.7h0M297.7,883.9h0M294.0,884.3h0M284.2,881.2h0M289.9,888.8h0M293.0,881.4h0M297.5,879.6h0M299.9,880.8h0M293.5,880.1h0M297.3,876.1h0M296.8,880.4h0M294.0,879.3h0M294.8,883.6h0M296.3,884.0h0M296.5,886.2h0M292.1,879.2h0M288.3,885.2h0M292.2,886.4h0M294.0,879.8h0M297.7,889.2h0M293.0,880.0h0M290.2,885.8h0M291.3,881.7h0M296.7,883.0h0M294.3,881.3h0M291.1,883.5h0M294.5,884.9h0M291.7,884.1h0M295.8,883.3h0M296.3,886.2h0M294.7,883.2h0M289.6,884.1h0M293.4,882.0h0M290.3,884.8h0M304.8,884.4h0M294.2,884.4h0M291.3,883.3h0M291.0,880.9h0M294.8,883.7h0M293.3,880.5h0M294.9,879.5h0M297.1,881.9h0M293.8,885.5h0M296.2,878.9h0M292.7,884.2h0M289.1,875.3h0M293.5,882.8h0M295.6,883.3h0M294.4,883.8h0M299.7,884.6h0M296.1,881.7h0M298.6,882.4h0M297.0,876.3h0M294.9,882.7h0M291.8,887.1h0M295.5,882.5h0M291.5,889.0h0M297.0,885.1h0M290.5,887.2h0M296.2,882.1h0M293.4,877.8h0M296.6,879.5h0M297.4,881.6h0M291.1,884.2h0M294.7,879.4h0M293.5,884.9h0M292.7,878.7h0M292.8,879.9h0M291.3,883.1h0M293.6,882.3h0M286.7,884.1h0M292.9,881.7h0M294.5,889.1h0M288.3,877.9h0M297.1,880.5h0M299.4,879.9h0M291.7,885.7h0M297.7,884.4h0M295.7,882.6h0M291.9,882.4h0M299.2,885.3h0M293.9,884.0h0M297.4,886.8h0M293.2,882.7h0M295.2,891.3h0M294.8,887.0h0M287.2,885.7h0M287.8,879.6h0M291.1,882.5h0M294.6,884.2h0M294.8,881.6h0M304.9,884.3h0M296.7,889.4h0M297.9,884.8h0M295.2,888.9h0M289.2,880.0h0M294.4,876.5h0M290.5,886.6h0M291.8,883.5h0M296.8,879.3h0M295.0,881.0h0M289.1,882.1h0M293.6,881.7h0M291.0,886.0h0M298.7,884.8h0M293.4,879.7h0M290.3,879.5h0M294.7,885.9h0M297.7,882.9h0M292.2,883.6h0M294.3,884.9h0M300.1,880.8h0M302.7,876.3h0M286.2,878.2h0M289.4,882.3h0M302.6,880.8h0M298.5,881.9h0M294.4,879.8h0M303.5,882.9h0M291.2,890.2h0M294.6,884.3h0M293.2,880.4h0M287.7,882.4h0M300.7,884.3h0M293.1,886.4h0M289.8,887.4h0M293.7,880.4h0M296.7,884.6h0M292.3,883.7h0M298.0,887.5h0M290.2,874.7h0M302.5,882.2h0M292.0,884.4h0M292.0,886.3h0M288.5,882.4h0M288.4,887.8h0M292.7,886.5h0M299.7,879.2h0M292.9,885.3h0M294.0,882.6h0M297.4,885.9h0M291.3,882.6h0M296.6,883.7h0M294.4,879.4h0M301.3,882.3h0M294.9,882.9h0M294.1,883.5h0M290.2,884.2h0M298.9,884.3h0M296.9,884.5h0M293.9,888.8h0M290.9,884.2h0M298.2,883.9h0M289.3,879.6h0M300.5,880.0h0M293.8,884.7h0M294.2,877.4h0M285.7,882.7h0M290.5,882.2h0M294.2,883.5h0M288.1,877.7h0M297.8,881.0h0M288.8,876.7h0M296.1,879.0h0M289.3,885.0h0M295.1,884.8h0M288.4,873.9h0M289.6,882.0h0M291.0,885.8h0M295.3,879.7h0M296.2,882.5h0M291.7,886.6h0M286.7,886.3h0M298.5,876.5h0M293.0,882.5h0M289.0,881.2h0M290.3,883.2h0M291.4,876.2h0M298.9,885.9h0M290.2,885.8h0M302.5,878.0h0M292.0,881.3h0M296.2,882.0h0M287.8,887.0h0M292.4,885.3h0M303.6,880.6h0M292.0,885.9h0M293.3,884.7h0M293.8,892.0h0M296.5,884.1h0M294.3,884.2h0M286.8,882.1h0M297.0,879.2h0M294.0,882.7h0M291.6,891.0h0M296.9,884.1h0M290.4,883.3h0M292.5,882.7h0M294.8,891.0h0M299.6,888.5h0M299.7,892.0h0M291.0,878.9h0M294.7,883.8h0M294.0,881.0h0M296.8,888.5h0M294.8,882.3h0M299.0,882.0h0M292.3,884.0h0M284.0,889.0h0M293.4,884.7h0M295.2,884.3h0M288.1,888.7h0M296.3,884.0h0M307.4,879.0h0M297.0,882.7h0M287.4,889.2h0M287.1,883.5h0M293.5,883.6h0M289.8,887.4h0M294.9,878.9h0M288.6,883.9h0M288.8,884.4h0M295.2,881.1h0M285.5,878.8h0M295.4,881.4h0M301.8,881.6h0M295.5,885.2h0M294.2,884.0h0M298.2,882.6h0M295.3,881.9h0M302.4,883.6h0M297.4,873.5h0M291.7,879.4h0M294.0,881.6h0M289.3,882.1h0M297.3,886.4h0M291.5,886.4h0M291.2,885.0h0M290.1,886.4h0M303.8,882.1h0M299.1,878.4h0M291.1,891.5h0M293.5,884.6h0M286.8,883.0h0M290.4,886.9h0M291.5,891.2h0M289.1,884.1h0M285.2,881.7h0M299.1,882.7h0M288.2,884.6h0M297.9,884.4h0M298.1,878.5h0M301.7,885.3h0M284.8,889.0h0M291.8,884.7h0M285.3,881.0h0M286.0,885.7h0M292.8,880.1h0M292.2,886.6h0M290.5,884.8h0M288.7,877.7h0M291.7,882.1h0M294.6,886.0h0M292.0,881.8h0M297.1,884.4h0M293.6,883.8h0M284.4,881.3h0M286.9,881.9h0M297.7,877.6h0M297.8,881.2h0M292.9,881.5h0M296.9,880.9h0M284.9,884.0h0M293.2,885.0h0M296.4,879.1h0M294.7,883.4h0M293.5,883.3h0M295.2,881.2h0M293.2,886.1h0M289.2,882.7h0M289.4,879.6h0M292.0,883.6h0M300.3,882.4h0M297.8,884.7h0M294.1,873.1h0M294.3,883.2h0M289.3,883.4h0M300.1,879.3h0M291.6,885.9h0M286.1,879.7h0M295.1,886.0h0M299.0,885.4h0M303.7,884.2h0M288.2,882.4h0M296.5,884.2h0M285.5,884.2h0M290.4,882.4h0M300.1,882.5h0M291.0,882.6h0M291.0,889.5h0M297.4,885.9h0M290.9,880.9h0M294.9,876.0h0M298.2,878.9h0M294.2,884.1h0M290.4,884.1h0M296.8,889.1h0M295.5,888.8h0M295.8,882.4h0M297.5,881.3h0M294.5,885.0h0M298.7,883.9h0M287.5,887.2h0M294.5,882.0h0M290.3,884.8h0M295.2,885.2h0M293.2,887.9h0M292.7,884.3h0M294.7,886.4h0M290.8,882.0h0M292.9,880.9h0M291.0,879.1h0M297.0,887.8h0M289.6,885.5h0M288.9,880.4h0M292.4,883.4h0M295.7,876.8h0M288.2,883.3h0M292.7,889.8h0M292.6,880.9h0M299.0,874.5h0M285.8,891.7h0M291.1,883.2h0M293.0,880.2h0M293.2,878.8h0M297.9,885.5h0M296.7,880.1h0M285.5,881.4h0M289.1,884.2h0M286.8,880.0h0M294.4,884.4h0M294.2,879.0h0M290.8,889.4h0M297.8,880.3h0M302.0,882.6h0M293.8,880.3h0M300.3,883.3h0M293.4,880.0h0M288.3,883.6h0M293.8,887.9h0M289.9,881.8h0M298.0,885.6h0M290.9,887.7h0M295.8,885.8h0M295.3,886.1h0M292.0,882.3h0M298.4,884.2h0M295.3,886.6h0M294.8,884.3h0M284.3,881.3h0M297.3,880.2h0M292.5,883.7h0M293.2,885.7h0M295.8,882.4h0M298.4,881.8h0M290.7,884.0h0M296.5,882.5h0M289.2,881.3h0M294.8,885.2h0M301.4,882.5h0M292.8,876.1h0M299.3,885.9h0M293.8,880.7h0M282.6,885.3h0M290.4,887.8h0M297.0,887.1h0M293.2,886.8h0M287.8,887.6h0M293.6,879.2h0M292.1,879.9h0M294.9,880.7h0M288.3,881.8h0M292.8,883.6h0M296.8,887.0h0M295.5,888.2h0M283.2,882.8h0M297.8,878.8h0M292.9,883.7h0M287.1,881.2h0M296.3,882.0h0M300.4,890.5h0M293.5,879.3h0M293.6,881.2h0M287.7,881.7h0M291.8,881.8h0M297.7,886.4h0M295.6,881.8h0M295.6,883.1h0M294.7,879.9h0M280.6,885.8h0M291.2,881.4h0M293.7,882.8h0M292.5,887.9h0M294.3,883.7h0M290.0,882.7h0M295.8,882.7h0M295.2,880.0h0M295.4,879.7h0M291.9,880.5h0M294.6,886.5h0M295.0,880.2h0M294.4,886.3h0M296.9,884.6h0M289.0,881.2h0M290.9,881.5h0M294.8,883.1h0M292.3,884.8h0M290.7,881.9h0M294.2,878.7h0M290.1,878.6h0M289.3,882.5h0M293.2,884.1h0M295.2,879.4h0M301.8,887.3h0M288.6,880.8h0M291.7,883.6h0M296.4,883.0h0M282.8,892.1h0M297.4,885.6h0M290.6,883.3h0M297.8,881.5h0M298.7,883.3h0M300.5,883.1h0M300.2,877.9h0M300.0,884.4h0M292.2,886.4h0M292.7,885.6h0M297.9,886.3h0M303.2,887.4h0M304.5,885.2h0M294.4,884.2h0M293.6,879.1h0M294.4,879.2h0M292.6,882.0h0M291.4,879.6h0M294.3,882.9h0M299.7,885.0h0M297.8,881.5h0M292.5,879.0h0M290.1,885.3h0M293.0,882.5h0M291.4,887.9h0M293.6,886.6h0M293.6,886.0h0M289.6,878.7h0M298.5,882.0h0M294.9,885.8h0M296.8,883.9h0M288.7,880.8h0M293.9,885.0h0M296.0,884.2h0M290.5,883.0h0M297.9,880.2h0M291.3,885.9h0M300.6,884.3h0M293.8,880.0h0M293.3,880.5h0M294.4,885.3h0M295.7,887.1h0M289.4,879.0h0M299.6,886.3h0M289.6,883.4h0M289.2,882.9h0M295.1,886.1h0M289.7,879.0h0M296.2,881.9h0M299.8,879.4h0M291.0,874.3h0M298.6,887.2h0M295.6,882.0h0M285.2,878.7h0M291.5,889.1h0M297.6,881.1h0M295.6,884.8h0M296.0,880.1h0M291.9,886.2h0M296.8,881.9h0M304.2,883.9h0M292.1,885.9h0M297.3,882.6h0M301.5,886.4h0M293.9,885.3h0M296.7,882.1h0M296.9,881.3h0M292.8,885.1h0M288.5,881.9h0M289.7,885.3h0M291.4,888.8h0M300.4,880.8h0M294.5,881.9h0M293.8,885.2h0M300.2,890.0h0M301.7,879.0h0M291.8,882.4h0M292.5,883.5h0M296.6,881.6h0M291.3,890.5h0M296.8,889.9h0M291.4,887.4h0M301.0,887.3h0M290.6,884.8h0M290.5,879.5h0M293.8,884.6h0M292.9,882.7h0M296.5,880.9h0M295.7,885.5h0M296.6,884.8h0M289.6,882.1h0M292.0,885.3h0M286.4,883.5h0M287.0,885.1h0M291.6,883.2h0M297.8,888.4h0M289.6,883.4h0M285.5,882.4h0M290.9,885.1h0M293.4,883.4h0M286.1,878.9h0M286.1,880.6h0M281.9,881.9h0M305.9,893.5h0M309.6,887.1h0M303.3,888.4h0M295.8,882.5h0M279.4,878.1h0M306.4,872.1h0M299.0,880.3h0M292.9,882.1h0M296.3,875.0h0M295.4,871.6h0M309.5,880.5h0M304.0,876.0h0M312.6,885.6h0M299.2,881.6h0M299.5,876.9h0M294.9,879.5h0M299.5,888.2h0M306.5,881.9h0M301.8,879.2h0M291.8,872.6h0M284.8,874.7h0M295.5,879.7h0M300.0,886.3h0M302.2,879.8h0M292.0,879.1h0M301.6,876.0h0M282.7,879.5h0M305.5,886.6h0M301.5,871.1h0M294.7,884.1h0M305.8,889.7h0M287.7,882.4h0M282.2,879.5h0M292.6,884.6h0M297.6,871.9h0M295.0,882.4h0M309.1,877.0h0M288.4,877.7h0M305.2,879.1h0M296.9,882.7h0M288.8,886.0h0M281.6,889.6h0M290.1,876.0h0M289.5,874.8h0M288.2,876.6h0M285.6,879.7h0M298.9,877.7h0M297.7,876.4h0M298.0,878.9h0M286.3,881.0h0M294.6,877.2h0M295.6,883.2h0M285.1,878.0h0M301.6,880.5h0M303.0,892.4h0M284.8,882.3h0M292.7,887.6h0M301.2,873.6h0M305.7,880.5h0M293.3,880.6h0M298.0,876.3h0M292.6,887.2h0M286.9,877.5h0M302.9,875.8h0M294.2,882.0h0M287.9,878.9h0M287.9,879.4h0M298.5,880.6h0M298.2,882.4h0M303.1,875.2h0M297.0,888.4h0M293.9,879.2h0M296.1,876.9h0M301.0,880.5h0M294.5,884.2h0M306.8,873.5h0M291.5,879.1h0M283.4,883.9h0M314.9,884.5h0M307.3,870.8h0M292.0,873.9h0M303.0,879.9h0M294.4,882.9h0M302.8,888.6h0M308.3,885.2h0M281.3,886.7h0M296.8,872.9h0M297.5,879.3h0M295.2,885.3h0M283.9,883.7h0M306.7,874.9h0M308.5,877.2h0M289.4,885.2h0M295.8,871.3h0M290.2,883.9h0M291.1,878.1h0M296.1,880.5h0M289.8,875.9h0M300.0,886.6h0M273.3,882.6h0M305.0,876.1h0M308.9,873.0h0M304.6,888.6h0M309.8,867.2h0M296.5,875.5h0M299.5,887.5h0M299.7,888.7h0M281.0,876.3h0M291.3,883.8h0M306.9,876.3h0M287.7,884.9h0M284.1,883.3h0M288.7,880.1h0M314.6,879.2h0M296.4,876.5h0M301.0,888.1h0M301.7,874.0h0M299.3,888.3h0M287.4,879.8h0M287.7,877.6h0M287.1,873.8h0M300.3,880.2h0M276.4,875.3h0M289.5,875.0h0M297.4,879.5h0M299.3,873.8h0M289.3,878.3h0M292.6,878.7h0M289.1,879.9h0M310.8,876.7h0M281.1,881.9h0M287.8,884.5h0M305.4,888.9h0M297.3,872.1h0M310.4,885.1h0M307.6,881.0h0M292.9,880.6h0M279.4,885.4h0M290.4,877.4h0M299.3,876.2h0M303.3,877.5h0M317.2,886.8h0M302.2,882.1h0M296.6,878.0h0M278.9,877.8h0M289.0,878.0h0M296.8,871.2h0M284.9,877.1h0M292.0,885.1h0M320.0,879.8h0M301.9,880.5h0M298.5,889.3h0M297.7,883.4h0M296.5,877.5h0M305.8,879.7h0M309.4,875.0h0M300.2,889.0h0M290.5,882.3h0M309.4,882.7h0M288.9,878.9h0M299.0,877.6h0M292.4,881.2h0M285.0,888.9h0M290.8,880.5h0M297.1,887.7h0M292.7,890.8h0M312.8,884.2h0M283.9,874.1h0M293.9,882.0h0M301.9,886.7h0M300.3,880.9h0M299.7,870.5h0M306.6,873.0h0M278.7,877.0h0M292.3,874.5h0M294.2,881.0h0M301.8,882.5h0M291.6,881.1h0M307.6,879.3h0M294.9,870.0h0M298.8,890.8h0M302.9,879.5h0M307.4,886.9h0M308.4,874.8h0M285.8,884.2h0M301.0,882.9h0M283.0,884.5h0M313.5,886.6h0M319.4,883.0h0M297.4,889.7h0M305.3,869.2h0M282.3,881.9h0M291.6,889.6h0M310.5,887.1h0M293.3,879.5h0M303.3,878.9h0M302.3,882.1h0M303.2,881.2h0M289.3,866.0h0M284.0,873.3h0M302.3,873.4h0M290.9,883.0h0M302.3,885.7h0M300.2,888.4h0M290.9,886.4h0M283.9,878.5h0M299.9,883.7h0M293.7,877.3h0M285.0,869.1h0M278.4,888.7h0M279.7,872.6h0M281.2,879.1h0M293.6,877.5h0M284.2,879.8h0M283.1,882.2h0M309.5,875.7h0M297.9,877.9h0M341.8,860.6h0M294.2,837.0h0M319.3,864.7h0M314.6,865.0h0M309.7,871.6h0M296.9,852.9h0M294.3,878.0h0M301.1,837.2h0M306.0,847.4h0M318.0,862.0h0M315.1,861.3h0M307.9,865.1h0M296.4,841.1h0M299.6,870.5h0M299.0,834.0h0M331.5,849.5h0M317.2,852.7h0M310.6,837.0h0M315.5,874.4h0M306.0,839.7h0M302.9,856.8h0M307.0,870.7h0M305.6,860.5h0M317.4,879.4h0M314.6,868.5h0M301.2,878.8h0M315.1,844.7h0M299.5,849.6h0M312.6,860.4h0M311.4,875.0h0M302.6,839.2h0M322.3,851.0h0M326.1,859.9h0M295.6,871.9h0M317.3,877.8h0M323.2,875.3h0M312.5,851.6h0M297.6,854.7h0M306.5,840.9h0M334.2,844.0h0M353.5,875.2h0M337.3,878.9h0M340.0,861.9h0M308.1,856.4h0M318.0,872.8h0M307.0,859.2h0M299.8,872.1h0M307.0,876.4h0M302.8,868.3h0M302.5,861.9h0M300.2,841.5h0M344.6,874.6h0M303.1,848.1h0M351.9,879.6h0M342.3,867.7h0M334.3,871.8h0M295.6,832.5h0M335.5,872.2h0M294.0,865.7h0M298.9,856.3h0M300.7,879.0h0M308.5,874.2h0M347.2,870.8h0M313.6,871.0h0M306.8,861.9h0M304.3,855.3h0M298.8,837.4h0M316.1,864.8h0M340.8,869.5h0M313.4,876.5h0M326.1,873.4h0M329.0,861.2h0M325.0,877.5h0M330.2,860.6h0M334.6,853.3h0M319.5,868.2h0M300.7,874.0h0M296.8,874.7h0M324.6,856.2h0M294.2,849.0h0M296.8,872.7h0M318.5,867.3h0M347.3,874.7h0M301.8,863.9h0M313.1,872.2h0M305.7,854.0h0M339.3,861.3h0M319.7,865.3h0M355.9,867.3h0M322.1,872.1h0M337.3,876.6h0M297.9,877.6h0M299.5,876.5h0M333.5,875.8h0M332.1,877.4h0M300.8,870.2h0M295.6,869.7h0M319.4,863.2h0M294.5,866.8h0M305.4,852.5h0M298.3,847.5h0M309.5,879.0h0M327.4,854.8h0M294.7,858.9h0M302.1,840.5h0M315.8,878.3h0M337.3,879.1h0M302.1,874.0h0M353.0,872.0h0M294.5,850.1h0M301.7,848.4h0M354.1,876.0h0M295.9,868.6h0M311.3,868.9h0M278.4,875.5h0M297.7,866.6h0M289.1,878.0h0M288.5,868.3h0M279.7,862.5h0M297.4,876.6h0M280.4,873.6h0M280.6,875.4h0M285.0,874.5h0M288.8,863.5h0M289.7,873.8h0M277.1,862.7h0M282.5,875.0h0M299.4,870.0h0M296.6,874.8h0M282.6,870.0h0M296.3,870.7h0M288.1,875.0h0M279.6,870.3h0M288.5,872.2h0M292.6,866.9h0M287.4,870.3h0M278.5,876.2h0M299.0,872.1h0M285.9,868.6h0M286.9,868.7h0M282.5,879.1h0M284.8,865.8h0M291.8,862.1h0M284.5,872.1h0M295.7,867.5h0M277.3,879.4h0M276.3,869.5h0M288.3,879.8h0M284.5,866.4h0M282.8,868.8h0M279.5,878.2h0M288.3,875.2h0M282.6,874.0h0M297.9,866.1h0M298.9,867.1h0M293.2,879.0h0M287.1,878.8h0M285.5,869.9h0M298.2,872.8h0M277.3,864.7h0M288.8,868.1h0M277.4,876.7h0M283.8,878.3h0M284.8,865.3h0" stroke="#000" stroke-width="0.85" fill="none" stroke-linecap="round"/>
<path d="M298.3,791.4 V904.5" stroke="#111" stroke-width="1.0" fill="none" stroke-dasharray="2.4,1.6"/>
<path d="M257.6,877.5 H393.2" stroke="#111" stroke-width="1.0" fill="none" stroke-dasharray="2.4,1.6"/>
<circle cx="339.90" cy="795.10" r="0.5" fill="#000"/>
<circle cx="330.80" cy="809.50" r="0.5" fill="#000"/>
<circle cx="322.50" cy="827.00" r="0.5" fill="#000"/>
<circle cx="306.00" cy="810.00" r="0.5" fill="#000"/>
<circle cx="304.00" cy="823.00" r="0.5" fill="#000"/>
<circle cx="326.00" cy="834.00" r="0.5" fill="#000"/>
<circle cx="354.00" cy="845.50" r="0.5" fill="#000"/>
<circle cx="352.00" cy="850.50" r="0.5" fill="#000"/>
<circle cx="349.00" cy="861.00" r="0.5" fill="#000"/>
<circle cx="339.00" cy="872.50" r="0.5" fill="#000"/>
<circle cx="327.50" cy="884.00" r="0.5" fill="#000"/>
<circle cx="309.50" cy="891.50" r="0.5" fill="#000"/>
<circle cx="281.30" cy="852.80" r="1.75" fill="#1010ee"/>
<circle cx="342.60" cy="841.90" r="1.75" fill="#1010ee"/>
<circle cx="321.60" cy="872.90" r="1.75" fill="#1010ee"/>
<circle cx="287.90" cy="876.10" r="1.75" fill="#1010ee"/>
<text x="341.60" y="798.00" font-size="7.0" fill="#333">MITF</text>
<text x="306.60" y="808.20" font-size="7.0" fill="#333">PEA15</text>
<text x="335.20" y="813.00" font-size="7.0" fill="#333">SOX10</text>
<text x="302.60" y="821.50" font-size="7.0" fill="#333">CDX2</text>
<text x="317.20" y="830.00" font-size="7.0" fill="#333">LMO2</text>
<text x="328.40" y="837.10" font-size="7.0" fill="#333">TP63</text>
<text x="347.30" y="841.10" font-size="7.0" fill="#333">BRAF</text>
<text x="358.40" y="847.20" font-size="7.0" fill="#333">PAX8</text>
<text x="358.00" y="856.20" font-size="7.0" fill="#333">IRF4</text>
<text x="352.60" y="863.80" font-size="7.0" fill="#333">MYCN</text>
<text x="275.70" y="849.80" font-size="7.0" fill="#333">FLT3</text>
<text x="263.80" y="872.00" font-size="7.0" fill="#333">PTPN11</text>
<text x="325.10" y="872.20" font-size="7.0" fill="#333">KRAS</text>
<text x="329.50" y="885.20" font-size="7.0" fill="#333">VPS4B</text>
<text x="312.30" y="893.20" font-size="7.0" fill="#333">ATP6V0E1</text>
<text x="414.60" y="791.20" font-size="13.2" font-weight="bold" fill="#000" stroke="#000" stroke-width="0.55">k</text>
<path d="M471.9,793.3 V903.1 H579.0" stroke="#7a7a7a" stroke-width="0.8" fill="none"/>
<line x1="468.30" y1="793.70" x2="471.90" y2="793.70" stroke="#7a7a7a" stroke-width="0.8"/>
<text x="464.30" y="796.60" font-size="8.0" text-anchor="end" fill="#383838" textLength="20.82" lengthAdjust="spacingAndGlyphs">2,000</text>
<line x1="468.30" y1="820.50" x2="471.90" y2="820.50" stroke="#7a7a7a" stroke-width="0.8"/>
<text x="464.30" y="823.40" font-size="8.0" text-anchor="end" fill="#383838" textLength="20.82" lengthAdjust="spacingAndGlyphs">1,000</text>
<line x1="468.30" y1="848.60" x2="471.90" y2="848.60" stroke="#7a7a7a" stroke-width="0.8"/>
<text x="464.30" y="851.50" font-size="8.0" text-anchor="end" fill="#383838" textLength="4.63" lengthAdjust="spacingAndGlyphs">0</text>
<line x1="468.30" y1="875.80" x2="471.90" y2="875.80" stroke="#7a7a7a" stroke-width="0.8"/>
<text x="464.30" y="878.70" font-size="8.0" text-anchor="end" fill="#383838" textLength="23.59" lengthAdjust="spacingAndGlyphs">-1,000</text>
<line x1="468.30" y1="903.00" x2="471.90" y2="903.00" stroke="#7a7a7a" stroke-width="0.8"/>
<text x="464.30" y="905.90" font-size="8.0" text-anchor="end" fill="#383838" textLength="23.59" lengthAdjust="spacingAndGlyphs">-2,000</text>
<line x1="475.80" y1="903.10" x2="475.80" y2="906.60" stroke="#7a7a7a" stroke-width="0.8"/>
<text x="475.80" y="916.60" font-size="8.0" text-anchor="middle" fill="#383838" textLength="4.45" lengthAdjust="spacingAndGlyphs">0</text>
<line x1="501.50" y1="903.10" x2="501.50" y2="906.60" stroke="#7a7a7a" stroke-width="0.8"/>
<text x="501.50" y="916.60" font-size="8.0" text-anchor="middle" fill="#383838" textLength="13.35" lengthAdjust="spacingAndGlyphs">500</text>
<line x1="527.30" y1="903.10" x2="527.30" y2="906.60" stroke="#7a7a7a" stroke-width="0.8"/>
<text x="527.30" y="916.60" font-size="8.0" text-anchor="middle" fill="#383838" textLength="20.02" lengthAdjust="spacingAndGlyphs">1,000</text>
<line x1="553.20" y1="903.10" x2="553.20" y2="906.60" stroke="#7a7a7a" stroke-width="0.8"/>
<text x="553.20" y="916.60" font-size="8.0" text-anchor="middle" fill="#383838" textLength="20.02" lengthAdjust="spacingAndGlyphs">1,500</text>
<line x1="579.00" y1="903.10" x2="579.00" y2="906.60" stroke="#7a7a7a" stroke-width="0.8"/>
<text x="579.00" y="916.60" font-size="8.0" text-anchor="middle" fill="#383838" textLength="20.02" lengthAdjust="spacingAndGlyphs">2,000</text>
<path d="M472,848.7 H685" stroke="#888" stroke-width="0.8" fill="none" stroke-dasharray="0.9,1.3"/>
<path d="M475.80,896.00 C475.95,894.68 476.35,890.43 476.70,888.10 C477.05,885.77 477.27,883.90 477.90,882.00 C478.53,880.10 479.48,878.45 480.50,876.70 C481.52,874.95 482.83,872.95 484.00,871.50 C485.17,870.05 485.75,869.47 487.50,868.00 C489.25,866.53 492.17,864.22 494.50,862.70 C496.83,861.18 498.87,860.22 501.50,858.90 C504.13,857.58 507.37,856.07 510.30,854.80 C513.23,853.53 516.18,852.38 519.10,851.30 C522.02,850.22 524.88,849.23 527.80,848.30 C530.72,847.37 533.68,846.65 536.60,845.70 C539.52,844.75 542.38,843.85 545.30,842.60 C548.22,841.35 551.47,839.67 554.10,838.20 C556.73,836.73 558.92,835.42 561.10,833.80 C563.28,832.18 565.45,830.55 567.20,828.50 C568.95,826.45 570.33,824.12 571.60,821.50 C572.87,818.88 574.07,815.28 574.80,812.80 C575.53,810.32 575.65,808.50 576.00,806.60 C576.35,804.70 576.75,802.27 576.90,801.40" stroke="#000" stroke-width="2.0" fill="none" stroke-linecap="round"/>
<rect x="575.60" y="799.50" width="2.70" height="2.70" fill="#ff1010"/>
<rect x="474.80" y="894.80" width="2.00" height="2.20" fill="#2020ff"/>
<rect x="474.80" y="899.60" width="2.00" height="2.00" fill="#2020ff"/>
<line x1="512.00" y1="843.40" x2="526.10" y2="847.50" stroke="#333" stroke-width="0.7"/>
<line x1="533.10" y1="841.70" x2="537.40" y2="844.00" stroke="#333" stroke-width="0.7"/>
<line x1="491.00" y1="887.20" x2="477.00" y2="892.50" stroke="#333" stroke-width="0.7"/>
<line x1="477.00" y1="896.00" x2="587.50" y2="861.80" stroke="#333" stroke-width="0.7"/>
<line x1="477.00" y1="901.20" x2="587.50" y2="893.40" stroke="#333" stroke-width="0.7"/>
<line x1="577.50" y1="801.30" x2="587.50" y2="806.60" stroke="#333" stroke-width="0.7"/>
<line x1="577.50" y1="801.30" x2="587.50" y2="837.30" stroke="#333" stroke-width="0.7"/>
<text x="503.60" y="842.60" font-size="7.4" fill="#333">BRAF</text>
<text x="526.90" y="839.60" font-size="7.4" fill="#333">KRAS</text>
<text x="481.40" y="886.00" font-size="7.4" fill="#333">PTPN11</text>
<text x="529.90" y="889.00" font-size="7.4" fill="#333">TCGA<tspan font-size="4.6" dy="2.2">DEPMAP</tspan></text>
<text x="573.70" y="804.00" font-size="7.4" text-anchor="end" fill="#333">DEPMAP</text>
<text x="426.00" y="850.50" font-size="8.4" text-anchor="middle" textLength="74.00" lengthAdjust="spacingAndGlyphs" transform="rotate(-90 426.00 850.50)">LRT rank difference</text>
<text x="434.20" y="850.50" font-size="8.4" text-anchor="middle" textLength="92.00" lengthAdjust="spacingAndGlyphs" transform="rotate(-90 434.20 850.50)">(TCGA<tspan font-size="5.6" dy="2">DEPMAP</tspan><tspan dy="-2"> −DEPMAP)</tspan></text>
<text x="528.50" y="930.00" font-size="8.4" text-anchor="middle" textLength="123.40" lengthAdjust="spacingAndGlyphs">Selective dependency ranking</text>
<text x="529.40" y="940.90" font-size="8.4" text-anchor="middle" textLength="120.20" lengthAdjust="spacingAndGlyphs">in TCGA<tspan font-size="5.6" dy="2">DEPMAP</tspan><tspan dy="-2"> versus DEPMAP</tspan></text>
<text x="619.00" y="782.50" font-size="7.6" fill="#333" textLength="34.50" lengthAdjust="spacingAndGlyphs">TCGA<tspan font-size="4.0" dy="2.2">DEPMA</tspan></text>
<text x="655.40" y="782.50" font-size="7.6" fill="#333" textLength="28.60" lengthAdjust="spacingAndGlyphs">DEPMAP</text>
<text x="629.20" y="791.10" font-size="7.6" fill="#333">LRT</text>
<text x="664.60" y="791.10" font-size="7.6" fill="#333">LR</text>
<text x="588.50" y="799.90" font-size="7.6" fill="#333">Gene</text>
<text x="629.20" y="799.90" font-size="7.6" fill="#333">rank</text>
<text x="664.60" y="799.90" font-size="7.6" fill="#333">rank</text>
<line x1="585.90" y1="802.30" x2="685.00" y2="802.30" stroke="#444" stroke-width="0.8"/>
<text x="588.30" y="809.70" font-size="7.4" font-style="italic" fill="#333" textLength="34.26" lengthAdjust="spacingAndGlyphs">ATP6V0E1</text>
<text x="628.40" y="809.70" font-size="7.4" fill="#333" textLength="18.52" lengthAdjust="spacingAndGlyphs">1,776</text>
<text x="663.30" y="809.70" font-size="7.4" fill="#333" textLength="8.23" lengthAdjust="spacingAndGlyphs">41</text>
<text x="588.30" y="817.30" font-size="7.4" font-style="italic" fill="#333" textLength="17.58" lengthAdjust="spacingAndGlyphs">STX4</text>
<text x="628.40" y="817.30" font-size="7.4" fill="#333" textLength="18.52" lengthAdjust="spacingAndGlyphs">1,736</text>
<text x="663.30" y="817.30" font-size="7.4" fill="#333" textLength="11.25" lengthAdjust="spacingAndGlyphs">111</text>
<text x="588.30" y="825.00" font-size="7.4" font-style="italic" fill="#333" textLength="13.28" lengthAdjust="spacingAndGlyphs">NF2</text>
<text x="628.40" y="825.00" font-size="7.4" fill="#333" textLength="18.52" lengthAdjust="spacingAndGlyphs">1,722</text>
<text x="663.30" y="825.00" font-size="7.4" fill="#333" textLength="12.35" lengthAdjust="spacingAndGlyphs">171</text>
<text x="588.30" y="832.80" font-size="7.4" font-style="italic" fill="#333" textLength="23.83" lengthAdjust="spacingAndGlyphs">OXSR1</text>
<text x="628.40" y="832.80" font-size="7.4" fill="#333" textLength="17.97" lengthAdjust="spacingAndGlyphs">1,711</text>
<text x="663.30" y="832.80" font-size="7.4" fill="#333" textLength="12.35" lengthAdjust="spacingAndGlyphs">103</text>
<text x="588.30" y="840.40" font-size="7.4" font-style="italic" fill="#333" textLength="22.27" lengthAdjust="spacingAndGlyphs">FOSL2</text>
<text x="628.40" y="840.40" font-size="7.4" fill="#333" textLength="18.52" lengthAdjust="spacingAndGlyphs">1,699</text>
<text x="663.30" y="840.40" font-size="7.4" fill="#333" textLength="12.35" lengthAdjust="spacingAndGlyphs">262</text>
<text x="588.30" y="865.00" font-size="7.4" font-style="italic" fill="#333" textLength="21.36" lengthAdjust="spacingAndGlyphs">UTP11</text>
<text x="628.40" y="865.00" font-size="7.4" fill="#333" textLength="12.35" lengthAdjust="spacingAndGlyphs">217</text>
<text x="663.30" y="865.00" font-size="7.4" fill="#333" textLength="18.52" lengthAdjust="spacingAndGlyphs">1,935</text>
<text x="588.30" y="872.70" font-size="7.4" font-style="italic" fill="#333" textLength="19.53" lengthAdjust="spacingAndGlyphs">HHEX</text>
<text x="628.40" y="872.70" font-size="7.4" fill="#333" textLength="8.23" lengthAdjust="spacingAndGlyphs">73</text>
<text x="663.30" y="872.70" font-size="7.4" fill="#333" textLength="18.52" lengthAdjust="spacingAndGlyphs">1,800</text>
<text x="588.30" y="880.30" font-size="7.4" font-style="italic" fill="#333" textLength="18.36" lengthAdjust="spacingAndGlyphs">MSL1</text>
<text x="628.40" y="880.30" font-size="7.4" fill="#333" textLength="8.23" lengthAdjust="spacingAndGlyphs">71</text>
<text x="663.30" y="880.30" font-size="7.4" fill="#333" textLength="18.52" lengthAdjust="spacingAndGlyphs">1,812</text>
<text x="588.30" y="888.10" font-size="7.4" font-style="italic" fill="#333" textLength="29.30" lengthAdjust="spacingAndGlyphs">GGNBP2</text>
<text x="628.40" y="888.10" font-size="7.4" fill="#333" textLength="12.35" lengthAdjust="spacingAndGlyphs">138</text>
<text x="663.30" y="888.10" font-size="7.4" fill="#333" textLength="18.52" lengthAdjust="spacingAndGlyphs">1,888</text>
<text x="588.30" y="895.90" font-size="7.4" font-style="italic" fill="#333" textLength="15.89" lengthAdjust="spacingAndGlyphs">FLT3</text>
<text x="628.40" y="895.90" font-size="7.4" fill="#333" textLength="8.23" lengthAdjust="spacingAndGlyphs">38</text>
<text x="663.30" y="895.90" font-size="7.4" fill="#333" textLength="18.52" lengthAdjust="spacingAndGlyphs">1,929</text>
</svg></body></html>
